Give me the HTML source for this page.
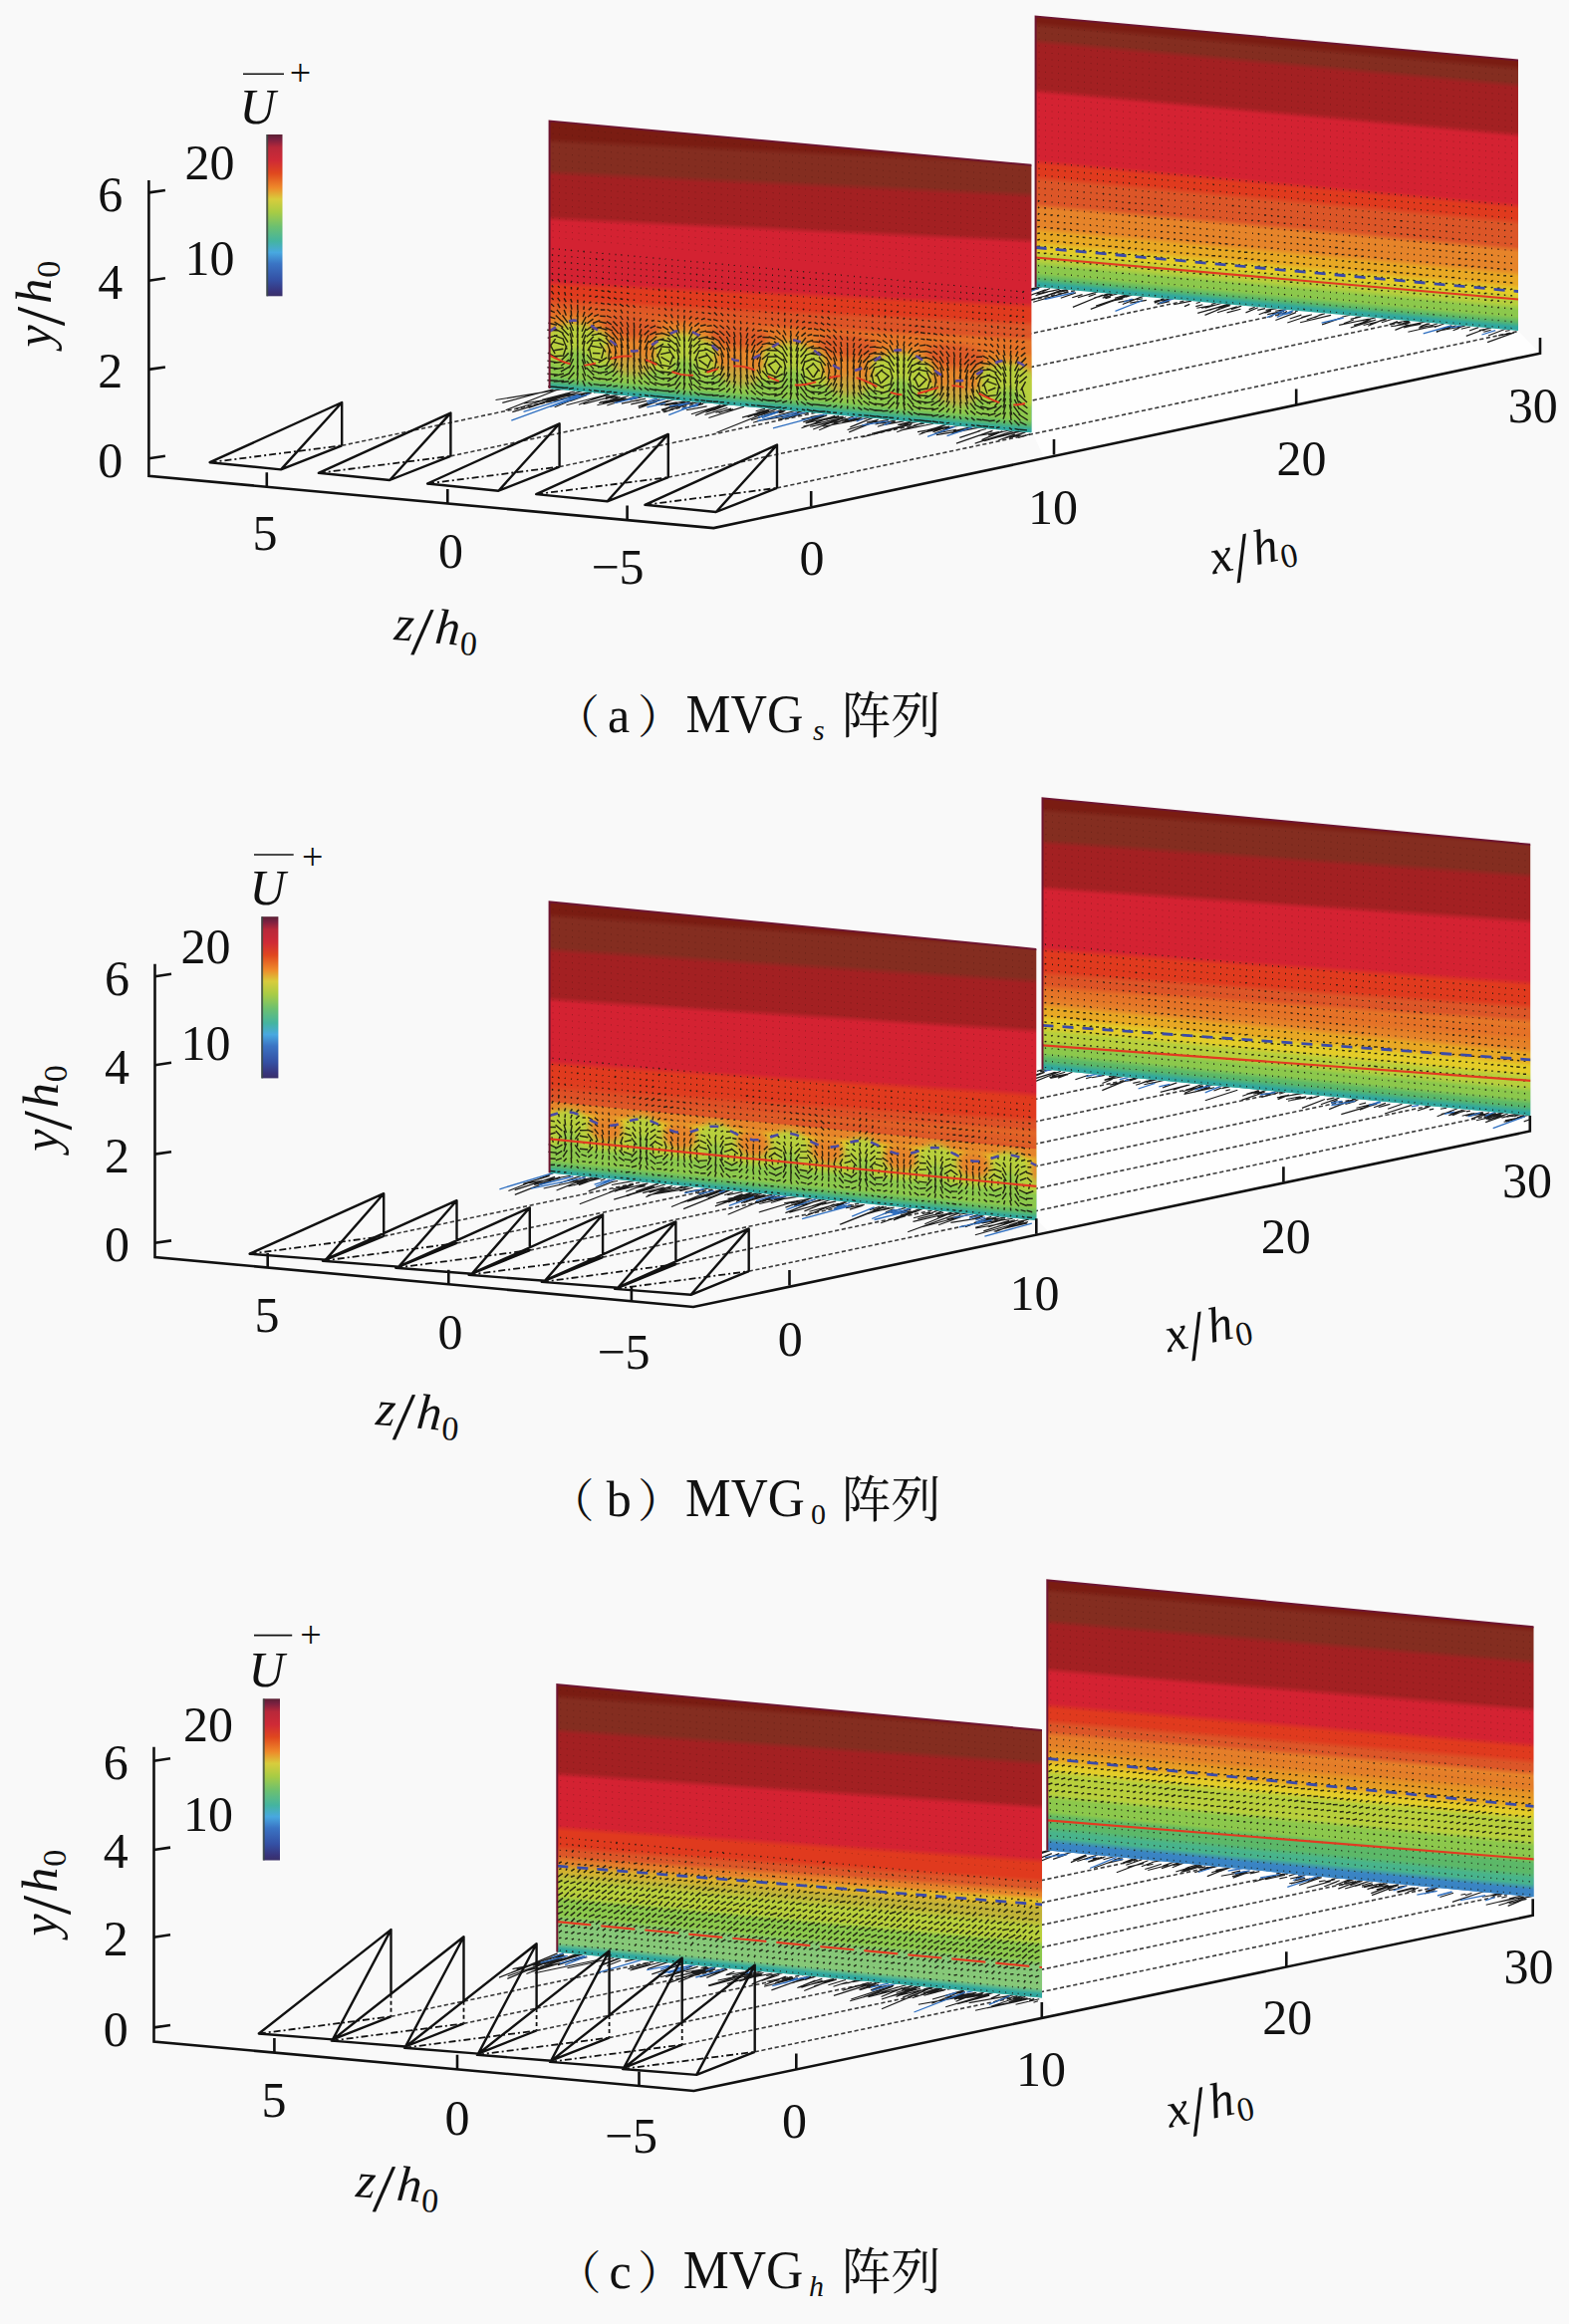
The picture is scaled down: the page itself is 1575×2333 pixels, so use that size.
<!DOCTYPE html>
<html lang="zh"><head><meta charset="utf-8"><title>MVG arrays</title>
<style>
html,body{margin:0;padding:0;background:#f9f9f9}
svg{display:block}
text{font-family:"Liberation Serif","Noto Serif CJK SC",serif;fill:#111}
.ax{stroke:#111;stroke-width:2.6;fill:none;stroke-linejoin:miter}
.mv{stroke:#111;stroke-width:2.4;fill:none;stroke-linejoin:round}
.mh{stroke:#111;stroke-width:1.8;fill:none;stroke-dasharray:4 3}
.md{stroke:#111;stroke-width:1.8;fill:none;stroke-dasharray:7 3 2 3}
.dd{stroke:#3a3a3a;stroke-width:1.6;fill:none;stroke-dasharray:4.2 2.6}
.q{stroke:#15150c;stroke-width:1.45;fill:none;opacity:.9}
.q2{stroke:#40100c;stroke-width:1.1;fill:none;opacity:.35}
.sk{stroke:#1c1c1c;stroke-width:1.15;fill:none}
.sb{stroke:#2f6fc0;stroke-width:1.3;fill:none}
</style></head><body>
<svg width="1575" height="2333" viewBox="0 0 1575 2333">
<rect width="1575" height="2333" fill="#f9f9f9"/>
<defs>
<linearGradient id="ga2" gradientUnits="userSpaceOnUse" x1="0" y1="0" x2="0" y2="271.5"><stop offset="0.000" stop-color="#7a1c12"/><stop offset="0.018" stop-color="#7a1c12"/><stop offset="0.041" stop-color="#842d20"/><stop offset="0.081" stop-color="#842d20"/><stop offset="0.103" stop-color="#a32022"/><stop offset="0.265" stop-color="#a32022"/><stop offset="0.287" stop-color="#d42232"/><stop offset="0.527" stop-color="#d42232"/><stop offset="0.549" stop-color="#e03a1e"/><stop offset="0.586" stop-color="#e03a1e"/><stop offset="0.608" stop-color="#dc5628"/><stop offset="0.689" stop-color="#dc5628"/><stop offset="0.711" stop-color="#e6842a"/><stop offset="0.777" stop-color="#e6842a"/><stop offset="0.799" stop-color="#e8a824"/><stop offset="0.829" stop-color="#e8a824"/><stop offset="0.851" stop-color="#e4cc28"/><stop offset="0.866" stop-color="#e4cc28"/><stop offset="0.888" stop-color="#b8cf3c"/><stop offset="0.902" stop-color="#b8cf3c"/><stop offset="0.924" stop-color="#8cc84c"/><stop offset="0.947" stop-color="#8cc84c"/><stop offset="0.969" stop-color="#5cb868"/><stop offset="0.965" stop-color="#5cb868"/><stop offset="0.987" stop-color="#30a8a0"/><stop offset="1.000" stop-color="#30a8a0"/></linearGradient>
<linearGradient id="ta1" gradientUnits="userSpaceOnUse" x1="0" y1="0" x2="12.2" y2="267.9"><stop offset="0.000" stop-color="#7a1c12"/><stop offset="0.063" stop-color="#7a1c12"/><stop offset="0.086" stop-color="#842d20"/><stop offset="0.182" stop-color="#842d20"/><stop offset="0.205" stop-color="#a32022"/><stop offset="0.354" stop-color="#a32022"/><stop offset="0.376" stop-color="#d42232"/><stop offset="0.596" stop-color="#d42232"/><stop offset="0.618" stop-color="#e03a1e"/><stop offset="0.663" stop-color="#e03a1e"/><stop offset="0.685" stop-color="#dc5628"/><stop offset="0.723" stop-color="#dc5628"/><stop offset="0.745" stop-color="#e6842a"/><stop offset="0.786" stop-color="#e6842a"/><stop offset="0.808" stop-color="#e4cc28"/><stop offset="0.816" stop-color="#e4cc28"/><stop offset="0.838" stop-color="#b8cf3c"/><stop offset="0.883" stop-color="#b8cf3c"/><stop offset="0.905" stop-color="#8cc84c"/><stop offset="0.950" stop-color="#8cc84c"/><stop offset="0.972" stop-color="#5cb868"/><stop offset="0.968" stop-color="#5cb868"/><stop offset="0.991" stop-color="#30a8a0"/><stop offset="1.000" stop-color="#30a8a0"/></linearGradient>
<linearGradient id="ga1" gradientUnits="userSpaceOnUse" x1="0" y1="0" x2="0" y2="268.5"><stop offset="0.626" stop-color="#e03a1e" stop-opacity="0"/><stop offset="0.745" stop-color="#e6842a" stop-opacity="1"/><stop offset="0.786" stop-color="#e6842a"/><stop offset="0.808" stop-color="#e4cc28"/><stop offset="0.816" stop-color="#e4cc28"/><stop offset="0.838" stop-color="#b8cf3c"/><stop offset="0.883" stop-color="#b8cf3c"/><stop offset="0.905" stop-color="#8cc84c"/><stop offset="0.950" stop-color="#8cc84c"/><stop offset="0.972" stop-color="#5cb868"/><stop offset="0.968" stop-color="#5cb868"/><stop offset="0.991" stop-color="#30a8a0"/><stop offset="1.000" stop-color="#30a8a0"/></linearGradient>
<linearGradient id="tb2" gradientUnits="userSpaceOnUse" x1="0" y1="0" x2="7.2" y2="271.8"><stop offset="0.000" stop-color="#7a1c12"/><stop offset="0.033" stop-color="#7a1c12"/><stop offset="0.055" stop-color="#842d20"/><stop offset="0.151" stop-color="#842d20"/><stop offset="0.173" stop-color="#a32022"/><stop offset="0.320" stop-color="#a32022"/><stop offset="0.342" stop-color="#d42232"/><stop offset="0.548" stop-color="#d42232"/><stop offset="0.570" stop-color="#e03a1e"/><stop offset="0.636" stop-color="#e03a1e"/><stop offset="0.658" stop-color="#dc5628"/><stop offset="0.688" stop-color="#dc5628"/><stop offset="0.710" stop-color="#e6842a"/><stop offset="0.754" stop-color="#e6842a"/><stop offset="0.776" stop-color="#e8a824"/><stop offset="0.798" stop-color="#e8a824"/><stop offset="0.820" stop-color="#e4cc28"/><stop offset="0.842" stop-color="#e4cc28"/><stop offset="0.864" stop-color="#b8cf3c"/><stop offset="0.893" stop-color="#b8cf3c"/><stop offset="0.915" stop-color="#8cc84c"/><stop offset="0.938" stop-color="#8cc84c"/><stop offset="0.960" stop-color="#5cb868"/><stop offset="0.967" stop-color="#5cb868"/><stop offset="0.989" stop-color="#30a8a0"/><stop offset="1.000" stop-color="#30a8a0"/></linearGradient>
<linearGradient id="gb2" gradientUnits="userSpaceOnUse" x1="0" y1="0" x2="0" y2="272"><stop offset="0.643" stop-color="#e03a1e" stop-opacity="0"/><stop offset="0.754" stop-color="#e6842a" stop-opacity="1"/><stop offset="0.776" stop-color="#e8a824"/><stop offset="0.798" stop-color="#e8a824"/><stop offset="0.820" stop-color="#e4cc28"/><stop offset="0.842" stop-color="#e4cc28"/><stop offset="0.864" stop-color="#b8cf3c"/><stop offset="0.893" stop-color="#b8cf3c"/><stop offset="0.915" stop-color="#8cc84c"/><stop offset="0.938" stop-color="#8cc84c"/><stop offset="0.960" stop-color="#5cb868"/><stop offset="0.967" stop-color="#5cb868"/><stop offset="0.989" stop-color="#30a8a0"/><stop offset="1.000" stop-color="#30a8a0"/></linearGradient>
<linearGradient id="tb1" gradientUnits="userSpaceOnUse" x1="0" y1="0" x2="8.9" y2="271.7"><stop offset="0.000" stop-color="#7a1c12"/><stop offset="0.040" stop-color="#7a1c12"/><stop offset="0.062" stop-color="#842d20"/><stop offset="0.165" stop-color="#842d20"/><stop offset="0.188" stop-color="#a32022"/><stop offset="0.349" stop-color="#a32022"/><stop offset="0.371" stop-color="#d42232"/><stop offset="0.585" stop-color="#d42232"/><stop offset="0.607" stop-color="#e03a1e"/><stop offset="0.680" stop-color="#e03a1e"/><stop offset="0.702" stop-color="#dc5628"/><stop offset="0.717" stop-color="#dc5628"/><stop offset="0.739" stop-color="#e6842a"/><stop offset="0.761" stop-color="#e6842a"/><stop offset="0.783" stop-color="#e4cc28"/><stop offset="0.790" stop-color="#e4cc28"/><stop offset="0.812" stop-color="#b8cf3c"/><stop offset="0.886" stop-color="#b8cf3c"/><stop offset="0.908" stop-color="#8cc84c"/><stop offset="0.952" stop-color="#8cc84c"/><stop offset="0.974" stop-color="#5cb868"/><stop offset="0.971" stop-color="#5cb868"/><stop offset="0.993" stop-color="#30a8a0"/><stop offset="1.000" stop-color="#30a8a0"/></linearGradient>
<linearGradient id="gb1" gradientUnits="userSpaceOnUse" x1="0" y1="0" x2="0" y2="272"><stop offset="0.625" stop-color="#e03a1e" stop-opacity="0"/><stop offset="0.735" stop-color="#dc5628" stop-opacity="1"/><stop offset="0.739" stop-color="#e6842a"/><stop offset="0.761" stop-color="#e6842a"/><stop offset="0.783" stop-color="#e4cc28"/><stop offset="0.790" stop-color="#e4cc28"/><stop offset="0.812" stop-color="#b8cf3c"/><stop offset="0.886" stop-color="#b8cf3c"/><stop offset="0.908" stop-color="#8cc84c"/><stop offset="0.952" stop-color="#8cc84c"/><stop offset="0.974" stop-color="#5cb868"/><stop offset="0.971" stop-color="#5cb868"/><stop offset="0.993" stop-color="#30a8a0"/><stop offset="1.000" stop-color="#30a8a0"/></linearGradient>
<linearGradient id="tc2" gradientUnits="userSpaceOnUse" x1="0" y1="0" x2="3.9" y2="270.9"><stop offset="0.000" stop-color="#7a1c12"/><stop offset="0.026" stop-color="#7a1c12"/><stop offset="0.048" stop-color="#842d20"/><stop offset="0.144" stop-color="#842d20"/><stop offset="0.166" stop-color="#a32022"/><stop offset="0.321" stop-color="#a32022"/><stop offset="0.343" stop-color="#d42232"/><stop offset="0.454" stop-color="#d42232"/><stop offset="0.476" stop-color="#e03a1e"/><stop offset="0.513" stop-color="#e03a1e"/><stop offset="0.535" stop-color="#dc5628"/><stop offset="0.557" stop-color="#dc5628"/><stop offset="0.579" stop-color="#e6842a"/><stop offset="0.624" stop-color="#e6842a"/><stop offset="0.646" stop-color="#e8a824"/><stop offset="0.664" stop-color="#e8a824"/><stop offset="0.686" stop-color="#e4cc28"/><stop offset="0.697" stop-color="#e4cc28"/><stop offset="0.720" stop-color="#b8cf3c"/><stop offset="0.790" stop-color="#b8cf3c"/><stop offset="0.812" stop-color="#8cc84c"/><stop offset="0.856" stop-color="#8cc84c"/><stop offset="0.878" stop-color="#5cb868"/><stop offset="0.911" stop-color="#5cb868"/><stop offset="0.934" stop-color="#48b48c"/><stop offset="0.952" stop-color="#48b48c"/><stop offset="0.974" stop-color="#3a84c4"/><stop offset="1.000" stop-color="#3a84c4"/></linearGradient>
<linearGradient id="gc2" gradientUnits="userSpaceOnUse" x1="0" y1="0" x2="0" y2="271"><stop offset="0.554" stop-color="#dc5628" stop-opacity="0"/><stop offset="0.664" stop-color="#e8a824" stop-opacity="1"/><stop offset="0.686" stop-color="#e4cc28"/><stop offset="0.697" stop-color="#e4cc28"/><stop offset="0.720" stop-color="#b8cf3c"/><stop offset="0.790" stop-color="#b8cf3c"/><stop offset="0.812" stop-color="#8cc84c"/><stop offset="0.856" stop-color="#8cc84c"/><stop offset="0.878" stop-color="#5cb868"/><stop offset="0.911" stop-color="#5cb868"/><stop offset="0.934" stop-color="#48b48c"/><stop offset="0.952" stop-color="#48b48c"/><stop offset="0.974" stop-color="#3a84c4"/><stop offset="1.000" stop-color="#3a84c4"/></linearGradient>
<linearGradient id="tc1" gradientUnits="userSpaceOnUse" x1="0" y1="0" x2="7.2" y2="268.3"><stop offset="0.000" stop-color="#7a1c12"/><stop offset="0.034" stop-color="#7a1c12"/><stop offset="0.056" stop-color="#842d20"/><stop offset="0.160" stop-color="#842d20"/><stop offset="0.182" stop-color="#a32022"/><stop offset="0.324" stop-color="#a32022"/><stop offset="0.346" stop-color="#d42232"/><stop offset="0.525" stop-color="#d42232"/><stop offset="0.547" stop-color="#e03a1e"/><stop offset="0.600" stop-color="#e03a1e"/><stop offset="0.622" stop-color="#dc5628"/><stop offset="0.637" stop-color="#dc5628"/><stop offset="0.659" stop-color="#e6842a"/><stop offset="0.667" stop-color="#e6842a"/><stop offset="0.689" stop-color="#e4cc28"/><stop offset="0.700" stop-color="#e4cc28"/><stop offset="0.723" stop-color="#b8cf3c"/><stop offset="0.786" stop-color="#b8cf3c"/><stop offset="0.808" stop-color="#8cc84c"/><stop offset="0.860" stop-color="#8cc84c"/><stop offset="0.883" stop-color="#86c878"/><stop offset="0.965" stop-color="#86c878"/><stop offset="0.987" stop-color="#30a8a0"/><stop offset="1.000" stop-color="#30a8a0"/></linearGradient>
<linearGradient id="gc1" gradientUnits="userSpaceOnUse" x1="0" y1="0" x2="0" y2="268.5"><stop offset="0.633" stop-color="#dc5628" stop-opacity="0"/><stop offset="0.737" stop-color="#b8cf3c" stop-opacity="1"/><stop offset="0.786" stop-color="#b8cf3c"/><stop offset="0.808" stop-color="#8cc84c"/><stop offset="0.860" stop-color="#8cc84c"/><stop offset="0.883" stop-color="#86c878"/><stop offset="0.965" stop-color="#86c878"/><stop offset="0.987" stop-color="#30a8a0"/><stop offset="1.000" stop-color="#30a8a0"/></linearGradient>
<filter id="bl" x="-30%" y="-30%" width="160%" height="160%"><feGaussianBlur stdDeviation="3.2"/></filter>
<filter id="bl2" x="-30%" y="-30%" width="160%" height="160%"><feGaussianBlur stdDeviation="1.6"/></filter>
<clipPath id="cpa1"><rect width="483.8" height="268.5"/></clipPath>
<clipPath id="cpb1"><rect width="488.7" height="272"/></clipPath>
<clipPath id="cpc1"><rect width="486.7" height="268.5"/></clipPath>
<linearGradient id="cb" x1="0" y1="0" x2="0" y2="1"><stop offset="0.00" stop-color="#5a2034"/><stop offset="0.03" stop-color="#7a2040"/><stop offset="0.08" stop-color="#b8283a"/><stop offset="0.16" stop-color="#cf2a36"/><stop offset="0.24" stop-color="#e0481e"/><stop offset="0.33" stop-color="#ee8a2a"/><stop offset="0.40" stop-color="#d8cc3c"/><stop offset="0.48" stop-color="#a8cc44"/><stop offset="0.57" stop-color="#6cc070"/><stop offset="0.66" stop-color="#44b4a0"/><stop offset="0.73" stop-color="#48a8e0"/><stop offset="0.80" stop-color="#3a74c4"/><stop offset="0.90" stop-color="#3450a4"/><stop offset="0.97" stop-color="#38347c"/><stop offset="1.00" stop-color="#3a3068"/></linearGradient>
</defs>
<g id="panel-a">
<polygon points="1036.4,284 1039.6,288 1524,332 1546,354.7 1048.4,459.9 1036.4,434.3" fill="#fefefe"/>
<path d="M343.2 447.3 L1079.6 291.6" class="dd"/>
<path d="M452.4 457.9 L1191.2 301.8" class="dd"/>
<path d="M561.6 468.6 L1302.8 311.9" class="dd"/>
<path d="M670.8 479.2 L1414.4 322" class="dd"/>
<path d="M780 489.9 L1524 332.6" class="dd"/>
<path d="M1046 287.7l-11 2.6M1511.8 330l-17.9 7M1173 301.9l-6.6 1.8M1116.5 294.6l-8.8 2.9M1262.8 308.8l-12.3 5.1M1043.2 289.4l-12.7 2.9M1323 317.3l-3.4 1.4M1438.9 326.3l-14.6 2.6M1449.5 325l-9.6 3.5M1306.4 316.1l-11.7 3.9M1132.9 296l-32.8 11M1231.7 305.6l-13.4 4.1M1218.3 306.7l-8.3 2.6M1358.9 321l-10.2 3.8M1415.6 323.6l-5.8 1.8M1391.7 320.8l-23.1 5.7M1071.1 290.5l-8.4 1.7M1372.6 322.2l-13.3 4.4M1220.7 303.9l-4.8 1.6M1115 298.1l-5.5 1.5M1146.9 299.7l-6 1.3M1461.7 326.7l-9.7 3.3M1281.7 309.6l-11.1 1.8M1049.6 290.8l-25.5 9.3M1174 302.8l-11.8 2.5M1235.4 305.6l-6.2 2.1M1058.6 291.6l-17.9 3.1M1207.3 305.8l-7 1.8M1368.4 317.2l-8 1.4M1072.2 291.5l-13.7 2.7M1068.5 291.5l-10.5 2.5M1470.3 326.8l-6.2 2.3M1438.5 327.5l-25.1 5.7M1470.7 327.3l-28.8 5.2M1496.7 331.3l-7.4 2M1355.1 316.3l-8 1.9M1420.4 325.3l-3.7 0.7M1476 328l-9.2 2.2M1233.6 306.5l-24.1 9.9M1515.6 331.5l-4.5 1M1042.6 288.3l-15.8 3.3M1234 304.8l-19.5 6.4M1064.7 291.6l-20.5 7.2M1457.4 326.9l-15.6 6.5M1374.1 320.4l-12.6 2.3M1453.5 328.3l-4.9 1.4M1373.3 320.3l-29.2 6.1M1131.7 295.5l-12.7 3.8M1176.5 299.8l-18.1 3.1M1227.7 307.1l-25.5 7.3M1422.3 325.8l-13.2 3.2M1381.2 321l-25.4 8M1063.6 290.4l-12.2 2.6M1213.6 307.7l-7.5 1.6M1285.7 312.7l-8.5 3.5M1517.6 334.2l-13.5 2.7M1112.1 294.8l-9.6 3.5M1520 333.9l-26.9 9.7M1195.9 302.1l-17.7 3.7M1148.8 296.9l-22 8.6M1106.9 296l-30 12.4M1402.9 322.6l-8.2 3.3M1221.7 305.8l-20.4 3.5M1487.4 331.5l-15.6 5.9M1415.7 321.5l-21 3.7M1229.5 307.1l-6.8 2.1M1275.9 312.3l-6.3 1.9M1060.5 293.9l-28.7 8.1M1070.2 291.1l-10.6 2M1336.1 316.4l-31 7.3M1133.5 296.7l-21.9 7.3M1102 292.9l-20.1 5.8M1121.4 295.3l-7.8 1.3M1125.9 298.7l-31.1 11.7M1292.1 312.6l-5.8 2.4M1443.1 324.8l-6.1 1.9M1194.2 305.4l-5.3 2.2M1412.1 325.2l-15.9 2.6M1241.8 307.7l-19.9 6.1M1072.2 292.9l-35 10.3M1259.7 308.3l-6 2.3M1235.1 305.1l-9.2 3.9M1270 309.6l-7.7 1.8M1080 293.9l-15.2 5.4M1426.3 325.4l-11.3 2.1M1168.4 300.3l-9.4 3.8M1496.9 329.3l-12.1 2.3M1168.4 299.5l-3.6 1.3M1329.9 314.8l-18.2 6.2M1464.7 329.4l-6.1 2.4M1327.6 315.2l-4.1 1.3M1433.4 324.7l-7.9 3.2M1377.4 322.1l-18.3 4.2M1422.4 325.1l-9 2.1M1150.9 301.4l-16.6 2.7M1316.9 315.8l-24.6 8.2M1375.9 320.7l-7.9 2.5M1121 295l-14.3 4.1M1138 300.5l-15.5 3.1M1366.2 318l-10.5 2.4M1234.7 306.7l-13.9 4.6M1416.6 325.9l-6.8 2.2M1287.2 314.4l-4.1 1M1204.8 303.3l-4.1 1.2M1289.1 312.1l-16.9 3.5M1052.3 292.9l-12.7 3.6M1398.7 320l-11.9 3.8M1387.7 321l-12.6 5M1226.9 304.2l-10.5 3M1136.6 296l-6.5 2.2M1100.2 295l-7.5 2.6M1245.5 310.3l-13.9 3.6M1114.7 294.3l-16.4 4.7M1414.7 322.6l-14.2 4.6M1286.8 313.3l-5.2 1.3M1054.1 289.5l-7.7 3.1M1229.6 308.5l-3.7 1.1M1413.7 325.9l-13.3 5.5M1380.7 318.9l-8 1.9M1484.2 328.6l-9.2 3.4M1435.3 324.9l-7.7 2M1495.2 328.9l-7.2 3M1164.2 301.4l-5 0.9M1290.8 310.6l-10.6 1.7M1431.2 322.8l-13.2 3.1M1391.3 319.8l-18.1 7.5M1346.9 318.9l-19.8 7M1173.5 300.3l-12.2 5M1276.2 311.2l-12.5 4.5M1428.8 323.5l-5.1 1.5M1127.4 299.9l-14.4 2.7M1445.5 326.8l-21.3 3.5M1246.2 307.1l-10.3 3.6M1315 316.2l-8.8 2.3M1301.1 313.6l-20.7 7.9M1086.5 295.6l-10.3 3.1" class="sk"/><path d="M1456.5 327l-27.8 7.8M1289.8 313.5l-6 1.9M1136.6 300l-8.5 3.1M1348.7 319l-22.1 5.2M1042.4 289.5l-31.2 12.4M1501.2 331.7l-13.7 4.3M1078.6 293.5l-30 7.2M1178.2 299.9l-14.4 4.5M1459.2 328.2l-3.4 0.6M1146.9 301.5l-27.4 10.9M1292.5 310.2l-20.9 8.5M1470 326.2l-10.6 2.4M1296.4 313.9l-7.1 1.7M1298.4 311.6l-16.6 6.8" class="sb"/>
<g transform="matrix(1 0.09083 0 1 1039.6 16.5)">
<rect width="484.4" height="271.5" fill="url(#ga2)"/>
<path d="M3 269.5h.9M9.7 270l-0.3 -0.9M16 269.5h.9M22.5 269.5h.9M29 269.5h.9M35.5 269.5h.9M42 269.5h.9M48.5 269.5h.9M55 269.5h.9M61.5 269.5h.9M68 269.5h.9M74 269.6l0.9 -0.2M81 269.5h.9M87.1 269.1l0.9 0.8M94 269.5h.9M100.2 269.2l0.6 0.5M107 269.5h.9M113.5 269.5h.9M119.6 270l0.8 -1.1M126.5 269.5h.9M133.1 269l-0.2 1.1M139.5 269.5h.9M146 269.5h.9M152.6 269.1l-0.3 0.8M158.7 269.7l0.7 -0.4M165.5 269.5h.9M172 269.5h.9M178.5 269.5h.9M185 269.5h.9M191.1 269.6l0.8 -0.2M197.7 269.8l0.7 -0.7M204.5 269.5h.9M211.2 269.1l-0.4 0.8M217.2 269.2l0.6 0.5M224 269.5h.9M230.5 269.5h.9M236.6 269.6l0.8 -0.2M243.5 269.5h.9M250 269.5h.9M256.5 269.5h.9M263 269.5h.9M268.8 269l1.4 1M276 269.5h.9M282.5 269.5h.9M289 269.5h.9M295.5 269.5h.9M301.8 269.9l0.4 -0.8M308.5 269.5h.9M315 269.5h.9M321.2 269.1l0.6 0.9M327.9 269.8l0.3 -0.6M334.4 269.1l0.3 0.8M341 269.5h.9M347.1 269.6l0.8 -0.3M354 269.5h.9M360.2 269.8l0.5 -0.5M367 269.5h.9M373.8 269.3l-0.6 0.5M379.7 269.9l0.5 -0.7M386.5 269.5h.9M393 269.5h.9M399.1 269.2l0.7 0.7M405.8 269.8l0.4 -0.7M412.7 269.1l-0.4 0.8M419 269.5h.9M425.5 269.5h.9M432 269.5h.9M438.5 269.5h.9M445 269.5h.9M451.7 269l-0.4 1M458 269.5h.9M464.5 269.5h.9M471 269.5h.9M477.2 269.8l0.5 -0.6M3 263h.9M9 263.1l0.9 -0.2M15.7 263.4l0.7 -0.7M22.5 263h.9M29 263h.9M35.2 263.6l0.6 -1.1M42 263h.9M48.1 263l0.8 -0.1M55 263h.9M61.2 262.7l0.7 0.6M67.5 263.4l1 -0.8M74.5 263h.9M81 263h.9M87.5 263h.9M94 263h.9M100.5 263h.9M106.5 263.2l1.1 -0.4M113.5 263h.9M119.5 263.4l1 -0.9M126 263.1l1 -0.1M133 263h.9M139.5 263h.9M146 263h.9M152.5 263h.9M159 263h.9M165.5 263h.9M172 263h.9M178.5 263h.9M185.2 262.6l-0.4 0.8M191.5 263h.9M198 263h.9M204.4 263.4l0.1 -0.8M211 263h.9M217.5 263h.9M224 263h.9M230.5 263h.9M237 263h.9M243.5 263h.9M250 263h.9M256.5 263h.9M263 263h.9M269 262.8l0.9 0.4M276 263h.9M282.5 263.4l0 -0.8M289 263h.9M295 263.2l0.9 -0.3M301.9 262.6l0.2 0.9M308.2 263.4l0.6 -0.8M315 263h.9M321.5 263h.9M328.3 263.1l-0.7 -0.2M334.5 263h.9M341 263h.9M347.1 262.8l0.9 0.4M354 263h.9M360.5 263h.9M367 263h.9M373.5 263h.9M379.6 263l0.7 -0.1M386.5 263h.9M393 263h.9M398.9 262.8l1.2 0.4M406 263h.9M412.5 263h.9M419 263h.9M425.5 263h.9M431.5 262.9l0.9 0.3M438.5 263h.9M444.6 263l0.7 0M451.3 262.6l0.4 0.7M458 263h.9M464.1 262.7l0.9 0.6M471 263h.9M476.9 263.1l1.2 -0.1M3.3 256.2l-0.5 0.6M9.5 256.5h.9M15.7 256.8l0.5 -0.5M22.2 256.4l0.6 0.3M29 256.5h.9M35.5 256.5h.9M42 256.5h.9M48.5 256.5h.9M54.8 256.9l0.4 -0.7M61.5 256.5h.9M68 256.5h.9M74.5 256.5h.9M81 256.5h.9M87.3 256.9l0.4 -0.8M94 256.5h.9M100.5 256.5h.9M106.4 256.3l1.3 0.4M113.1 256.8l0.8 -0.5M120 256.5h.9M126.5 256.5h.9M133 256.5h.9M139.2 256.2l0.6 0.6M146 256.5h.9M152.5 256.5h.9M158.6 256.6l0.7 -0.3M165.5 256.5h.9M172 256.5h.9M178.5 256.5h.9M185 256.5h.9M191.5 256.5h.9M198 256.5h.9M204.1 256.4l0.7 0.2M211 256.5h.9M217.5 256.5h.9M223.8 256.8l0.4 -0.7M230.5 256.5h.9M236.6 256.5l0.8 0M243.5 256.5h.9M249.8 257.1l0.3 -1.3M256.5 256.5h.9M263 256.5h.9M269.5 256.5h.9M275.4 256.8l1.2 -0.5M282.5 256.5h.9M289 256.5h.9M295.5 256.5h.9M302 256.5h.9M308.5 256.5h.9M314.7 256.8l0.6 -0.6M321 256.5l1 0M328 256.5h.9M334 256.6l0.9 -0.1M340.6 256.4l0.8 0.3M347.5 256.5h.9M354 256.5h.9M360.5 256.5h.9M367 256.5h.9M373.1 256.7l0.8 -0.3M380 256.5h.9M386.5 256.5h.9M392.4 256.2l1.1 0.6M399.5 256.5h.9M406 256.5h.9M412.5 256.5h.9M419 256.5h.9M425.5 256.5h.9M432 256.5h.9M438.2 256.3l0.6 0.5M445 256.5h.9M451.5 256.5h.9M458 256.5h.9M464.5 256.5h.9M471 256.5h.9M477.5 256.5h.9M2.5 250.2l1 -0.5M9.1 250.1l0.8 -0.2M15.4 250.3l1.2 -0.5M22.1 249.6l0.8 0.9M28.5 250.3l1 -0.5M34.8 250.1l1.5 -0.1M41.3 249.4l1.4 1.2M48.1 250l0.8 0M54.1 250.1l1.8 -0.1M60.5 250.1l2 -0.2M67.6 250l0.8 0M74.2 250.1l0.6 -0.3M80.5 249.9l1 0.2M86.6 250.3l1.7 -0.7M93.6 250.2l0.9 -0.5M100 250l0.9 0M107 250h.9M112.6 250.5l1.7 -0.9M119.5 250.1l1 -0.1M125.8 249.9l1.5 0.1M132.3 249.8l1.3 0.4M138.9 250.3l1.2 -0.5M145.3 250.4l1.4 -0.9M151.8 250l1.5 0M158.8 249.6l0.4 0.7M165.5 250h.9M171.6 250.7l0.8 -1.4M177.9 250.2l1.2 -0.4M184.5 250.1l1 -0.2M190.9 250.4l1.1 -0.7M197.5 250.3l1 -0.6M203.7 250.2l1.6 -0.3M210.4 250.2l1.3 -0.4M216.8 250.3l1.5 -0.6M223.5 250.4l1.1 -0.7M229.8 250.2l1.5 -0.3M236.7 250.5l0.5 -1M242.9 250.3l1.1 -0.5M249.4 250.1l1.1 -0.1M256.5 250h.9M262.5 250.2l1 -0.4M269 250.1l0.9 -0.2M275.3 250.1l1.3 -0.2M282.1 250.2l0.8 -0.4M288.5 249.9l0.9 0.2M295.5 250h.9M301.6 249.7l0.8 0.7M308.5 250h.9M314.6 250.1l0.8 -0.2M320.9 249.9l1.2 0.2M327.2 250.2l1.6 -0.4M334.5 250h.9M340.7 250.2l0.6 -0.5M346.7 249.8l1.7 0.3M353.5 249.9l1 0.2M360.5 250h.9M366.3 250l1.3 0.1M373.1 249.9l0.8 0.3M379.6 250.1l0.7 -0.1M386 250.3l0.9 -0.5M392.5 250.1l1.1 -0.2M399 250.2l1.1 -0.5M405.4 249.8l1.3 0.3M412 250.2l1 -0.4M418.6 249.8l0.7 0.3M425.5 250h.9M431.5 250.1l0.9 -0.2M437.9 249.7l1.2 0.5M444.4 250.3l1.2 -0.6M450.5 250.1l2.1 -0.1M457.4 249.8l1.3 0.5M463.8 250.4l1.4 -0.9M470.5 250l1.1 0M476.7 249.9l1.6 0.2M1.8 243.5l2.3 0M8.6 243.8l1.8 -0.5M15.2 243.6l1.7 -0.1M21.9 244l1.1 -0.9M28.1 243.5l1.7 0M35 243.8l1 -0.6M40.9 243.6l2.1 -0.3M47.8 243.8l1.4 -0.5M54.1 243.9l1.8 -0.8M60.7 243.5l1.5 0M67.2 243.4l1.6 0.2M73.9 243.6l1.2 -0.1M80.2 243.7l1.6 -0.4M87 243.6l1.1 -0.2M92.8 243.3l2.5 0.3M99.7 243.6l1.5 -0.2M106 243.5l1.9 -0.1M112.2 243.6l2.6 -0.2M119.1 243.7l1.8 -0.4M125.4 243.8l2.2 -0.5M132.5 243.7l1.1 -0.4M138.8 243.9l1.4 -0.8M145.1 243.7l1.8 -0.5M151.7 243.5l1.6 0M158 243.8l2 -0.7M164.3 243.6l2.5 -0.2M171 243.4l2 0.1M177.6 243.7l1.8 -0.3M184.4 243.5l1.1 -0.1M190.7 243.6l1.6 -0.3M197.3 243.6l1.4 -0.3M203.7 243.6l1.6 -0.2M210.6 243.7l0.9 -0.4M216.3 243.7l2.3 -0.3M223.2 243.5l1.7 0M229.8 243.5l1.3 0M236.4 243.7l1.1 -0.4M242.9 243.7l1.3 -0.5M249.1 243.4l1.7 0.3M255.2 243.6l2.6 -0.2M262.1 243.6l1.7 -0.1M268.9 243.6l1.2 -0.3M275.1 243.2l1.8 0.5M281.7 243.7l1.6 -0.4M287.8 243.3l2.3 0.5M294.8 243.9l1.3 -0.8M301.4 243.8l1.3 -0.6M307.9 243.5l1.2 0.1M314.1 243.6l1.9 -0.2M320.9 243.7l1.1 -0.4M327 243.7l2 -0.3M333.3 243.4l2.5 0.1M339.9 243.7l2.2 -0.5M346.5 243.8l1.9 -0.6M353.3 243.6l1.5 -0.2M360 243.5l1.1 0M366.3 243.9l1.3 -0.7M372.8 243.7l1.4 -0.4M379.2 244.1l1.6 -1.3M385.8 243.5l1.3 0.1M392 243.3l1.9 0.4M398.7 243.5l1.7 0.1M405.3 243.6l1.3 -0.3M411.3 243.9l2.5 -0.7M418 243.8l2 -0.6M424.6 243.6l1.8 -0.1M431.2 243.7l1.7 -0.3M437.6 243.9l1.8 -0.7M444.4 243.4l1.1 0.2M450.4 243.5l2.2 0.1M457 244.2l2 -1.5M463.5 243.7l2 -0.4M470.3 243.7l1.5 -0.4M476.5 244.3l1.9 -1.5M1.8 237.2l2.4 -0.4M8.2 237.2l2.6 -0.5M14.7 237.3l2.5 -0.6M21.5 237.4l2.1 -0.8M28 237.1l1.9 -0.1M34.5 237.2l2 -0.4M41.1 237.3l1.9 -0.7M47.4 237.2l2.2 -0.5M54 237.2l1.9 -0.4M60.3 237.1l2.4 -0.2M67 237.2l2 -0.5M73.4 237.1l2.2 -0.2M79.7 237.3l2.5 -0.6M86 237l2.9 0M93.2 237.3l1.7 -0.6M99 237.4l2.9 -0.9M105.9 237.1l2.2 -0.2M112.4 237.1l2.3 -0.3M119.1 237.3l1.8 -0.5M125.6 237.2l1.8 -0.3M132.1 237.2l1.8 -0.3M138.4 237.2l2.2 -0.4M144.9 237l2.1 0.1M151.8 237.2l1.4 -0.3M158 237.3l2 -0.6M164.8 237.4l1.4 -0.7M171 237l1.9 0.1M177.6 237.1l1.7 -0.2M183.7 237.1l2.5 -0.2M190.4 237l2.2 -0.1M197.2 237.1l1.5 -0.2M203.8 237.2l1.4 -0.4M210 237.6l2 -1.2M216.5 237.5l1.9 -0.9M222.8 237.4l2.4 -0.8M229.4 237.2l2.2 -0.4M235.8 237.5l2.4 -0.9M242.6 236.9l1.8 0.1M249 236.9l1.9 0.2M255.5 237.1l2 -0.2M262.1 237.1l1.8 -0.3M268.2 237.2l2.6 -0.4M274.7 237.1l2.5 -0.3M281.5 236.9l2.1 0.2M287.8 237.3l2.5 -0.5M294.2 237.2l2.6 -0.4M301.1 237.6l1.7 -1.3M307.7 236.8l1.5 0.3M313.9 237l2.3 -0.1M320.8 237.3l1.5 -0.6M327.2 237.6l1.7 -1.2M333.1 237.7l2.9 -1.3M340.1 237.4l1.8 -0.8M346.6 237.1l1.8 -0.2M353 237.2l2 -0.3M359.4 237.1l2.3 -0.2M365.6 236.9l2.7 0.2M372.3 236.8l2.3 0.3M378.8 237.4l2.4 -0.8M385.1 237.3l2.8 -0.6M391.9 237.1l2.2 -0.1M398.5 237.2l2 -0.5M405.1 237l1.8 0.1M411.2 237.3l2.6 -0.7M417.9 237.2l2.2 -0.3M424.3 237.2l2.3 -0.3M430.9 237.3l2.2 -0.5M437.5 237.1l2 -0.2M443.9 237.1l2.2 -0.1M450.2 237.4l2.6 -0.8M457.1 237.3l1.9 -0.6M463.3 237.2l2.3 -0.4M470.2 237.2l1.5 -0.5M476.6 237.1l1.9 -0.3M1.5 230.8l3 -0.6M8.7 230.9l1.6 -0.9M14.7 230.6l2.6 -0.2M21.4 230.6l2.2 -0.2M27.8 231l2.4 -0.9M33.8 230.6l3.4 -0.3M40.8 231l2.4 -0.9M47.3 230.8l2.3 -0.7M53.9 231.3l2.2 -1.6M60.4 230.8l2.2 -0.6M66.4 230.9l3.2 -0.8M72.9 230.9l3.2 -0.8M79.7 230.9l2.6 -0.8M86.1 230.8l2.9 -0.6M92.6 230.7l2.8 -0.5M99.4 231.1l2.1 -1.2M105.8 231.1l2.5 -1.3M111.9 230.7l3.1 -0.4M118.5 230.9l3 -0.7M125.3 230.4l2.4 0.2M132 230.7l2.1 -0.4M138.5 230.5l2 0.1M145.2 230.7l1.5 -0.4M151.3 230.8l2.3 -0.7M158.2 230.3l1.6 0.3M164 230.6l3.1 -0.3M170.9 230.9l2.2 -0.8M177.6 230.7l1.9 -0.3M183.6 230.8l2.7 -0.6M190.1 230.7l2.8 -0.3M196.5 230.5l3.1 0M203.7 230.7l1.6 -0.5M209.7 230.8l2.6 -0.6M216.7 230.5l1.7 -0.1M222.8 231l2.4 -0.9M229 231.1l3 -1.2M236 230.6l2 -0.3M242.6 230.5l1.8 0.1M249 230.7l1.9 -0.3M255.5 230.7l2 -0.5M261.6 230.6l2.9 -0.2M268.5 230.7l2.1 -0.3M274.9 230.6l2.1 -0.2M281.5 230.7l1.9 -0.4M288 230.8l2 -0.6M294.4 230.9l2.3 -0.9M300.8 230.9l2.4 -0.7M307.4 230.7l2.2 -0.4M313.8 230.6l2.5 -0.3M320.3 231.1l2.5 -1.3M327 230.9l2.1 -0.9M333.2 230.8l2.7 -0.6M339.6 230.7l2.9 -0.3M346.5 230.8l2 -0.7M352.6 230.8l2.7 -0.5M359.1 230.5l2.9 0.1M365.9 231l2.2 -1.1M372.3 230.9l2.4 -0.7M378.7 230.3l2.7 0.4M385.4 231.2l2.2 -1.5M391.8 230.9l2.5 -0.7M398.6 230.7l1.9 -0.4M405.1 230.7l1.9 -0.4M411.3 230.6l2.3 -0.2M418.2 230.9l1.7 -0.8M424.3 230.7l2.4 -0.4M431 231l1.9 -0.9M437.4 231l2.1 -1M443.8 230.7l2.5 -0.4M450.2 230.4l2.6 0.3M457.1 230.7l1.9 -0.5M463.2 230.9l2.7 -0.7M469.7 230.5l2.6 0M476.3 231l2.4 -1.1M1.7 224.5l2.5 -1.1M8.3 224.1l2.3 -0.2M14.9 224.5l2.2 -1.1M21.4 224.5l2.1 -1M27.6 223.9l2.7 0.3M34.2 224.1l2.6 -0.1M40.7 224.4l2.6 -0.9M47.4 223.8l2.1 0.4M53.7 224.1l2.6 -0.3M60.1 224.2l2.8 -0.3M66.8 224.1l2.4 -0.2M72.7 224.3l3.5 -0.6M79.5 224.3l2.9 -0.6M86.2 224l2.6 0.1M92.7 224.8l2.7 -1.6M99.7 224.4l1.7 -0.9M106.1 224.5l1.8 -0.9M112.3 224.3l2.4 -0.6M119.1 224.2l1.7 -0.4M125.1 224.2l2.7 -0.4M131.9 224.3l2.1 -0.7M138.5 224.1l2 -0.3M145.2 224.6l1.6 -1.1M151.3 224.2l2.4 -0.5M157.9 223.9l2.1 0.2M164.1 224l2.7 0M170.7 223.9l2.5 0.1M176.8 224.2l3.5 -0.3M183.6 224.4l2.8 -0.8M190.4 224.3l2.2 -0.6M196.9 224.1l2.2 -0.2M203 224.5l3.1 -1.1M209.6 224.1l2.9 -0.3M216.2 224.5l2.6 -1M222.8 224.2l2.5 -0.5M229.2 224.4l2.6 -0.9M235.9 223.9l2.2 0.1M242.4 224.2l2.2 -0.3M248.9 224.2l2.2 -0.4M255.1 224.1l2.7 -0.3M261.8 224l2.4 0M268.4 224.2l2.1 -0.5M275.1 224.3l1.7 -0.7M281.6 224.1l1.8 -0.2M287.8 224.3l2.4 -0.6M294.4 224.1l2.3 -0.2M300.5 224.3l3.1 -0.5M307.3 224.3l2.4 -0.6M313.7 224.3l2.5 -0.5M320.3 224.1l2.3 -0.2M326.9 224.5l2.2 -0.9M332.8 224.3l3.3 -0.7M339.6 224.2l2.8 -0.4M346.2 224.6l2.6 -1.2M352.6 224.3l2.8 -0.6M359 223.6l3.1 0.8M365.6 224.1l2.9 -0.2M372.2 224.1l2.6 -0.3M378.6 224.2l2.8 -0.5M385 224.1l3.1 -0.1M391.7 224.4l2.5 -0.7M398.5 224.2l2 -0.4M404.8 224.3l2.5 -0.6M411.4 224.3l2.1 -0.7M417.4 224.2l3.2 -0.5M424.6 224.4l1.8 -0.7M431.3 224.2l1.5 -0.4M437.8 224.5l1.5 -1.1M443.7 224.2l2.6 -0.5M450.8 224l1.5 0M457 224.8l2 -1.6M463.5 224.2l1.9 -0.3M469.5 224.2l2.9 -0.5M476.2 224l2.5 0M1.7 217.8l2.6 -0.6M8.6 217.7l1.7 -0.4M14.9 218.1l2.2 -1.1M21.3 217.4l2.5 0.2M27.8 217.8l2.5 -0.7M34.3 217.5l2.3 0M40.9 217.6l2.2 -0.2M47.1 217.4l2.7 0.1M53.7 217.6l2.7 -0.3M60.3 217.5l2.3 -0.1M66.6 217.5l2.7 -0.1M73.6 217.8l1.7 -0.5M79.9 217.8l2.2 -0.6M86.4 218.1l2.2 -1.1M93.2 218.2l1.5 -1.4M99.4 218l2.2 -1M106.2 217.9l1.6 -0.7M112.6 217.9l1.9 -0.8M119.4 217.8l1.3 -0.6M125.9 218.2l1.2 -1.4M132.1 217.6l1.8 -0.1M138.5 217.8l1.9 -0.5M144.7 217.7l2.6 -0.4M151.7 217.5l1.6 0M157.7 217.6l2.5 -0.1M164.1 217.4l2.9 0.1M170.8 217.2l2.5 0.7M177.2 217.7l2.6 -0.5M183.6 217.5l2.8 0M190.2 217.7l2.7 -0.5M196.9 217.7l2.3 -0.4M203.2 218l2.7 -0.9M209.4 217.7l3.3 -0.3M216.4 218l2.3 -1M222.9 218l2.1 -0.9M229.8 218.1l1.4 -1.2M235.8 217.7l2.5 -0.5M242.8 217.6l1.5 -0.2M249.2 217.9l1.6 -0.8M255.6 217.6l1.7 -0.2M261.9 217.5l2.2 0.1M268.7 217.1l1.7 0.8M274.8 217.9l2.3 -0.7M281.4 217.4l2.2 0.2M287.8 217.6l2.4 -0.2M294.9 217.6l1.2 -0.3M301.2 217.7l1.6 -0.4M307.5 218l2.1 -1M314 217.9l2 -0.7M320.2 217.5l2.6 -0.1M326.6 217.7l2.7 -0.4M333.4 217.5l2.3 0M339.7 217.6l2.7 -0.2M346.2 217.7l2.6 -0.4M352.4 217.6l3.1 -0.2M359.3 217.9l2.5 -0.7M365.9 217.8l2.1 -0.6M372.3 217.2l2.4 0.7M378.7 217.5l2.7 0M385.7 217.5l1.6 0M392 217.7l2 -0.3M398.1 217.3l2.8 0.3M405 217.6l2 -0.3M411.6 217.7l1.8 -0.4M418.2 218.1l1.7 -1.3M424.4 217.8l2.1 -0.7M430.9 217.5l2.3 -0.1M437.4 217.7l2.2 -0.4M444 218l2 -1.1M450.2 217.8l2.6 -0.7M456.8 217.7l2.3 -0.3M463.2 217.7l2.6 -0.4M469.6 217.7l2.7 -0.3M476.3 217.6l2.4 -0.3M1.8 211.4l2.4 -0.9M8.4 211.4l2.2 -0.7M14.8 211.3l2.4 -0.6M21.3 211.1l2.5 -0.2M27.9 211.1l2.3 -0.3M34.5 210.6l2 0.9M40.8 210.9l2.3 0.2M47.3 211.1l2.4 -0.1M53.9 210.9l2.3 0.2M60.5 210.6l2.1 0.7M67 210.8l2.1 0.3M73.8 211.2l1.4 -0.3M80.3 211l1.4 0.1M86.8 211l1.4 0M93.1 211.1l1.8 -0.1M99.8 211.5l1.4 -1.1M106.2 211.8l1.6 -1.6M112.5 211.4l2 -0.8M119.4 211.4l1.2 -0.8M125.4 211.4l2.3 -0.8M131.9 211.3l2.2 -0.5M138.5 211.1l2 -0.3M144.8 211l2.4 0M151.1 210.8l2.8 0.4M157.5 210.8l2.9 0.3M164.5 210.9l2.1 0.2M170.9 210.9l2.2 0.1M177.1 211.3l2.7 -0.6M183.7 210.6l2.7 0.8M190.1 211l2.8 -0.1M196.8 211.5l2.3 -1M203.3 211.7l2.5 -1.3M210 211.1l1.9 -0.3M216.8 211.7l1.4 -1.4M223.3 211.3l1.5 -0.7M229.8 211.1l1.3 -0.1M236 211.4l2.1 -0.9M242.7 211.2l1.5 -0.5M249.4 211l1.2 0M255.8 211.2l1.4 -0.3M261.9 210.8l2.1 0.3M268.9 211.1l1.1 -0.2M274.6 210.8l2.7 0.5M281.1 211.1l2.8 -0.2M287.8 210.8l2.3 0.4M294.4 210.9l2.2 0.3M300.7 211.7l2.7 -1.4M307.2 211.2l2.6 -0.3M313.9 211.3l2.2 -0.6M320.2 211.6l2.5 -1.2M326.8 211.3l2.5 -0.7M333.5 211.1l1.9 -0.2M339.9 211.2l2.3 -0.4M346.5 211.2l2 -0.5M352.7 210.9l2.5 0.2M359.5 211.2l2 -0.4M366.3 210.7l1.5 0.6M373 211l1.1 0.1M379.2 211l1.5 -0.1M385.6 211.2l1.7 -0.4M392 211.4l2 -0.8M398.7 211.2l1.5 -0.3M405.4 211l1.3 0.1M411.6 211.1l1.7 -0.1M417.8 211.2l2.4 -0.3M424.2 211.2l2.7 -0.4M430.9 211.5l2.1 -1.1M437.3 211.6l2.5 -1.1M444 211.4l2.1 -0.8M450.4 211.3l2.3 -0.5M457 210.9l2 0.2M463.3 211.1l2.4 -0.2M470 210.8l2 0.4M476.7 210.8l1.6 0.3M1.6 204.7l2.7 -0.4M8.8 204.5l1.3 0M15.2 204.6l1.6 -0.2M21.5 204.8l2.1 -0.6M28.2 204.7l1.7 -0.3M34.6 204.6l1.7 -0.2M41 204.6l2 -0.1M48.1 204.5l0.8 0M54.4 203.9l1.1 1.2M60.9 204.3l1.3 0.4M67.7 204l0.5 0.9M73.9 204.6l1.1 -0.1M80.4 204.6l1.2 -0.2M86.6 204.5l1.7 -0.1M93.5 204.8l1 -0.5M99.6 205l1.7 -1.1M106.5 205l1 -1.1M112.9 205l1.1 -0.9M119.5 204.4l0.9 0.2M125.4 204.8l2.1 -0.5M132.1 204.2l1.7 0.5M138.6 204.4l1.8 0.2M144.8 204.4l2.3 0.1M151.8 204.2l1.3 0.6M158.2 204.2l1.6 0.6M164.7 204.6l1.5 -0.2M170.8 204.4l2.4 0.3M177.8 204.3l1.5 0.4M184.2 205l1.6 -1M190.6 204.7l1.8 -0.5M197.1 204.6l1.8 -0.2M204 204.9l0.9 -0.7M210.7 205l0.6 -1.1M217.1 204.6l0.7 -0.1M223.4 204.7l1.3 -0.4M230.1 205l0.8 -1M236.2 204.5l1.5 0M242.7 204.2l1.5 0.5M249.1 204.5l1.8 0M255.8 204.7l1.4 -0.4M262.2 204l1.7 1M268.6 204.5l1.8 -0.1M274.9 204.7l2.2 -0.4M281.6 204.2l1.8 0.6M288.3 204.4l1.4 0.2M294.6 204.6l1.9 -0.3M300.6 204.6l2.8 -0.2M307.7 204.8l1.5 -0.5M314 204.9l2 -0.9M320.3 204.9l2.4 -0.8M327.1 204.6l1.8 -0.3M333.7 204.9l1.6 -0.9M340.4 205l1.2 -1M346.9 204.7l1.2 -0.5M354 204.5h.9M360 204.3l0.9 0.4M366.5 204.4l1 0.2M373.2 204.1l0.6 0.8M379.4 204.5l1.1 0M385.9 204.4l1.1 0.3M392.5 204.1l1.1 0.8M398.9 204.4l1.1 0.2M405.3 204.2l1.4 0.6M411.9 204.6l1.1 -0.3M418.5 204.5l1.1 0M424.2 204.8l2.5 -0.5M431.1 204.8l1.8 -0.6M437.7 204.8l1.7 -0.6M444.1 204.5l1.9 0M450.5 204.7l2.1 -0.5M457 204.3l2 0.5M463.6 204.3l1.9 0.4M470.2 204.4l1.5 0.2M476.6 204.5l1.7 0M2.2 198.8l1.6 -1.5M8.5 198.4l2.1 -0.8M14.9 198.4l2.2 -0.8M21.5 198.3l2 -0.6M28.5 198.2l1.1 -0.3M34.8 198.1l1.5 -0.1M41.3 198l1.4 0.1M48.5 198h.9M54.9 197.5l0.3 1M60.8 198l1.4 0M67.5 197.6l1.1 0.8M74 197.9l0.9 0.3M80.5 198.2l1 -0.4M86.8 198l1.4 0M93.2 198.4l1.5 -0.8M99.8 198l1.3 -0.1M106.6 197.9l0.9 0.1M113 198.4l0.9 -0.8M119.5 198.1l1 -0.1M125.5 198l1.9 -0.1M132 198.3l2 -0.6M138.7 198.1l1.6 -0.2M144.9 197.9l2.2 0.3M151.4 197.8l2.1 0.4M158.2 198l1.7 0.1M164.8 197.8l1.3 0.5M171.3 198l1.5 -0.1M178.2 198.1l0.7 -0.3M184.5 198l1 -0.1M190.8 197.9l1.3 0.2M198 198h.9M204.2 198.3l0.7 -0.7M211 198.4l0 -0.7M217.5 198h.9M223.2 198.5l1.5 -0.9M230.1 198.4l0.8 -0.7M236.3 197.6l1.3 0.8M243.1 198.1l0.9 -0.3M249.2 197.7l1.6 0.6M255.6 197.9l1.7 0.2M262.2 197.8l1.6 0.4M268.2 197.9l2.5 0.1M274.9 197.5l2.2 1M281.6 198l1.7 -0.1M288 197.9l1.9 0.1M294.8 198.1l1.4 -0.3M301.2 197.8l1.6 0.3M307.2 198.2l2.5 -0.4M315 198h.9M321.1 198.2l0.9 -0.4M327.7 198.2l0.6 -0.5M333.8 198l1.4 0M340.4 198.3l1.1 -0.6M347.5 198h.9M353.6 198.1l0.9 -0.3M360 198l0.9 0M367 198h.9M373.5 198h.9M379.3 197.9l1.3 0.1M385.7 198l1.7 0M392.1 198l1.7 0.1M398.4 198l2.2 0M404.9 198l2.2 0M411.8 198.2l1.3 -0.5M418.1 198.2l1.8 -0.3M424.7 198.5l1.6 -0.9M431 198.5l2 -0.9M437.7 198.3l1.6 -0.6M444.4 198l1.3 -0.1M450.6 198.2l1.8 -0.5M457.3 198.2l1.4 -0.4M464.1 198.2l0.9 -0.3M470.5 197.8l1 0.4M477.5 198h.9M2.5 192.1l1.1 -1.1M8.6 191.4l1.8 0.2M15.5 191.5l1.1 0.1M22.1 191.6l0.7 -0.2M28.7 191.6l0.7 -0.3M35.1 191.1l0.9 0.9M41.9 191.1l0.1 0.8M48.5 191.5h.9M55 191.5h.9M61.5 191.5h.9M68 191.5h.9M74.5 191.5h.9M80.3 191.7l1.3 -0.4M86.9 191.7l1.2 -0.4M93.5 192.2l1.1 -1.3M99.7 191.5l1.7 -0.1M106.1 192l1.7 -1M112.8 192l1.5 -1M119.2 192l1.7 -0.9M125.6 191.5l1.8 0.1M132.1 191.8l1.8 -0.6M139.1 191.3l0.9 0.5M145.2 191.2l1.6 0.7M152.5 191.5h.9M158.5 191.2l0.9 0.5M165.1 191.4l0.8 0.3M171.8 191l0.5 0.9M178.5 191.5h.9M185 191.5h.9M191.5 191.5h.9M197.6 192l0.8 -0.9M204.1 191.8l0.9 -0.5M210.5 191.7l1 -0.4M217.5 191.5h.9M223.5 191.5l1.1 0M230.1 191.7l0.9 -0.5M236.1 191.9l1.8 -0.7M243.1 191.4l0.9 0.1M249.3 191.4l1.4 0.2M255.6 191.4l1.8 0.1M262.1 191.1l1.7 0.9M269 191.6l1 -0.3M275.3 191.5l1.5 0.1M281.7 191.5l1.7 -0.1M288.2 191.7l1.5 -0.4M295 191.7l0.9 -0.3M301.3 191.5l1.4 0M308.5 191.5h.9M314.3 191.7l1.3 -0.3M321 191.7l1 -0.4M327.6 191.9l0.7 -0.7M334.5 191.5h.9M340.8 192l0.4 -1M346.9 191.6l1.2 -0.3M354 191.5h.9M359.7 191.2l1.6 0.6M366.5 191.4l1.1 0.2M373 191.3l1 0.5M379.2 191.2l1.7 0.5M385.8 191.4l1.5 0.2M392.4 191.4l1.1 0.1M398.4 191.7l2.2 -0.5M405.5 191.6l1.1 -0.1M411.2 191.5l2.5 0M418.3 191.8l1.4 -0.6M424.8 191.6l1.4 -0.2M431.4 191.8l1.2 -0.6M437.8 191.8l1.5 -0.6M444.7 191.3l0.6 0.4M450.8 191.5l1.3 -0.1M457.5 191.5l0.9 -0.1M463.8 191.6l1.3 -0.2M471 191.5h.9M477.1 191.6l0.8 -0.2M2.4 185.7l1.3 -1.4M8.7 185.3l1.7 -0.5M16 185h.9M22.5 185h.9M28.5 184.9l0.9 0.3M35.5 185h.9M41.9 184.5l0.2 0.9M48 184.9l0.9 0.1M54.6 185l0.9 -0.1M61.1 185.3l0.9 -0.5M67.4 185.1l1.2 -0.2M74 185.1l0.9 -0.1M80.4 184.8l1.3 0.4M86.7 184.9l1.6 0.1M93 184.9l2 0.3M100.1 185.5l0.9 -1M106.1 185.2l1.9 -0.4M113.1 185.1l0.8 -0.2M119.2 185.6l1.6 -1.2M125.9 185.5l1.1 -0.9M132.7 185.4l0.6 -0.7M138.8 184.8l1.4 0.4M145.3 184.9l1.5 0.2M152.5 185h.9M158.5 184.7l1 0.6M165.5 185h.9M171.8 184.6l0.5 0.8M177.9 185.3l1.1 -0.6M185 185h.9M191.5 185h.9M197.6 185l0.9 0.1M204.5 185h.9M210.4 185.2l1.2 -0.3M216.7 185.4l1.5 -0.8M223.1 185.5l1.7 -1M229.9 185.3l1.3 -0.6M236.1 185.1l1.8 -0.3M242.8 185.1l1.4 -0.2M249.1 185.1l1.7 -0.1M255.7 184.7l1.6 0.5M262.5 184.8l0.9 0.4M268.4 184.9l2.2 0.3M275.4 184.7l1.3 0.6M281.9 184.9l1.3 0.2M288.5 184.9l1.1 0.2M295.5 185h.9M302 185h.9M308.5 185h.9M315 185h.9M321.3 185.5l0.5 -0.9M328 185.4l0.1 -0.7M334.6 185.5l-0.2 -1M340.5 185.5l0.9 -1.1M346.7 185.1l1.6 -0.1M353.4 185l1.3 -0.1M360.5 185h.9M366.2 185l1.6 0M372.7 184.6l1.6 0.8M379.4 184.1l1.3 1.8M385.6 184.7l1.7 0.6M392.3 185.2l1.4 -0.3M398.7 184.4l1.6 1.1M405 184.8l1.9 0.4M412 185l1 0.1M418.1 185l1.8 0.1M424.8 185.4l1.3 -0.7M431.9 185.5l0.2 -1M438.2 185.5l0.6 -1.1M444.7 185.4l0.6 -0.9M450.8 184.6l1.5 0.8M458 185h.9M464 185.2l0.9 -0.5M471 185h.9M477 184.6l0.9 0.7M3 178.5h.9M9 178.5l1 -0.1M15.6 178.5l0.7 0M22.5 178.5h.9M29 178.5h.9M35.5 178.5h.9M41.4 178.1l1.1 0.8M48.2 178.1l0.6 0.7M54.5 178.6l1 -0.2M61 178.2l1 0.5M67.5 178.4l1.1 0.1M74 178.3l1.1 0.4M80.3 178.8l1.5 -0.7M86.8 178.5l1.5 0.1M93.1 178.7l1.9 -0.3M99.8 178.7l1.5 -0.3M106.3 178.4l1.4 0.1M113 178.7l1.1 -0.3M119.6 178.7l0.9 -0.4M125.5 178.4l2 0.2M132.7 178.3l0.6 0.5M139.2 178.4l0.7 0.3M145.5 178.4l0.9 0.2M152.5 178.5h.9M158.4 178.6l1.3 -0.1M165.5 178.5h.9M171.8 178.1l0.4 0.9M178.5 178.5h.9M184.6 178.4l0.9 0.2M191.5 178.5h.9M197.6 178.4l0.8 0.2M203.8 178.7l1.4 -0.4M210.7 179l0.7 -1M217 178.6l1 -0.2M223.5 178.6l1 -0.2M229.5 178.6l2 -0.1M236.2 178.4l1.6 0.2M242.6 178.8l1.8 -0.5M249.2 178.8l1.6 -0.6M255.9 178l1.2 1M262.7 178.2l0.5 0.5M268.9 178.4l1.2 0.2M275.6 178.4l0.9 0.2M282.5 178.5h.9M289 178.5h.9M295.1 178.9l0.8 -0.8M301.5 178.6l1 -0.2M308.5 178.5h.9M315.1 178.9l-0.2 -0.8M321 178.8l0.9 -0.6M327.6 178.8l0.7 -0.6M333.9 178.9l1.2 -0.8M340.8 179.1l0.3 -1.2M347.1 178.8l0.8 -0.6M353.6 178.7l0.7 -0.4M359.3 178.6l2.3 -0.2M366.3 178.7l1.3 -0.4M372.8 178.4l1.3 0.2M379.4 178.3l1.2 0.3M385.8 178.3l1.4 0.5M392.1 178.5l1.7 -0.1M399.2 178.4l0.7 0.3M405.5 178.5l1 0M411.7 178.4l1.5 0.1M418.6 178.7l0.8 -0.3M425.2 178.8l0.6 -0.7M431.6 178.6l0.8 -0.2M438.5 178.5h.9M445 178.5h.9M451.5 178.5h.9M458 178.5h.9M464.5 178.5h.9M470.7 178l0.6 1M477.1 178.4l0.8 0.2M3 172h.9M9 171.7l1 0.5M16 172h.9M22.5 172h.9M29 172h.9M35 171.8l0.9 0.4M41.4 172.1l1.1 -0.2M47.9 172l1.3 0.1M55 172h.9M61.5 171.6l0 0.8M67.3 171.4l1.3 1.2M73.8 171.9l1.3 0.3M80.3 172.3l1.3 -0.6M87 171.9l1 0.3M93.4 171.9l1.2 0.3M100.1 172.1l0.8 -0.3M106.4 171.8l1.2 0.4M113.1 172.5l0.7 -1M119.7 172.5l0.5 -1M126.1 171.8l0.9 0.5M133 172h.9M139.5 172h.9M146 172h.9M152.2 171.8l0.6 0.3M158.6 172.2l0.8 -0.4M165.5 172h.9M171.6 171.9l0.9 0.2M177.8 172.2l1.4 -0.4M184.5 171.9l0.9 0.1M191.5 172h.9M197.1 172.1l1.9 -0.2M203.7 171.7l1.5 0.5M210.7 172.3l0.6 -0.7M216.7 171.9l1.5 0.3M224 172h.9M230 171.6l1 0.7M236.2 171.8l1.6 0.4M243 172.2l1 -0.3M249.6 172l0.7 0.1M256.2 172.3l0.5 -0.6M262.5 171.9l1 0.3M269.5 172h.9M276 172h.9M282.5 172h.9M288.7 171.8l0.6 0.4M295.5 172h.9M301.7 172.2l0.6 -0.5M308.5 172h.9M314.7 172.5l0.7 -1M321.1 171.9l0.7 0.1M327.4 172.3l1.2 -0.6M334.1 172.4l0.8 -0.8M340.4 171.9l1.2 0.2M347.2 172.4l0.7 -0.7M353.3 171.7l1.4 0.5M360.2 172.3l0.6 -0.7M365.9 172.1l2.2 -0.3M373 171.8l1 0.3M379.4 172.2l1.3 -0.4M386 171.9l1 0.2M393 172h.9M399.4 171.6l0.2 0.8M405.6 172l0.8 0M411.9 172.3l1.3 -0.6M418.8 172.5l0.5 -1.1M425.1 172.1l0.8 -0.2M432 172h.9M438.5 172h.9M445 172h.9M451.5 172h.9M457.4 172l1.1 0.1M464.5 172h.9M470.6 171.7l0.9 0.6M477.1 171.9l0.8 0.2M3 165.5h.9M9.5 165.5h.9M15.5 165.7l1 -0.3M22.5 165.5h.9M28.5 165.7l1 -0.3M35.5 165.5h.9M41.6 165.4l0.7 0.2M48.2 165.7l0.7 -0.3M54.6 166l0.8 -0.9M61.5 165.5h.9M67.4 165.4l1.2 0.2M74.1 165.7l0.8 -0.4M80.3 165.5l1.4 0M87.5 165.5h.9M93.6 165.5l0.8 0M100.1 165.7l0.9 -0.4M107 165.5h.9M113.1 165.2l0.7 0.7M120 165.5h.9M126.5 165.5h.9M133 165.5h.9M139.1 165.1l0.7 0.8M146 165.5h.9M152 165.5l1 -0.1M159 165.1l0.1 0.9M165.1 165.5l0.8 0M171.6 165.2l0.7 0.6M178.5 165.5h.9M184.3 165.7l1.5 -0.4M191 165.6l1 -0.3M197.6 165.5l0.7 0M204.1 165.4l0.8 0.1M210.5 165.4l0.9 0.3M217.1 166l0.7 -0.9M223.4 165.4l1.3 0.2M230 165.7l1 -0.4M236.5 165.6l1 -0.3M243.5 165.5h.9M249.6 165.2l0.9 0.5M256.5 165.5h.9M263 165.5h.9M269.4 165l0.2 0.9M275.4 165.5l1.2 0.1M282.5 165.5h.9M289 165.5h.9M294.9 165.4l1.2 0.1M302 165.5h.9M308 165.4l1 0.1M314.8 165.9l0.4 -0.7M321 165.4l1.1 0.3M328 165.5h.9M334.1 165.3l0.7 0.4M340.6 165.3l0.7 0.3M347 165.6l1.1 -0.1M354 165.5h.9M360.5 165.5h.9M366.6 165.6l0.9 -0.1M373.5 165.5h.9M380 165.5h.9M386.5 165.5h.9M392.5 165.5l1.1 0M399.5 165.5h.9M405.6 165.6l0.7 -0.1M412.5 165.5h.9M419 165.5h.9M425.5 165.5h.9M432 165.5h.9M438.5 165.5h.9M444.9 165.9l0.1 -0.7M451 165.4l1 0.2M457.8 165.2l0.3 0.7M464 165.6l1 -0.2M470.3 165.5l1.4 0M477 165.4l0.9 0.3M3 159h.9M9.5 159h.9M16 159h.9M22.5 159h.9M28.5 159.1l1 -0.3M35.5 159h.9M41.6 159.2l0.7 -0.4M48 159.2l1 -0.4M54.8 159.4l0.3 -0.7M61.5 159h.9M67.6 159.3l0.7 -0.6M74.1 158.7l0.9 0.7M81 159h.9M87.5 159h.9M93.5 159.3l1 -0.7M100.5 159h.9M106.6 159.2l0.7 -0.4M113.1 159.6l0.7 -1.2M119.7 159.1l0.7 -0.3M126.5 159h.9M133 159h.9M139.5 159h.9M146 159h.9M152.5 159h.9M159 158.4l0.1 1.1M165.1 159.2l0.8 -0.5M171.7 158.8l0.7 0.3M178 159.1l1 -0.1M185 159h.9M191.5 159h.9M197.6 158.8l0.8 0.5M204.5 159h.9M211 159h.9M217.1 158.9l0.8 0.2M224 159h.9M230.5 159h.9M237 159h.9M243.5 159h.9M249.7 159.1l0.7 -0.3M256.5 159h.9M263 159h.9M269.3 158.7l0.4 0.6M276 159h.9M282.5 159h.9M288.6 158.6l0.7 0.9M295.5 159h.9M302 159h.9M308 159.2l0.9 -0.3M314.7 159.4l0.5 -0.7M321.5 159h.9M327.6 159.3l0.8 -0.6M334.5 159h.9M340.7 159.3l0.7 -0.7M347.5 159h.9M354 159h.9M360.5 159h.9M367 159h.9M373.5 159h.9M380 159h.9M386.5 159h.9M393 159h.9M399.2 158.8l0.5 0.4M406 159h.9M412.1 159l0.7 -0.1M419 159h.9M425.5 159h.9M431.5 159l1 0.1M438.2 159.3l0.5 -0.5M444.7 159.3l0.6 -0.5M451.5 159h.9M458 159h.9M464.5 159h.9M470.7 158.8l0.6 0.4M477.5 159h.9M3 152.5h.9M9.5 152.5h.9M16 152.5h.9M22 152.7l1 -0.5M29 152.5h.9M35.5 152.5h.9M42 152.5h.9M48.5 152.5h.9M55 152.5h.9M61.5 152.5h.9M67.6 152.4l0.8 0.1M74.5 152.5h.9M81 152.5h.9M87.5 152.5h.9M94 152.5h.9M99.8 152.8l1.4 -0.7M107 152.5h.9M113.5 152.5h.9M119.4 152.7l1.1 -0.3M126.5 152.5h.9M133 153l-0.1 -1M139.4 152.8l0.3 -0.7M146 152.5h.9M152.5 152.5h.9M159 152.5h.9M165.5 152.5h.9M172 152.5h.9M177.8 152.3l1.5 0.5M184.7 152.2l0.7 0.5M191.5 152.5h.9M198 152.5h.9M204 152.5l0.9 0M210.7 152.8l0.6 -0.5M217.5 152.5h.9M224 152.5h.9M230.5 152.5h.9M237 152.5h.9M243.5 152.5h.9M250 152.5h.9M256.5 152.5h.9M263.1 152.9l-0.2 -0.9M269.5 152.5h.9M276 152.5h.9M282 152.6l1.1 -0.2M289 152.5h.9M295.5 152.5h.9M302 152.5h.9M308.3 152.8l0.5 -0.7M314.7 152.8l0.5 -0.7M321 152.6l1.1 -0.2M327.7 152.7l0.5 -0.5M334.5 152.5h.9M340.3 152.8l1.3 -0.6M347.2 152.3l0.6 0.4M354 152.5h.9M360.5 152.5h.9M367 152.5h.9M373.5 152.5h.9M379.6 152.7l0.7 -0.4M386 152.5l1 0.1M393 152.5h.9M399 152.5l1 0M406 152.5h.9M412.1 152.8l0.8 -0.6M419 152.5h.9M425.2 152.8l0.7 -0.6M432 152.5h.9M438.2 152.7l0.6 -0.3M445 152.5h.9M451.5 152.5h.9M457.7 152.7l0.6 -0.5M464.5 152.5h.9M471 152.5h.9M477.5 152.5h.9M2.6 146.1l0.7 -0.3M9.5 146h.9M15.6 145.7l0.9 0.6M22 145.9l1 0.1M29 146h.9M35.5 146h.9M42 146h.9M48.5 146h.9M55 146h.9M61.5 146h.9M68 146h.9M74.5 146h.9M81 146h.9M87.5 146h.9M94 146h.9M100.5 146h.9M107 146h.9M113.1 145.9l0.8 0.1M120 146h.9M126.5 146h.9M133 146h.9M139.5 146h.9M146 146h.9M152.5 146h.9M159 146h.9M165.4 145.5l0.3 1M172 146h.9M177.9 145.7l1.1 0.6M185 146h.9M191.5 146h.9M197.9 146.4l0.3 -0.7M204.5 146h.9M211 146h.9M217.5 146h.9M223.6 146.4l0.8 -0.7M230.5 146h.9M237 146h.9M243.5 146h.9M250.2 146.5l-0.3 -1M256.1 146.1l0.9 -0.2M262.8 146.3l0.4 -0.6M269 146l1 -0.1M276 146h.9M281.9 145.9l1.1 0.1M289 146h.9M295.5 146h.9M301.7 146.1l0.7 -0.2M308.5 146h.9M315 146h.9M321.5 146h.9M328 146h.9M334 146.2l1 -0.5M341 146h.9M347 146.1l1 -0.3M354 146h.9M360.5 146h.9M366.6 145.8l0.9 0.4M373.5 146h.9M379.8 146.4l0.4 -0.8M386.5 146h.9M393.1 146.4l-0.2 -0.9M399.5 146h.9M405.6 146l0.7 0M412.5 146h.9M419 146h.9M425.1 145.9l0.8 0.1M432 146h.9M438.3 146.5l0.4 -0.9M445 146h.9M451 146.1l1 -0.2M457.6 146.3l0.8 -0.7M464.5 146h.9M471 146h.9M477.5 146h.9" class="q"/>
<path d="M3 139.5h.9M9.5 139.5h.9M16 139.5h.9M22.5 139.5h.9M29 139.5h.9M35.5 139.5h.9M42 139.5h.9M48.5 139.5h.9M55 139.5h.9M61.5 139.5h.9M68 139.5h.9M74.5 139.5h.9M81 139.5h.9M87.5 139.5h.9M94 139.5h.9M100.5 139.5h.9M107 139.5h.9M113.5 139.5h.9M120 139.5h.9M126.5 139.5h.9M133 139.5h.9M139.5 139.5h.9M146 139.5h.9M152.5 139.5h.9M159 139.5h.9M165.5 139.5h.9M172 139.5h.9M178.5 139.5h.9M185 139.5h.9M191.5 139.5h.9M198 139.5h.9M204.5 139.5h.9M211 139.5h.9M217.5 139.5h.9M224 139.5h.9M230.5 139.5h.9M237 139.5h.9M243.5 139.5h.9M250 139.5h.9M256.5 139.5h.9M263 139.5h.9M269.5 139.5h.9M276 139.5h.9M282.5 139.5h.9M289 139.5h.9M295.5 139.5h.9M302 139.5h.9M308.5 139.5h.9M315 139.5h.9M321.5 139.5h.9M328 139.5h.9M334.5 139.5h.9M341 139.5h.9M347.5 139.5h.9M354 139.5h.9M360.5 139.5h.9M367 139.5h.9M373.5 139.5h.9M380 139.5h.9M386.5 139.5h.9M393 139.5h.9M399.5 139.5h.9M406 139.5h.9M412.5 139.5h.9M419 139.5h.9M425.5 139.5h.9M432 139.5h.9M438.5 139.5h.9M445 139.5h.9M451.5 139.5h.9M458 139.5h.9M464.5 139.5h.9M471 139.5h.9M477.5 139.5h.9M3 133h.9M9.5 133h.9M16 133h.9M22.5 133h.9M29 133h.9M35.5 133h.9M42 133h.9M48.5 133h.9M55 133h.9M61.5 133h.9M68 133h.9M74.5 133h.9M81 133h.9M87.5 133h.9M94 133h.9M100.5 133h.9M107 133h.9M113.5 133h.9M120 133h.9M126.5 133h.9M133 133h.9M139.5 133h.9M146 133h.9M152.5 133h.9M159 133h.9M165.5 133h.9M172 133h.9M178.5 133h.9M185 133h.9M191.5 133h.9M198 133h.9M204.5 133h.9M211 133h.9M217.5 133h.9M224 133h.9M230.5 133h.9M237 133h.9M243.5 133h.9M250 133h.9M256.5 133h.9M263 133h.9M269.5 133h.9M276 133h.9M282.5 133h.9M289 133h.9M295.5 133h.9M302 133h.9M308.5 133h.9M315 133h.9M321.5 133h.9M328 133h.9M334.5 133h.9M341 133h.9M347.5 133h.9M354 133h.9M360.5 133h.9M367 133h.9M373.5 133h.9M380 133h.9M386.5 133h.9M393 133h.9M399.5 133h.9M406 133h.9M412.5 133h.9M419 133h.9M425.5 133h.9M432 133h.9M438.5 133h.9M445 133h.9M451.5 133h.9M458 133h.9M464.5 133h.9M471 133h.9M477.5 133h.9M3 126.5h.9M9.5 126.5h.9M16 126.5h.9M22.5 126.5h.9M29 126.5h.9M35.5 126.5h.9M42 126.5h.9M48.5 126.5h.9M55 126.5h.9M61.5 126.5h.9M68 126.5h.9M74.5 126.5h.9M81 126.5h.9M87.5 126.5h.9M94 126.5h.9M100.5 126.5h.9M107 126.5h.9M113.5 126.5h.9M120 126.5h.9M126.5 126.5h.9M133 126.5h.9M139.5 126.5h.9M146 126.5h.9M152.5 126.5h.9M159 126.5h.9M165.5 126.5h.9M172 126.5h.9M178.5 126.5h.9M185 126.5h.9M191.5 126.5h.9M198 126.5h.9M204.5 126.5h.9M211 126.5h.9M217.5 126.5h.9M224 126.5h.9M230.5 126.5h.9M237 126.5h.9M243.5 126.5h.9M250 126.5h.9M256.5 126.5h.9M263 126.5h.9M269.5 126.5h.9M276 126.5h.9M282.5 126.5h.9M289 126.5h.9M295.5 126.5h.9M302 126.5h.9M308.5 126.5h.9M315 126.5h.9M321.5 126.5h.9M328 126.5h.9M334.5 126.5h.9M341 126.5h.9M347.5 126.5h.9M354 126.5h.9M360.5 126.5h.9M367 126.5h.9M373.5 126.5h.9M380 126.5h.9M386.5 126.5h.9M393 126.5h.9M399.5 126.5h.9M406 126.5h.9M412.5 126.5h.9M419 126.5h.9M425.5 126.5h.9M432 126.5h.9M438.5 126.5h.9M445 126.5h.9M451.5 126.5h.9M458 126.5h.9M464.5 126.5h.9M471 126.5h.9M477.5 126.5h.9M3 120h.9M9.5 120h.9M16 120h.9M22.5 120h.9M29 120h.9M35.5 120h.9M42 120h.9M48.5 120h.9M55 120h.9M61.5 120h.9M68 120h.9M74.5 120h.9M81 120h.9M87.5 120h.9M94 120h.9M100.5 120h.9M107 120h.9M113.5 120h.9M120 120h.9M126.5 120h.9M133 120h.9M139.5 120h.9M146 120h.9M152.5 120h.9M159 120h.9M165.5 120h.9M172 120h.9M178.5 120h.9M185 120h.9M191.5 120h.9M198 120h.9M204.5 120h.9M211 120h.9M217.5 120h.9M224 120h.9M230.5 120h.9M237 120h.9M243.5 120h.9M250 120h.9M256.5 120h.9M263 120h.9M269.5 120h.9M276 120h.9M282.5 120h.9M289 120h.9M295.5 120h.9M302 120h.9M308.5 120h.9M315 120h.9M321.5 120h.9M328 120h.9M334.5 120h.9M341 120h.9M347.5 120h.9M354 120h.9M360.5 120h.9M367 120h.9M373.5 120h.9M380 120h.9M386.5 120h.9M393 120h.9M399.5 120h.9M406 120h.9M412.5 120h.9M419 120h.9M425.5 120h.9M432 120h.9M438.5 120h.9M445 120h.9M451.5 120h.9M458 120h.9M464.5 120h.9M471 120h.9M477.5 120h.9M3 113.5h.9M9.5 113.5h.9M16 113.5h.9M22.5 113.5h.9M29 113.5h.9M35.5 113.5h.9M42 113.5h.9M48.5 113.5h.9M55 113.5h.9M61.5 113.5h.9M68 113.5h.9M74.5 113.5h.9M81 113.5h.9M87.5 113.5h.9M94 113.5h.9M100.5 113.5h.9M107 113.5h.9M113.5 113.5h.9M120 113.5h.9M126.5 113.5h.9M133 113.5h.9M139.5 113.5h.9M146 113.5h.9M152.5 113.5h.9M159 113.5h.9M165.5 113.5h.9M172 113.5h.9M178.5 113.5h.9M185 113.5h.9M191.5 113.5h.9M198 113.5h.9M204.5 113.5h.9M211 113.5h.9M217.5 113.5h.9M224 113.5h.9M230.5 113.5h.9M237 113.5h.9M243.5 113.5h.9M250 113.5h.9M256.5 113.5h.9M263 113.5h.9M269.5 113.5h.9M276 113.5h.9M282.5 113.5h.9M289 113.5h.9M295.5 113.5h.9M302 113.5h.9M308.5 113.5h.9M315 113.5h.9M321.5 113.5h.9M328 113.5h.9M334.5 113.5h.9M341 113.5h.9M347.5 113.5h.9M354 113.5h.9M360.5 113.5h.9M367 113.5h.9M373.5 113.5h.9M380 113.5h.9M386.5 113.5h.9M393 113.5h.9M399.5 113.5h.9M406 113.5h.9M412.5 113.5h.9M419 113.5h.9M425.5 113.5h.9M432 113.5h.9M438.5 113.5h.9M445 113.5h.9M451.5 113.5h.9M458 113.5h.9M464.5 113.5h.9M471 113.5h.9M477.5 113.5h.9M3 107h.9M9.5 107h.9M16 107h.9M22.5 107h.9M29 107h.9M35.5 107h.9M42 107h.9M48.5 107h.9M55 107h.9M61.5 107h.9M68 107h.9M74.5 107h.9M81 107h.9M87.5 107h.9M94 107h.9M100.5 107h.9M107 107h.9M113.5 107h.9M120 107h.9M126.5 107h.9M133 107h.9M139.5 107h.9M146 107h.9M152.5 107h.9M159 107h.9M165.5 107h.9M172 107h.9M178.5 107h.9M185 107h.9M191.5 107h.9M198 107h.9M204.5 107h.9M211 107h.9M217.5 107h.9M224 107h.9M230.5 107h.9M237 107h.9M243.5 107h.9M250 107h.9M256.5 107h.9M263 107h.9M269.5 107h.9M276 107h.9M282.5 107h.9M289 107h.9M295.5 107h.9M302 107h.9M308.5 107h.9M315 107h.9M321.5 107h.9M328 107h.9M334.5 107h.9M341 107h.9M347.5 107h.9M354 107h.9M360.5 107h.9M367 107h.9M373.5 107h.9M380 107h.9M386.5 107h.9M393 107h.9M399.5 107h.9M406 107h.9M412.5 107h.9M419 107h.9M425.5 107h.9M432 107h.9M438.5 107h.9M445 107h.9M451.5 107h.9M458 107h.9M464.5 107h.9M471 107h.9M477.5 107h.9M3 100.5h.9M9.5 100.5h.9M16 100.5h.9M22.5 100.5h.9M29 100.5h.9M35.5 100.5h.9M42 100.5h.9M48.5 100.5h.9M55 100.5h.9M61.5 100.5h.9M68 100.5h.9M74.5 100.5h.9M81 100.5h.9M87.5 100.5h.9M94 100.5h.9M100.5 100.5h.9M107 100.5h.9M113.5 100.5h.9M120 100.5h.9M126.5 100.5h.9M133 100.5h.9M139.5 100.5h.9M146 100.5h.9M152.5 100.5h.9M159 100.5h.9M165.5 100.5h.9M172 100.5h.9M178.5 100.5h.9M185 100.5h.9M191.5 100.5h.9M198 100.5h.9M204.5 100.5h.9M211 100.5h.9M217.5 100.5h.9M224 100.5h.9M230.5 100.5h.9M237 100.5h.9M243.5 100.5h.9M250 100.5h.9M256.5 100.5h.9M263 100.5h.9M269.5 100.5h.9M276 100.5h.9M282.5 100.5h.9M289 100.5h.9M295.5 100.5h.9M302 100.5h.9M308.5 100.5h.9M315 100.5h.9M321.5 100.5h.9M328 100.5h.9M334.5 100.5h.9M341 100.5h.9M347.5 100.5h.9M354 100.5h.9M360.5 100.5h.9M367 100.5h.9M373.5 100.5h.9M380 100.5h.9M386.5 100.5h.9M393 100.5h.9M399.5 100.5h.9M406 100.5h.9M412.5 100.5h.9M419 100.5h.9M425.5 100.5h.9M432 100.5h.9M438.5 100.5h.9M445 100.5h.9M451.5 100.5h.9M458 100.5h.9M464.5 100.5h.9M471 100.5h.9M477.5 100.5h.9M3 94h.9M9.5 94h.9M16 94h.9M22.5 94h.9M29 94h.9M35.5 94h.9M42 94h.9M48.5 94h.9M55 94h.9M61.5 94h.9M68 94h.9M74.5 94h.9M81 94h.9M87.5 94h.9M94 94h.9M100.5 94h.9M107 94h.9M113.5 94h.9M120 94h.9M126.5 94h.9M133 94h.9M139.5 94h.9M146 94h.9M152.5 94h.9M159 94h.9M165.5 94h.9M172 94h.9M178.5 94h.9M185 94h.9M191.5 94h.9M198 94h.9M204.5 94h.9M211 94h.9M217.5 94h.9M224 94h.9M230.5 94h.9M237 94h.9M243.5 94h.9M250 94h.9M256.5 94h.9M263 94h.9M269.5 94h.9M276 94h.9M282.5 94h.9M289 94h.9M295.5 94h.9M302 94h.9M308.5 94h.9M315 94h.9M321.5 94h.9M328 94h.9M334.5 94h.9M341 94h.9M347.5 94h.9M354 94h.9M360.5 94h.9M367 94h.9M373.5 94h.9M380 94h.9M386.5 94h.9M393 94h.9M399.5 94h.9M406 94h.9M412.5 94h.9M419 94h.9M425.5 94h.9M432 94h.9M438.5 94h.9M445 94h.9M451.5 94h.9M458 94h.9M464.5 94h.9M471 94h.9M477.5 94h.9M3 87.5h.9M9.5 87.5h.9M16 87.5h.9M22.5 87.5h.9M29 87.5h.9M35.5 87.5h.9M42 87.5h.9M48.5 87.5h.9M55 87.5h.9M61.5 87.5h.9M68 87.5h.9M74.5 87.5h.9M81 87.5h.9M87.5 87.5h.9M94 87.5h.9M100.5 87.5h.9M107 87.5h.9M113.5 87.5h.9M120 87.5h.9M126.5 87.5h.9M133 87.5h.9M139.5 87.5h.9M146 87.5h.9M152.5 87.5h.9M159 87.5h.9M165.5 87.5h.9M172 87.5h.9M178.5 87.5h.9M185 87.5h.9M191.5 87.5h.9M198 87.5h.9M204.5 87.5h.9M211 87.5h.9M217.5 87.5h.9M224 87.5h.9M230.5 87.5h.9M237 87.5h.9M243.5 87.5h.9M250 87.5h.9M256.5 87.5h.9M263 87.5h.9M269.5 87.5h.9M276 87.5h.9M282.5 87.5h.9M289 87.5h.9M295.5 87.5h.9M302 87.5h.9M308.5 87.5h.9M315 87.5h.9M321.5 87.5h.9M328 87.5h.9M334.5 87.5h.9M341 87.5h.9M347.5 87.5h.9M354 87.5h.9M360.5 87.5h.9M367 87.5h.9M373.5 87.5h.9M380 87.5h.9M386.5 87.5h.9M393 87.5h.9M399.5 87.5h.9M406 87.5h.9M412.5 87.5h.9M419 87.5h.9M425.5 87.5h.9M432 87.5h.9M438.5 87.5h.9M445 87.5h.9M451.5 87.5h.9M458 87.5h.9M464.5 87.5h.9M471 87.5h.9M477.5 87.5h.9M3 81h.9M9.5 81h.9M16 81h.9M22.5 81h.9M29 81h.9M35.5 81h.9M42 81h.9M48.5 81h.9M55 81h.9M61.5 81h.9M68 81h.9M74.5 81h.9M81 81h.9M87.5 81h.9M94 81h.9M100.5 81h.9M107 81h.9M113.5 81h.9M120 81h.9M126.5 81h.9M133 81h.9M139.5 81h.9M146 81h.9M152.5 81h.9M159 81h.9M165.5 81h.9M172 81h.9M178.5 81h.9M185 81h.9M191.5 81h.9M198 81h.9M204.5 81h.9M211 81h.9M217.5 81h.9M224 81h.9M230.5 81h.9M237 81h.9M243.5 81h.9M250 81h.9M256.5 81h.9M263 81h.9M269.5 81h.9M276 81h.9M282.5 81h.9M289 81h.9M295.5 81h.9M302 81h.9M308.5 81h.9M315 81h.9M321.5 81h.9M328 81h.9M334.5 81h.9M341 81h.9M347.5 81h.9M354 81h.9M360.5 81h.9M367 81h.9M373.5 81h.9M380 81h.9M386.5 81h.9M393 81h.9M399.5 81h.9M406 81h.9M412.5 81h.9M419 81h.9M425.5 81h.9M432 81h.9M438.5 81h.9M445 81h.9M451.5 81h.9M458 81h.9M464.5 81h.9M471 81h.9M477.5 81h.9M3 74.5h.9M9.5 74.5h.9M16 74.5h.9M22.5 74.5h.9M29 74.5h.9M35.5 74.5h.9M42 74.5h.9M48.5 74.5h.9M55 74.5h.9M61.5 74.5h.9M68 74.5h.9M74.5 74.5h.9M81 74.5h.9M87.5 74.5h.9M94 74.5h.9M100.5 74.5h.9M107 74.5h.9M113.5 74.5h.9M120 74.5h.9M126.5 74.5h.9M133 74.5h.9M139.5 74.5h.9M146 74.5h.9M152.5 74.5h.9M159 74.5h.9M165.5 74.5h.9M172 74.5h.9M178.5 74.5h.9M185 74.5h.9M191.5 74.5h.9M198 74.5h.9M204.5 74.5h.9M211 74.5h.9M217.5 74.5h.9M224 74.5h.9M230.5 74.5h.9M237 74.5h.9M243.5 74.5h.9M250 74.5h.9M256.5 74.5h.9M263 74.5h.9M269.5 74.5h.9M276 74.5h.9M282.5 74.5h.9M289 74.5h.9M295.5 74.5h.9M302 74.5h.9M308.5 74.5h.9M315 74.5h.9M321.5 74.5h.9M328 74.5h.9M334.5 74.5h.9M341 74.5h.9M347.5 74.5h.9M354 74.5h.9M360.5 74.5h.9M367 74.5h.9M373.5 74.5h.9M380 74.5h.9M386.5 74.5h.9M393 74.5h.9M399.5 74.5h.9M406 74.5h.9M412.5 74.5h.9M419 74.5h.9M425.5 74.5h.9M432 74.5h.9M438.5 74.5h.9M445 74.5h.9M451.5 74.5h.9M458 74.5h.9M464.5 74.5h.9M471 74.5h.9M477.5 74.5h.9M3 68h.9M9.5 68h.9M16 68h.9M22.5 68h.9M29 68h.9M35.5 68h.9M42 68h.9M48.5 68h.9M55 68h.9M61.5 68h.9M68 68h.9M74.5 68h.9M81 68h.9M87.5 68h.9M94 68h.9M100.5 68h.9M107 68h.9M113.5 68h.9M120 68h.9M126.5 68h.9M133 68h.9M139.5 68h.9M146 68h.9M152.5 68h.9M159 68h.9M165.5 68h.9M172 68h.9M178.5 68h.9M185 68h.9M191.5 68h.9M198 68h.9M204.5 68h.9M211 68h.9M217.5 68h.9M224 68h.9M230.5 68h.9M237 68h.9M243.5 68h.9M250 68h.9M256.5 68h.9M263 68h.9M269.5 68h.9M276 68h.9M282.5 68h.9M289 68h.9M295.5 68h.9M302 68h.9M308.5 68h.9M315 68h.9M321.5 68h.9M328 68h.9M334.5 68h.9M341 68h.9M347.5 68h.9M354 68h.9M360.5 68h.9M367 68h.9M373.5 68h.9M380 68h.9M386.5 68h.9M393 68h.9M399.5 68h.9M406 68h.9M412.5 68h.9M419 68h.9M425.5 68h.9M432 68h.9M438.5 68h.9M445 68h.9M451.5 68h.9M458 68h.9M464.5 68h.9M471 68h.9M477.5 68h.9M3 61.5h.9M9.5 61.5h.9M16 61.5h.9M22.5 61.5h.9M29 61.5h.9M35.5 61.5h.9M42 61.5h.9M48.5 61.5h.9M55 61.5h.9M61.5 61.5h.9M68 61.5h.9M74.5 61.5h.9M81 61.5h.9M87.5 61.5h.9M94 61.5h.9M100.5 61.5h.9M107 61.5h.9M113.5 61.5h.9M120 61.5h.9M126.5 61.5h.9M133 61.5h.9M139.5 61.5h.9M146 61.5h.9M152.5 61.5h.9M159 61.5h.9M165.5 61.5h.9M172 61.5h.9M178.5 61.5h.9M185 61.5h.9M191.5 61.5h.9M198 61.5h.9M204.5 61.5h.9M211 61.5h.9M217.5 61.5h.9M224 61.5h.9M230.5 61.5h.9M237 61.5h.9M243.5 61.5h.9M250 61.5h.9M256.5 61.5h.9M263 61.5h.9M269.5 61.5h.9M276 61.5h.9M282.5 61.5h.9M289 61.5h.9M295.5 61.5h.9M302 61.5h.9M308.5 61.5h.9M315 61.5h.9M321.5 61.5h.9M328 61.5h.9M334.5 61.5h.9M341 61.5h.9M347.5 61.5h.9M354 61.5h.9M360.5 61.5h.9M367 61.5h.9M373.5 61.5h.9M380 61.5h.9M386.5 61.5h.9M393 61.5h.9M399.5 61.5h.9M406 61.5h.9M412.5 61.5h.9M419 61.5h.9M425.5 61.5h.9M432 61.5h.9M438.5 61.5h.9M445 61.5h.9M451.5 61.5h.9M458 61.5h.9M464.5 61.5h.9M471 61.5h.9M477.5 61.5h.9M3 55h.9M9.5 55h.9M16 55h.9M22.5 55h.9M29 55h.9M35.5 55h.9M42 55h.9M48.5 55h.9M55 55h.9M61.5 55h.9M68 55h.9M74.5 55h.9M81 55h.9M87.5 55h.9M94 55h.9M100.5 55h.9M107 55h.9M113.5 55h.9M120 55h.9M126.5 55h.9M133 55h.9M139.5 55h.9M146 55h.9M152.5 55h.9M159 55h.9M165.5 55h.9M172 55h.9M178.5 55h.9M185 55h.9M191.5 55h.9M198 55h.9M204.5 55h.9M211 55h.9M217.5 55h.9M224 55h.9M230.5 55h.9M237 55h.9M243.5 55h.9M250 55h.9M256.5 55h.9M263 55h.9M269.5 55h.9M276 55h.9M282.5 55h.9M289 55h.9M295.5 55h.9M302 55h.9M308.5 55h.9M315 55h.9M321.5 55h.9M328 55h.9M334.5 55h.9M341 55h.9M347.5 55h.9M354 55h.9M360.5 55h.9M367 55h.9M373.5 55h.9M380 55h.9M386.5 55h.9M393 55h.9M399.5 55h.9M406 55h.9M412.5 55h.9M419 55h.9M425.5 55h.9M432 55h.9M438.5 55h.9M445 55h.9M451.5 55h.9M458 55h.9M464.5 55h.9M471 55h.9M477.5 55h.9M3 48.5h.9M9.5 48.5h.9M16 48.5h.9M22.5 48.5h.9M29 48.5h.9M35.5 48.5h.9M42 48.5h.9M48.5 48.5h.9M55 48.5h.9M61.5 48.5h.9M68 48.5h.9M74.5 48.5h.9M81 48.5h.9M87.5 48.5h.9M94 48.5h.9M100.5 48.5h.9M107 48.5h.9M113.5 48.5h.9M120 48.5h.9M126.5 48.5h.9M133 48.5h.9M139.5 48.5h.9M146 48.5h.9M152.5 48.5h.9M159 48.5h.9M165.5 48.5h.9M172 48.5h.9M178.5 48.5h.9M185 48.5h.9M191.5 48.5h.9M198 48.5h.9M204.5 48.5h.9M211 48.5h.9M217.5 48.5h.9M224 48.5h.9M230.5 48.5h.9M237 48.5h.9M243.5 48.5h.9M250 48.5h.9M256.5 48.5h.9M263 48.5h.9M269.5 48.5h.9M276 48.5h.9M282.5 48.5h.9M289 48.5h.9M295.5 48.5h.9M302 48.5h.9M308.5 48.5h.9M315 48.5h.9M321.5 48.5h.9M328 48.5h.9M334.5 48.5h.9M341 48.5h.9M347.5 48.5h.9M354 48.5h.9M360.5 48.5h.9M367 48.5h.9M373.5 48.5h.9M380 48.5h.9M386.5 48.5h.9M393 48.5h.9M399.5 48.5h.9M406 48.5h.9M412.5 48.5h.9M419 48.5h.9M425.5 48.5h.9M432 48.5h.9M438.5 48.5h.9M445 48.5h.9M451.5 48.5h.9M458 48.5h.9M464.5 48.5h.9M471 48.5h.9M477.5 48.5h.9M3 42h.9M9.5 42h.9M16 42h.9M22.5 42h.9M29 42h.9M35.5 42h.9M42 42h.9M48.5 42h.9M55 42h.9M61.5 42h.9M68 42h.9M74.5 42h.9M81 42h.9M87.5 42h.9M94 42h.9M100.5 42h.9M107 42h.9M113.5 42h.9M120 42h.9M126.5 42h.9M133 42h.9M139.5 42h.9M146 42h.9M152.5 42h.9M159 42h.9M165.5 42h.9M172 42h.9M178.5 42h.9M185 42h.9M191.5 42h.9M198 42h.9M204.5 42h.9M211 42h.9M217.5 42h.9M224 42h.9M230.5 42h.9M237 42h.9M243.5 42h.9M250 42h.9M256.5 42h.9M263 42h.9M269.5 42h.9M276 42h.9M282.5 42h.9M289 42h.9M295.5 42h.9M302 42h.9M308.5 42h.9M315 42h.9M321.5 42h.9M328 42h.9M334.5 42h.9M341 42h.9M347.5 42h.9M354 42h.9M360.5 42h.9M367 42h.9M373.5 42h.9M380 42h.9M386.5 42h.9M393 42h.9M399.5 42h.9M406 42h.9M412.5 42h.9M419 42h.9M425.5 42h.9M432 42h.9M438.5 42h.9M445 42h.9M451.5 42h.9M458 42h.9M464.5 42h.9M471 42h.9M477.5 42h.9M3 35.5h.9M9.5 35.5h.9M16 35.5h.9M22.5 35.5h.9M29 35.5h.9M35.5 35.5h.9M42 35.5h.9M48.5 35.5h.9M55 35.5h.9M61.5 35.5h.9M68 35.5h.9M74.5 35.5h.9M81 35.5h.9M87.5 35.5h.9M94 35.5h.9M100.5 35.5h.9M107 35.5h.9M113.5 35.5h.9M120 35.5h.9M126.5 35.5h.9M133 35.5h.9M139.5 35.5h.9M146 35.5h.9M152.5 35.5h.9M159 35.5h.9M165.5 35.5h.9M172 35.5h.9M178.5 35.5h.9M185 35.5h.9M191.5 35.5h.9M198 35.5h.9M204.5 35.5h.9M211 35.5h.9M217.5 35.5h.9M224 35.5h.9M230.5 35.5h.9M237 35.5h.9M243.5 35.5h.9M250 35.5h.9M256.5 35.5h.9M263 35.5h.9M269.5 35.5h.9M276 35.5h.9M282.5 35.5h.9M289 35.5h.9M295.5 35.5h.9M302 35.5h.9M308.5 35.5h.9M315 35.5h.9M321.5 35.5h.9M328 35.5h.9M334.5 35.5h.9M341 35.5h.9M347.5 35.5h.9M354 35.5h.9M360.5 35.5h.9M367 35.5h.9M373.5 35.5h.9M380 35.5h.9M386.5 35.5h.9M393 35.5h.9M399.5 35.5h.9M406 35.5h.9M412.5 35.5h.9M419 35.5h.9M425.5 35.5h.9M432 35.5h.9M438.5 35.5h.9M445 35.5h.9M451.5 35.5h.9M458 35.5h.9M464.5 35.5h.9M471 35.5h.9M477.5 35.5h.9M3 29h.9M9.5 29h.9M16 29h.9M22.5 29h.9M29 29h.9M35.5 29h.9M42 29h.9M48.5 29h.9M55 29h.9M61.5 29h.9M68 29h.9M74.5 29h.9M81 29h.9M87.5 29h.9M94 29h.9M100.5 29h.9M107 29h.9M113.5 29h.9M120 29h.9M126.5 29h.9M133 29h.9M139.5 29h.9M146 29h.9M152.5 29h.9M159 29h.9M165.5 29h.9M172 29h.9M178.5 29h.9M185 29h.9M191.5 29h.9M198 29h.9M204.5 29h.9M211 29h.9M217.5 29h.9M224 29h.9M230.5 29h.9M237 29h.9M243.5 29h.9M250 29h.9M256.5 29h.9M263 29h.9M269.5 29h.9M276 29h.9M282.5 29h.9M289 29h.9M295.5 29h.9M302 29h.9M308.5 29h.9M315 29h.9M321.5 29h.9M328 29h.9M334.5 29h.9M341 29h.9M347.5 29h.9M354 29h.9M360.5 29h.9M367 29h.9M373.5 29h.9M380 29h.9M386.5 29h.9M393 29h.9M399.5 29h.9M406 29h.9M412.5 29h.9M419 29h.9M425.5 29h.9M432 29h.9M438.5 29h.9M445 29h.9M451.5 29h.9M458 29h.9M464.5 29h.9M471 29h.9M477.5 29h.9M3 22.5h.9M9.5 22.5h.9M16 22.5h.9M22.5 22.5h.9M29 22.5h.9M35.5 22.5h.9M42 22.5h.9M48.5 22.5h.9M55 22.5h.9M61.5 22.5h.9M68 22.5h.9M74.5 22.5h.9M81 22.5h.9M87.5 22.5h.9M94 22.5h.9M100.5 22.5h.9M107 22.5h.9M113.5 22.5h.9M120 22.5h.9M126.5 22.5h.9M133 22.5h.9M139.5 22.5h.9M146 22.5h.9M152.5 22.5h.9M159 22.5h.9M165.5 22.5h.9M172 22.5h.9M178.5 22.5h.9M185 22.5h.9M191.5 22.5h.9M198 22.5h.9M204.5 22.5h.9M211 22.5h.9M217.5 22.5h.9M224 22.5h.9M230.5 22.5h.9M237 22.5h.9M243.5 22.5h.9M250 22.5h.9M256.5 22.5h.9M263 22.5h.9M269.5 22.5h.9M276 22.5h.9M282.5 22.5h.9M289 22.5h.9M295.5 22.5h.9M302 22.5h.9M308.5 22.5h.9M315 22.5h.9M321.5 22.5h.9M328 22.5h.9M334.5 22.5h.9M341 22.5h.9M347.5 22.5h.9M354 22.5h.9M360.5 22.5h.9M367 22.5h.9M373.5 22.5h.9M380 22.5h.9M386.5 22.5h.9M393 22.5h.9M399.5 22.5h.9M406 22.5h.9M412.5 22.5h.9M419 22.5h.9M425.5 22.5h.9M432 22.5h.9M438.5 22.5h.9M445 22.5h.9M451.5 22.5h.9M458 22.5h.9M464.5 22.5h.9M471 22.5h.9M477.5 22.5h.9M3 16h.9M9.5 16h.9M16 16h.9M22.5 16h.9M29 16h.9M35.5 16h.9M42 16h.9M48.5 16h.9M55 16h.9M61.5 16h.9M68 16h.9M74.5 16h.9M81 16h.9M87.5 16h.9M94 16h.9M100.5 16h.9M107 16h.9M113.5 16h.9M120 16h.9M126.5 16h.9M133 16h.9M139.5 16h.9M146 16h.9M152.5 16h.9M159 16h.9M165.5 16h.9M172 16h.9M178.5 16h.9M185 16h.9M191.5 16h.9M198 16h.9M204.5 16h.9M211 16h.9M217.5 16h.9M224 16h.9M230.5 16h.9M237 16h.9M243.5 16h.9M250 16h.9M256.5 16h.9M263 16h.9M269.5 16h.9M276 16h.9M282.5 16h.9M289 16h.9M295.5 16h.9M302 16h.9M308.5 16h.9M315 16h.9M321.5 16h.9M328 16h.9M334.5 16h.9M341 16h.9M347.5 16h.9M354 16h.9M360.5 16h.9M367 16h.9M373.5 16h.9M380 16h.9M386.5 16h.9M393 16h.9M399.5 16h.9M406 16h.9M412.5 16h.9M419 16h.9M425.5 16h.9M432 16h.9M438.5 16h.9M445 16h.9M451.5 16h.9M458 16h.9M464.5 16h.9M471 16h.9M477.5 16h.9M3 9.5h.9M9.5 9.5h.9M16 9.5h.9M22.5 9.5h.9M29 9.5h.9M35.5 9.5h.9M42 9.5h.9M48.5 9.5h.9M55 9.5h.9M61.5 9.5h.9M68 9.5h.9M74.5 9.5h.9M81 9.5h.9M87.5 9.5h.9M94 9.5h.9M100.5 9.5h.9M107 9.5h.9M113.5 9.5h.9M120 9.5h.9M126.5 9.5h.9M133 9.5h.9M139.5 9.5h.9M146 9.5h.9M152.5 9.5h.9M159 9.5h.9M165.5 9.5h.9M172 9.5h.9M178.5 9.5h.9M185 9.5h.9M191.5 9.5h.9M198 9.5h.9M204.5 9.5h.9M211 9.5h.9M217.5 9.5h.9M224 9.5h.9M230.5 9.5h.9M237 9.5h.9M243.5 9.5h.9M250 9.5h.9M256.5 9.5h.9M263 9.5h.9M269.5 9.5h.9M276 9.5h.9M282.5 9.5h.9M289 9.5h.9M295.5 9.5h.9M302 9.5h.9M308.5 9.5h.9M315 9.5h.9M321.5 9.5h.9M328 9.5h.9M334.5 9.5h.9M341 9.5h.9M347.5 9.5h.9M354 9.5h.9M360.5 9.5h.9M367 9.5h.9M373.5 9.5h.9M380 9.5h.9M386.5 9.5h.9M393 9.5h.9M399.5 9.5h.9M406 9.5h.9M412.5 9.5h.9M419 9.5h.9M425.5 9.5h.9M432 9.5h.9M438.5 9.5h.9M445 9.5h.9M451.5 9.5h.9M458 9.5h.9M464.5 9.5h.9M471 9.5h.9M477.5 9.5h.9" class="q2"/>
<path d="M0 242 L484.4 240" stroke="#e23a20" stroke-width="2.2" fill="none"/>
<path d="M0 232 L484.4 232" stroke="#3a4aa8" stroke-width="2.8" stroke-dasharray="11 9" fill="none"/>
<path d="M0 271.5 V0 H484.4" stroke="#6e1530" stroke-width="2" fill="none"/>
</g>
<path d="M826.8 416l-15.7 6.2M996.5 432.4l-36.5 12.7M928.4 423.6l-28.2 10.2M849.3 418.8l-33.1 12.2M787.4 411.9l-4.4 0.8M838.3 417.4l-33.8 12.4M694.1 405l-7.8 1.3M677.7 400.8l-17.9 5.7M568.3 395l-50.2 15.3M892.1 421.4l-13.1 2.5M637.1 398.3l-27.8 8.7M702.5 403.3l-8.8 2.1M888.5 423.6l-5.3 1.7M806 412.5l-15.7 3.7M860.2 419.8l-47.1 8.4M954.9 429.1l-16.9 6.3M572.5 395.6l-14.7 4.1M565.9 390.4l-68.4 11.1M683 405.1l-18.4 7.2M877.5 418.9l-24.2 10M907.5 422.8l-13.5 2.3M922.1 423.1l-19.1 3.6M687.8 403.3l-19.3 6.4M788.4 412.4l-18.4 3.7M723.4 406.5l-25.4 10.6M806 412.7l-5.7 1.6M849.8 420.5l-27.6 11.2M747 408.1l-35.6 11.4M729.5 405.6l-17.1 6.2M898.5 423.2l-17.6 5.1M846.7 418.1l-17.8 3.2M671.4 402l-13.1 4.1M1027.2 432.7l-12.6 2.6M680.5 404.9l-12.9 2.1M628.9 400.2l-29.5 6.5M724.5 408l-17.3 5.3M878.4 423.2l-26.2 10.7M705.2 405.2l-7.3 1.6M848.8 420.5l-12 4.9M911 425.8l-13.8 5.4M782 412.7l-27.9 9.1M594.5 393.2l-37.8 15.6M577.2 392.7l-33 8.5M953.2 428l-32.2 5.6M837.7 418l-29 7M696.2 404l-22.3 5.1M662.4 400.8l-18.1 6.8M622.5 395.8l-14.6 2.7M611.9 395.9l-22.1 6.8M907 422.9l-19.4 3.5M914.5 423.1l-13.3 3.5M686.7 402.7l-19.4 4M915.5 425.5l-12.7 4M644.4 398.1l-39.3 6.6M1018.2 432.3l-39.5 12.8M620.2 398.1l-7.8 1.7M799.6 411.9l-43.6 12.3M865.6 419l-18.8 4.6M779.6 410.6l-15.5 6M888.5 423.6l-10 2.4M709.6 407.9l-20.5 3.9M846.7 419.3l-40.2 8.8M772.1 412.3l-15 5.1M771.7 411.8l-22.1 6.3M950.8 425.9l-17 5.4M572.4 395.3l-41.7 14.1M949.3 426.7l-20 5.5M1006.3 432.9l-20.8 8.7M803.7 416.1l-22.5 5M923.5 427.7l-8.1 1.8M959.7 431.2l-20.6 4M948.9 426.4l-17.1 5.7M984.2 432.4l-20.9 7M1025.7 437l-10.5 1.7M730.4 409.2l-22.9 7.3M880.6 422.6l-30 8.9M625.8 399.2l-23.7 4.5M693.1 402.9l-29.2 8.5M1029.5 433.9l-22.7 6.6M770.5 413.7l-51.1 20.6M1029.4 434l-16.1 5.7M628.1 399.9l-27.1 4.6M811.6 414.4l-5 0.8M584.7 392.4l-70.4 21.2M1034 435.8l-11.8 3.7M724 408.7l-15.5 5.5M734 410l-12.4 4.4M870.7 419.8l-44.3 8.5M777 409.9l-17.1 4.3M786.7 413.6l-4.6 1M842.1 417.6l-23.3 6.1M555.5 390.8l-51.2 13.6M937.1 425.3l-33.8 7M834.6 419.8l-5 1.7M826.9 417.4l-20.6 6.2M784.8 411l-11.7 4.9M618.6 397l-33.1 8.6M830.2 416.9l-21.4 7.7M768 410.4l-9.4 2.4M1002.7 433.6l-8.6 1.8M990.1 430.5l-8.5 2.2M622.5 398.3l-16.9 5.7M1025.3 432.8l-22.6 5.9M911.9 426.1l-36.9 9.1M972 430.7l-9.3 1.9M915.3 426l-50.1 13M807.2 414.8l-42.4 7.2M941.2 429.5l-18.7 6.7M804.4 413l-20.2 8.3M633.3 400.1l-25.7 4.6M857.3 417.7l-23 8.8M662.6 401.6l-6.7 1.5M952.4 428.8l-16.4 3.5M837.7 417.9l-5.3 1.7M717.4 408.7l-23.5 7M863.5 420.5l-9.1 2.5M898.9 421.9l-13.3 3.2M689.5 402.5l-5.4 0.9M766.9 412.8l-16.2 6M825.4 416.6l-11.9 1.9M853.3 421.2l-8.3 3M846.2 420.2l-31.5 8M646.1 400.5l-7.7 2.2M610.1 395.2l-29.2 11.1M970.4 431.6l-30.5 5M648.1 400.3l-24.2 4.8M873.2 419l-7.3 1.5M649.3 402.4l-16 3.5M881.8 421.2l-11.9 2.9M730.9 406.3l-15.3 6M971.6 429.2l-11.8 3.3M573.5 393.6l-36.6 13.1M963 427.3l-37.9 7.2M659.6 403.3l-18.4 6.3M736.1 410.8l-17.6 3.5M841.9 420.5l-8 2.9M800.7 416l-8.7 3.4M679.5 403.9l-16.8 2.8M995.2 433.3l-11 3.2M818.6 418.2l-14 2.7M1018.8 435.7l-16.5 6.3M604.8 397.2l-36.4 9.5M560.7 390.7l-53.1 21.1M631.1 397.5l-8.5 2.2M944.2 429.2l-5.3 1.5M1013.9 431.7l-21.8 5.3M591.6 393.9l-65.5 11.1M622.6 400l-11.2 4.3M948.1 429.7l-11.6 4M665.9 403.9l-7.5 2.9M1003.3 433.8l-20.2 3.5M975.2 428.6l-18.3 4.2M586.6 395.7l-38.7 8.3M693.4 404.6l-27.1 9.3M1023.3 432.6l-35.3 10M704.1 404.4l-8.1 3.3M616.8 397.5l-9.1 3.1M777.7 413.4l-10.7 3.7M645.2 398.5l-13 2.9M949.5 426.4l-17.9 6.9M706.1 405.5l-20 5.3M984 428.9l-28.6 5.7M588.9 396.7l-16.6 6.1M658.4 401.9l-17.8 6.2M770 411.8l-24.9 7.3M783.9 412.7l-9.9 3.3" class="sk"/><path d="M667.8 400.7l-17.6 4.3M591.7 395.4l-39.4 13M660 400l-10.9 3.1M976 428.9l-25.4 8.8M700.5 406l-5.2 2.1M800.1 414l-39.6 8.5M891.6 422.6l-26.3 4.3M701.6 404.8l-30.3 11.9M867.3 420l-7.6 3.1M580.6 396.3l-55.1 17.1M862.5 417.8l-10.8 3.3M692.2 404.5l-20.4 3.3M894.4 423.8l-7.1 2.9M640.9 399.2l-24.3 5.4M781.3 413.6l-16.3 6M808.5 413.9l-23.1 5.6M701 407.2l-16.8 3M781.6 413l-20.7 6.1M692.7 404.3l-11.8 3.1M640.4 397.4l-12.6 4.7M958.3 428.3l-27.2 10.1M667.9 404.6l-18.5 4.2M583.1 396.6l-69.8 25.6M830.3 415.3l-54.3 14.5" class="sb"/>
<g transform="matrix(1 0.09157 0 1 551.6 121.5)">
<rect width="483.8" height="268.5" fill="url(#ta1)"/>
<rect width="483.8" height="268.5" fill="url(#ga1)"/>
<g clip-path="url(#cpa1)"><g filter="url(#bl)">
<ellipse cx="82" cy="218.5" rx="27" ry="20" fill="#e6842a" opacity="0.95"/>
<ellipse cx="82" cy="198.5" rx="30" ry="12" fill="#dc5628" opacity="0.9"/>
<ellipse cx="82" cy="238.5" rx="20" ry="10" fill="#c8a840" opacity="0.8"/>
<ellipse cx="190.5" cy="218.5" rx="27" ry="20" fill="#e6842a" opacity="0.95"/>
<ellipse cx="190.5" cy="198.5" rx="30" ry="12" fill="#dc5628" opacity="0.9"/>
<ellipse cx="190.5" cy="238.5" rx="20" ry="10" fill="#c8a840" opacity="0.8"/>
<ellipse cx="299" cy="218.5" rx="27" ry="20" fill="#e6842a" opacity="0.95"/>
<ellipse cx="299" cy="198.5" rx="30" ry="12" fill="#dc5628" opacity="0.9"/>
<ellipse cx="299" cy="238.5" rx="20" ry="10" fill="#c8a840" opacity="0.8"/>
<ellipse cx="407.5" cy="218.5" rx="27" ry="20" fill="#e6842a" opacity="0.95"/>
<ellipse cx="407.5" cy="198.5" rx="30" ry="12" fill="#dc5628" opacity="0.9"/>
<ellipse cx="407.5" cy="238.5" rx="20" ry="10" fill="#c8a840" opacity="0.8"/>
<ellipse cx="516" cy="218.5" rx="27" ry="20" fill="#e6842a" opacity="0.95"/>
<ellipse cx="516" cy="198.5" rx="30" ry="12" fill="#dc5628" opacity="0.9"/>
<ellipse cx="516" cy="238.5" rx="20" ry="10" fill="#c8a840" opacity="0.8"/>
<ellipse cx="28" cy="224.5" rx="27" ry="25" fill="#b8cf3c"/>
<ellipse cx="9" cy="216.5" rx="12" ry="11" fill="#b8cf3c"/>
<ellipse cx="47" cy="216.5" rx="12" ry="11" fill="#b8cf3c"/>
<ellipse cx="28" cy="240.5" rx="15" ry="14" fill="#8cc84c"/>
<ellipse cx="28" cy="196.5" rx="20" ry="5" fill="#e6842a" opacity="0.8"/>
<ellipse cx="136.5" cy="224.5" rx="27" ry="25" fill="#b8cf3c"/>
<ellipse cx="117.5" cy="216.5" rx="12" ry="11" fill="#b8cf3c"/>
<ellipse cx="155.5" cy="216.5" rx="12" ry="11" fill="#b8cf3c"/>
<ellipse cx="136.5" cy="240.5" rx="15" ry="14" fill="#8cc84c"/>
<ellipse cx="136.5" cy="196.5" rx="20" ry="5" fill="#e6842a" opacity="0.8"/>
<ellipse cx="245" cy="224.5" rx="27" ry="25" fill="#b8cf3c"/>
<ellipse cx="226" cy="216.5" rx="12" ry="11" fill="#b8cf3c"/>
<ellipse cx="264" cy="216.5" rx="12" ry="11" fill="#b8cf3c"/>
<ellipse cx="245" cy="240.5" rx="15" ry="14" fill="#8cc84c"/>
<ellipse cx="245" cy="196.5" rx="20" ry="5" fill="#e6842a" opacity="0.8"/>
<ellipse cx="353.5" cy="224.5" rx="27" ry="25" fill="#b8cf3c"/>
<ellipse cx="334.5" cy="216.5" rx="12" ry="11" fill="#b8cf3c"/>
<ellipse cx="372.5" cy="216.5" rx="12" ry="11" fill="#b8cf3c"/>
<ellipse cx="353.5" cy="240.5" rx="15" ry="14" fill="#8cc84c"/>
<ellipse cx="353.5" cy="196.5" rx="20" ry="5" fill="#e6842a" opacity="0.8"/>
<ellipse cx="462" cy="224.5" rx="27" ry="25" fill="#b8cf3c"/>
<ellipse cx="443" cy="216.5" rx="12" ry="11" fill="#b8cf3c"/>
<ellipse cx="481" cy="216.5" rx="12" ry="11" fill="#b8cf3c"/>
<ellipse cx="462" cy="240.5" rx="15" ry="14" fill="#8cc84c"/>
<ellipse cx="462" cy="196.5" rx="20" ry="5" fill="#e6842a" opacity="0.8"/>
</g></g>
<path d="M-1.5 266.6l9.1 -0.3M4.6 266.6l9.4 -0.1M12.3 266.8l6.5 -0.7M19.5 267.2l4.9 -1.4M27.7 266.7l1.1 -0.3M35 267l-0.9 -1.1M42.2 267.1l-2.9 -1.1M49.7 266.6l-5.2 -0.2M55.5 266.4l-4.2 0.2M62.4 266.1l-5.4 0.8M67.9 266.3l-3.8 0.4M73.5 266.2l-2.4 0.6M78.6 266.5h.9M83.9 266.3l2 0.5M90 266.4l2.4 0.2M95.4 266.2l4.2 0.6M101 266.3l5.5 0.3M106.8 266.5l6.6 0M112.2 266.6l8.5 -0.2M119.7 266.4l6 0.1M127.3 267.1l3.4 -1.1M134.9 267l0.8 -1.1M142.6 266.7l-1.9 -0.3M149.9 266.6l-4.1 -0.2M156.7 266.5l-4.9 -0.1M163.5 266.5l-6.1 0M169.6 266.2l-5.5 0.6M175.3 266.2l-4.4 0.5M180.7 266.4l-2.6 0.2M186.4 266l-1.4 1M191.6 266.3l0.9 0.4M196.7 266.1l3.2 0.8M202.4 266.4l4.4 0.3M208 266.4l5.8 0.3M213.9 266.3l6.6 0.5M220.5 266.5l6.1 0.1M226.8 267.1l5.9 -1.2M234 267.1l4.2 -1.3M241.6 267.1l1.6 -1.2M249.5 267.1l-1.6 -1.2M256.6 266.8l-3.3 -0.5M264.4 267.2l-6.2 -1.4M270.9 266.8l-6.5 -0.6M276.9 266.1l-6 0.8M282.3 266.7l-4.2 -0.5M288.4 266.4l-3.8 0.2M293.8 266l-2 1M299.1 266.5h.9M304.2 266.4l2.3 0.2M309.9 266.6l3.6 -0.1M315.6 266.5l4.7 0M321 266.3l6.7 0.4M327.9 266.3l5.5 0.4M334 266.8l5.8 -0.7M340.8 266.6l4.8 -0.2M348.8 267.1l1.5 -1.2M356.5 266.4l-1.4 0.3M363.9 267.5l-3.5 -1.9M371.1 266.5l-5.4 0M378.3 266.6l-7.1 -0.3M383.8 266.6l-5.7 -0.2M390.3 266.7l-6 -0.4M396 266.7l-4.7 -0.4M401.6 266.1l-3.3 0.8M406.6 266.6l-0.8 -0.1M412 266.3l1.1 0.4M418 266.1l1.6 0.9M423.2 266.2l3.8 0.7M428.7 266.3l5.5 0.4M434.7 266.5l5.9 -0.1M441.6 266.7l4.8 -0.4M448.5 267l3.5 -1.1M456.3 266.9l0.5 -0.8M464.3 267.4l-2.9 -1.8M471.4 266.9l-4.4 -0.8M479.4 266.5l-7.8 0M-2.2 260.4l10.4 -0.5M4.1 261.1l10.4 -1.7M11.9 261.1l7.4 -1.7M19.1 262.2l5.7 -4M27.8 262.3l0.8 -4.3M35.7 262.9l-2.5 -5.5M42.7 261.7l-3.8 -2.9M50.1 260.3l-6 -0.2M56.5 259.7l-6.2 0.9M62.3 259l-5.2 2.3M68.3 259.5l-4.6 1.3M73.1 258.7l-1.5 2.9M79.2 259.2l-1.2 2M84 258.7l1.9 3M89.7 258.8l3 2.7M95.2 259l4.6 2.4M100.1 259.6l7.3 1.1M105.8 259.9l8.6 0.5M112.7 260.4l7.5 -0.4M119.6 261l6.2 -1.6M127.5 262.1l3.1 -3.7M134.5 262.4l1.6 -4.3M142.4 262.1l-1.6 -3.8M150.6 261.6l-5.3 -2.8M157.6 260.6l-6.8 -0.8M164.5 259.8l-7.9 0.8M170 259.7l-6.5 1.1M175.8 259.6l-5.4 1.2M181.1 259.2l-3.3 2.1M186.1 258.7l-0.9 2.9M192.2 259.1l-0.5 2.2M197.2 259.3l2.1 1.8M202.3 259.3l4.5 1.7M207.7 258.8l6.4 2.7M213.5 259.7l7.4 1.1M220 260.3l6.9 -0.3M226.4 261.4l6.7 -2.4M233.7 261.4l4.8 -2.3M241.9 261.5l1 -2.6M249.7 262.2l-1.9 -4.1M257.5 261.7l-5.1 -3.1M264.5 261.3l-6.5 -2.2M271.5 260.1l-7.7 0.1M277.6 260.2l-7.3 0.1M282.8 259.3l-5.2 1.9M288.5 259.1l-3.9 2.2M293.8 258.9l-2 2.6M299.3 258.6l-0.3 3.2M304.6 259.4l1.5 1.7M309.7 259.1l4 2.3M315.3 259.3l5.3 1.8M320.9 259.5l6.8 1.3M327 260.4l7.2 -0.3M333.9 260.8l6 -1.2M341.2 261.4l4.1 -2.4M348.4 261.5l2.2 -2.6M356.6 262l-1.6 -3.5M364.5 261.8l-4.8 -3.3M371.4 261.2l-6 -2.1M378.5 260.4l-7.7 -0.3M384.8 260.1l-7.5 0.2M390.6 259.1l-6.6 2.2M396.4 258.8l-5.5 2.7M401.8 259.3l-3.7 1.9M406.7 258.9l-0.9 2.6M411.7 258.8l1.5 2.8M417.3 259.3l3.1 1.9M423.3 258.9l3.6 2.6M428.8 259.9l5.2 0.6M434.3 259.9l6.9 0.6M440.9 260.8l6.2 -1.3M448.4 261.5l3.7 -2.6M456.1 261.7l1 -2.9M464.3 262l-2.7 -3.6M471.8 262.6l-5.3 -4.8M478.9 261.5l-6.8 -2.6M-2.2 254l10.5 -0.1M4.4 255.7l9.9 -3.5M11 256.4l9.2 -5M18.8 257.7l6.2 -7.7M27.8 257.8l0.7 -7.8M35.9 257.5l-2.8 -7.2M43.7 256.3l-5.9 -4.8M50.9 254.8l-7.6 -1.8M57.4 254l-8.1 -0.1M62.8 252.7l-6.2 2.4M68.7 252l-5.4 3.8M73.4 251.5l-2.2 4.9M78.6 251.6l0 4.7M84.1 251.6l1.7 4.6M89.4 252l3.6 3.8M94.8 252.3l5.4 3.1M100.2 252.2l7.1 3.4M105.5 253l9.3 1.7M111.9 254.8l9.1 -1.9M118.4 255.6l8.6 -3.4M126.4 257.6l5.3 -7.5M134.5 257.6l1.7 -7.4M143.3 257.4l-3.3 -6.9M151.4 256.4l-7 -5.1M158.4 255.1l-8.5 -2.4M164.5 253.7l-8 0.4M170.9 253l-8.3 1.9M176.2 251.9l-6.2 3.9M181.3 251.7l-3.7 4.5M186.7 251.6l-2.1 4.7M191.2 251.4l1.6 4.9M197 251.9l2.5 3.9M202.1 252l5.1 3.8M207.3 251.8l7.1 4.3M213.3 253.1l7.9 1.6M218.9 254.6l9.2 -1.4M225.6 255.6l8.3 -3.5M233.3 256.9l5.5 -6M241.5 257.8l1.8 -7.7M250 257.3l-2.6 -6.9M258.2 257l-6.5 -6.2M265.2 255.7l-7.7 -3.6M271.9 254.2l-8.5 -0.7M277.9 253l-8.1 1.7M283.7 252.1l-6.9 3.6M288.9 252l-4.7 3.9M294.1 251.6l-2.5 4.6M299.1 251.9l0 3.9M304.6 251.4l1.5 5M309.5 251.5l4.4 4.8M314.9 252l6.3 3.8M320.4 252.4l7.7 3M326.1 253.8l9.1 0.1M333 255.9l7.7 -4M340.1 257.6l6.3 -7.4M348.2 257.4l2.5 -7.1M356.7 258l-1.7 -8.3M364.9 257.1l-5.6 -6.4M372.4 255.6l-8 -3.3M379.3 254.2l-9.2 -0.7M385.7 253.3l-9.4 1.1M390.7 252.3l-6.9 3.1M396.4 251.4l-5.7 5M401.4 251.7l-2.9 4.4M407.2 251.6l-2 4.5M412.4 251.7l0.1 4.5M417.3 251.9l3 4M422.6 252.2l5 3.5M428.3 252.7l6.1 2.5M434 253.7l7.5 0.3M440.2 255.4l7.6 -2.9M447.1 256l6.3 -4.1M455.5 257.6l2.2 -7.3M463.5 258.1l-1.1 -8.5M472.8 257.6l-7.3 -7.4M480.1 256.5l-9.2 -5.1M-2.2 247.4l10.5 0.4M4.2 249l10.1 -2.8M11.3 250.6l8.7 -5.9M19.3 252.1l5.3 -9.1M27.7 252.8l1.1 -10.4M36.2 252.6l-3.5 -9.9M44.7 251.1l-7.8 -7M52.1 248.7l-9.9 -2.2M58.5 246.2l-10.1 2.7M63.7 245.1l-8 5M68.8 244.5l-5.6 6.3M73.2 244.4l-1.8 6.5M78.9 244.9l-0.6 5.4M84.2 243.9l1.4 7.4M89.3 244.1l3.8 7M94.1 244.2l6.8 6.8M99.7 244.7l8.2 5.9M105.1 246.2l10.1 2.9M111.2 248.2l10.4 -1.2M118.4 250.6l8.6 -6M126.1 252l5.9 -8.7M134.9 252.8l0.8 -10.5M143.2 252.6l-3.2 -10M151.8 251.1l-7.9 -6.9M159.3 248.9l-10.2 -2.6M165.7 247l-10.4 1.2M170.9 245.4l-8.2 4.4M176.4 244.2l-6.5 6.8M181.3 244.3l-3.7 6.6M186.8 244l-2.2 7.2M191.7 244.5l0.5 6.2M196.8 244.3l3 6.6M202.2 244.5l4.8 6.2M207.1 245.4l7.5 4.4M212.4 245.8l9.5 3.6M218.3 247.7l10.5 -0.3M225.1 249.8l9.5 -4.5M232.9 251.7l6.5 -8.3M241.7 252.8l1.5 -10.4M249.6 252.8l-1.8 -10.3M258.3 251.7l-6.6 -8.1M266.1 249.8l-9.5 -4.5M272.8 247.4l-10.5 0.4M278.5 245.6l-9.2 4.1M284.1 244.7l-7.8 5.9M288.9 244.5l-4.8 6.2M294.1 244l-2.6 7.2M299.3 244.6l-0.3 5.9M304.4 244.3l1.9 6.6M309.6 244.4l4.2 6.3M314.4 245.1l7.2 5.1M320 245.9l8.5 3.3M325.4 247.3l10.5 0.6M331.9 249.3l9.9 -3.5M339.6 251.4l7.3 -7.6M348.3 252.7l2.3 -10.2M356.6 252.8l-1.7 -10.4M365.6 251.5l-6.9 -7.9M373.2 249.8l-9.5 -4.5M379.9 247.9l-10.5 -0.6M386 246l-10 3.1M391.5 244.7l-8.5 5.8M396.3 244.5l-5.5 6.1M401.6 244.3l-3.5 6.6M407.1 244.5l-1.8 6.3M412.2 244.4l0.6 6.4M417.5 244.3l2.7 6.6M422.3 244.4l5.6 6.4M426.8 245.5l9.3 4.3M432.6 246.9l10.1 1.5M439.1 249.5l9.8 -3.8M446.5 251.3l7.5 -7.3M455.3 252.7l2.6 -10.2M464 252.7l-2.2 -10.3M472.4 251.8l-6.4 -8.3M480 250.4l-8.9 -5.5M-2.2 240.8l10.5 0.9M4.2 242.4l10.3 -2.1M11.6 244.7l8 -6.8M19.7 246.1l4.3 -9.6M27.9 246.5l0.5 -10.5M36.3 246.2l-3.6 -9.9M44.4 245.1l-7.3 -7.6M52.3 242.2l-10.3 -1.8M58.4 239.7l-10 3.2M63.6 237.8l-7.9 7M68.4 236.7l-4.9 9.3M73.4 237l-2.3 8.5M78.7 236.7l-0.2 9.2M84.2 236.9l1.4 8.9M89.7 237l3 8.5M94.7 236.9l5.7 8.8M100.4 237.3l6.8 8M105.2 239.4l9.8 3.8M111.2 241.3l10.5 0.1M118.4 244.4l8.5 -6.2M126.4 245.9l5.2 -9.1M134.8 246.5l1 -10.5M143.3 246.3l-3.5 -9.9M151.6 245l-7.4 -7.5M159.3 242.7l-10.1 -2.7M165.6 240.2l-10.3 2.2M170.9 238.1l-8.3 6.5M176 236.9l-5.8 8.7M181.2 237l-3.6 8.7M186.7 237.2l-1.9 8.1M191.8 237l0.3 8.5M197.2 236.6l2.3 9.5M201.9 236.8l5.5 9M207.3 237.5l7.2 7.7M212.7 238.6l9.1 5.3M218.3 241.2l10.5 0.3M225.1 243.5l9.5 -4.5M233.3 245.7l5.6 -8.9M241.7 246.5l1.5 -10.4M250 246.4l-2.6 -10.2M258.1 245.5l-6.2 -8.5M266.2 243.2l-9.8 -3.7M272.8 240.3l-10.3 1.9M278.4 238.6l-9 5.4M283.4 237.1l-6.4 8.3M288.4 236.9l-3.7 8.9M294.2 236.8l-2.7 9M298.8 236.9l0.6 8.9M304.5 236.8l1.8 9M310.1 236.7l3.2 9.2M314.7 237.2l6.6 8.2M320.2 238l8.2 6.5M325.4 240.6l10.4 1.5M332.1 243.3l9.7 -4.1M339.9 245.4l6.5 -8.2M348.3 246.4l2.4 -10.2M356.8 246.4l-2.1 -10.3M365 245.7l-5.7 -8.8M372.9 243.9l-9.1 -5.3M379.9 241.2l-10.5 0.2M385.6 238.7l-9.1 5.2M390.8 237.4l-7.1 7.8M396 236.6l-4.9 9.3M401.1 236.6l-2.4 9.4M406.5 236.6l-0.5 9.4M411.7 236.9l1.5 8.7M417.7 236.9l2.1 8.8M422.3 236.9l5.6 8.9M427.4 237.9l8.1 6.7M432.8 239.4l9.8 3.8M439 242.9l10 -3.2M446.9 245.3l6.8 -8M455.4 246.4l2.4 -10.2M463.4 246.5l-1.1 -10.4M471.6 246l-4.8 -9.3M479.8 244.3l-8.6 -6.1M-1.8 232.8l9.6 4.4M4.1 235.8l10.4 -1.7M12.1 238.9l7 -7.8M20.2 240l3.3 -10M28 240.2l0.4 -10.5M35.9 240.1l-2.8 -10.1M44.1 239.1l-6.6 -8.2M52.3 235.7l-10.4 -1.4M57.7 232l-8.6 6M62.2 230.4l-5 9.2M67.8 230.1l-3.6 9.9M72.9 229.8l-1.2 10.4M79.3 229.8l-1.4 10.4M84.5 229.9l0.7 10.1M89.4 230.1l3.5 9.9M95.6 230.1l3.8 9.8M101.2 230.4l5.2 9.1M105.9 231.9l8.5 6.2M111.2 234.5l10.5 1M118.7 238.4l8 -6.8M127.3 240l3.5 -9.9M135 240.2l0.6 -10.5M142.7 240.1l-2.2 -10.3M150.9 239.3l-6.1 -8.6M159.3 236.2l-10.2 -2.4M165 232.2l-8.9 5.6M170 230.8l-6.3 8.4M175 230.1l-3.8 9.8M180.2 229.8l-1.5 10.4M185.9 229.8l-0.4 10.5M191.6 229.9l0.7 10.2M197.5 229.8l1.6 10.4M203.3 229.9l2.7 10.1M208.3 230.4l5.1 9.2M213.6 231.2l7.2 7.6M218.5 233.5l10.1 2.9M225.3 237.8l8.9 -5.5M233.8 239.7l4.6 -9.4M241.9 240.2l1 -10.5M249.4 240.2l-1.5 -10.4M257.6 239.6l-5.2 -9.1M266 237.3l-9.5 -4.5M272.5 233.2l-9.8 3.7M277.5 231.1l-7.1 7.7M282.4 230.2l-4.3 9.6M288.5 230.1l-4 9.7M293.3 229.8l-1.1 10.4M298.9 229.8l0.3 10.3M304.9 229.8l1.1 10.4M310.6 229.9l2.2 10.3M315.4 230.5l5.3 9.1M321.1 230.9l6.5 8.3M325.9 232.8l9.5 4.5M332.1 237.2l9.6 -4.4M340.6 239.6l5.2 -9.1M348.7 240.2l1.5 -10.4M356.4 240.2l-1.1 -10.4M364.4 239.7l-4.5 -9.5M372.7 238l-8.6 -6M379.8 233.8l-10.2 2.4M384.7 231.3l-7.4 7.4M389.9 230.4l-5.1 9.2M395.4 230.1l-3.6 9.9M400.9 230l-2 10.1M406.4 229.8l-0.5 10.5M412.1 230l0.7 10M417.8 229.9l2.1 10.3M423.4 230l3.5 9.9M428.4 230.7l5.9 8.7M433.3 232.1l8.8 5.8M438.9 236l10.3 -2M447.4 239.4l5.8 -8.8M455.6 240.2l2 -10.3M463.4 240.2l-1.1 -10.4M471 239.9l-3.6 -9.9M479.4 238.5l-7.9 -7M0.4 224.1l5.2 9.1M4.7 229.9l9.1 -2.4M14 233.7l3.2 -10M21.4 233.9l1 -10.5M28 233.9l0.4 -10.5M34.7 233.9l-0.5 -10.5M42 233.8l-2.4 -10.2M50.9 228.5l-7.6 0.5M54.8 223.6l-2.7 10.1M60.2 223.5l-1 10.5M66.4 223.5l-0.8 10.5M72.2 223.5l0.2 10.5M78.6 223.5l0 10.5M84.4 223.5l1 10.5M91 223.5l0.4 10.5M97 223.5l1.1 10.4M102.9 223.5l1.8 10.4M108.1 223.8l3.9 9.7M112 226.6l8.7 4.2M120.9 233.6l3.5 -9.9M128.4 233.9l1.2 -10.4M135 233.9l0.7 -10.5M141.9 233.9l-0.6 -10.5M148.9 233.9l-2 -10.3M158.4 231.3l-8.4 -5.1M162.5 223.9l-4.1 9.7M167.7 223.5l-1.8 10.3M173.7 223.5l-1.3 10.4M179.6 223.5l-0.4 10.5M185.3 223.5l0.8 10.5M192 223.5l0 10.5M198.2 223.5l0.2 10.5M204.3 223.5l0.6 10.5M210.1 223.5l1.6 10.4M215.8 223.6l2.8 10.1M220.1 224.7l6.7 8.1M227.3 233.3l4.9 -9.3M235.4 233.9l1.4 -10.4M242.3 233.9l0.2 -10.5M249 233.9l-0.6 -10.5M256 233.9l-1.9 -10.3M264.5 232.9l-6.4 -8.3M270.3 224.2l-5.4 9M275.2 223.6l-2.5 10.2M280.9 223.5l-1.3 10.4M287.6 223.6l-2.2 10.3M292.8 223.5l0 10.5M299.4 223.5l-0.5 10.5M305.7 223.5l-0.6 10.5M311.6 223.5l0.2 10.5M317.7 223.5l0.6 10.5M323.3 223.6l2.1 10.3M328.4 223.9l4.3 9.6M333.2 232.4l7.4 -7.5M342.3 233.9l1.9 -10.3M349.3 233.9l0.5 -10.5M355.9 233.9l-0.3 -10.5M363 233.9l-1.7 -10.4M370.6 233.5l-4.4 -9.5M378.3 224.9l-7.2 7.7M382.5 223.7l-3 10.1M388.2 223.5l-1.8 10.3M393.8 223.5l-0.4 10.5M400.5 223.5l-1.3 10.4M406.9 223.5l-1.4 10.4M412.5 223.5l0 10.3M419.1 223.5l-0.6 10.5M424.4 223.5l1.4 10.4M430.4 223.5l1.9 10.3M435.9 223.8l3.5 9.9M440.3 230.6l7.5 -3.9M449.3 233.9l2 -10.3M456.2 233.9l0.7 -10.5M463.2 233.9l-0.6 -10.5M470 233.9l-1.5 -10.4M477.2 233.7l-3.3 -10M6 218.1l-5.9 8.7M14.5 223.4l-10.3 -1.9M17.6 227.3l-4 -9.7M22.5 227.6l-1.2 -10.4M28 227.6l0.4 -10.5M33.5 227.6l2 -10.3M38.4 227.1l4.8 -9.4M41.9 221.9l10.5 0.9M50.4 218.1l6 8.6M57.9 217.5l3.7 9.8M64.9 217.3l2.3 10.3M71.7 217.2l1.2 10.4M77.9 217.2l1.5 10.4M84.8 217.2l0.2 10.5M91.5 217.2l-0.7 10.5M98.1 217.2l-1.3 10.4M104.9 217.3l-2.3 10.2M112.3 217.6l-4.4 9.5M121.4 220.8l-10 3.1M125.6 226.8l-5.8 -8.8M130 227.5l-2.1 -10.3M135.3 227.6l0 -10.5M140.9 227.6l1.3 -10.4M145.8 227.2l4.1 -9.7M149.3 224.3l9.8 -3.8M157 218.5l7 7.8M165.4 217.4l2.9 10.1M172.2 217.2l1.8 10.3M179 217.2l0.8 10.5M185.4 217.2l0.6 10.5M191.8 217.2l0.4 10.5M198.5 217.2l-0.5 10.5M205.3 217.2l-1.3 10.4M211.9 217.2l-2 10.3M219.1 217.5l-3.9 9.8M227.9 219.5l-8.8 5.7M233.3 226.3l-7.1 -7.7M237.4 227.5l-2.6 -10.2M242.8 227.6l-0.8 -10.5M248.3 227.6l0.7 -10.5M253.4 227.4l3.1 -10M257.2 225.7l8.2 -6.6M264.1 218.5l7.1 7.8M272.1 217.5l3.7 9.8M279.2 217.2l2 10.3M286.1 217.2l0.8 10.5M292.9 217.2l-0.3 10.5M299 217.2l0.1 10.5M305.7 217.2l-0.6 10.5M312.3 217.2l-1.1 10.4M319.1 217.3l-2.1 10.3M326.2 217.5l-3.8 9.8M334.3 218.7l-7.4 7.5M341.2 225.4l-8.7 -5.9M344.7 227.4l-3 -10.1M350.1 227.6l-1.2 -10.4M355.6 227.6l0.4 -10.5M360.8 227.5l2.6 -10.2M365.2 226.5l6.5 -8.3M370.3 219.5l8.7 5.8M378.9 217.6l4.2 9.6M386.1 217.3l2.4 10.2M393.3 217.2l0.6 10.5M399.8 217.2l0.2 10.5M406 217.2l0.5 10.4M412.8 217.2l-0.7 10.5M419.4 217.2l-1.1 10.4M426 217.2l-1.8 10.3M433 217.4l-3.2 10M441 218.3l-6.6 8.2M449 223.8l-10.1 -2.9M452.5 227.2l-4.4 -9.5M457.3 227.6l-1.5 -10.4M463.1 227.6l-0.3 -10.5M468.4 227.6l1.6 -10.4M473.1 227.1l4.8 -9.3M7.9 214.2l-9.8 3.9M14.4 217.5l-10.1 -2.8M18.6 220.4l-5.9 -8.7M23.3 221.2l-2.8 -10.1M28 221.3l0.4 -10.5M32.8 221.1l3.4 -9.9M37.3 220l7 -7.8M41.9 216.9l10.4 -1.6M48.8 213.6l9.3 4.9M56.3 212.1l6.8 8M63.8 211.3l4.3 9.6M71.1 211.3l2.4 9.7M77.8 210.9l1.7 10.4M84.7 210.9l0.3 10.3M92.4 211.3l-2.3 9.7M99.5 211.3l-4.1 9.7M106.6 211.7l-5.7 8.8M114.4 213.1l-8.6 6M121.6 216.2l-10.5 -0.1M126.6 219.6l-7.8 -7M130.9 221l-3.9 -9.8M135.4 221.3l-0.2 -10.5M140.2 221.2l2.8 -10.1M144.7 220.2l6.4 -8.3M149.1 217.4l10.2 -2.6M155.7 213.9l9.6 4.3M163.3 212.2l6.9 7.9M171.1 211.2l4 9.7M178.1 211l2.5 10.2M185.2 211l1.1 10.1M191.8 210.9l0.4 10.4M199 210.9l-1.3 10.4M206.1 211.1l-3 10.1M213.6 211.6l-5.4 9M221 212.5l-7.7 7.2M228.7 215.4l-10.4 1.3M234.3 218.9l-8.9 -5.5M238.5 220.8l-4.9 -9.3M243 221.3l-1.2 -10.4M247.8 221.3l1.8 -10.3M252.3 220.6l5.4 -9M256.5 218.3l9.5 -4.4M262.6 214.4l10 3.3M270.4 212.2l6.9 7.9M277.7 211.5l5 9.3M285 211.1l2.9 10.1M292.3 211l0.9 10.2M299 210.9l0.2 10.5M306.1 211.1l-1.5 9.9M313.1 211.1l-2.9 10.1M320.1 211.3l-4.3 9.6M328 212.4l-7.4 7.5M335.6 214.4l-9.9 3.4M341.8 217.9l-9.9 -3.5M346 220.6l-5.5 -8.9M350.7 221.2l-2.4 -10.2M355.2 221.3l1.2 -10.4M359.8 220.8l4.5 -9.5M364.1 219.1l8.6 -6.1M369.5 215.4l10.4 1.3M377 212.7l8 6.8M384.7 211.5l5.2 9.1M392.2 211l2.7 10.1M399 211.3l1.7 9.6M406.2 211.2l-0.1 9.7M413.4 211.3l-1.7 9.5M420.1 211.2l-2.6 9.7M427.4 211.4l-4.7 9.4M434.9 212.2l-7 7.9M442.6 214.2l-9.8 3.9M449 217.6l-10.1 -3M453.5 220.3l-6.4 -8.3M458.2 221.1l-3.1 -10M462.8 221.3l0.1 -10.5M467.4 221l3.5 -9.9M471.7 219.8l7.5 -7.3M8.2 209.6l-10.5 0.3M14.1 211.9l-9.6 -4.3M19.3 213.5l-7.5 -7.4M23.6 214.8l-3.3 -10M27.7 215l1 -10.5M32.5 214.6l4.1 -9.7M37 213.4l7.6 -7.3M42.1 211.3l10 -3.1M48.3 208.4l10.1 2.8M55.5 206.6l8.4 6.4M62.9 206l6.1 7.6M70.7 205.8l3.2 7.9M77.7 205.6l1.7 8.4M85 205.8l-0.2 8M92.4 205.5l-2.3 8.7M99.4 205.7l-3.8 8.1M107.6 206.4l-7.7 6.9M115 208l-9.9 3.5M121.6 210.4l-10.4 -1.3M127 212.8l-8.6 -6.1M131.1 214.6l-4.3 -9.6M135.7 215l-0.9 -10.5M140.1 214.8l3.1 -10M144.2 213.6l7.3 -7.5M149.2 211.2l10.1 -2.9M155.3 209l10.4 1.6M162.6 206.6l8.3 6.4M170.2 205.8l5.8 8M177.6 205.1l3.6 9.3M184.9 205.6l1.7 8.4M192.1 205.6l-0.2 8.4M199.4 205.5l-2.1 8.7M206.5 205.6l-3.9 8.4M214 206.2l-6.2 7.2M221.9 207.5l-9.4 4.7M228.7 209.6l-10.5 0.4M234.1 212.8l-8.6 -6M238.9 214.3l-5.5 -8.9M243.2 215l-1.6 -10.4M247.5 214.9l2.5 -10.2M251.8 214l6.4 -8.4M256.5 211.9l9.6 -4.2M262.4 209.5l10.5 0.5M269.5 206.9l8.7 5.8M277.2 205.6l6 8.3M284.7 205.1l3.7 9.4M291.7 205l2.3 9.5M298.9 205.6l0.5 8.3M306.3 205.3l-1.8 8.9M313.5 205.6l-3.6 8.4M321.4 205.8l-6.8 8M328.7 207l-8.8 5.7M335.8 209.1l-10.4 1.4M341.7 211.8l-9.7 -4M346.2 214.1l-6 -8.6M350.5 214.9l-2.1 -10.3M355.1 215l1.4 -10.4M359.6 214.4l5 -9.2M363.9 212.6l8.9 -5.5M369.5 210l10.5 -0.4M376.4 207.3l9.2 5M384 206.1l6.6 7.3M391.4 205.2l4.4 9.3M399 205.8l1.8 8M406.5 205.3l-0.5 8.9M413.1 205.6l-1.1 8.3M420.7 205.4l-3.8 8.7M428.1 205.9l-5.9 7.9M435.8 207l-8.8 5.7M442.9 208.9l-10.3 1.8M448.9 211.6l-9.9 -3.5M453.8 213.7l-7 -7.8M458.4 214.7l-3.5 -9.9M462.8 215l0.2 -10.5M467.2 214.7l4 -9.7M471.8 213.5l7.5 -7.4M7.3 204l-8.5 -1.1M13.7 205.9l-8.8 -4.7M18.8 207.7l-6.3 -8.4M24 208.3l-4.2 -9.6M27.8 208.7l0.8 -10.5M32.5 208.3l4 -9.7M36.8 206.9l8 -6.7M42.1 205.1l10 -3.2M48.8 202.7l9.1 1.7M56 202l7.3 2.9M62.8 200.1l6.4 6.9M71.1 200.5l2.4 6.1M77.9 200l1.4 6.9M84.9 200.2l0 6.5M92.2 200.4l-2 6.2M99.8 201l-4.7 5M107.1 201.7l-6.5 3.7M114.1 202.7l-7.9 1.6M121 204.7l-9.1 -2.4M126.9 206.7l-8.4 -6.3M131.3 208.2l-4.5 -9.5M135.8 208.7l-1 -10.5M139.5 208.3l4.3 -9.6M144.1 207.2l7.5 -7.3M149.2 205.1l10 -3.3M155.7 202.9l9.6 1.2M162.8 201.4l8.1 4.2M170.4 200.5l5.4 6.1M177.8 200.3l3.3 6.4M185.1 199.6l1.2 7.7M192.2 200.3l-0.5 6.4M199.3 200.3l-2.1 6.3M206.3 200.3l-3.4 6.3M213.7 201.2l-5.6 4.6M221.3 202.1l-8.2 2.8M228.2 203.8l-9.5 -0.6M234.3 206.2l-8.9 -5.5M238.8 208l-5.4 -9M243.3 208.7l-1.8 -10.3M247.2 208.5l3 -10.1M251.9 207.8l6.1 -8.5M257.2 205.6l8.2 -4.3M262.6 204l9.9 -1M270 202.1l7.8 2.8M276.6 201.2l7.2 4.7M285.1 200.5l2.8 6M291.7 200.3l2.1 6.4M299 199.9l0.2 7.2M306.2 200.5l-1.5 6M313.2 200.3l-2.9 6.4M320.6 201.1l-5.3 4.7M328 201.9l-7.4 3.1M335.4 203.5l-9.6 0M341.6 205.8l-9.4 -4.6M346.8 207.4l-7.1 -7.7M350.7 208.6l-2.4 -10.2M355.4 208.7l0.9 -10.5M359.3 207.9l5.7 -8.8M364.1 206.1l8.5 -5.2M370.1 203.8l9.2 -0.7M377 202.3l7.9 2.4M384.5 200.8l5.6 5.4M391.7 200.4l3.8 6.2M399.1 200l1.6 6.9M406.3 200l-0.3 6.9M413.1 200.3l-1.1 6.5M421.2 200.7l-4.8 5.6M427.7 200.8l-5.3 5.4M435.2 201.2l-7.6 4.6M442.7 203.8l-10 -0.7M448.2 206.3l-8.5 -5.6M453.8 207.4l-7 -7.8M458.2 208.5l-3.1 -10M462.3 208.7l1.3 -10.4M466.9 208.2l4.6 -9.4M471.7 207.1l7.7 -7.2M5.8 197.9l-5.7 -1.4M12.3 199.9l-6.1 -5.4M18.3 200.8l-5.4 -7.2M23 201.4l-2.1 -8.5M27.9 202.1l0.6 -9.8M32.3 201.4l4.3 -8.3M37.7 199.8l6.2 -5.1M43.5 199l7.2 -3.5M49.7 196.7l7.5 1M57.3 195.8l4.9 2.9M63.8 195.1l4.5 4.3M71 194.9l2.7 4.6M77.7 194.8l1.7 4.9M84.7 194.4l0.4 5.6M91.9 195.1l-1.5 4.2M99.5 195.7l-4 3M106.5 195.7l-5.5 3M112.3 197.4l-4.4 -0.5M119.3 198.8l-5.8 -3.1M124.9 199.5l-4.5 -4.6M130.3 201.2l-2.6 -8M135.3 201.3l0.1 -8.1M140.1 201.1l3 -7.8M145.1 199.8l5.5 -5.2M150.9 198.3l6.6 -2.1M156.8 197.2l7.4 0.1M163.7 195.6l6.2 3.2M170.6 195.2l5 4M177.5 194.6l3.9 5.2M185 194.7l1.4 5M191.6 194.6l0.8 5.2M199.1 194.6l-1.6 5.3M206.3 195.4l-3.4 3.6M213.1 196.1l-4.3 2.3M220.6 197l-6.8 0.5M227 198.2l-7 -1.9M233.3 199.4l-7.1 -4.4M238.3 200.9l-4.4 -7.4M242.9 201.5l-1 -8.5M247.7 201.5l1.9 -8.6M252.6 200.6l4.7 -6.8M258.1 198.5l6.5 -2.7M263.8 197.2l7.6 0M270.6 195.7l6.5 2.9M277.7 195.3l5.1 3.9M284.8 194.9l3.3 4.6M292.3 194.8l0.9 4.8M298.9 195l0.3 4.5M306 194.6l-1.2 5.2M313.1 195.2l-2.9 4.1M320 195.5l-4 3.3M327.4 196.6l-6.1 1.1M333.6 197.3l-6.1 -0.2M340.3 199l-6.8 -3.5M345.1 200.7l-3.8 -7M350.3 201.2l-1.6 -8M355.5 201.4l0.5 -8.4M360.2 200.2l3.7 -6.1M364.9 198.8l6.9 -3.2M371 197.8l7.4 -1.2M378.1 196.5l5.8 1.4M385 195.6l4.6 3.2M392 194.7l3.3 5M398.2 194.7l3.4 5.1M405.7 194.8l1.1 4.9M412.8 194.6l-0.6 5.2M420.3 194.4l-2.9 5.6M426.8 195.9l-3.4 2.7M434.4 196.8l-6 0.9M440.7 198.5l-6 -2.6M447 199.4l-6.1 -4.4M452.6 200.7l-4.5 -7M457.8 201.3l-2.4 -8.2M462.4 202l1.1 -9.6M467.7 200.9l3.1 -7.4M472.5 200.6l5.9 -6.8M5.2 191.7l-4.4 -1.5M11.1 193.1l-3.7 -4.4M16.7 193.7l-2.1 -5.6M22.1 193.9l-0.5 -6M27.7 194.2l1 -6.5M33.5 193.6l1.9 -5.4M38.4 193.2l4.8 -4.5M44.7 192.1l4.7 -2.5M50.7 191.1l5.5 -0.3M57.4 190.1l4.6 1.6M64.4 189.5l3.1 2.9M71 189l2.5 3.8M78 189.1l1.2 3.5M84.8 189.5l0.3 2.9M92 189.4l-1.5 3.1M98.5 189.8l-1.9 2.3M105.2 190.3l-2.8 1.1M111.6 191.2l-3 -0.5M118.5 192.3l-4.1 -2.8M123.7 192.4l-1.9 -3M129.7 193.5l-1.4 -5.2M134.7 194l1.2 -6.3M140.3 193l2.6 -4.2M145.6 192.9l4.6 -4.1M151.5 191.8l5.5 -1.7M158 191.4l5 -1M164.7 189.6l4.2 2.7M170.9 189.4l4.3 2.9M177.9 189.1l3 3.5M184.6 189.3l2.2 3.2M192.1 189.3l-0.3 3.2M199.2 188.8l-1.8 4.1M205.5 189.5l-1.8 2.7M213.2 190.2l-4.5 1.4M219.4 191.1l-4.5 -0.3M225.6 191.6l-4.3 -1.4M231.8 192.8l-4 -3.8M237.4 193.3l-2.6 -4.8M242.7 193.7l-0.7 -5.5M247.3 193.5l2.9 -5.3M252.8 192.9l4.4 -4M259 191.8l4.6 -1.9M264.8 191l5.6 -0.3M271.4 190.2l5 1.3M278.2 189.5l4.1 2.8M284.9 188.8l3.3 4.2M291.6 189l2.5 3.8M298.7 189l0.7 3.7M306.3 188.9l-1.8 4M312.9 189.8l-2.5 2.1M319.8 190.2l-3.5 1.3M326.6 190.6l-4.7 0.7M333 191.9l-4.8 -1.9M339.4 192.4l-5.1 -3M344.6 193.2l-2.9 -4.6M350.1 193.7l-1.3 -5.7M355.3 193.2l1 -4.7M360.5 192.8l3.1 -3.8M366.4 192.6l4.1 -3.3M371.6 191.6l6.2 -1.4M378.4 190.2l5.1 1.4M385.4 190.1l3.9 1.5M391.9 189l3.5 3.8M398.4 189.3l3 3.1M405.4 189.3l1.6 3.2M413.2 189.2l-1.3 3.4M419.6 189.7l-1.5 2.4M426 190l-1.9 1.7M433.2 190.8l-3.6 0.1M439.8 191.4l-4.1 -1M446.3 191.9l-4.6 -2M451.7 193.3l-2.8 -4.8M457.2 193.6l-1.3 -5.4M462.6 193.7l0.6 -5.7M468.1 193.7l2.1 -5.6M473.2 193.1l4.5 -4.4M4.6 185.8l-3.1 -2.4M10.4 186.7l-2.2 -4.2M16.9 186.5l-2.5 -3.9M22.3 187.1l-0.9 -5M28.3 187.5l-0.2 -5.8M34.2 186.3l0.6 -3.5M39.3 186.2l2.9 -3.2M45.8 185.1l2.6 -1M51.2 184.9l4.5 -0.5M58 183.9l3.4 1.3M64.7 183.6l2.6 1.9M71.4 182.8l1.8 3.5M78.2 183.4l0.8 2.5M84.9 183.8l0.1 1.7M90.9 184l0.5 1.2M97.5 184.6h.9M104.5 184.8l-1.4 -0.5M110.9 185.4l-1.6 -1.5M117.6 185.6l-2.3 -1.9M123.6 186.4l-1.8 -3.6M129.1 186.3l-0.1 -3.4M135.1 186.3l0.4 -3.5M140.3 186.2l2.5 -3.2M146.4 185.5l3 -1.8M152.4 185.4l3.7 -1.7M158.8 184.3l3.5 0.6M164.6 184l4.4 1.2M172 183.7l2.3 1.8M178.7 183.3l1.4 2.5M185.8 182.9l-0.2 3.3M191.7 183.2l0.6 2.9M198.8 183.6l-1.1 2M205.4 183.8l-1.5 1.5M212.1 184.9l-2.5 -0.5M218.1 185l-1.7 -0.8M225 185.4l-3 -1.5M230.8 186.1l-1.9 -3M236.1 186.2l0 -3.2M242.1 186.3l0.7 -3.4M247.7 186l2.1 -2.9M253.3 186l3.5 -2.9M259.4 185l3.9 -0.9M265.4 184.1l4.5 0.9M271.3 183.6l5.1 2.1M278.5 183.3l3.4 2.7M284.8 183.1l3.4 2.9M292.1 183.7l1.4 1.8M298.9 183.1l0.5 2.9M305.7 183.6l-0.6 2M312.7 183.9l-1.9 1.5M319.3 184.5l-2.5 0.2M325.6 185l-2.6 -0.9M332.2 185.6l-3.2 -2M338.3 186.2l-2.9 -3.2M344 186.2l-1.6 -3.1M349.5 186l0.1 -2.9M355.6 186.1l0.5 -3M361 185.6l2.3 -2M367 184.9l2.8 -0.5M372.7 184.5l4.1 0.2M378.4 184.3l5.2 0.5M385.7 184l3.2 1.1M392 183.7l3.2 1.7M399.1 183.7l1.7 1.8M405.3 183.4l1.8 2.4M412.6 183.6l-0.2 2M418.8 184.6h.9M425.5 184.8l-0.7 -0.5M432.6 184.9l-2.5 -0.6M439 185.4l-2.5 -1.7M445.4 186l-2.8 -2.8M451 186.5l-1.5 -3.8M456.9 186.7l-0.7 -4.1M462.7 186.6l0.5 -4.1M467.9 186.5l2.6 -3.8M473.6 185.9l3.9 -2.6M4 179.2l-1.9 -1.9M10.5 179.9l-2.4 -3.2M16.6 180.1l-2 -3.6M22.5 180.1l-1.3 -3.6M28.3 180l-0.1 -3.4M34 179.4l1.1 -2.2M39.8 179.2l1.9 -1.8M46 178.7l2.1 -0.7M51.5 178.1l3.7 0.5M58 177.9l3.4 0.8M64.8 177.8l2.5 1M70.5 177.1l3.7 2.3M77.1 177.3l2.9 2.1M83.9 177.2l2 2.3M90.6 177.9l1.2 0.7M97.8 178l-0.7 0.5M104.3 178.4l-1.1 -0.2M110.4 179l-0.6 -1.4M117.5 179.3l-2.1 -2M122.9 179.6l-0.3 -2.7M128.6 179.2l0.8 -1.9M134.9 179.6l0.8 -2.6M140.7 179l1.8 -1.4M147.2 178.9l1.5 -1.2M152.9 178l2.6 0.6M159.1 178l2.9 0.7M165.3 176.9l2.9 2.7M171.9 177.1l2.5 2.4M178.7 177.4l1.5 1.7M184.7 177.3l2 1.9M191.8 177.8l0.5 1M198.5 177.7l-0.5 1.2M205 177.8l-0.8 0.9M211.3 179l-0.8 -1.3M217.6 179l-0.9 -1.3M224 179.5l-0.9 -2.3M230 179.2l-0.4 -1.8M236 179.9l0.3 -3.3M241.9 179.8l1 -3.1M247.7 179.8l1.9 -3M253.6 179.1l2.8 -1.6M259.8 178.7l3 -0.8M266 177.7l3.2 1.3M272.3 177.4l3.3 1.9M278.5 177.6l3.4 1.4M285.5 177.5l2 1.7M292.9 177.7l-0.2 1.2M299.1 177.6l0 1.3M305 177.3l0.8 2M312.4 178.1l-1.3 0.4M318.7 178l-1.4 0.7M325.5 179.1l-2.4 -1.7M331.7 179.2l-2.2 -1.9M338 179.2l-2.2 -1.7M344 179.6l-1.7 -2.6M349.1 179.6l0.8 -2.5M355.2 179.4l1.2 -2.3M360.8 179l2.5 -1.4M366.7 179.1l3.4 -1.7M372.4 178.1l4.6 0.4M379.5 178.3l2.9 -0.1M385.4 177.9l3.8 0.8M392.1 177.4l3.1 1.7M398.6 177.8l2.5 1M405.3 177.4l1.8 1.8M412.1 177.8l0.9 1M418.8 178.3h.9M425.8 179.1l-1.3 -1.6M432.1 179l-1.4 -1.3M438.7 179.3l-2 -2M444.9 179.7l-1.9 -2.8M450.7 180l-0.8 -3.4M457.1 179.8l-1 -2.9M462.6 179.5l0.7 -2.3M468.3 179.5l1.9 -2.4M474.2 179.3l2.6 -1.9M4.2 173.6l-2.3 -3.2M9.9 173.3l-1.2 -2.6M16.1 173.7l-1 -3.4M22.3 173.4l-0.9 -2.7M27.8 172.6l0.7 -1.2M34.2 173l0.5 -2.1M39.7 172.3l2.2 -0.7M45.6 172.7l2.9 -1.4M52 171.8l2.9 0.4M58.3 171.3l2.9 1.5M64.5 171.4l3 1.2M70.9 171.7l2.7 0.6M77.6 171.5l1.9 1M84.1 172.1l1.5 -0.2M91.2 172h.9M97.5 172h.9M103.7 172.5l0.2 -1M110.2 172.8l-0.1 -1.6M116.9 172.8l-0.9 -1.6M123.3 173.1l-1.1 -2.3M129.1 173.3l-0.3 -2.6M134.8 172.7l0.9 -1.4M141.4 172.8l0.4 -1.6M147.4 172.4l1 -0.8M153.1 171.9l2.1 0.3M159 171.4l2.9 1.1M165.7 171.3l2.3 1.5M172.9 171.2l0.5 1.6M178.6 171.4l1.6 1.3M185.1 171.1l1.3 1.8M191.6 171.4l0.7 1.2M197.8 171.7l1 0.6M204.1 172.3l0.9 -0.5M211.1 172.6l-0.3 -1.2M217.8 172.6l-1.2 -1.2M223.8 172.8l-0.5 -1.6M229.4 172.9l0.8 -1.9M235.9 173.3l0.5 -2.6M242.1 172.6l0.7 -1.3M247.7 172.8l2 -1.6M254.4 172.4l1.2 -0.7M260 171.9l2.6 0.1M266.6 171.7l2 0.6M272.8 171.2l2.2 1.5M279.1 170.9l2.2 2.3M285.9 171.8l1.3 0.4M292.7 171.3l0.3 1.4M299.5 171.3l-0.9 1.4M305.8 171.8l-0.8 0.5M312.1 172.5l-0.8 -1M318.7 172.3l-1.3 -0.6M324.7 172.7l-0.8 -1.4M330.8 172.4l-0.3 -0.8M336.6 172.8l0.7 -1.7M343.3 172.5l-0.2 -1.1M349.2 172.4l0.6 -0.9M355 172.5l1.6 -1.1M360.9 172.2l2.4 -0.5M367 172.7l2.7 -1.3M373 171.9l3.5 0.3M379.8 171.9l2.4 0.1M386.4 171.1l1.8 1.8M392.2 171.3l2.8 1.5M398.8 171.6l2.2 0.7M405.2 172.1l2 -0.2M412.3 171.7l0.5 0.5M418.9 172.5l-0.1 -1M425.5 171.7l-0.8 0.6M432.1 172.6l-1.4 -1.2M438.4 172.9l-1.3 -1.7M444.3 172.8l-0.5 -1.6M450.5 172.7l-0.4 -1.4M457.1 172.9l-1 -1.8M462.6 172.8l0.5 -1.6M468.5 173l1.4 -1.9M474.1 172.6l2.8 -1.1M3.7 166.6l-1.4 -1.8M10.1 166.5l-1.6 -1.7M16 166.6l-0.9 -1.9M22 167l-0.2 -2.6M27.8 167l0.9 -2.6M34.1 165.8l0.8 -0.3M40.2 166.6l1.2 -1.8M45.8 165.7l2.5 0M51.9 165.4l3.1 0.6M58.1 165.2l3.2 0.9M65 165.4l2 0.6M71.6 165.2l1.4 1M77.4 165.5l2.5 0.5M84.9 165.7h.9M91.2 165.7h.9M97.4 166.3l0.3 -1.2M103.9 166.5l-0.2 -1.5M110.3 166.5l-0.3 -1.5M116.9 166.8l-0.9 -2.2M122.6 166.5l0.3 -1.5M129.3 166.6l-0.6 -1.9M135.1 166.6l0.3 -1.9M141.1 166.1l1 -0.8M147.7 166l0.5 -0.6M153.4 165.3l1.6 0.8M160 164.9l1 1.6M165.7 165.1l2.2 1.3M173 164.9l0.2 1.6M178.7 165.1l1.4 1.2M184.9 165.1l1.5 1.1M191.2 165.7l1.6 0.1M197.9 166l0.8 -0.6M204.6 165.7h.9M210.9 165.7h.9M217.2 165.7h.9M223.5 166.5l-0.1 -1.5M230.3 166.6l-1 -1.7M235.8 166.4l0.5 -1.3M241.9 166.4l1 -1.4M248.3 165.8l0.8 -0.3M254.2 166l1.5 -0.7M261 165.4l0.6 0.6M267.2 165.6l0.8 0.2M273.4 164.9l1.1 1.6M279.2 165.2l2 0.9M286 165.2l1.1 1M292.5 165.3l0.6 0.9M298.7 165.5l0.9 0.4M305.4 165.7h.9M311.2 165.7l0.9 0M318.4 166.1l-0.8 -0.8M324.7 166.9l-0.7 -2.4M330.5 166.5l0.3 -1.7M336.7 166.9l0.4 -2.5M343.2 166.4l0.1 -1.4M349.4 166.6l0.2 -1.9M355.1 166.6l1.4 -1.8M361.3 165.7l1.6 0.1M367.6 165.9l1.7 -0.4M373.9 165.6l1.7 0.3M380.2 165.2l1.6 1.1M386.6 165.7l1.5 0M393.2 165.4l0.8 0.6M399.2 165.2l1.3 1M406.2 165.7h.9M412.1 165.7l0.9 0M419.3 166.2l-1 -1M425.4 166l-0.7 -0.6M431.9 165.8l-1 -0.2M438.3 166.2l-1.1 -1.1M444.6 166.8l-1.1 -2.2M450.2 167.1l0.1 -2.7M457 166.4l-0.8 -1.4M462.5 166.8l0.8 -2.1M468 166.3l2.4 -1.2M474.2 165.9l2.5 -0.3M3.6 160.2l-1.3 -1.5M10.3 160.8l-1.9 -2.9M15.6 160.9l0.1 -3M21.5 160.4l0.8 -2M27.7 159.7l1.1 -0.6M34.2 160.2l0.6 -1.5M40.2 159.3l1.2 0.2M46.3 159.2l1.7 0.5M52.5 159.7l1.8 -0.6M59.1 159.1l1.1 0.7M65.1 159.1l1.8 0.6M71.6 158.9l1.3 1M78.2 158.6l0.7 1.6M84.7 159.7l0.4 -0.6M91.2 159.4h.9M97.4 160l0.2 -1.2M103.8 159.4h.9M110.4 160.5l-0.7 -2.1M116.7 160.2l-0.7 -1.5M123.1 159.9l-0.7 -1M129.8 159.9l-1.5 -1M135.7 159.6l-0.8 -0.5M141.5 160.1l0.2 -1.3M147.2 159.6l1.5 -0.4M153.6 159l1.1 0.9M159.6 158.9l1.8 0.9M166 159.3l1.6 0.3M172.3 159l1.6 0.9M178.9 159.3l1 0.3M184.9 159.3l1.6 0.3M191.1 158.8l1.9 1.2M197.9 159.6l0.8 -0.3M204.3 159.7l0.7 -0.5M210.9 159.4h.9M217.2 160.2l0 -1.6M223.5 159.9l-0.1 -1M229.8 159.4h.9M236 160.3l0.3 -1.8M242.4 159.4h.9M248.3 159.5l0.7 -0.3M255 159.4h.9M261.3 159.4h.9M267.4 159l0.4 0.8M273.2 159l1.4 0.8M279.6 159.3l1.1 0.1M285.7 159.5l1.7 -0.3M292.8 159.4h.9M299.1 159.4h.9M304.8 159.2l1.1 0.4M311.4 159.8l0.6 -0.8M318 159.4h.9M323.8 159.5l1 -0.3M330.4 160.2l0.3 -1.6M336.7 160.4l0.5 -2M342.6 160.1l1.3 -1.3M348.7 160.1l1.6 -1.3M355.8 159.4h.9M361.5 159.6l1.3 -0.4M368.2 160l0.4 -1.2M374.5 159l0.5 0.9M380.3 159.2l1.4 0.4M386.4 159.2l1.8 0.4M393.1 159.3l1 0.1M399.8 158.9l0.1 1M406.2 159.4h.9M412.6 159.9l-0.1 -0.9M419 159.9l-0.5 -1M425.2 160.1l-0.3 -1.4M431.5 160.1l-0.3 -1.4M437.9 160.4l-0.4 -2.1M444 160.3l0.1 -1.8M449.9 159.9l0.8 -1M456.4 160.1l0.5 -1.3M461.9 159.7l2 -0.6M468.6 159.6l1.3 -0.3M474.5 159.4l2 0M3.5 153.9l-1.1 -1.6M9.8 153.8l-1 -1.5M16 153.8l-0.8 -1.4M21.9 153.1h.9M28 153.8l0.5 -1.3M34.2 153.6l0.7 -1M40.2 153.1l1.1 0.1M46.6 153.4l1 -0.6M52.6 152.8l1.7 0.7M59.4 152.7l0.7 0.9M65.6 152.7l0.8 0.8M72.3 153.1h.9M77.8 152.5l1.5 1.2M84.4 152.9l1 0.4M91.2 153.1h.9M97.5 153.1h.9M104.2 153.5l-0.7 -0.8M110.1 153.1h.9M116.4 153.6l-0.1 -1.1M122.7 153.6l0 -1.1M128.8 153.8l0.4 -1.4M135.3 153.1h.9M141.6 153.1h.9M147.9 153.1h.9M153.9 152.9l0.6 0.4M159.7 153.2l1.6 -0.2M165.8 152.7l1.9 0.9M172.4 153.1l1.4 0M179.1 152.8l0.7 0.6M185.5 152.8l0.3 0.7M191.5 153l1 0.1M198.3 153.1h.9M204.1 153.5l0.9 -0.7M211.2 153.9l-0.6 -1.7M217.4 153.4l-0.4 -0.7M223.7 153.4l-0.5 -0.6M229.8 153.1h.9M236.1 153.1h.9M241.9 153.5l1 -0.8M248.5 153.4l0.5 -0.7M254.6 153.2l0.8 -0.2M261.3 153.1h.9M267.6 153.1h.9M273.4 152.7l1 0.7M280 152.6l0.4 1M286 152.8l1 0.5M292.8 153.1h.9M298.7 152.9l0.8 0.5M305.4 153.1h.9M312.2 153.3l-1 -0.4M317.9 153.6l0.3 -1M323.9 153.3l0.8 -0.4M330.4 153.6l0.4 -1M336.8 153.8l0.2 -1.3M342.9 153.2l0.7 -0.2M349 153.4l1.1 -0.6M355.8 153.1h.9M362.1 153.1h.9M367.8 153.2l1.2 -0.3M374.7 153.1h.9M380.6 153l0.8 0.2M386.7 152.9l1.1 0.3M393.6 153.1h.9M400.2 152.7l-0.5 0.7M405.9 153.4l0.5 -0.6M412.9 153.3l-0.7 -0.3M418.8 153.1h.9M424.9 153.9l0.3 -1.6M430.9 153.9l1 -1.5M437.5 153.7l0.5 -1.2M444.3 153.8l-0.6 -1.4M450.3 153.1h.9M456.1 153.3l0.9 -0.3M461.9 153.7l2 -1.2M468.4 153.6l1.6 -1M474.6 153.4l1.8 -0.5M3.1 147.1l-0.2 -0.7M9.5 147.4l-0.3 -1.2M15.6 146.8h.9M21.9 147.3l0 -1M28 147.4l0.4 -1.2M34.3 147.3l0.3 -1M40.5 147.4l0.6 -1.3M46.8 147.1l0.6 -0.6M53.4 146.8h.9M59.3 147.1l0.8 -0.6M66 146.8h.9M72.3 146.8h.9M78.6 146.8h.9M84.9 146.8h.9M91.2 146.8h.9M97.8 147.2l-0.7 -0.9M103.8 146.8h.9M110.5 147.4l-0.8 -1.3M116.7 147.5l-0.6 -1.4M122.6 147.2l0.2 -0.7M128.9 147.4l0.1 -1.2M135.3 146.8h.9M141.6 146.8h.9M147.4 147.2l0.9 -0.7M153.5 146.5l1.4 0.6M159.5 147.2l2 -0.8M166.4 146.2l0.8 1.2M173.1 146.8h.9M178.5 146.5l1.7 0.5M185.9 146.5l-0.4 0.7M191.4 146.8l1.3 0.1M198.6 146.3l-0.6 1M204.5 147.1l0.3 -0.7M210.9 146.8h.9M217.2 146.8h.9M223.5 146.8h.9M230 147.4l-0.5 -1.3M236 147.4l0.1 -1.1M241.9 146.5l1 0.6M248.6 147.2l0.2 -0.8M255 146.8h.9M260.9 146.7l0.7 0.2M267.6 146.8h.9M273.5 146.7l0.7 0.2M279.6 146.7l1.2 0.3M286.3 147.4l0.4 -1.3M292.8 146.8h.9M299.1 146.8h.9M305.4 146.8h.9M311.2 146.5l0.9 0.7M318 146.8h.9M324.5 147.2l-0.4 -0.8M330.6 146.8h.9M336.9 146.8h.9M343.2 146.8h.9M349.4 147.4l0.3 -1.3M355.8 146.8h.9M362.1 146.8h.9M368.4 146.8h.9M374.8 146.3l-0.2 1.1M381 146.8h.9M386.8 146.8l1 -0.1M393.2 146.4l0.8 0.7M399.9 146.8h.9M406.2 146.8h.9M412.5 146.8h.9M418.8 146.8h.9M425 147.2l0.3 -0.8M431.4 147.2l-0.1 -0.8M437.7 146.8h.9M443.9 147.4l0.2 -1.2M450.3 146.8h.9M456 147l1.1 -0.5M462.9 146.8h.9M469.2 146.8h.9M475 147.5l0.9 -1.4M3.5 140.7l-1 -0.3M9.3 140.9l0 -0.9M15.8 141.3l-0.5 -1.6M22.4 140.9l-0.9 -0.8M28.2 141l0.1 -0.9M34.5 140.5h.9M40.3 140.8l0.9 -0.5M47.1 141l0 -1M53.8 140.6l-0.7 -0.3M60.1 141l-0.7 -0.9M66 140.5h.9M72.3 140.5h.9M78.6 140.5h.9M84.9 140.5h.9M91.2 140.5h.9M97.4 140.9l0.2 -0.8M104.2 140.5l-0.8 0M110.3 140.8l-0.5 -0.7M116.8 141.2l-0.7 -1.4M122.7 140.5h.9M129 140.5h.9M135.1 140.9l0.4 -0.7M141.1 140.4l1 0.1M147.3 140.8l1.1 -0.6M153.9 140.9l0.6 -0.7M160.5 140.5h.9M166.3 140.4l0.9 0.2M172.6 140.8l1 -0.6M179.4 140.5h.9M185.7 140.5h.9M191.6 140.2l0.8 0.5M198.3 140.5h.9M204.6 140.5h.9M211.2 141.2l-0.5 -1.3M217.2 141l0 -1.1M223.1 141l0.8 -0.9M229.8 140.5h.9M236.3 141.1l-0.4 -1.2M242 140.5l0.8 0.1M248.3 140.7l0.8 -0.5M254.6 140.9l0.7 -0.7M260.6 140.4l1.4 0.2M267.4 140.8l0.5 -0.7M273.9 140.5h.9M280 140l0.4 0.9M286.5 140.5h.9M292.8 140.1l0.1 0.8M299.1 140.5h.9M305.4 140.5h.9M311.7 140.5h.9M318 140.5h.9M324.5 140.8l-0.4 -0.6M330.6 140.5h.9M336.7 141l0.4 -1.1M343.2 140.5h.9M349.5 140.5h.9M355.3 140.3l1 0.5M362.3 140.9l-0.4 -0.8M368.4 140.5h.9M374.8 140.9l-0.2 -0.7M381 140.5h.9M386.9 140.2l0.9 0.6M393.6 140.1l-0.1 0.8M399.9 140.5h.9M406.1 140.8l0.3 -0.7M412 140.9l0.9 -0.8M418.8 140.5h.9M425.1 140.9l0 -0.7M431.1 141.1l0.6 -1.2M437.7 140.5h.9M443.9 141.3l0.2 -1.6M450.1 141.4l0.5 -1.8M456.6 141.1l0.1 -1.2M462.6 141.1l0.7 -1.1M469 140.9l0.3 -0.8M475.1 140.7l0.8 -0.4M3.6 134.1l-1.3 0.1M9.7 134.7l-0.8 -0.9M15.8 134.6l-0.4 -0.8M21.9 134.2h.9M28.1 134.6l0.2 -0.7M34.5 134.2h.9M40.6 134.5l0.4 -0.7M47.5 135l-0.8 -1.5M53.7 134.8l-0.7 -1.3M59.7 134.2h.9M65.7 134.7l0.7 -0.9M72 134.5l0.6 -0.6M78.6 134.2h.9M84.9 134.2h.9M91.2 134.2h.9M97 134l0.9 0.4M103.8 134.2h.9M110.6 134.5l-0.9 -0.6M116.4 134.2h.9M122.7 134.2h.9M129.4 134.4l-0.7 -0.4M135.3 134.2h.9M141.6 134.2h.9M147.9 134.2h.9M154.2 134.2h.9M160.1 134.2l0.7 -0.1M166.8 134.2h.9M173.1 134.2h.9M179.4 134.2h.9M185.4 133.8l0.6 0.7M192 134.2h.9M197.9 134.5l0.8 -0.7M204.6 134.2h.9M210.9 134.2h.9M217.2 134.2h.9M223.5 134.2h.9M229.8 134.2h.9M236.1 134.2h.9M242.4 134.2h.9M248.7 134.2h.9M254.2 134.3l1.7 -0.3M261.3 134.2h.9M267.2 134.7l0.8 -0.9M273.9 134.2h.9M280 133.8l0.3 0.9M286.5 134.2h.9M292.8 134.2h.9M299 134.8l0.2 -1.1M305.4 134.2h.9M311.7 134.2h.9M318 134.7l-0.1 -1M324.3 134.2h.9M330.9 134.5l-0.7 -0.6M337.2 134.5l-0.6 -0.5M343.6 134.5l-0.8 -0.6M349.5 134.2h.9M355.8 134.2h.9M361.8 134.5l0.6 -0.5M368.4 134.2h.9M374.3 134.5l0.7 -0.5M380.4 134.1l1.2 0.1M386.9 134.3l0.7 -0.3M393.6 134.2h.9M399.6 134.6l0.7 -0.7M406.2 134.2h.9M412.5 134.2h.9M418.3 134.4l1 -0.4M425 134.8l0.2 -1.2M431.4 134.2h.9M437.6 134.7l0.3 -1M444 134.2h.9M450.3 134.8l0.1 -1.2M456.6 134.8l0 -1.1M462.9 134.2h.9M468.7 134l1 0.5M475.5 134.2h.9M3 127.9h.9M9.3 127.9h.9M15.6 127.9h.9M22.2 128.4l-0.6 -1.1M28.2 127.9h.9M34.5 128.7l0 -1.6M40.8 127.9h.9M47.1 127.9h.9M53.5 128.4l-0.2 -0.9M59.7 127.9h.9M66 127.9h.9M72.3 128.4l0 -1.1M78.6 127.9h.9M84.9 127.9h.9M91.5 128.2l-0.6 -0.6M97.8 128.2l-0.6 -0.7M103.8 127.9h.9M110.1 127.9h.9M116.7 128.1l-0.6 -0.4M122.7 127.9h.9M129.1 128.3l-0.1 -0.8M135.3 127.9h.9M141.6 127.9h.9M147.9 127.9h.9M154.2 127.9h.9M160.5 127.9h.9M166.8 127.9h.9M173.1 127.9h.9M179.4 127.9h.9M185.5 127.5l0.3 0.8M191.7 127.7l0.6 0.4M198.3 127.9h.9M205 127.9l-0.7 0M211.4 127.9l-1 0M217.2 127.9h.9M223.5 127.9h.9M230.3 127.7l-0.9 0.3M235.8 128.1l0.5 -0.5M242.8 128.5l-0.8 -1.2M248.5 128.3l0.4 -0.8M254.7 128.4l0.6 -0.9M261.6 128l-0.7 -0.3M267.7 128.5l-0.2 -1.1M273.9 127.9h.9M280.2 127.4l0 0.9M286.5 127.9h.9M292.4 128.1l0.8 -0.5M299.1 127.9h.9M305.4 127.9h.9M311.7 127.9h.9M318 127.9h.9M323.9 127.6l0.7 0.5M330.5 128.2l0.3 -0.7M337 128.4l-0.2 -1.1M343.1 128.2l0.3 -0.7M349.7 128.2l-0.5 -0.7M356.1 128.2l-0.6 -0.6M361.5 127.9l1.2 0.1M367.9 127.8l0.9 0.2M374.6 128.2l0.2 -0.7M381 127.9h.9M387.3 127.9h.9M393.6 127.9h.9M399.9 127.9h.9M406 128.4l0.3 -1M412.5 127.9h.9M418.7 128.3l0.1 -0.7M424.9 127.6l0.3 0.6M431.4 127.9h.9M437 128l1.4 -0.2M444 127.9h.9M450.3 127.9h.9M456.6 127.9h.9M462.9 127.9h.9M469.1 128.5l0.2 -1.2M474.8 128.7l1.4 -1.5" class="q"/>
<path d="M3 116.5h.9M9.5 116.5h.9M16 116.5h.9M22.5 116.5h.9M29 116.5h.9M35.5 116.5h.9M42 116.5h.9M48.5 116.5h.9M55 116.5h.9M61.5 116.5h.9M68 116.5h.9M74.5 116.5h.9M81 116.5h.9M87.5 116.5h.9M94 116.5h.9M100.5 116.5h.9M107 116.5h.9M113.5 116.5h.9M120 116.5h.9M126.5 116.5h.9M133 116.5h.9M139.5 116.5h.9M146 116.5h.9M152.5 116.5h.9M159 116.5h.9M165.5 116.5h.9M172 116.5h.9M178.5 116.5h.9M185 116.5h.9M191.5 116.5h.9M198 116.5h.9M204.5 116.5h.9M211 116.5h.9M217.5 116.5h.9M224 116.5h.9M230.5 116.5h.9M237 116.5h.9M243.5 116.5h.9M250 116.5h.9M256.5 116.5h.9M263 116.5h.9M269.5 116.5h.9M276 116.5h.9M282.5 116.5h.9M289 116.5h.9M295.5 116.5h.9M302 116.5h.9M308.5 116.5h.9M315 116.5h.9M321.5 116.5h.9M328 116.5h.9M334.5 116.5h.9M341 116.5h.9M347.5 116.5h.9M354 116.5h.9M360.5 116.5h.9M367 116.5h.9M373.5 116.5h.9M380 116.5h.9M386.5 116.5h.9M393 116.5h.9M399.5 116.5h.9M406 116.5h.9M412.5 116.5h.9M419 116.5h.9M425.5 116.5h.9M432 116.5h.9M438.5 116.5h.9M445 116.5h.9M451.5 116.5h.9M458 116.5h.9M464.5 116.5h.9M471 116.5h.9M477.5 116.5h.9M3 110h.9M9.5 110h.9M16 110h.9M22.5 110h.9M29 110h.9M35.5 110h.9M42 110h.9M48.5 110h.9M55 110h.9M61.5 110h.9M68 110h.9M74.5 110h.9M81 110h.9M87.5 110h.9M94 110h.9M100.5 110h.9M107 110h.9M113.5 110h.9M120 110h.9M126.5 110h.9M133 110h.9M139.5 110h.9M146 110h.9M152.5 110h.9M159 110h.9M165.5 110h.9M172 110h.9M178.5 110h.9M185 110h.9M191.5 110h.9M198 110h.9M204.5 110h.9M211 110h.9M217.5 110h.9M224 110h.9M230.5 110h.9M237 110h.9M243.5 110h.9M250 110h.9M256.5 110h.9M263 110h.9M269.5 110h.9M276 110h.9M282.5 110h.9M289 110h.9M295.5 110h.9M302 110h.9M308.5 110h.9M315 110h.9M321.5 110h.9M328 110h.9M334.5 110h.9M341 110h.9M347.5 110h.9M354 110h.9M360.5 110h.9M367 110h.9M373.5 110h.9M380 110h.9M386.5 110h.9M393 110h.9M399.5 110h.9M406 110h.9M412.5 110h.9M419 110h.9M425.5 110h.9M432 110h.9M438.5 110h.9M445 110h.9M451.5 110h.9M458 110h.9M464.5 110h.9M471 110h.9M477.5 110h.9M3 103.5h.9M9.5 103.5h.9M16 103.5h.9M22.5 103.5h.9M29 103.5h.9M35.5 103.5h.9M42 103.5h.9M48.5 103.5h.9M55 103.5h.9M61.5 103.5h.9M68 103.5h.9M74.5 103.5h.9M81 103.5h.9M87.5 103.5h.9M94 103.5h.9M100.5 103.5h.9M107 103.5h.9M113.5 103.5h.9M120 103.5h.9M126.5 103.5h.9M133 103.5h.9M139.5 103.5h.9M146 103.5h.9M152.5 103.5h.9M159 103.5h.9M165.5 103.5h.9M172 103.5h.9M178.5 103.5h.9M185 103.5h.9M191.5 103.5h.9M198 103.5h.9M204.5 103.5h.9M211 103.5h.9M217.5 103.5h.9M224 103.5h.9M230.5 103.5h.9M237 103.5h.9M243.5 103.5h.9M250 103.5h.9M256.5 103.5h.9M263 103.5h.9M269.5 103.5h.9M276 103.5h.9M282.5 103.5h.9M289 103.5h.9M295.5 103.5h.9M302 103.5h.9M308.5 103.5h.9M315 103.5h.9M321.5 103.5h.9M328 103.5h.9M334.5 103.5h.9M341 103.5h.9M347.5 103.5h.9M354 103.5h.9M360.5 103.5h.9M367 103.5h.9M373.5 103.5h.9M380 103.5h.9M386.5 103.5h.9M393 103.5h.9M399.5 103.5h.9M406 103.5h.9M412.5 103.5h.9M419 103.5h.9M425.5 103.5h.9M432 103.5h.9M438.5 103.5h.9M445 103.5h.9M451.5 103.5h.9M458 103.5h.9M464.5 103.5h.9M471 103.5h.9M477.5 103.5h.9M3 97h.9M9.5 97h.9M16 97h.9M22.5 97h.9M29 97h.9M35.5 97h.9M42 97h.9M48.5 97h.9M55 97h.9M61.5 97h.9M68 97h.9M74.5 97h.9M81 97h.9M87.5 97h.9M94 97h.9M100.5 97h.9M107 97h.9M113.5 97h.9M120 97h.9M126.5 97h.9M133 97h.9M139.5 97h.9M146 97h.9M152.5 97h.9M159 97h.9M165.5 97h.9M172 97h.9M178.5 97h.9M185 97h.9M191.5 97h.9M198 97h.9M204.5 97h.9M211 97h.9M217.5 97h.9M224 97h.9M230.5 97h.9M237 97h.9M243.5 97h.9M250 97h.9M256.5 97h.9M263 97h.9M269.5 97h.9M276 97h.9M282.5 97h.9M289 97h.9M295.5 97h.9M302 97h.9M308.5 97h.9M315 97h.9M321.5 97h.9M328 97h.9M334.5 97h.9M341 97h.9M347.5 97h.9M354 97h.9M360.5 97h.9M367 97h.9M373.5 97h.9M380 97h.9M386.5 97h.9M393 97h.9M399.5 97h.9M406 97h.9M412.5 97h.9M419 97h.9M425.5 97h.9M432 97h.9M438.5 97h.9M445 97h.9M451.5 97h.9M458 97h.9M464.5 97h.9M471 97h.9M477.5 97h.9M3 90.5h.9M9.5 90.5h.9M16 90.5h.9M22.5 90.5h.9M29 90.5h.9M35.5 90.5h.9M42 90.5h.9M48.5 90.5h.9M55 90.5h.9M61.5 90.5h.9M68 90.5h.9M74.5 90.5h.9M81 90.5h.9M87.5 90.5h.9M94 90.5h.9M100.5 90.5h.9M107 90.5h.9M113.5 90.5h.9M120 90.5h.9M126.5 90.5h.9M133 90.5h.9M139.5 90.5h.9M146 90.5h.9M152.5 90.5h.9M159 90.5h.9M165.5 90.5h.9M172 90.5h.9M178.5 90.5h.9M185 90.5h.9M191.5 90.5h.9M198 90.5h.9M204.5 90.5h.9M211 90.5h.9M217.5 90.5h.9M224 90.5h.9M230.5 90.5h.9M237 90.5h.9M243.5 90.5h.9M250 90.5h.9M256.5 90.5h.9M263 90.5h.9M269.5 90.5h.9M276 90.5h.9M282.5 90.5h.9M289 90.5h.9M295.5 90.5h.9M302 90.5h.9M308.5 90.5h.9M315 90.5h.9M321.5 90.5h.9M328 90.5h.9M334.5 90.5h.9M341 90.5h.9M347.5 90.5h.9M354 90.5h.9M360.5 90.5h.9M367 90.5h.9M373.5 90.5h.9M380 90.5h.9M386.5 90.5h.9M393 90.5h.9M399.5 90.5h.9M406 90.5h.9M412.5 90.5h.9M419 90.5h.9M425.5 90.5h.9M432 90.5h.9M438.5 90.5h.9M445 90.5h.9M451.5 90.5h.9M458 90.5h.9M464.5 90.5h.9M471 90.5h.9M477.5 90.5h.9M3 84h.9M9.5 84h.9M16 84h.9M22.5 84h.9M29 84h.9M35.5 84h.9M42 84h.9M48.5 84h.9M55 84h.9M61.5 84h.9M68 84h.9M74.5 84h.9M81 84h.9M87.5 84h.9M94 84h.9M100.5 84h.9M107 84h.9M113.5 84h.9M120 84h.9M126.5 84h.9M133 84h.9M139.5 84h.9M146 84h.9M152.5 84h.9M159 84h.9M165.5 84h.9M172 84h.9M178.5 84h.9M185 84h.9M191.5 84h.9M198 84h.9M204.5 84h.9M211 84h.9M217.5 84h.9M224 84h.9M230.5 84h.9M237 84h.9M243.5 84h.9M250 84h.9M256.5 84h.9M263 84h.9M269.5 84h.9M276 84h.9M282.5 84h.9M289 84h.9M295.5 84h.9M302 84h.9M308.5 84h.9M315 84h.9M321.5 84h.9M328 84h.9M334.5 84h.9M341 84h.9M347.5 84h.9M354 84h.9M360.5 84h.9M367 84h.9M373.5 84h.9M380 84h.9M386.5 84h.9M393 84h.9M399.5 84h.9M406 84h.9M412.5 84h.9M419 84h.9M425.5 84h.9M432 84h.9M438.5 84h.9M445 84h.9M451.5 84h.9M458 84h.9M464.5 84h.9M471 84h.9M477.5 84h.9M3 77.5h.9M9.5 77.5h.9M16 77.5h.9M22.5 77.5h.9M29 77.5h.9M35.5 77.5h.9M42 77.5h.9M48.5 77.5h.9M55 77.5h.9M61.5 77.5h.9M68 77.5h.9M74.5 77.5h.9M81 77.5h.9M87.5 77.5h.9M94 77.5h.9M100.5 77.5h.9M107 77.5h.9M113.5 77.5h.9M120 77.5h.9M126.5 77.5h.9M133 77.5h.9M139.5 77.5h.9M146 77.5h.9M152.5 77.5h.9M159 77.5h.9M165.5 77.5h.9M172 77.5h.9M178.5 77.5h.9M185 77.5h.9M191.5 77.5h.9M198 77.5h.9M204.5 77.5h.9M211 77.5h.9M217.5 77.5h.9M224 77.5h.9M230.5 77.5h.9M237 77.5h.9M243.5 77.5h.9M250 77.5h.9M256.5 77.5h.9M263 77.5h.9M269.5 77.5h.9M276 77.5h.9M282.5 77.5h.9M289 77.5h.9M295.5 77.5h.9M302 77.5h.9M308.5 77.5h.9M315 77.5h.9M321.5 77.5h.9M328 77.5h.9M334.5 77.5h.9M341 77.5h.9M347.5 77.5h.9M354 77.5h.9M360.5 77.5h.9M367 77.5h.9M373.5 77.5h.9M380 77.5h.9M386.5 77.5h.9M393 77.5h.9M399.5 77.5h.9M406 77.5h.9M412.5 77.5h.9M419 77.5h.9M425.5 77.5h.9M432 77.5h.9M438.5 77.5h.9M445 77.5h.9M451.5 77.5h.9M458 77.5h.9M464.5 77.5h.9M471 77.5h.9M477.5 77.5h.9M3 71h.9M9.5 71h.9M16 71h.9M22.5 71h.9M29 71h.9M35.5 71h.9M42 71h.9M48.5 71h.9M55 71h.9M61.5 71h.9M68 71h.9M74.5 71h.9M81 71h.9M87.5 71h.9M94 71h.9M100.5 71h.9M107 71h.9M113.5 71h.9M120 71h.9M126.5 71h.9M133 71h.9M139.5 71h.9M146 71h.9M152.5 71h.9M159 71h.9M165.5 71h.9M172 71h.9M178.5 71h.9M185 71h.9M191.5 71h.9M198 71h.9M204.5 71h.9M211 71h.9M217.5 71h.9M224 71h.9M230.5 71h.9M237 71h.9M243.5 71h.9M250 71h.9M256.5 71h.9M263 71h.9M269.5 71h.9M276 71h.9M282.5 71h.9M289 71h.9M295.5 71h.9M302 71h.9M308.5 71h.9M315 71h.9M321.5 71h.9M328 71h.9M334.5 71h.9M341 71h.9M347.5 71h.9M354 71h.9M360.5 71h.9M367 71h.9M373.5 71h.9M380 71h.9M386.5 71h.9M393 71h.9M399.5 71h.9M406 71h.9M412.5 71h.9M419 71h.9M425.5 71h.9M432 71h.9M438.5 71h.9M445 71h.9M451.5 71h.9M458 71h.9M464.5 71h.9M471 71h.9M477.5 71h.9M3 64.5h.9M9.5 64.5h.9M16 64.5h.9M22.5 64.5h.9M29 64.5h.9M35.5 64.5h.9M42 64.5h.9M48.5 64.5h.9M55 64.5h.9M61.5 64.5h.9M68 64.5h.9M74.5 64.5h.9M81 64.5h.9M87.5 64.5h.9M94 64.5h.9M100.5 64.5h.9M107 64.5h.9M113.5 64.5h.9M120 64.5h.9M126.5 64.5h.9M133 64.5h.9M139.5 64.5h.9M146 64.5h.9M152.5 64.5h.9M159 64.5h.9M165.5 64.5h.9M172 64.5h.9M178.5 64.5h.9M185 64.5h.9M191.5 64.5h.9M198 64.5h.9M204.5 64.5h.9M211 64.5h.9M217.5 64.5h.9M224 64.5h.9M230.5 64.5h.9M237 64.5h.9M243.5 64.5h.9M250 64.5h.9M256.5 64.5h.9M263 64.5h.9M269.5 64.5h.9M276 64.5h.9M282.5 64.5h.9M289 64.5h.9M295.5 64.5h.9M302 64.5h.9M308.5 64.5h.9M315 64.5h.9M321.5 64.5h.9M328 64.5h.9M334.5 64.5h.9M341 64.5h.9M347.5 64.5h.9M354 64.5h.9M360.5 64.5h.9M367 64.5h.9M373.5 64.5h.9M380 64.5h.9M386.5 64.5h.9M393 64.5h.9M399.5 64.5h.9M406 64.5h.9M412.5 64.5h.9M419 64.5h.9M425.5 64.5h.9M432 64.5h.9M438.5 64.5h.9M445 64.5h.9M451.5 64.5h.9M458 64.5h.9M464.5 64.5h.9M471 64.5h.9M477.5 64.5h.9M3 58h.9M9.5 58h.9M16 58h.9M22.5 58h.9M29 58h.9M35.5 58h.9M42 58h.9M48.5 58h.9M55 58h.9M61.5 58h.9M68 58h.9M74.5 58h.9M81 58h.9M87.5 58h.9M94 58h.9M100.5 58h.9M107 58h.9M113.5 58h.9M120 58h.9M126.5 58h.9M133 58h.9M139.5 58h.9M146 58h.9M152.5 58h.9M159 58h.9M165.5 58h.9M172 58h.9M178.5 58h.9M185 58h.9M191.5 58h.9M198 58h.9M204.5 58h.9M211 58h.9M217.5 58h.9M224 58h.9M230.5 58h.9M237 58h.9M243.5 58h.9M250 58h.9M256.5 58h.9M263 58h.9M269.5 58h.9M276 58h.9M282.5 58h.9M289 58h.9M295.5 58h.9M302 58h.9M308.5 58h.9M315 58h.9M321.5 58h.9M328 58h.9M334.5 58h.9M341 58h.9M347.5 58h.9M354 58h.9M360.5 58h.9M367 58h.9M373.5 58h.9M380 58h.9M386.5 58h.9M393 58h.9M399.5 58h.9M406 58h.9M412.5 58h.9M419 58h.9M425.5 58h.9M432 58h.9M438.5 58h.9M445 58h.9M451.5 58h.9M458 58h.9M464.5 58h.9M471 58h.9M477.5 58h.9M3 51.5h.9M9.5 51.5h.9M16 51.5h.9M22.5 51.5h.9M29 51.5h.9M35.5 51.5h.9M42 51.5h.9M48.5 51.5h.9M55 51.5h.9M61.5 51.5h.9M68 51.5h.9M74.5 51.5h.9M81 51.5h.9M87.5 51.5h.9M94 51.5h.9M100.5 51.5h.9M107 51.5h.9M113.5 51.5h.9M120 51.5h.9M126.5 51.5h.9M133 51.5h.9M139.5 51.5h.9M146 51.5h.9M152.5 51.5h.9M159 51.5h.9M165.5 51.5h.9M172 51.5h.9M178.5 51.5h.9M185 51.5h.9M191.5 51.5h.9M198 51.5h.9M204.5 51.5h.9M211 51.5h.9M217.5 51.5h.9M224 51.5h.9M230.5 51.5h.9M237 51.5h.9M243.5 51.5h.9M250 51.5h.9M256.5 51.5h.9M263 51.5h.9M269.5 51.5h.9M276 51.5h.9M282.5 51.5h.9M289 51.5h.9M295.5 51.5h.9M302 51.5h.9M308.5 51.5h.9M315 51.5h.9M321.5 51.5h.9M328 51.5h.9M334.5 51.5h.9M341 51.5h.9M347.5 51.5h.9M354 51.5h.9M360.5 51.5h.9M367 51.5h.9M373.5 51.5h.9M380 51.5h.9M386.5 51.5h.9M393 51.5h.9M399.5 51.5h.9M406 51.5h.9M412.5 51.5h.9M419 51.5h.9M425.5 51.5h.9M432 51.5h.9M438.5 51.5h.9M445 51.5h.9M451.5 51.5h.9M458 51.5h.9M464.5 51.5h.9M471 51.5h.9M477.5 51.5h.9M3 45h.9M9.5 45h.9M16 45h.9M22.5 45h.9M29 45h.9M35.5 45h.9M42 45h.9M48.5 45h.9M55 45h.9M61.5 45h.9M68 45h.9M74.5 45h.9M81 45h.9M87.5 45h.9M94 45h.9M100.5 45h.9M107 45h.9M113.5 45h.9M120 45h.9M126.5 45h.9M133 45h.9M139.5 45h.9M146 45h.9M152.5 45h.9M159 45h.9M165.5 45h.9M172 45h.9M178.5 45h.9M185 45h.9M191.5 45h.9M198 45h.9M204.5 45h.9M211 45h.9M217.5 45h.9M224 45h.9M230.5 45h.9M237 45h.9M243.5 45h.9M250 45h.9M256.5 45h.9M263 45h.9M269.5 45h.9M276 45h.9M282.5 45h.9M289 45h.9M295.5 45h.9M302 45h.9M308.5 45h.9M315 45h.9M321.5 45h.9M328 45h.9M334.5 45h.9M341 45h.9M347.5 45h.9M354 45h.9M360.5 45h.9M367 45h.9M373.5 45h.9M380 45h.9M386.5 45h.9M393 45h.9M399.5 45h.9M406 45h.9M412.5 45h.9M419 45h.9M425.5 45h.9M432 45h.9M438.5 45h.9M445 45h.9M451.5 45h.9M458 45h.9M464.5 45h.9M471 45h.9M477.5 45h.9M3 38.5h.9M9.5 38.5h.9M16 38.5h.9M22.5 38.5h.9M29 38.5h.9M35.5 38.5h.9M42 38.5h.9M48.5 38.5h.9M55 38.5h.9M61.5 38.5h.9M68 38.5h.9M74.5 38.5h.9M81 38.5h.9M87.5 38.5h.9M94 38.5h.9M100.5 38.5h.9M107 38.5h.9M113.5 38.5h.9M120 38.5h.9M126.5 38.5h.9M133 38.5h.9M139.5 38.5h.9M146 38.5h.9M152.5 38.5h.9M159 38.5h.9M165.5 38.5h.9M172 38.5h.9M178.5 38.5h.9M185 38.5h.9M191.5 38.5h.9M198 38.5h.9M204.5 38.5h.9M211 38.5h.9M217.5 38.5h.9M224 38.5h.9M230.5 38.5h.9M237 38.5h.9M243.5 38.5h.9M250 38.5h.9M256.5 38.5h.9M263 38.5h.9M269.5 38.5h.9M276 38.5h.9M282.5 38.5h.9M289 38.5h.9M295.5 38.5h.9M302 38.5h.9M308.5 38.5h.9M315 38.5h.9M321.5 38.5h.9M328 38.5h.9M334.5 38.5h.9M341 38.5h.9M347.5 38.5h.9M354 38.5h.9M360.5 38.5h.9M367 38.5h.9M373.5 38.5h.9M380 38.5h.9M386.5 38.5h.9M393 38.5h.9M399.5 38.5h.9M406 38.5h.9M412.5 38.5h.9M419 38.5h.9M425.5 38.5h.9M432 38.5h.9M438.5 38.5h.9M445 38.5h.9M451.5 38.5h.9M458 38.5h.9M464.5 38.5h.9M471 38.5h.9M477.5 38.5h.9M3 32h.9M9.5 32h.9M16 32h.9M22.5 32h.9M29 32h.9M35.5 32h.9M42 32h.9M48.5 32h.9M55 32h.9M61.5 32h.9M68 32h.9M74.5 32h.9M81 32h.9M87.5 32h.9M94 32h.9M100.5 32h.9M107 32h.9M113.5 32h.9M120 32h.9M126.5 32h.9M133 32h.9M139.5 32h.9M146 32h.9M152.5 32h.9M159 32h.9M165.5 32h.9M172 32h.9M178.5 32h.9M185 32h.9M191.5 32h.9M198 32h.9M204.5 32h.9M211 32h.9M217.5 32h.9M224 32h.9M230.5 32h.9M237 32h.9M243.5 32h.9M250 32h.9M256.5 32h.9M263 32h.9M269.5 32h.9M276 32h.9M282.5 32h.9M289 32h.9M295.5 32h.9M302 32h.9M308.5 32h.9M315 32h.9M321.5 32h.9M328 32h.9M334.5 32h.9M341 32h.9M347.5 32h.9M354 32h.9M360.5 32h.9M367 32h.9M373.5 32h.9M380 32h.9M386.5 32h.9M393 32h.9M399.5 32h.9M406 32h.9M412.5 32h.9M419 32h.9M425.5 32h.9M432 32h.9M438.5 32h.9M445 32h.9M451.5 32h.9M458 32h.9M464.5 32h.9M471 32h.9M477.5 32h.9M3 25.5h.9M9.5 25.5h.9M16 25.5h.9M22.5 25.5h.9M29 25.5h.9M35.5 25.5h.9M42 25.5h.9M48.5 25.5h.9M55 25.5h.9M61.5 25.5h.9M68 25.5h.9M74.5 25.5h.9M81 25.5h.9M87.5 25.5h.9M94 25.5h.9M100.5 25.5h.9M107 25.5h.9M113.5 25.5h.9M120 25.5h.9M126.5 25.5h.9M133 25.5h.9M139.5 25.5h.9M146 25.5h.9M152.5 25.5h.9M159 25.5h.9M165.5 25.5h.9M172 25.5h.9M178.5 25.5h.9M185 25.5h.9M191.5 25.5h.9M198 25.5h.9M204.5 25.5h.9M211 25.5h.9M217.5 25.5h.9M224 25.5h.9M230.5 25.5h.9M237 25.5h.9M243.5 25.5h.9M250 25.5h.9M256.5 25.5h.9M263 25.5h.9M269.5 25.5h.9M276 25.5h.9M282.5 25.5h.9M289 25.5h.9M295.5 25.5h.9M302 25.5h.9M308.5 25.5h.9M315 25.5h.9M321.5 25.5h.9M328 25.5h.9M334.5 25.5h.9M341 25.5h.9M347.5 25.5h.9M354 25.5h.9M360.5 25.5h.9M367 25.5h.9M373.5 25.5h.9M380 25.5h.9M386.5 25.5h.9M393 25.5h.9M399.5 25.5h.9M406 25.5h.9M412.5 25.5h.9M419 25.5h.9M425.5 25.5h.9M432 25.5h.9M438.5 25.5h.9M445 25.5h.9M451.5 25.5h.9M458 25.5h.9M464.5 25.5h.9M471 25.5h.9M477.5 25.5h.9M3 19h.9M9.5 19h.9M16 19h.9M22.5 19h.9M29 19h.9M35.5 19h.9M42 19h.9M48.5 19h.9M55 19h.9M61.5 19h.9M68 19h.9M74.5 19h.9M81 19h.9M87.5 19h.9M94 19h.9M100.5 19h.9M107 19h.9M113.5 19h.9M120 19h.9M126.5 19h.9M133 19h.9M139.5 19h.9M146 19h.9M152.5 19h.9M159 19h.9M165.5 19h.9M172 19h.9M178.5 19h.9M185 19h.9M191.5 19h.9M198 19h.9M204.5 19h.9M211 19h.9M217.5 19h.9M224 19h.9M230.5 19h.9M237 19h.9M243.5 19h.9M250 19h.9M256.5 19h.9M263 19h.9M269.5 19h.9M276 19h.9M282.5 19h.9M289 19h.9M295.5 19h.9M302 19h.9M308.5 19h.9M315 19h.9M321.5 19h.9M328 19h.9M334.5 19h.9M341 19h.9M347.5 19h.9M354 19h.9M360.5 19h.9M367 19h.9M373.5 19h.9M380 19h.9M386.5 19h.9M393 19h.9M399.5 19h.9M406 19h.9M412.5 19h.9M419 19h.9M425.5 19h.9M432 19h.9M438.5 19h.9M445 19h.9M451.5 19h.9M458 19h.9M464.5 19h.9M471 19h.9M477.5 19h.9M3 12.5h.9M9.5 12.5h.9M16 12.5h.9M22.5 12.5h.9M29 12.5h.9M35.5 12.5h.9M42 12.5h.9M48.5 12.5h.9M55 12.5h.9M61.5 12.5h.9M68 12.5h.9M74.5 12.5h.9M81 12.5h.9M87.5 12.5h.9M94 12.5h.9M100.5 12.5h.9M107 12.5h.9M113.5 12.5h.9M120 12.5h.9M126.5 12.5h.9M133 12.5h.9M139.5 12.5h.9M146 12.5h.9M152.5 12.5h.9M159 12.5h.9M165.5 12.5h.9M172 12.5h.9M178.5 12.5h.9M185 12.5h.9M191.5 12.5h.9M198 12.5h.9M204.5 12.5h.9M211 12.5h.9M217.5 12.5h.9M224 12.5h.9M230.5 12.5h.9M237 12.5h.9M243.5 12.5h.9M250 12.5h.9M256.5 12.5h.9M263 12.5h.9M269.5 12.5h.9M276 12.5h.9M282.5 12.5h.9M289 12.5h.9M295.5 12.5h.9M302 12.5h.9M308.5 12.5h.9M315 12.5h.9M321.5 12.5h.9M328 12.5h.9M334.5 12.5h.9M341 12.5h.9M347.5 12.5h.9M354 12.5h.9M360.5 12.5h.9M367 12.5h.9M373.5 12.5h.9M380 12.5h.9M386.5 12.5h.9M393 12.5h.9M399.5 12.5h.9M406 12.5h.9M412.5 12.5h.9M419 12.5h.9M425.5 12.5h.9M432 12.5h.9M438.5 12.5h.9M445 12.5h.9M451.5 12.5h.9M458 12.5h.9M464.5 12.5h.9M471 12.5h.9M477.5 12.5h.9M3 6h.9M9.5 6h.9M16 6h.9M22.5 6h.9M29 6h.9M35.5 6h.9M42 6h.9M48.5 6h.9M55 6h.9M61.5 6h.9M68 6h.9M74.5 6h.9M81 6h.9M87.5 6h.9M94 6h.9M100.5 6h.9M107 6h.9M113.5 6h.9M120 6h.9M126.5 6h.9M133 6h.9M139.5 6h.9M146 6h.9M152.5 6h.9M159 6h.9M165.5 6h.9M172 6h.9M178.5 6h.9M185 6h.9M191.5 6h.9M198 6h.9M204.5 6h.9M211 6h.9M217.5 6h.9M224 6h.9M230.5 6h.9M237 6h.9M243.5 6h.9M250 6h.9M256.5 6h.9M263 6h.9M269.5 6h.9M276 6h.9M282.5 6h.9M289 6h.9M295.5 6h.9M302 6h.9M308.5 6h.9M315 6h.9M321.5 6h.9M328 6h.9M334.5 6h.9M341 6h.9M347.5 6h.9M354 6h.9M360.5 6h.9M367 6h.9M373.5 6h.9M380 6h.9M386.5 6h.9M393 6h.9M399.5 6h.9M406 6h.9M412.5 6h.9M419 6h.9M425.5 6h.9M432 6h.9M438.5 6h.9M445 6h.9M451.5 6h.9M458 6h.9M464.5 6h.9M471 6h.9M477.5 6h.9" class="q2"/>
<path d="M0 235.1 L6 237.5 L12 239.7 L18 241.4 L24 242.3 L30 242.5 L36 241.8 L42 240.3 L48 238.3 L54 236 L60 233.5 L66 231.4 L72 229.7 L78 228.7 L84 228.5 L90 229.2 L96 230.6 L102 232.6 L108 234.9 L114 237.4 L120 239.5 L126 241.2 L132 242.3 L138 242.5 L144 241.9 L150 240.5 L156 238.5 L162 236.2 L168 233.7 L174 231.5 L180 229.8 L186 228.8 L192 228.5 L198 229.1 L204 230.5 L210 232.4 L216 234.7 L222 237.2 L228 239.4 L234 241.1 L240 242.2 L246 242.5 L252 241.9 L258 240.6 L264 238.7 L270 236.4 L276 233.9 L282 231.7 L288 229.9 L294 228.8 L300 228.5 L306 229 L312 230.3 L318 232.2 L324 234.5 L330 237 L336 239.2 L342 241 L348 242.1 L354 242.5 L360 242 L366 240.7 L372 238.9 L378 236.6 L384 234.1 L390 231.9 L396 230.1 L402 228.9 L408 228.5 L414 229 L420 230.2 L426 232.1 L432 234.3 L438 236.8 L444 239 L450 240.9 L456 242.1 L462 242.5 L468 242.1 L474 240.9 L480 239 L483.8 237.6" stroke="#e23a20" stroke-width="1.9" fill="none" stroke-dasharray="22 14 12 16"/>
<path d="M0 211.2 L6 206.7 L12 202.7 L18 199.6 L24 197.8 L30 197.6 L36 198.9 L42 201.5 L48 205.3 L54 209.7 L60 214.1 L66 218.2 L72 221.3 L78 223.1 L84 223.4 L90 222.2 L96 219.6 L102 215.9 L108 211.5 L114 207.1 L120 203 L126 199.8 L132 197.9 L138 197.5 L144 198.7 L150 201.3 L156 204.9 L162 209.3 L168 213.8 L174 217.8 L180 221.1 L186 223 L192 223.5 L198 222.4 L204 219.9 L210 216.2 L216 211.9 L222 207.4 L228 203.3 L234 200 L240 198 L246 197.5 L252 198.6 L258 201 L264 204.6 L270 208.9 L276 213.4 L282 217.5 L288 220.8 L294 222.9 L300 223.5 L306 222.5 L312 220.1 L318 216.6 L324 212.3 L330 207.8 L336 203.6 L342 200.3 L348 198.2 L354 197.5 L360 198.4 L366 200.8 L372 204.3 L378 208.5 L384 213 L390 217.2 L396 220.6 L402 222.8 L408 223.5 L414 222.7 L420 220.4 L426 216.9 L432 212.7 L438 208.2 L444 203.9 L450 200.5 L456 198.3 L462 197.5 L468 198.3 L474 200.5 L480 203.9 L483.8 206.6" stroke="#5a4a9c" stroke-width="2.6" stroke-dasharray="8 15" fill="none"/>
<path d="M0 268.5 V0 H483.8" stroke="#6e1530" stroke-width="2" fill="none"/>
</g>
<path d="M149.4 181 V477.8 L716.3 530.1 L1546 354.7 V339" class="ax"/>
<path d="M149.4 193.4 l16.5 -2.4M149.4 281.7 l16.5 -2.4M149.4 370.9 l16.5 -2.4M149.4 460.2 l16.5 -2.4M267.8 488.7 v-14.5M449.3 505.5 v-14.5M629.6 522.1 v-14.5M814.2 508.5 v-15.5M1058 456.5 v-15.5M1301.2 406 v-15.5" class="ax"/>
<path d="M343.2 447.3 L282 471.4 L210.6 464.2 L343.2 404 L282 471.4 L282 471.4M343.2 404 L343.2 447.3M452.4 457.9 L391.2 482 L319.8 474.8 L452.4 414.6 L391.2 482 L391.2 482M452.4 414.6 L452.4 457.9M561.6 468.6 L500.4 492.7 L429 485.5 L561.6 425.3 L500.4 492.7 L500.4 492.7M561.6 425.3 L561.6 468.6M670.8 479.2 L609.6 503.3 L538.2 496.1 L670.8 435.9 L609.6 503.3 L609.6 503.3M670.8 435.9 L670.8 479.2M780 489.9 L718.8 514 L647.4 506.8 L780 446.6 L718.8 514 L718.8 514M780 446.6 L780 489.9" class="mv"/>
<path d="M210.6 464.2 L343.2 447.3M319.8 474.8 L452.4 457.9M429 485.5 L561.6 468.6M538.2 496.1 L670.8 479.2M647.4 506.8 L780 489.9" class="md"/>
<text x="110.7" y="211.7" font-size="50" text-anchor="middle">6</text>
<text x="110.7" y="300" font-size="50" text-anchor="middle">4</text>
<text x="110.7" y="389.2" font-size="50" text-anchor="middle">2</text>
<text x="110.7" y="478.5" font-size="50" text-anchor="middle">0</text>
<text x="266" y="552" font-size="50" text-anchor="middle">5</text>
<text x="452.5" y="570" font-size="50" text-anchor="middle">0</text>
<text x="620" y="585.6" font-size="50" text-anchor="middle">−5</text>
<text x="815" y="576.5" font-size="50" text-anchor="middle">0</text>
<text x="1057" y="525.5" font-size="50" text-anchor="middle">10</text>
<text x="1306.4" y="477" font-size="50" text-anchor="middle">20</text>
<text x="1538.7" y="424" font-size="50" text-anchor="middle">30</text>
<text x="1218" y="576.5" font-size="50" font-style="italic" transform="rotate(-12 1218 576.5)">x<tspan font-size="70" font-style="normal" dy="13" dx="-1">/</tspan><tspan dy="-13" dx="3">h</tspan><tspan font-size="34" font-style="normal" dy="9" dx="1">0</tspan></text>
<text x="395" y="642" font-size="50" font-style="italic" transform="rotate(5 395 642)">z<tspan font-size="70" font-style="normal" dy="13" dx="-1">/</tspan><tspan dy="-13" dx="3">h</tspan><tspan font-size="34" font-style="normal" dy="9" dx="1">0</tspan></text>
<text x="50.7" y="348.5" font-size="50" font-style="italic" transform="rotate(-90 50.7 348.5)">y<tspan font-size="70" font-style="normal" dy="13" dx="-1">/</tspan><tspan dy="-13" dx="3">h</tspan><tspan font-size="34" font-style="normal" dy="9" dx="1">0</tspan></text>
<rect x="267.7" y="135" width="15.8" height="162.3" fill="url(#cb)"/>
<path d="M268.2 135 V297.3" stroke="#3c4a44" stroke-width="2" opacity=".8"/>
<text x="210.6" y="180.2" font-size="50" text-anchor="middle">20</text>
<text x="210.6" y="275.5" font-size="50" text-anchor="middle">10</text>
<text x="240.5" y="124" font-size="50" text-anchor="start" font-style="italic">U</text>
<path d="M244 74.2 H285" stroke="#111" stroke-width="1.6"/>
<text x="301.5" y="86.2" font-size="38" text-anchor="middle">+</text>
<text y="734.5" font-size="50"><tspan x="556" font-family='"Noto Serif CJK SC","Liberation Serif",serif' font-size="46">（</tspan><tspan x="610">a</tspan><tspan x="640" font-family='"Noto Serif CJK SC","Liberation Serif",serif' font-size="46">）</tspan><tspan x="688.6" textLength="117.8" lengthAdjust="spacingAndGlyphs" font-size="54">MVG</tspan><tspan x="816" dy="8" font-size="30" font-style="italic">s</tspan><tspan x="844.5" dy="-7" font-family='"Noto Serif CJK SC","Liberation Serif",serif' font-size="50">阵列</tspan></text>
</g>
<g id="panel-b">
<polygon points="1041.3,1069.3 1046.5,1073.3 1536.2,1119.8 1535.8,1135.5 1053.3,1236.9 1041.3,1224.9" fill="#fefefe"/>
<path d="M385.2 1241 L1140.6 1082.2" class="dd"/>
<path d="M458.5 1248 L1214.2 1089.2" class="dd"/>
<path d="M531.8 1255.1 L1287.7 1096.2" class="dd"/>
<path d="M605.1 1262.1 L1361.3 1103.2" class="dd"/>
<path d="M678.4 1269.2 L1434.9 1110.2" class="dd"/>
<path d="M751.7 1276.2 L1508.4 1117.2" class="dd"/>
<path d="M1131 1085l-16.7 4.1M1434.3 1111.1l-11.4 3.9M1380.6 1108.1l-15.7 6.2M1157.5 1086.8l-9.1 2M1344.4 1102.1l-18.5 6.7M1272.8 1097.7l-7 1.1M1501.7 1117.6l-15.1 2.6M1508.2 1120.8l-17 5.8M1310.2 1101.9l-13.9 2.5M1342.6 1104.4l-6.7 2.7M1191.7 1089.2l-14 5M1529.5 1121.1l-18.6 3.6M1293.7 1099.4l-9.1 1.6M1509.4 1117l-17.6 6.5M1116.9 1083.3l-10.4 4.2M1535.9 1119.1l-13 2.6M1489 1117.6l-14.5 2.8M1526.4 1118.7l-13.7 2.5M1192.3 1089.2l-27.5 7.2M1361.5 1105.3l-11 3.2M1169.1 1084.2l-13.1 3.2M1489.6 1118l-12.8 5.3M1357.9 1104.9l-10.7 2.9M1059.3 1076.4l-33.6 10.5M1072.1 1078.7l-17.8 3.7M1339.4 1101.9l-7.6 2M1225.9 1092.1l-7.4 2.9M1108.8 1079.4l-12.8 2.4M1510.6 1119.6l-11.7 2.8M1056.9 1073.4l-12.7 2.2M1234.4 1090.6l-7 1.4M1535.9 1123.7l-6.2 2.2M1488.7 1116.5l-10.1 1.7M1095.8 1081l-5.7 1.7M1234.5 1091l-8.2 1.8M1461.1 1116.6l-4.9 1.9M1524.6 1119l-6.9 1.7M1261.2 1095.7l-3.6 1.3M1361.9 1102.5l-27.8 11.1M1513.5 1120.4l-6 1.8M1267.2 1096.1l-7.5 1.3M1207.1 1088.2l-19.7 7.5M1468.5 1114.3l-12.8 4.1M1064.8 1075.2l-32.6 13.2M1161.2 1083.3l-6.4 1.2M1218 1088.7l-8.6 2.6M1048.7 1076.5l-8.5 3.1M1194.4 1089l-12.7 3.4M1271.5 1094.3l-9.4 3.3M1181.3 1086.9l-14.4 5.1M1048.3 1076.1l-22.1 7.7M1305.8 1100.8l-14.8 2.7M1482.4 1117.8l-11 2.4M1290.1 1096.2l-5.8 2.1M1382.3 1108.1l-36 10.5M1069.2 1076.3l-13.2 3.7M1311.1 1101.3l-18.1 4M1531 1120.6l-19.3 5.5M1092.6 1079.3l-13.2 4.4M1530.1 1119.6l-4.5 0.9M1076.4 1076.3l-11.4 4.7M1395.4 1108.4l-10.2 2.9M1142.4 1082.2l-8.3 2.7M1329.9 1103.5l-22.9 8.9M1392.6 1109l-8.9 2.5M1306.3 1101.6l-5.8 1.4M1178 1088.3l-9 2.5M1513.8 1118l-20.2 6.1M1317.2 1101.1l-6.3 2.1M1161 1083.8l-10.1 2.6M1219 1091.8l-30.5 6.6M1122.4 1079.6l-13.6 4.5M1470 1114.8l-11.8 4.9M1142.3 1081.4l-13.4 3.9M1128.9 1080.2l-20.3 4.2M1324.3 1100.1l-10.1 3.1M1439.2 1113.1l-4.4 1M1495.2 1116.8l-15.1 5.4M1264.2 1095.4l-9.8 2.5M1524.4 1122.4l-14.8 3.8M1257.8 1096.2l-6.4 2M1242.3 1094.3l-32.5 10.5M1070.9 1078.2l-17.5 3.2M1407.5 1108.2l-14.4 5M1263.5 1094.5l-16.2 5.7M1269.6 1096.2l-23.1 8.2M1283.4 1096.6l-4.6 1.5M1140.2 1083.3l-8.9 1.9M1207.6 1091.2l-14.9 2.7M1475.9 1115.1l-3.9 0.8M1207.4 1089.9l-18.3 7.4M1310 1097.3l-28.1 4.6M1262.8 1097l-4.4 1.3M1380 1107.7l-18.5 4.6M1371.1 1107.1l-6.8 1.7M1293.7 1099.1l-11 4.5M1526.5 1118.5l-6.2 2.1M1452.2 1112.2l-6.2 1.1M1276.7 1098.6l-10.4 2.8M1282.9 1094.8l-11.3 4.2M1118.5 1079.7l-5.5 1M1478 1117.7l-10.3 2.5M1471.6 1115l-17.4 4.6M1212 1091.5l-12.5 4.6M1136.2 1083.7l-15.2 3.8M1417.1 1109.4l-27.1 8.6M1494.4 1119.8l-4.9 1.7M1214.7 1091.4l-6.7 1.9M1363.5 1103.7l-9.2 3.8M1506.9 1119.2l-24.9 5.5M1151.4 1085.1l-7.8 3.2M1504.3 1118l-14.8 4.8M1480.1 1117.6l-6.6 1.5M1356.6 1104.3l-17.8 7.3M1144.8 1085.7l-7.5 1.7M1506 1117.8l-15.3 3M1304.1 1097.9l-7.4 1.4M1463.1 1112.7l-20.5 8.1M1131.7 1084.1l-25.4 10.5M1062.7 1076.3l-7.4 1.3M1050 1072.7l-9.1 2.7M1381 1108l-11.6 2.5M1311.2 1100.9l-11.1 2.3M1391 1107.4l-12 4.3M1524.2 1117.8l-11 2.2M1457.1 1115.9l-10.5 2.7M1234.9 1093.8l-4.5 1.1M1155.6 1084.1l-15.4 5.1M1436.2 1110.3l-7.5 2.9M1071.2 1078.6l-9.1 3.6" class="sk"/><path d="M1460 1116.1l-10 2.3M1174.3 1088.3l-10.9 2.5M1159.5 1087.4l-16.9 5.6M1224.8 1090.8l-3.3 1.2M1226.5 1089.8l-16.8 7M1424.2 1109.5l-7.3 1.3M1133.8 1083.8l-4.8 0.8M1280.2 1096.5l-15.4 2.7M1347.1 1105.3l-11 1.9M1385.9 1106.7l-11.7 2.8M1501.4 1116l-10.5 4.4M1360.4 1105.4l-24 4.1M1215.2 1089.7l-15.9 4.5M1385.5 1105.7l-5.5 1.8M1056.2 1073.4l-7.9 2M1132.4 1081.7l-8.7 2M1101.1 1078l-10.8 2.7M1485.8 1117.1l-12.3 3.8M1531.1 1120.6l-32.4 12.1M1106.1 1078.8l-5.5 1.6" class="sb"/>
<g transform="matrix(1 0.09496 0 1 1046.5 801.3)">
<rect width="489.7" height="272" fill="url(#tb2)"/>
<rect width="489.7" height="272" fill="url(#gb2)"/>
<path d="M2.9 269.6l0.3 0.8M9.4 270.4l0.2 -0.8M16 270h.9M22.5 270h.9M28.5 270.2l1 -0.5M35.5 270h.9M42 270h.9M48.4 269.6l0.2 0.9M55 270h.9M61.5 270h.9M68 270h.9M74.5 270h.9M81 270h.9M87.5 270h.9M93.6 270.1l0.7 -0.3M100.5 270h.9M107 270h.9M113.5 270h.9M119.6 269.9l0.8 0.2M126.5 270h.9M133 270h.9M139.5 270h.9M146 270h.9M152.5 270h.9M159 270h.9M165.5 270h.9M172 270h.9M178.6 269.6l-0.3 0.8M184.5 270.1l1.1 -0.2M191.5 270h.9M198 270h.9M204.5 270h.9M211 270h.9M217.5 270h.9M224 270h.9M230.5 270h.9M237 270h.9M243.8 270.4l-0.7 -0.8M250 270h.9M256.2 270.1l0.7 -0.2M262.8 270.3l0.4 -0.7M269.5 270h.9M276 270h.9M282.5 270h.9M289 270h.9M295.5 270h.9M301.9 269.6l0.3 0.7M308.5 270h.9M315 270h.9M321.5 270h.9M328 270h.9M334.4 270.5l0.3 -1M341 270h.9M347.5 270h.9M354.1 270.4l-0.2 -0.8M360.5 270h.9M367 270h.9M373.1 269.7l0.8 0.7M380 270h.9M386.5 270h.9M393 270h.9M399.5 270h.9M405.5 270.4l1 -0.7M412.6 270.5l-0.2 -0.9M418.6 270l0.9 0M425.5 270h.9M432 270h.9M438.5 270h.9M445.1 270.4l-0.1 -0.9M451.5 270h.9M458 270h.9M464.1 270.1l0.8 -0.3M471 270h.9M477.5 270h.9M483.9 270.5l0.1 -0.9M3 263.5h.9M9.5 263.5h.9M15.9 263.2l0.2 0.7M22 263.6l1 -0.2M29 263.5h.9M35.2 263.2l0.6 0.6M42 263.5h.9M48.5 263.5h.9M55 263.5h.9M61.5 263.5h.9M68 263.5h.9M74.5 263.5h.9M81 263.5h.9M87.4 263.9l0.3 -0.7M93.9 263.1l0.3 0.7M100.5 263.5h.9M106.7 263.7l0.6 -0.5M113.5 263.5h.9M120.2 263.9l-0.4 -0.7M126.5 263.5h.9M133 263.5h.9M139.5 263.5h.9M146.2 263.8l-0.4 -0.7M152.5 263.5h.9M159 263.5h.9M165.5 263.5h.9M172 263.5h.9M178.5 263.5h.9M185 263.5h.9M191.5 263.5h.9M198 263.5h.9M204.3 263.8l0.5 -0.5M211 263.5h.9M217.5 263.5h.9M224 263.5h.9M230.3 263.2l0.5 0.6M237 263.5h.9M243.5 263.5h.9M250 263.5h.9M256.5 263.5h.9M263 263.5h.9M269.5 263.5h.9M276 263.5h.9M282.5 263.5h.9M289 263.5h.9M295.5 263.5h.9M302 263.5h.9M308.2 263.8l0.7 -0.6M315 263.5h.9M321.5 263.5h.9M328 263.5h.9M334.5 263.5h.9M341 263.5h.9M347.5 263.5h.9M354 263.9l-0.1 -0.9M360.2 263.2l0.6 0.7M367 263.5h.9M373.1 264l0.7 -0.9M380 263.5h.9M386.5 263.5h.9M393 263.5h.9M399.5 263.5h.9M406 263.5h.9M412.5 263.5h.9M419 263.5h.9M425.2 263.9l0.6 -0.7M432 263.5h.9M438.5 263.5h.9M445 263.5h.9M451.5 263.5h.9M457.8 263.1l0.5 0.8M464.5 263.5h.9M470.4 263.6l1.2 -0.2M477.5 263.5h.9M483.4 263.3l1.2 0.4M2.9 257.4l0.2 -0.7M9.5 257h.9M15.6 257.2l0.9 -0.5M22.5 257h.9M29 257h.9M35.1 257.3l0.7 -0.6M42 257h.9M48.5 257h.9M55 257h.9M61.5 257h.9M68 257h.9M74.5 257h.9M80.7 256.8l0.6 0.5M87.5 257h.9M93.6 256.8l0.7 0.3M100.3 257.3l0.5 -0.6M106.6 257.3l0.9 -0.7M113.5 257h.9M119.8 256.6l0.5 0.8M126.5 257h.9M133 257h.9M139.5 257h.9M145.5 256.9l1.1 0.2M152 256.8l1 0.3M158.6 257.5l0.7 -0.9M165.5 257h.9M172 257h.9M178.5 257h.9M185.1 257.3l-0.3 -0.7M191.5 257h.9M198 257h.9M204.5 257h.9M211.2 257.4l-0.4 -0.8M217.5 257h.9M223.4 257l1.3 0.1M230.5 257h.9M236.9 257.6l0.2 -1.2M243.5 257h.9M249.7 256.6l0.6 0.8M256.5 257h.9M263 257h.9M269.5 257h.9M276 257h.9M282.5 257h.9M289 257h.9M295.5 257h.9M302 257h.9M308.2 257.4l0.6 -0.9M314.6 257.1l0.9 -0.1M321.3 257.4l0.4 -0.8M328 257h.9M334.5 257h.9M340.6 256.9l0.7 0.2M347.5 257h.9M354 257h.9M360.2 256.8l0.7 0.4M366.5 257.1l1.1 -0.1M373.5 257h.9M380 257h.9M386.5 257h.9M393 257h.9M399.3 256.7l0.4 0.6M406 257h.9M412.5 257h.9M419 257h.9M425.5 257h.9M432 257h.9M438.5 257h.9M444.8 257.4l0.3 -0.8M451.5 257h.9M458 257h.9M464.1 257.2l0.7 -0.4M471 257h.9M477 256.9l1 0.2M484 257h.9M2.6 250.9l0.8 -0.8M9.2 250.4l0.7 0.3M15.2 250.4l1.6 0.3M22 250.6l1 -0.3M29 250.5h.9M34.9 250.7l1.2 -0.4M41.3 250.3l1.3 0.5M48.5 250.5h.9M54.6 250.8l0.9 -0.6M60.7 250.9l1.6 -0.8M68 250.5h.9M74 250.9l1 -0.8M79.9 250.6l2.2 -0.1M87.1 250.4l0.8 0.2M93.3 250.5l1.3 -0.1M99.9 250.8l1.1 -0.5M106.5 250.6l1 -0.2M113.5 250.5h.9M119.3 250.6l1.3 -0.2M125.8 250.7l1.3 -0.4M132.4 250.7l1.1 -0.5M138.8 250.6l1.3 -0.2M145.4 250.8l1.2 -0.6M152 250.3l0.9 0.4M158.6 250.5l0.8 -0.1M165.3 250.8l0.5 -0.6M171.5 250.5l1.1 0M178.5 250.5h.9M184.4 250.5l1.2 0M190.6 250.5l1.8 0.1M197.5 250.3l1.1 0.4M203.9 250.5l1.2 -0.1M210.6 250.8l0.8 -0.6M217.1 250.7l0.8 -0.4M223.8 250.9l0.5 -0.8M229.7 250.6l1.6 -0.1M236.6 250.6l0.7 -0.3M243 250.5l1 0M249.1 250.6l1.7 -0.2M255.8 250.5l1.4 0M262.4 250.6l1.3 -0.2M269.1 250.8l0.8 -0.7M276 250.5h.9M282 250.9l1.1 -0.8M289 250.5h.9M294.8 250.6l1.4 -0.2M302 250.5h.9M307.9 250.5l1.2 0.1M314.5 250.7l0.9 -0.3M321.5 250.5h.9M327.4 250.3l1.3 0.4M334.1 250.2l0.7 0.5M340.6 250.4l0.8 0.3M347 250.6l0.9 -0.3M353.2 250.7l1.5 -0.3M360 250.5l1.1 0M367 250.5h.9M372.8 250.4l1.5 0.2M379.4 250.7l1.2 -0.5M386 250.2l1 0.5M392.5 250.9l1 -0.8M398.9 250.3l1.1 0.5M405.4 250.7l1.1 -0.5M412 250.4l1 0.1M418.3 250.3l1.4 0.4M425.1 250.4l0.7 0.2M431.5 251l1 -1M438 250.5l0.9 -0.1M444.2 250.3l1.5 0.4M451 250.6l0.9 -0.3M457.5 250.6l0.9 -0.1M464.1 250.4l0.9 0.1M470.4 250.6l1.2 -0.2M477.1 250.5l0.7 0M483.4 250.5l1.2 -0.1M2.2 244.3l1.7 -0.6M8.5 243.9l1.9 0.1M15 244l2.1 -0.1M21.8 244.2l1.4 -0.4M28.6 244.2l0.9 -0.4M34.8 244.2l1.5 -0.3M40.9 244.3l2.1 -0.5M47.7 244.2l1.6 -0.4M54.2 244.2l1.7 -0.4M60.8 244.3l1.4 -0.5M67.1 244.1l1.8 -0.3M73.6 243.9l1.8 0.1M80.2 244.3l1.6 -0.5M86.6 244.2l1.7 -0.3M92.9 244.2l2.1 -0.5M99.9 244.1l1.3 -0.1M106.1 244.3l1.8 -0.7M113.1 244.2l0.9 -0.4M119 244.3l2 -0.7M125.6 243.9l1.9 0.3M132.2 244.3l1.7 -0.5M139.1 244l0.9 0.1M145.3 244.3l1.4 -0.6M151.3 244l2.3 0M158.5 244l1 0M164.7 243.9l1.5 0.1M170.8 244.1l2.3 -0.2M177.8 244.2l1.4 -0.4M184.2 243.9l1.7 0.1M190.5 244.4l1.9 -0.7M197.3 244.1l1.3 -0.3M203.8 244.6l1.3 -1.1M210 244.4l1.9 -0.8M216.7 244.1l1.7 -0.2M223.4 244l1.3 -0.1M229.8 244.4l1.3 -0.8M236.3 244.2l1.4 -0.5M242.9 244.2l1.3 -0.4M249.5 244.3l1 -0.6M255.6 244.6l1.9 -1.3M262.1 243.7l1.7 0.5M268.4 244.6l2.2 -1.2M275.3 244.3l1.4 -0.6M281.8 244.6l1.3 -1.1M288.2 244.3l1.6 -0.6M294.8 243.9l1.3 0.2M301 244l2 -0.1M308.2 244.2l0.7 -0.3M314.1 244l1.8 0M320.9 244.4l1.2 -0.8M327.6 243.9l0.7 0.2M333.9 244.2l1.2 -0.3M340.1 244.5l1.8 -0.9M347 243.9l1.1 0.3M353.1 243.9l1.8 0.2M359.7 243.9l1.6 0.2M366 244.6l2 -1.3M372.7 243.5l1.6 1M379.1 244l1.9 0M385.9 243.8l1.2 0.4M392 243.9l1.9 0.2M399.1 244.3l0.8 -0.6M405.4 244.1l1.2 -0.2M411.8 244.2l1.5 -0.4M418.4 244l1.1 0.1M424.8 244.3l1.4 -0.5M431.5 244.2l1.1 -0.4M437.7 244.3l1.6 -0.6M444.3 244.3l1.4 -0.5M450.8 244.2l1.4 -0.4M457.5 244l0.9 0M463.8 243.8l1.4 0.3M470.4 244.2l1.3 -0.5M476.6 244.5l1.8 -0.9M483.3 244.2l1.5 -0.5M1.9 237.6l2.1 -0.3M8.6 238l1.7 -0.9M15.1 237.7l1.8 -0.3M21.2 237.5l2.6 -0.1M27.7 237.5l2.6 0M34.6 237.6l1.8 -0.2M41.1 237.7l1.7 -0.4M47.3 238l2.4 -0.9M54 237.4l2 0.2M60.6 237.8l1.9 -0.7M67.3 237.6l1.4 -0.2M73.4 237.8l2.2 -0.6M79.8 237.7l2.3 -0.4M86.5 237.7l2.1 -0.4M93 237.5l2.1 -0.1M99.5 237.9l2 -0.8M105.7 237.8l2.6 -0.6M111.9 237.2l3.2 0.6M118.8 237.5l2.5 -0.1M125.4 237.9l2.2 -0.7M131.8 237.7l2.3 -0.3M138.6 237.5l1.8 -0.1M145 237.9l2.1 -0.7M151.3 237.5l2.4 0.1M157.9 237.7l2.2 -0.4M164.3 237.6l2.3 -0.1M171.2 237.7l1.5 -0.3M177.6 237.8l1.8 -0.7M184 237.2l2.1 0.6M190.4 237.5l2.3 0.1M196.8 237.7l2.4 -0.3M203.7 237.5l1.6 -0.1M209.8 237.9l2.4 -0.8M216.4 237.8l2.2 -0.7M223 237.8l1.9 -0.5M229.2 237.9l2.6 -0.8M236.2 237.6l1.7 -0.3M242.1 237.9l2.8 -0.8M248.9 237.8l2.2 -0.6M255.3 237.7l2.3 -0.4M262 237.7l2 -0.5M268.3 237.8l2.5 -0.7M275 237.6l2.1 -0.1M281.3 237.7l2.4 -0.4M287.8 237.3l2.4 0.5M294.9 237.6l1.2 -0.3M301 237.7l2.1 -0.4M307.8 237.8l1.4 -0.6M314.3 237.9l1.3 -0.8M320.7 238.1l1.7 -1.1M326.7 238l2.6 -1M332.8 237.4l3.4 0.2M339.9 237.8l2.1 -0.6M346.7 237.6l1.6 -0.3M352.7 237.7l2.6 -0.3M359.5 237.8l1.9 -0.6M365.8 238.1l2.3 -1.1M372.5 237.7l2.1 -0.3M378.6 237.4l2.8 0.2M385.3 237.8l2.3 -0.7M391.9 237.5l2.2 0M398.5 237.7l2 -0.3M405 237.7l2 -0.4M411.2 237.8l2.6 -0.6M417.9 237.6l2.2 -0.3M424.4 237.8l2.2 -0.6M431 237.7l2 -0.5M437.5 237.8l2.1 -0.6M444 237.6l2 -0.2M450.3 237.5l2.4 0.1M457 237.7l2 -0.4M463.5 238.1l2 -1.2M470.1 237.5l1.7 -0.1M476.7 238l1.6 -1M482.8 238.2l2.4 -1.4M2 231.4l2 -0.9M8.4 231.4l2.3 -0.7M14.8 231l2.4 0M21.5 230.9l2 0.1M27.9 231l2.2 0M33.9 231.2l3.2 -0.4M40.7 231.4l2.6 -0.8M47.3 231.3l2.3 -0.6M53.3 231l3.4 0.1M60.2 231.2l2.6 -0.3M66.8 231.3l2.5 -0.5M73 231.3l2.9 -0.6M79.9 231.4l2.2 -0.9M86.1 231.3l2.9 -0.6M93.1 231.4l1.9 -0.8M99.3 231.3l2.3 -0.6M105.8 231.6l2.4 -1.1M112.3 231.4l2.4 -0.9M119.1 231l1.8 0M125.4 231l2.1 0.1M131.7 230.8l2.6 0.4M138.2 231.3l2.5 -0.6M144.9 231.3l2.2 -0.7M151.4 231.1l2.3 -0.3M158.3 231.6l1.4 -1.3M164.2 230.9l2.6 0.1M170.8 231.2l2.3 -0.3M177.3 231.2l2.4 -0.4M184.1 231.2l1.9 -0.5M190 231.5l2.9 -0.9M196.6 231.1l2.9 -0.2M203.2 231.2l2.6 -0.3M209.7 231.4l2.5 -0.8M216.1 231l2.8 0M222.7 231.2l2.6 -0.5M229.2 231.3l2.6 -0.6M235.9 230.9l2.2 0.3M242.2 231.4l2.6 -0.7M248.8 230.9l2.5 0.3M255.1 231l2.8 0.1M261.6 231.2l2.9 -0.3M268.3 230.8l2.4 0.3M274.7 230.9l2.6 0.1M281.1 231.2l2.8 -0.5M288.1 231.3l1.7 -0.6M294.4 231.6l2.2 -1.2M300.9 231.4l2.3 -0.9M307.2 231.1l2.5 -0.2M314 231.5l2 -0.9M320.3 231.2l2.4 -0.3M326.8 231.3l2.5 -0.6M333.3 231.2l2.3 -0.4M339.8 231.2l2.4 -0.4M346.1 231.1l2.8 -0.3M352.6 230.9l2.8 0.3M359.3 231.3l2.5 -0.6M365.6 231.3l2.8 -0.5M372.4 231.4l2.2 -0.8M378.9 231.3l2.1 -0.6M385.5 231l2 0.1M391.7 231.2l2.6 -0.4M398.2 231.5l2.6 -0.9M404.7 231.6l2.6 -1.2M411.3 231.5l2.3 -0.9M418.2 231.3l1.6 -0.6M424.5 231.3l2 -0.5M430.9 231.7l2.2 -1.5M437.5 231l2 0M443.8 231.4l2.3 -0.8M450.7 231.3l1.5 -0.7M456.7 231.2l2.5 -0.4M463.4 231.2l2.3 -0.5M469.9 231l2.3 0.1M476.1 231.2l2.8 -0.4M482.4 231.1l3.1 -0.2M1.9 224.6l2.2 -0.1M8.4 224.7l2.3 -0.4M14.4 224.7l3.2 -0.3M21.5 224.6l2.1 -0.2M27.7 224.6l2.6 -0.3M34.1 224.5l2.8 0.1M40.8 224.9l2.4 -0.8M47.2 225l2.6 -1M53.5 224.7l3 -0.3M60.2 225l2.7 -0.9M66.6 224.5l2.8 -0.1M73.1 224.9l2.8 -0.8M79.7 224.7l2.5 -0.4M86.4 224.7l2.2 -0.3M92.9 224.9l2.3 -0.7M99.8 224.9l1.4 -0.7M105.4 224.8l3.2 -0.6M112.5 224.9l1.9 -0.7M118.6 224.5l2.8 0M125.5 224.6l2 -0.2M131.8 224.8l2.4 -0.6M138.7 224.9l1.6 -0.8M144.6 224.7l2.8 -0.4M151.4 224.3l2.3 0.3M157.7 224.4l2.6 0.1M164.3 224.6l2.5 -0.1M171 224.3l2 0.5M177.2 224.7l2.7 -0.3M183.7 224.5l2.5 0.1M190.2 224.5l2.6 0.1M196.9 224.8l2.3 -0.7M203.1 224.7l2.9 -0.4M210 224.5l2 0M216.4 224.4l2.2 0.2M222.7 224.7l2.6 -0.5M229.1 224.7l2.7 -0.3M235.6 224.6l2.8 -0.2M242.2 224.6l2.5 -0.2M248.8 224.7l2.4 -0.5M255.3 224.5l2.5 0M262 224.6l2.1 -0.3M268.1 224.5l2.7 0M274.9 224.3l2.3 0.4M281.6 224.3l1.7 0.3M287.9 224.9l2.2 -0.9M294.5 224.7l2 -0.4M300.7 224.6l2.7 -0.1M307.1 225l2.8 -1M313.9 224.7l2.2 -0.5M320 224.7l3.1 -0.3M326.5 224.8l2.9 -0.6M333.1 224.7l2.7 -0.3M339.9 225.2l2.3 -1.3M345.9 224.7l3.3 -0.5M352.7 224.9l2.7 -0.7M359 224.5l3.1 -0.1M365.8 224.6l2.5 -0.1M372.1 224.4l2.9 0.1M378.7 224.9l2.5 -0.8M385.4 224.8l2.3 -0.5M392.3 224.9l1.5 -0.7M398.4 224.9l2.2 -0.7M404.9 224.6l2.3 -0.3M411.4 224.9l2.1 -0.8M417.7 224.9l2.5 -0.8M424.5 224.5l2.1 -0.1M431 224.8l1.9 -0.6M437.8 224.2l1.4 0.5M443.6 224.9l2.9 -0.7M450.2 224.9l2.6 -0.7M456.7 224.8l2.5 -0.7M463.1 224.5l2.9 0M469.6 224.5l2.8 0.1M475.8 224.5l3.4 0M482.7 224.8l2.6 -0.6M2 218.3l2.1 -0.7M8.4 218.1l2.2 -0.3M14.6 218.3l2.8 -0.7M21.4 218.2l2.3 -0.5M27.7 218.3l2.6 -0.7M33.8 217.8l3.3 0.4M40.5 218.4l3 -0.8M47.2 217.8l2.6 0.3M53.6 217.9l2.8 0.1M60.4 218.1l2.2 -0.1M66.9 218.2l2.1 -0.5M73.4 218.3l2.2 -0.6M80.1 217.8l1.8 0.4M86.4 218.1l2.2 -0.3M92.8 218.5l2.4 -1M99.5 218.1l2 -0.2M106.3 218.3l1.3 -0.6M112.4 218.7l2.2 -1.4M119.1 218.3l1.8 -0.7M125.8 218.1l1.4 -0.3M131.9 218.1l2.3 -0.1M138.8 218.2l1.5 -0.3M144.6 218.3l2.7 -0.6M151.2 217.8l2.6 0.3M157.5 217.7l3.1 0.6M163.9 218.2l3.1 -0.3M170.8 218.5l2.5 -0.9M177.4 218.2l2.2 -0.4M183.3 218.3l3.3 -0.6M190.2 218l2.6 -0.1M196.9 218.6l2.2 -1.2M202.9 218.5l3.2 -1M210.4 218l1.3 0M216.1 218.4l2.8 -0.8M222.9 218.2l2.3 -0.5M229.5 218.4l2 -0.8M236 218.5l2 -1M242.4 218.2l2.2 -0.4M249.3 218.1l1.5 -0.2M255.6 218.4l1.7 -0.7M262.3 217.9l1.5 0.2M268.4 217.8l2.2 0.4M275.2 217.7l1.6 0.6M281.5 217.9l2 0.3M288 218.2l2.1 -0.4M294.2 218.4l2.5 -0.8M300.6 218.2l2.7 -0.4M307.5 218.4l2 -0.8M313.9 219.1l2.2 -2.2M320.3 218.4l2.4 -0.8M326.8 218.4l2.4 -0.9M332.7 218.2l3.6 -0.5M339.5 218.4l3 -0.7M346.1 218.3l2.7 -0.5M353 218.4l2.1 -0.8M359.4 218.1l2.1 -0.3M366.1 218.3l1.8 -0.6M372.4 218l2.1 0.1M379.2 218.1l1.7 -0.2M385.7 218l1.5 0.1M391.8 218.1l2.5 -0.2M398.5 218.4l1.9 -0.8M404.9 218.3l2.2 -0.5M411.5 218.5l2 -1M417.9 218.3l2.2 -0.7M424.4 218.5l2.1 -0.9M430.5 218.1l3.1 -0.2M437.2 218.4l2.6 -0.8M444.1 218.3l1.7 -0.7M450.4 218.4l2.1 -0.7M456.4 217.9l3.2 0.1M462.7 218.2l3.6 -0.4M469.4 218.1l3.2 -0.3M476.4 218l2.3 0M483.1 218.2l1.8 -0.4M2 211.6l2 -0.3M8.3 211.8l2.3 -0.6M15 211.6l1.9 -0.3M21 211.8l3.1 -0.7M27.9 211.7l2.2 -0.3M34.1 211.7l2.8 -0.5M40.8 211.6l2.4 -0.2M47.3 211.2l2.5 0.6M53.8 211.4l2.3 0.3M60.5 211.5l2 0M67.1 211.6l1.8 -0.3M73.7 211.6l1.5 -0.3M80.4 211.5l1.3 -0.1M86.5 211.4l2.1 0.1M93.2 212l1.6 -1M99.7 211.7l1.6 -0.3M106.1 211.9l1.9 -0.8M113 212.2l0.9 -1.4M119.6 212.2l0.8 -1.4M125.6 211.8l1.9 -0.6M132 212.1l2.1 -1.2M138.1 211.2l2.7 0.5M144.6 211.4l2.7 0.3M151.3 211.6l2.3 -0.2M158.2 211.3l1.6 0.3M164.4 211.3l2.3 0.3M170.8 211.5l2.5 0M177.3 212.1l2.4 -1.2M184.1 211.8l1.9 -0.5M190.8 211.3l1.5 0.4M197.2 211.8l1.6 -0.6M203.6 211.8l1.8 -0.6M210.2 211.8l1.7 -0.6M216.9 211.7l1.3 -0.4M223 211.9l2 -0.7M229.7 211.9l1.5 -0.9M236.3 211.6l1.5 -0.2M242.3 211.9l2.3 -0.8M249.2 211.5l1.5 -0.1M255.8 211.3l1.4 0.3M262.2 211.7l1.5 -0.3M268.6 211.5l1.8 -0.1M274.8 211.3l2.3 0.3M281.8 211.9l1.3 -0.9M288.1 211.6l1.8 -0.2M294.5 211.5l2 0M301.1 211.9l1.8 -0.9M307.1 211.8l2.8 -0.6M313.8 211.7l2.4 -0.5M320.7 211.8l1.6 -0.5M326.3 212.1l3.4 -1.2M333.4 211.8l2.1 -0.7M339.6 211.7l2.8 -0.5M346.6 211.6l1.8 -0.1M353.2 211.7l1.6 -0.3M359.5 211.2l2.1 0.6M366.2 211.2l1.6 0.7M372.7 211.4l1.7 0.2M379 211.2l2 0.7M386.4 211.9l0.2 -0.8M392.1 211.9l1.7 -0.7M399 211.8l1 -0.6M404.9 212l2.2 -1.1M411.6 211.6l1.7 -0.2M418.3 212.3l1.5 -1.6M424.4 211.9l2.2 -0.7M430.8 211.5l2.4 -0.1M437.2 211.6l2.6 -0.3M444.1 211.9l1.7 -0.7M450.6 211.1l1.9 0.7M456.6 211.8l2.9 -0.6M463.4 211.5l2.2 0M470.2 211.7l1.6 -0.5M476.1 211.3l2.9 0.4M482.8 211.8l2.4 -0.7M2.1 205.2l1.7 -0.4M8.2 205.5l2.6 -1.1M14.9 205.3l2.2 -0.6M21.9 205.1l1.2 -0.2M28.2 205.2l1.7 -0.4M35 204.9l1.1 0.1M41.3 204.6l1.4 0.7M47.6 204.5l1.8 1M54.7 204.8l0.6 0.3M61.5 205h.9M67.2 205l1.6 0.1M73.5 204.9l2 0.3M80.6 205.4l0.7 -0.8M87 205.2l1 -0.3M93.4 205.2l1.3 -0.3M100.1 205.4l0.8 -0.9M106.6 205.6l0.9 -1.1M112.5 205.6l2 -1.1M119 205.6l2.1 -1.2M125.4 205l2.2 -0.1M132 205l2.1 0.1M138.3 205.2l2.5 -0.4M144.8 205.2l2.5 -0.3M151.2 204.9l2.5 0.1M157.8 204.8l2.4 0.4M164.6 204.8l1.7 0.4M171.2 204.9l1.5 0.2M177.2 204.9l2.6 0.2M184.3 205.1l1.4 -0.3M190.5 205.3l1.9 -0.5M197.4 205.2l1.1 -0.3M204.3 205.5l0.4 -1.1M210.3 205.4l1.4 -0.8M217.5 205h.9M223.4 205.3l1.2 -0.6M229.9 205.1l1.2 -0.3M236.5 205.3l1.1 -0.5M242.9 205.5l1.2 -0.9M249.2 205l1.6 0M255.7 204.5l1.7 0.9M262.2 204.6l1.6 0.8M269 204.7l1.1 0.5M274.8 204.9l2.4 0.2M281.8 204.9l1.4 0.1M288.2 204.8l1.6 0.4M294.5 205.3l2 -0.6M301 205.2l2 -0.4M307.4 205.6l2.2 -1.1M314.1 205.5l1.8 -0.9M320.3 205.5l2.3 -0.9M327.3 205.3l1.3 -0.6M333.5 205.3l2 -0.6M340.6 205.1l0.8 -0.1M346.7 204.9l1.7 0.3M354 205h.9M360.1 204.9l0.8 0.2M366.5 205.2l1 -0.4M373.5 205h.9M379.9 204.6l0.2 0.8M386.1 205l0.7 0M392.3 204.9l1.4 0.1M399.1 204.7l0.8 0.6M405.5 205.2l1 -0.5M411.6 205.2l1.8 -0.4M418.4 205l1.2 0M424.7 205.1l1.6 -0.2M430.8 205.4l2.3 -0.8M437.3 205.5l2.5 -1M443.8 205.2l2.4 -0.4M450.5 205.2l2.1 -0.5M456.7 205.3l2.6 -0.7M463.7 204.8l1.6 0.5M470.1 204.9l1.7 0.2M476.6 204.8l1.7 0.3M483.3 204.8l1.5 0.4M2.3 198.4l1.5 0.1M8.6 198.6l1.7 -0.2M15.6 198.6l0.7 -0.2M21.8 198.5l1.4 0.1M28.6 198.8l0.9 -0.6M35.1 198.9l0.8 -0.8M41.4 198.5l1.1 0M48.5 198.5h.9M54.6 198.1l0.8 0.9M61.1 198.5l0.8 0.1M68 198.5h.9M74.5 198.5h.9M81 198.5h.9M86.9 198.4l1.1 0.2M93.5 198.5l1 -0.1M99.8 198.8l1.4 -0.5M106.4 199l1.2 -1.1M112.6 198.6l1.8 -0.3M119.6 198.5l0.8 0.1M125.4 198.6l2.2 -0.1M132.3 198.6l1.3 -0.1M138.8 198.5l1.4 -0.1M145.2 198.3l1.7 0.4M151.8 198.4l1.5 0.3M158.1 198.4l1.9 0.2M164.6 198.2l1.7 0.7M171.1 198.1l1.8 0.8M177.5 198.4l2 0.2M185 198.5h.9M191 198.6l1 -0.3M198 198.5h.9M204.1 198.8l0.9 -0.6M210.5 199.2l1.1 -1.4M217.1 198.8l0.7 -0.5M223.7 198.8l0.6 -0.7M230 198.4l0.9 0.1M236.5 198.6l1.1 -0.1M243.1 198.6l0.8 -0.3M249.2 198.4l1.6 0.2M255.7 198.5l1.6 0M262.2 198.5l1.6 0.1M268.7 198.4l1.6 0.3M274.8 198.4l2.3 0.1M281.8 198.4l1.4 0.2M288.2 198.5l1.7 -0.1M294.5 198.4l2 0.1M300.8 198.6l2.4 -0.2M308 198.6l1.1 -0.2M314.1 198.9l1.7 -0.8M321.5 198.5h.9M327.1 198.9l1.8 -0.8M334 198.3l1 0.4M341 198.5h.9M347 198.4l1 0.1M354 198.5h.9M360 198.1l1 0.8M366.6 198.2l0.7 0.5M372.9 198.5l1.2 -0.1M379.6 198.2l0.7 0.6M385.9 198.3l1.2 0.5M392.3 198.2l1.5 0.5M399 198.7l1.1 -0.5M405.2 198.4l1.7 0.2M411.5 198.9l2.1 -0.8M418.1 198.8l1.8 -0.7M424.6 198.9l1.7 -0.8M430.7 199.2l2.6 -1.4M437.5 198.2l2 0.5M444.4 198.6l1.2 -0.3M450.7 198.7l1.5 -0.4M457.3 198.2l1.3 0.7M463.8 198.5l1.4 0M471 198.5h.9M477.5 198.5h.9M483.5 198.4l0.9 0.2M2.3 191.9l1.3 0.2M8.6 192l1.8 0M15.3 192.2l1.4 -0.4M22.5 192h.9M28.5 192.1l1 -0.2M34.8 192l1.3 -0.1M42 192h.9M48.6 191.6l-0.3 0.7M54.3 191.7l1.3 0.6M61.1 191.6l0.8 0.9M68 192h.9M74 192l1 -0.1M80.6 192l0.9 0.1M87 192.1l1 -0.2M93.3 192.2l1.4 -0.4M99.9 192.3l1.2 -0.6M106 192.5l2.1 -1M112.5 191.9l2 0.1M119.4 192.1l1.2 -0.1M125.4 192.1l2.1 -0.1M132.3 192l1.3 0.1M138.7 191.7l1.7 0.6M145.1 191.7l1.7 0.6M152.1 192l0.9 0.1M158.3 191.6l1.4 0.8M164.9 191.3l1.3 1.3M171.8 191.7l0.4 0.6M178.2 192.4l0.6 -0.8M185 192h.9M191.3 191.4l0.5 1.1M197.9 192.6l0.2 -1.1M204 192.6l1.1 -1.2M210.4 191.9l1.2 0.3M217 192.5l0.9 -1M223.2 192.3l1.6 -0.5M230.2 192.5l0.6 -0.9M236.3 192.1l1.4 -0.2M242.9 191.9l1.2 0.1M249 191.6l2.1 0.7M255.6 191.8l1.8 0.4M262.3 191.8l1.4 0.4M268.5 191.6l2 0.8M275.1 192.2l1.7 -0.4M281.6 191.8l1.8 0.5M288 192.1l2 -0.1M295.1 191.9l0.8 0.2M301.3 192.1l1.3 -0.3M308.5 192h.9M314.3 192.3l1.4 -0.6M321.1 192.2l0.9 -0.5M328 192h.9M334.5 192h.9M340.8 192.3l0.3 -0.6M347.5 192h.9M354 192h.9M360 191.9l0.9 0.1M366.5 191.6l1 0.9M372.9 191.9l1.3 0.2M379.5 191.9l0.9 0.3M385.6 191.5l1.8 1.1M392 192l2 0M399 192.1l1 -0.3M405.2 192.2l1.7 -0.4M411.6 192.3l1.8 -0.5M417.9 192.3l2.1 -0.7M424.6 192.3l1.7 -0.7M431.4 192.3l1.3 -0.7M437.7 192l1.7 -0.1M444.2 192.1l1.5 -0.2M451.5 191.6l0.1 0.7M457.6 192l0.8 0.1M464 192.1l1.1 -0.2M470.4 191.7l1.3 0.6M477 192.1l1 -0.3M483.6 191.7l0.8 0.5M2.7 186.1l0.6 -1.1M9.5 185.5h.9M16 185.5h.9M22.5 185.5h.9M29 185.5h.9M35.5 185.5h.9M42 185.5h.9M48.5 185.5h.9M54.6 185.4l0.8 0.2M61.5 185.5h.9M67.6 185.5l0.8 0M74.1 185.5l0.8 -0.1M80.3 185.6l1.5 -0.2M86.8 185.7l1.4 -0.4M93.4 185.7l1.3 -0.4M99.6 185.4l1.8 0.2M106.1 185.9l1.8 -0.7M112.7 185.7l1.6 -0.4M119.6 185.6l0.8 -0.2M125.5 185.9l2.1 -0.7M132.5 185.7l1.1 -0.4M138.8 185.7l1.4 -0.5M145.4 185.1l1.2 0.8M152.5 185.5h.9M159 185.5h.9M165.2 185.2l0.6 0.6M172.2 185.2l-0.5 0.6M178.2 185.2l0.6 0.6M185.2 185.9l-0.5 -0.7M191.1 185.9l0.7 -0.7M197.5 185.5l1 0M204.1 185.7l0.7 -0.4M210.4 185.6l1.3 -0.2M216.8 185.7l1.4 -0.5M223.4 185.8l1.2 -0.6M230.5 185.5h.9M236.2 185.7l1.7 -0.3M242.7 185.6l1.6 -0.1M249.3 185.3l1.5 0.4M255.7 185l1.7 1M262.2 185.3l1.7 0.4M268.6 185.4l1.8 0.2M275.4 185.4l1.3 0.2M282 185.3l1 0.4M288.6 185.5l0.8 -0.1M294.9 185.4l1.2 0.2M301.6 185.9l0.9 -0.8M308.2 185.2l0.6 0.6M314.8 186.1l0.4 -1.2M321.5 185.5h.9M328 185.5h.9M334.3 185.8l0.4 -0.6M340.6 185.9l0.9 -0.8M347.5 185.5h.9M353.3 185.5l1.5 0.1M359.7 185.5l1.5 -0.1M366.4 185.2l1.2 0.7M372.6 185.5l1.7 -0.1M379.3 185.1l1.5 0.7M385.5 185.5l1.9 0M392.2 185.3l1.5 0.4M398.9 185.5l1.2 -0.1M405.2 185.6l1.7 -0.3M411.7 185.4l1.6 0.2M418.4 186l1.2 -0.9M425.2 185.8l0.5 -0.6M431.2 185.6l1.6 -0.3M437.9 185l1.2 0.9M444.6 185.7l0.7 -0.4M450.8 185l1.4 0.9M458 185.5h.9M464.5 185.5h.9M471 185.5h.9M477.5 185.5h.9M483.7 185.1l0.6 0.7M2.6 179.6l0.9 -1.2M9.1 179l0.7 -0.1M16 179h.9M22.5 179h.9M29 179h.9M35.3 178.5l0.5 0.9M42 179h.9M47.9 178.9l1.2 0.2M54.4 179l1.2 -0.1M61 178.3l1.1 1.4M67.4 178.5l1.1 1M73.9 179.1l1.2 -0.3M80.2 179.2l1.7 -0.4M86.8 178.8l1.3 0.4M93.1 179.1l1.7 -0.2M99.7 179.2l1.6 -0.5M106.4 179.5l1.2 -1M112.9 179.2l1.1 -0.4M120 179h.9M126 179.4l1.1 -0.8M133 179h.9M139.5 179h.9M145.9 178.6l0.2 0.8M152.1 178.9l0.7 0.2M158.6 179.1l0.7 -0.2M165.1 179l0.7 0M172 179h.9M178.5 179h.9M185 179h.9M191.1 178.9l0.8 0.2M197.5 179l1 -0.1M204.5 179h.9M210.4 179l1.2 -0.1M216.8 179.2l1.4 -0.3M223.4 179.2l1.2 -0.4M229.6 179.1l1.8 -0.2M236.4 178.8l1.2 0.5M242.8 179l1.4 0.1M249.2 178.9l1.7 0.2M255.8 178.7l1.4 0.5M262.3 179.1l1.5 -0.1M269.2 178.9l0.7 0.3M275.5 178.7l0.9 0.6M282.1 178.9l0.8 0.1M288.3 178.8l1.4 0.3M295.5 179h.9M302 179h.9M308 179.1l1.1 -0.3M315 179h.9M321.2 178.7l0.6 0.5M327.3 178.9l1.4 0.2M334.2 179.4l0.6 -0.8M340.3 179l1.4 0.1M347.1 179.1l0.9 -0.1M353.3 179l1.5 0M359.7 178.8l1.6 0.4M366.2 178.8l1.6 0.3M372.6 178.8l1.8 0.4M378.8 178.6l2.3 0.9M386.1 178.9l0.8 0.1M392.5 179l1 0M398.8 179.1l1.4 -0.2M406 179h.9M412.1 178.5l0.8 0.9M418.9 179.4l0.1 -0.8M425.5 179h.9M431.9 179.4l0.1 -0.7M438.2 179.6l0.6 -1.3M445 179h.9M451.5 179h.9M457.6 179l0.8 -0.1M464.5 179h.9M470.9 178.5l0.1 1M477.5 179h.9M483.6 178.9l0.7 0.2M3 172.5h.9M9.5 172.9l0 -0.8M16 172.5h.9M22.5 172.5h.9M28.6 172.5l0.7 0M35.1 172.6l0.8 -0.2M41.5 172.6l0.9 -0.2M48 172.6l1 -0.3M54.3 172.5l1.5 -0.1M61.1 172.3l0.9 0.4M67.5 172.3l1.1 0.4M73.8 172.6l1.5 -0.3M80.2 172.8l1.5 -0.6M86.9 172.7l1.2 -0.5M94 172.5h.9M100.1 172.9l0.8 -0.8M106.5 172.7l1 -0.3M113.5 172.5h.9M119.6 173.3l0.7 -1.7M125.9 172.4l1.2 0.2M132.8 172.1l0.3 0.7M139.1 172.2l0.8 0.5M146 172.5h.9M152.5 172.5h.9M159 172.5h.9M165.1 172.7l0.8 -0.4M171.6 172.1l0.9 0.8M178.2 172.1l0.7 0.8M184.7 172.3l0.7 0.3M191.5 172.5h.9M197.6 172.7l0.8 -0.4M204.1 172.5l0.7 0.1M210.5 173l0.9 -0.9M216.7 172.5l1.6 0M223.1 172.7l1.7 -0.3M229.8 172.5l1.3 0M236.3 172.6l1.4 -0.1M243.1 172.5l0.8 0M250 172.5h.9M256.5 172.5h.9M263 172.5h.9M268.9 172.3l1.2 0.5M276 172.5h.9M282.5 172.5h.9M288.7 172.4l0.7 0.3M295.5 172.5h.9M302 172.5h.9M308.5 172.5h.9M315 172.5h.9M321.5 173.1l0 -1.1M327.5 172.8l0.9 -0.6M334.5 172.5h.9M340.3 172.3l1.4 0.3M346.8 172.5l1.4 0.1M353.4 172.7l1.3 -0.4M359.8 172.2l1.3 0.5M366.5 172.5l0.9 0.1M373.5 172.5h.9M379.6 172.8l0.8 -0.5M386.5 172.5h.9M392.3 172.7l1.5 -0.3M399.5 172.5h.9M405.6 172.6l0.8 -0.2M412.5 172.5h.9M419 172.5h.9M424.9 172.6l1.1 -0.2M432 172.5h.9M438.1 172.7l0.8 -0.4M444.8 172.1l0.5 0.8M451 172.5l1 0M458 172.5h.9M464.5 172.5h.9M471 172.5h.9M477.2 172.3l0.7 0.4M483.4 172.3l1.3 0.3M2.2 166.2l1.6 -0.3M9.5 166h.9M15.4 165.9l1.2 0.2M22.5 166h.9M28.2 166.3l1.7 -0.6M35.1 165.6l0.8 0.8M41.6 165.8l0.8 0.4M48.1 165.9l0.7 0.2M54.8 165.7l0.5 0.7M61.5 166h.9M67.5 166.2l0.9 -0.3M74.1 166l0.7 -0.1M81 166h.9M87.1 166l0.8 0M93.2 166.6l1.5 -1.1M100.1 166.2l0.9 -0.5M106.4 166.3l1.2 -0.6M113.5 166h.9M120 166h.9M126.5 166h.9M132.5 165.8l1.1 0.4M139.5 166h.9M145.7 166.2l0.7 -0.5M152.2 165.9l0.7 0.3M158.8 166.4l0.4 -0.8M165.5 166h.9M171.8 165.7l0.4 0.6M177.9 165.7l1.1 0.6M184.7 166.2l0.6 -0.4M191.5 166h.9M198 166h.9M203.7 166.3l1.5 -0.7M211 166h.9M216.9 166.2l1.2 -0.4M223.5 166l1 0M230.1 166.2l0.7 -0.4M236.4 166.1l1.2 -0.3M243.4 166.6l0.3 -1.1M250 166h.9M256.5 166h.9M263 166h.9M269.5 166h.9M276 166h.9M282.5 166h.9M289 166h.9M295.5 166h.9M302 166h.9M308.5 166h.9M315 166h.9M321 166l0.9 0M328 166h.9M334.5 166h.9M341 166h.9M347.5 166h.9M353.7 166.3l0.6 -0.6M360.5 166h.9M367 166h.9M373.5 166h.9M379.4 165.7l1.1 0.6M386.5 166h.9M393 166h.9M399 165.8l1 0.4M406 166h.9M412 165.9l0.9 0.1M419 166h.9M425.5 166h.9M431.6 166.3l0.9 -0.6M438.5 166h.9M444.5 166.3l1 -0.6M451 165.9l0.9 0.3M457.5 165.9l1 0.2M464.5 166h.9M470.5 166l1 0M477.5 166h.9M484 166h.9M2.9 159.9l0.2 -0.7M9.1 159.8l0.8 -0.7M15.4 159.9l1.2 -0.8M22 159.6l1 -0.1M29 159.5h.9M35 159.3l1 0.3M42 159.5h.9M47.8 159.3l1.3 0.4M55 159.5h.9M61.5 159.5h.9M68 159.5h.9M74.5 159.5h.9M81 159.5h.9M87.5 159.5h.9M94 159.5h.9M100.5 159.5h.9M107 159.5h.9M113.1 159.8l0.8 -0.5M120 159.5h.9M126.5 159.5h.9M133 159.5h.9M139.5 159.5h.9M145.6 159.3l0.8 0.4M151.9 159.5l1.2 0M159 159.5h.9M165.1 159.7l0.8 -0.4M172 159.5h.9M178.5 159.5h.9M184.7 159.7l0.6 -0.5M191.5 159.5h.9M198 159.5h.9M204 160l1.1 -1M210.6 159.8l0.9 -0.6M217.5 159.5h.9M223.8 160l0.4 -1M230.5 159.5h.9M237 159.5h.9M243.5 159.5h.9M250 159.5h.9M256.5 159.5h.9M263 159.5h.9M269.1 159.2l0.7 0.5M276 159.5h.9M282.4 159.1l0.2 0.8M288.7 159.4l0.7 0.3M294.7 159.5l1.6 -0.1M301.6 159.7l0.9 -0.4M308.5 159.5h.9M314.2 159.9l1.7 -0.8M321.1 159.8l0.7 -0.6M328 159.5h.9M334.1 159.6l0.8 -0.2M341 159.5h.9M347.5 159.5h.9M353.4 159.3l1.1 0.4M360.5 159.5h.9M367 159.5h.9M373.5 159.5h.9M380 159.5h.9M386.5 159.5h.9M393 159.5h.9M399.5 159.5h.9M406 159.5h.9M412.6 160.1l-0.2 -1.3M419 159.5h.9M425.5 159.5h.9M431.7 159.6l0.6 -0.3M438.5 159.5h.9M444.9 159.9l0.2 -0.9M451 159.3l1.1 0.4M458 159.5h.9M464.5 159.5h.9M471 159.5h.9M477.2 159.7l0.6 -0.4M484 159.5h.9M3 153h.9M9.4 153.4l0.3 -0.9M15.8 153.4l0.4 -0.9M22.2 153.2l0.5 -0.5M29 153h.9M35.5 153h.9M41.3 153.2l1.4 -0.4M48.5 153h.9M55 153h.9M61.5 153h.9M68 153h.9M74.1 153.2l0.9 -0.4M80.4 153l1.3 -0.1M87.5 153h.9M94 153h.9M100.1 153l0.9 0M107 153h.9M113.1 153.2l0.8 -0.4M120 153h.9M126.4 153.4l0.2 -0.7M133 153h.9M139 152.8l1 0.5M146 153h.9M152 152.7l1 0.5M159 153h.9M165.5 153h.9M172 153h.9M178.5 153h.9M185 153h.9M191.5 153h.9M198 153h.9M204.5 153h.9M210.6 153l0.8 0M217.5 153h.9M224 153h.9M230.5 153h.9M237 153h.9M243.5 153h.9M249.6 152.9l0.8 0.1M255.7 152.9l1.5 0.3M263 153h.9M269.2 153.4l0.6 -0.7M276 153h.9M282.1 152.8l0.7 0.4M289 153h.9M295.3 153.3l0.4 -0.6M301.5 153.1l1 -0.3M308.5 153h.9M314.5 152.9l1 0.2M321.5 153h.9M327.4 153.1l1.1 -0.1M334.1 153.2l0.8 -0.4M340.4 153l1.1 -0.1M347.5 153h.9M354 153h.9M360.5 153h.9M366.6 153.3l0.8 -0.5M373.5 153h.9M379.4 153.1l1.2 -0.2M386.5 153h.9M393 153h.9M399.5 153h.9M406 153h.9M412.5 153h.9M418.4 153.3l1.2 -0.7M425.5 153h.9M432 153h.9M438.5 153h.9M444.7 153.2l0.6 -0.4M451.5 153h.9M458 153h.9M464.1 152.7l0.7 0.5M471 153h.9M477.5 153h.9M484.2 152.6l-0.5 0.7M2.5 146.7l1 -0.5M9.5 146.5h.9M16 146.5h.9M22.5 146.5h.9M29 146.5h.9M35.1 146.5l0.8 -0.1M41.9 146.8l0.2 -0.7M48.5 146.5h.9M55 146.5h.9M61.5 146.5h.9M68 146.5h.9M74.5 146.5h.9M81 146.5h.9M87.5 146.5h.9M93.6 146.3l0.7 0.5M100.5 146.5h.9M107 146.5h.9M113.3 146.9l0.5 -0.8M120 146.5h.9M126.6 146.9l-0.3 -0.9M133 146.5h.9M139.5 146.5h.9M146 146.5h.9M151.9 146.9l1.3 -0.8M159 146.5h.9M165.5 146.5h.9M172 146.5h.9M178.5 146.5h.9M185 146.5h.9M191.5 146.5h.9M198 146.5h.9M204.1 146.1l0.8 0.8M210.6 146.9l0.7 -0.8M217.5 146.5h.9M224 146.5h.9M230.5 146.5h.9M236.4 146.6l1.2 -0.2M243.5 146.5h.9M249.9 146.8l0.2 -0.7M256.5 146.5h.9M263 146.5h.9M269.5 146.5h.9M276 146.5h.9M282.2 146l0.6 1M289 146.5h.9M295.2 147l0.6 -0.9M302 146.5h.9M308 146.4l1 0.2M314.7 146l0.6 1M321.5 146.5h.9M328 146.5h.9M334.1 147.1l0.9 -1.1M341 146.5h.9M347.5 146.5h.9M353.5 146.6l0.9 -0.3M360.5 146.5h.9M367 146.5h.9M373 146.5l1 0M380 146.5h.9M386 146.3l1 0.4M393 146.5h.9M399.5 146.5h.9M406 146.5h.9M412 146.5l1.1 0M419 146.5h.9M425.5 146.5h.9M431.5 146.7l0.9 -0.3M438.1 146.7l0.9 -0.4M444.5 146.4l1 0.2M451.5 146.5h.9M458 146.5h.9M464.5 146.5h.9M470.8 146.2l0.4 0.6M477.5 146.5h.9M483.4 146.8l1.2 -0.5" class="q"/>
<path d="M3 140h.9M9.5 140h.9M16 140h.9M22.5 140h.9M29 140h.9M35.5 140h.9M42 140h.9M48.5 140h.9M55 140h.9M61.5 140h.9M68 140h.9M74.5 140h.9M81 140h.9M87.5 140h.9M94 140h.9M100.5 140h.9M107 140h.9M113.5 140h.9M120 140h.9M126.5 140h.9M133 140h.9M139.5 140h.9M146 140h.9M152.5 140h.9M159 140h.9M165.5 140h.9M172 140h.9M178.5 140h.9M185 140h.9M191.5 140h.9M198 140h.9M204.5 140h.9M211 140h.9M217.5 140h.9M224 140h.9M230.5 140h.9M237 140h.9M243.5 140h.9M250 140h.9M256.5 140h.9M263 140h.9M269.5 140h.9M276 140h.9M282.5 140h.9M289 140h.9M295.5 140h.9M302 140h.9M308.5 140h.9M315 140h.9M321.5 140h.9M328 140h.9M334.5 140h.9M341 140h.9M347.5 140h.9M354 140h.9M360.5 140h.9M367 140h.9M373.5 140h.9M380 140h.9M386.5 140h.9M393 140h.9M399.5 140h.9M406 140h.9M412.5 140h.9M419 140h.9M425.5 140h.9M432 140h.9M438.5 140h.9M445 140h.9M451.5 140h.9M458 140h.9M464.5 140h.9M471 140h.9M477.5 140h.9M484 140h.9M3 133.5h.9M9.5 133.5h.9M16 133.5h.9M22.5 133.5h.9M29 133.5h.9M35.5 133.5h.9M42 133.5h.9M48.5 133.5h.9M55 133.5h.9M61.5 133.5h.9M68 133.5h.9M74.5 133.5h.9M81 133.5h.9M87.5 133.5h.9M94 133.5h.9M100.5 133.5h.9M107 133.5h.9M113.5 133.5h.9M120 133.5h.9M126.5 133.5h.9M133 133.5h.9M139.5 133.5h.9M146 133.5h.9M152.5 133.5h.9M159 133.5h.9M165.5 133.5h.9M172 133.5h.9M178.5 133.5h.9M185 133.5h.9M191.5 133.5h.9M198 133.5h.9M204.5 133.5h.9M211 133.5h.9M217.5 133.5h.9M224 133.5h.9M230.5 133.5h.9M237 133.5h.9M243.5 133.5h.9M250 133.5h.9M256.5 133.5h.9M263 133.5h.9M269.5 133.5h.9M276 133.5h.9M282.5 133.5h.9M289 133.5h.9M295.5 133.5h.9M302 133.5h.9M308.5 133.5h.9M315 133.5h.9M321.5 133.5h.9M328 133.5h.9M334.5 133.5h.9M341 133.5h.9M347.5 133.5h.9M354 133.5h.9M360.5 133.5h.9M367 133.5h.9M373.5 133.5h.9M380 133.5h.9M386.5 133.5h.9M393 133.5h.9M399.5 133.5h.9M406 133.5h.9M412.5 133.5h.9M419 133.5h.9M425.5 133.5h.9M432 133.5h.9M438.5 133.5h.9M445 133.5h.9M451.5 133.5h.9M458 133.5h.9M464.5 133.5h.9M471 133.5h.9M477.5 133.5h.9M484 133.5h.9M3 127h.9M9.5 127h.9M16 127h.9M22.5 127h.9M29 127h.9M35.5 127h.9M42 127h.9M48.5 127h.9M55 127h.9M61.5 127h.9M68 127h.9M74.5 127h.9M81 127h.9M87.5 127h.9M94 127h.9M100.5 127h.9M107 127h.9M113.5 127h.9M120 127h.9M126.5 127h.9M133 127h.9M139.5 127h.9M146 127h.9M152.5 127h.9M159 127h.9M165.5 127h.9M172 127h.9M178.5 127h.9M185 127h.9M191.5 127h.9M198 127h.9M204.5 127h.9M211 127h.9M217.5 127h.9M224 127h.9M230.5 127h.9M237 127h.9M243.5 127h.9M250 127h.9M256.5 127h.9M263 127h.9M269.5 127h.9M276 127h.9M282.5 127h.9M289 127h.9M295.5 127h.9M302 127h.9M308.5 127h.9M315 127h.9M321.5 127h.9M328 127h.9M334.5 127h.9M341 127h.9M347.5 127h.9M354 127h.9M360.5 127h.9M367 127h.9M373.5 127h.9M380 127h.9M386.5 127h.9M393 127h.9M399.5 127h.9M406 127h.9M412.5 127h.9M419 127h.9M425.5 127h.9M432 127h.9M438.5 127h.9M445 127h.9M451.5 127h.9M458 127h.9M464.5 127h.9M471 127h.9M477.5 127h.9M484 127h.9M3 120.5h.9M9.5 120.5h.9M16 120.5h.9M22.5 120.5h.9M29 120.5h.9M35.5 120.5h.9M42 120.5h.9M48.5 120.5h.9M55 120.5h.9M61.5 120.5h.9M68 120.5h.9M74.5 120.5h.9M81 120.5h.9M87.5 120.5h.9M94 120.5h.9M100.5 120.5h.9M107 120.5h.9M113.5 120.5h.9M120 120.5h.9M126.5 120.5h.9M133 120.5h.9M139.5 120.5h.9M146 120.5h.9M152.5 120.5h.9M159 120.5h.9M165.5 120.5h.9M172 120.5h.9M178.5 120.5h.9M185 120.5h.9M191.5 120.5h.9M198 120.5h.9M204.5 120.5h.9M211 120.5h.9M217.5 120.5h.9M224 120.5h.9M230.5 120.5h.9M237 120.5h.9M243.5 120.5h.9M250 120.5h.9M256.5 120.5h.9M263 120.5h.9M269.5 120.5h.9M276 120.5h.9M282.5 120.5h.9M289 120.5h.9M295.5 120.5h.9M302 120.5h.9M308.5 120.5h.9M315 120.5h.9M321.5 120.5h.9M328 120.5h.9M334.5 120.5h.9M341 120.5h.9M347.5 120.5h.9M354 120.5h.9M360.5 120.5h.9M367 120.5h.9M373.5 120.5h.9M380 120.5h.9M386.5 120.5h.9M393 120.5h.9M399.5 120.5h.9M406 120.5h.9M412.5 120.5h.9M419 120.5h.9M425.5 120.5h.9M432 120.5h.9M438.5 120.5h.9M445 120.5h.9M451.5 120.5h.9M458 120.5h.9M464.5 120.5h.9M471 120.5h.9M477.5 120.5h.9M484 120.5h.9M3 114h.9M9.5 114h.9M16 114h.9M22.5 114h.9M29 114h.9M35.5 114h.9M42 114h.9M48.5 114h.9M55 114h.9M61.5 114h.9M68 114h.9M74.5 114h.9M81 114h.9M87.5 114h.9M94 114h.9M100.5 114h.9M107 114h.9M113.5 114h.9M120 114h.9M126.5 114h.9M133 114h.9M139.5 114h.9M146 114h.9M152.5 114h.9M159 114h.9M165.5 114h.9M172 114h.9M178.5 114h.9M185 114h.9M191.5 114h.9M198 114h.9M204.5 114h.9M211 114h.9M217.5 114h.9M224 114h.9M230.5 114h.9M237 114h.9M243.5 114h.9M250 114h.9M256.5 114h.9M263 114h.9M269.5 114h.9M276 114h.9M282.5 114h.9M289 114h.9M295.5 114h.9M302 114h.9M308.5 114h.9M315 114h.9M321.5 114h.9M328 114h.9M334.5 114h.9M341 114h.9M347.5 114h.9M354 114h.9M360.5 114h.9M367 114h.9M373.5 114h.9M380 114h.9M386.5 114h.9M393 114h.9M399.5 114h.9M406 114h.9M412.5 114h.9M419 114h.9M425.5 114h.9M432 114h.9M438.5 114h.9M445 114h.9M451.5 114h.9M458 114h.9M464.5 114h.9M471 114h.9M477.5 114h.9M484 114h.9M3 107.5h.9M9.5 107.5h.9M16 107.5h.9M22.5 107.5h.9M29 107.5h.9M35.5 107.5h.9M42 107.5h.9M48.5 107.5h.9M55 107.5h.9M61.5 107.5h.9M68 107.5h.9M74.5 107.5h.9M81 107.5h.9M87.5 107.5h.9M94 107.5h.9M100.5 107.5h.9M107 107.5h.9M113.5 107.5h.9M120 107.5h.9M126.5 107.5h.9M133 107.5h.9M139.5 107.5h.9M146 107.5h.9M152.5 107.5h.9M159 107.5h.9M165.5 107.5h.9M172 107.5h.9M178.5 107.5h.9M185 107.5h.9M191.5 107.5h.9M198 107.5h.9M204.5 107.5h.9M211 107.5h.9M217.5 107.5h.9M224 107.5h.9M230.5 107.5h.9M237 107.5h.9M243.5 107.5h.9M250 107.5h.9M256.5 107.5h.9M263 107.5h.9M269.5 107.5h.9M276 107.5h.9M282.5 107.5h.9M289 107.5h.9M295.5 107.5h.9M302 107.5h.9M308.5 107.5h.9M315 107.5h.9M321.5 107.5h.9M328 107.5h.9M334.5 107.5h.9M341 107.5h.9M347.5 107.5h.9M354 107.5h.9M360.5 107.5h.9M367 107.5h.9M373.5 107.5h.9M380 107.5h.9M386.5 107.5h.9M393 107.5h.9M399.5 107.5h.9M406 107.5h.9M412.5 107.5h.9M419 107.5h.9M425.5 107.5h.9M432 107.5h.9M438.5 107.5h.9M445 107.5h.9M451.5 107.5h.9M458 107.5h.9M464.5 107.5h.9M471 107.5h.9M477.5 107.5h.9M484 107.5h.9M3 101h.9M9.5 101h.9M16 101h.9M22.5 101h.9M29 101h.9M35.5 101h.9M42 101h.9M48.5 101h.9M55 101h.9M61.5 101h.9M68 101h.9M74.5 101h.9M81 101h.9M87.5 101h.9M94 101h.9M100.5 101h.9M107 101h.9M113.5 101h.9M120 101h.9M126.5 101h.9M133 101h.9M139.5 101h.9M146 101h.9M152.5 101h.9M159 101h.9M165.5 101h.9M172 101h.9M178.5 101h.9M185 101h.9M191.5 101h.9M198 101h.9M204.5 101h.9M211 101h.9M217.5 101h.9M224 101h.9M230.5 101h.9M237 101h.9M243.5 101h.9M250 101h.9M256.5 101h.9M263 101h.9M269.5 101h.9M276 101h.9M282.5 101h.9M289 101h.9M295.5 101h.9M302 101h.9M308.5 101h.9M315 101h.9M321.5 101h.9M328 101h.9M334.5 101h.9M341 101h.9M347.5 101h.9M354 101h.9M360.5 101h.9M367 101h.9M373.5 101h.9M380 101h.9M386.5 101h.9M393 101h.9M399.5 101h.9M406 101h.9M412.5 101h.9M419 101h.9M425.5 101h.9M432 101h.9M438.5 101h.9M445 101h.9M451.5 101h.9M458 101h.9M464.5 101h.9M471 101h.9M477.5 101h.9M484 101h.9M3 94.5h.9M9.5 94.5h.9M16 94.5h.9M22.5 94.5h.9M29 94.5h.9M35.5 94.5h.9M42 94.5h.9M48.5 94.5h.9M55 94.5h.9M61.5 94.5h.9M68 94.5h.9M74.5 94.5h.9M81 94.5h.9M87.5 94.5h.9M94 94.5h.9M100.5 94.5h.9M107 94.5h.9M113.5 94.5h.9M120 94.5h.9M126.5 94.5h.9M133 94.5h.9M139.5 94.5h.9M146 94.5h.9M152.5 94.5h.9M159 94.5h.9M165.5 94.5h.9M172 94.5h.9M178.5 94.5h.9M185 94.5h.9M191.5 94.5h.9M198 94.5h.9M204.5 94.5h.9M211 94.5h.9M217.5 94.5h.9M224 94.5h.9M230.5 94.5h.9M237 94.5h.9M243.5 94.5h.9M250 94.5h.9M256.5 94.5h.9M263 94.5h.9M269.5 94.5h.9M276 94.5h.9M282.5 94.5h.9M289 94.5h.9M295.5 94.5h.9M302 94.5h.9M308.5 94.5h.9M315 94.5h.9M321.5 94.5h.9M328 94.5h.9M334.5 94.5h.9M341 94.5h.9M347.5 94.5h.9M354 94.5h.9M360.5 94.5h.9M367 94.5h.9M373.5 94.5h.9M380 94.5h.9M386.5 94.5h.9M393 94.5h.9M399.5 94.5h.9M406 94.5h.9M412.5 94.5h.9M419 94.5h.9M425.5 94.5h.9M432 94.5h.9M438.5 94.5h.9M445 94.5h.9M451.5 94.5h.9M458 94.5h.9M464.5 94.5h.9M471 94.5h.9M477.5 94.5h.9M484 94.5h.9M3 88h.9M9.5 88h.9M16 88h.9M22.5 88h.9M29 88h.9M35.5 88h.9M42 88h.9M48.5 88h.9M55 88h.9M61.5 88h.9M68 88h.9M74.5 88h.9M81 88h.9M87.5 88h.9M94 88h.9M100.5 88h.9M107 88h.9M113.5 88h.9M120 88h.9M126.5 88h.9M133 88h.9M139.5 88h.9M146 88h.9M152.5 88h.9M159 88h.9M165.5 88h.9M172 88h.9M178.5 88h.9M185 88h.9M191.5 88h.9M198 88h.9M204.5 88h.9M211 88h.9M217.5 88h.9M224 88h.9M230.5 88h.9M237 88h.9M243.5 88h.9M250 88h.9M256.5 88h.9M263 88h.9M269.5 88h.9M276 88h.9M282.5 88h.9M289 88h.9M295.5 88h.9M302 88h.9M308.5 88h.9M315 88h.9M321.5 88h.9M328 88h.9M334.5 88h.9M341 88h.9M347.5 88h.9M354 88h.9M360.5 88h.9M367 88h.9M373.5 88h.9M380 88h.9M386.5 88h.9M393 88h.9M399.5 88h.9M406 88h.9M412.5 88h.9M419 88h.9M425.5 88h.9M432 88h.9M438.5 88h.9M445 88h.9M451.5 88h.9M458 88h.9M464.5 88h.9M471 88h.9M477.5 88h.9M484 88h.9M3 81.5h.9M9.5 81.5h.9M16 81.5h.9M22.5 81.5h.9M29 81.5h.9M35.5 81.5h.9M42 81.5h.9M48.5 81.5h.9M55 81.5h.9M61.5 81.5h.9M68 81.5h.9M74.5 81.5h.9M81 81.5h.9M87.5 81.5h.9M94 81.5h.9M100.5 81.5h.9M107 81.5h.9M113.5 81.5h.9M120 81.5h.9M126.5 81.5h.9M133 81.5h.9M139.5 81.5h.9M146 81.5h.9M152.5 81.5h.9M159 81.5h.9M165.5 81.5h.9M172 81.5h.9M178.5 81.5h.9M185 81.5h.9M191.5 81.5h.9M198 81.5h.9M204.5 81.5h.9M211 81.5h.9M217.5 81.5h.9M224 81.5h.9M230.5 81.5h.9M237 81.5h.9M243.5 81.5h.9M250 81.5h.9M256.5 81.5h.9M263 81.5h.9M269.5 81.5h.9M276 81.5h.9M282.5 81.5h.9M289 81.5h.9M295.5 81.5h.9M302 81.5h.9M308.5 81.5h.9M315 81.5h.9M321.5 81.5h.9M328 81.5h.9M334.5 81.5h.9M341 81.5h.9M347.5 81.5h.9M354 81.5h.9M360.5 81.5h.9M367 81.5h.9M373.5 81.5h.9M380 81.5h.9M386.5 81.5h.9M393 81.5h.9M399.5 81.5h.9M406 81.5h.9M412.5 81.5h.9M419 81.5h.9M425.5 81.5h.9M432 81.5h.9M438.5 81.5h.9M445 81.5h.9M451.5 81.5h.9M458 81.5h.9M464.5 81.5h.9M471 81.5h.9M477.5 81.5h.9M484 81.5h.9M3 75h.9M9.5 75h.9M16 75h.9M22.5 75h.9M29 75h.9M35.5 75h.9M42 75h.9M48.5 75h.9M55 75h.9M61.5 75h.9M68 75h.9M74.5 75h.9M81 75h.9M87.5 75h.9M94 75h.9M100.5 75h.9M107 75h.9M113.5 75h.9M120 75h.9M126.5 75h.9M133 75h.9M139.5 75h.9M146 75h.9M152.5 75h.9M159 75h.9M165.5 75h.9M172 75h.9M178.5 75h.9M185 75h.9M191.5 75h.9M198 75h.9M204.5 75h.9M211 75h.9M217.5 75h.9M224 75h.9M230.5 75h.9M237 75h.9M243.5 75h.9M250 75h.9M256.5 75h.9M263 75h.9M269.5 75h.9M276 75h.9M282.5 75h.9M289 75h.9M295.5 75h.9M302 75h.9M308.5 75h.9M315 75h.9M321.5 75h.9M328 75h.9M334.5 75h.9M341 75h.9M347.5 75h.9M354 75h.9M360.5 75h.9M367 75h.9M373.5 75h.9M380 75h.9M386.5 75h.9M393 75h.9M399.5 75h.9M406 75h.9M412.5 75h.9M419 75h.9M425.5 75h.9M432 75h.9M438.5 75h.9M445 75h.9M451.5 75h.9M458 75h.9M464.5 75h.9M471 75h.9M477.5 75h.9M484 75h.9M3 68.5h.9M9.5 68.5h.9M16 68.5h.9M22.5 68.5h.9M29 68.5h.9M35.5 68.5h.9M42 68.5h.9M48.5 68.5h.9M55 68.5h.9M61.5 68.5h.9M68 68.5h.9M74.5 68.5h.9M81 68.5h.9M87.5 68.5h.9M94 68.5h.9M100.5 68.5h.9M107 68.5h.9M113.5 68.5h.9M120 68.5h.9M126.5 68.5h.9M133 68.5h.9M139.5 68.5h.9M146 68.5h.9M152.5 68.5h.9M159 68.5h.9M165.5 68.5h.9M172 68.5h.9M178.5 68.5h.9M185 68.5h.9M191.5 68.5h.9M198 68.5h.9M204.5 68.5h.9M211 68.5h.9M217.5 68.5h.9M224 68.5h.9M230.5 68.5h.9M237 68.5h.9M243.5 68.5h.9M250 68.5h.9M256.5 68.5h.9M263 68.5h.9M269.5 68.5h.9M276 68.5h.9M282.5 68.5h.9M289 68.5h.9M295.5 68.5h.9M302 68.5h.9M308.5 68.5h.9M315 68.5h.9M321.5 68.5h.9M328 68.5h.9M334.5 68.5h.9M341 68.5h.9M347.5 68.5h.9M354 68.5h.9M360.5 68.5h.9M367 68.5h.9M373.5 68.5h.9M380 68.5h.9M386.5 68.5h.9M393 68.5h.9M399.5 68.5h.9M406 68.5h.9M412.5 68.5h.9M419 68.5h.9M425.5 68.5h.9M432 68.5h.9M438.5 68.5h.9M445 68.5h.9M451.5 68.5h.9M458 68.5h.9M464.5 68.5h.9M471 68.5h.9M477.5 68.5h.9M484 68.5h.9M3 62h.9M9.5 62h.9M16 62h.9M22.5 62h.9M29 62h.9M35.5 62h.9M42 62h.9M48.5 62h.9M55 62h.9M61.5 62h.9M68 62h.9M74.5 62h.9M81 62h.9M87.5 62h.9M94 62h.9M100.5 62h.9M107 62h.9M113.5 62h.9M120 62h.9M126.5 62h.9M133 62h.9M139.5 62h.9M146 62h.9M152.5 62h.9M159 62h.9M165.5 62h.9M172 62h.9M178.5 62h.9M185 62h.9M191.5 62h.9M198 62h.9M204.5 62h.9M211 62h.9M217.5 62h.9M224 62h.9M230.5 62h.9M237 62h.9M243.5 62h.9M250 62h.9M256.5 62h.9M263 62h.9M269.5 62h.9M276 62h.9M282.5 62h.9M289 62h.9M295.5 62h.9M302 62h.9M308.5 62h.9M315 62h.9M321.5 62h.9M328 62h.9M334.5 62h.9M341 62h.9M347.5 62h.9M354 62h.9M360.5 62h.9M367 62h.9M373.5 62h.9M380 62h.9M386.5 62h.9M393 62h.9M399.5 62h.9M406 62h.9M412.5 62h.9M419 62h.9M425.5 62h.9M432 62h.9M438.5 62h.9M445 62h.9M451.5 62h.9M458 62h.9M464.5 62h.9M471 62h.9M477.5 62h.9M484 62h.9M3 55.5h.9M9.5 55.5h.9M16 55.5h.9M22.5 55.5h.9M29 55.5h.9M35.5 55.5h.9M42 55.5h.9M48.5 55.5h.9M55 55.5h.9M61.5 55.5h.9M68 55.5h.9M74.5 55.5h.9M81 55.5h.9M87.5 55.5h.9M94 55.5h.9M100.5 55.5h.9M107 55.5h.9M113.5 55.5h.9M120 55.5h.9M126.5 55.5h.9M133 55.5h.9M139.5 55.5h.9M146 55.5h.9M152.5 55.5h.9M159 55.5h.9M165.5 55.5h.9M172 55.5h.9M178.5 55.5h.9M185 55.5h.9M191.5 55.5h.9M198 55.5h.9M204.5 55.5h.9M211 55.5h.9M217.5 55.5h.9M224 55.5h.9M230.5 55.5h.9M237 55.5h.9M243.5 55.5h.9M250 55.5h.9M256.5 55.5h.9M263 55.5h.9M269.5 55.5h.9M276 55.5h.9M282.5 55.5h.9M289 55.5h.9M295.5 55.5h.9M302 55.5h.9M308.5 55.5h.9M315 55.5h.9M321.5 55.5h.9M328 55.5h.9M334.5 55.5h.9M341 55.5h.9M347.5 55.5h.9M354 55.5h.9M360.5 55.5h.9M367 55.5h.9M373.5 55.5h.9M380 55.5h.9M386.5 55.5h.9M393 55.5h.9M399.5 55.5h.9M406 55.5h.9M412.5 55.5h.9M419 55.5h.9M425.5 55.5h.9M432 55.5h.9M438.5 55.5h.9M445 55.5h.9M451.5 55.5h.9M458 55.5h.9M464.5 55.5h.9M471 55.5h.9M477.5 55.5h.9M484 55.5h.9M3 49h.9M9.5 49h.9M16 49h.9M22.5 49h.9M29 49h.9M35.5 49h.9M42 49h.9M48.5 49h.9M55 49h.9M61.5 49h.9M68 49h.9M74.5 49h.9M81 49h.9M87.5 49h.9M94 49h.9M100.5 49h.9M107 49h.9M113.5 49h.9M120 49h.9M126.5 49h.9M133 49h.9M139.5 49h.9M146 49h.9M152.5 49h.9M159 49h.9M165.5 49h.9M172 49h.9M178.5 49h.9M185 49h.9M191.5 49h.9M198 49h.9M204.5 49h.9M211 49h.9M217.5 49h.9M224 49h.9M230.5 49h.9M237 49h.9M243.5 49h.9M250 49h.9M256.5 49h.9M263 49h.9M269.5 49h.9M276 49h.9M282.5 49h.9M289 49h.9M295.5 49h.9M302 49h.9M308.5 49h.9M315 49h.9M321.5 49h.9M328 49h.9M334.5 49h.9M341 49h.9M347.5 49h.9M354 49h.9M360.5 49h.9M367 49h.9M373.5 49h.9M380 49h.9M386.5 49h.9M393 49h.9M399.5 49h.9M406 49h.9M412.5 49h.9M419 49h.9M425.5 49h.9M432 49h.9M438.5 49h.9M445 49h.9M451.5 49h.9M458 49h.9M464.5 49h.9M471 49h.9M477.5 49h.9M484 49h.9M3 42.5h.9M9.5 42.5h.9M16 42.5h.9M22.5 42.5h.9M29 42.5h.9M35.5 42.5h.9M42 42.5h.9M48.5 42.5h.9M55 42.5h.9M61.5 42.5h.9M68 42.5h.9M74.5 42.5h.9M81 42.5h.9M87.5 42.5h.9M94 42.5h.9M100.5 42.5h.9M107 42.5h.9M113.5 42.5h.9M120 42.5h.9M126.5 42.5h.9M133 42.5h.9M139.5 42.5h.9M146 42.5h.9M152.5 42.5h.9M159 42.5h.9M165.5 42.5h.9M172 42.5h.9M178.5 42.5h.9M185 42.5h.9M191.5 42.5h.9M198 42.5h.9M204.5 42.5h.9M211 42.5h.9M217.5 42.5h.9M224 42.5h.9M230.5 42.5h.9M237 42.5h.9M243.5 42.5h.9M250 42.5h.9M256.5 42.5h.9M263 42.5h.9M269.5 42.5h.9M276 42.5h.9M282.5 42.5h.9M289 42.5h.9M295.5 42.5h.9M302 42.5h.9M308.5 42.5h.9M315 42.5h.9M321.5 42.5h.9M328 42.5h.9M334.5 42.5h.9M341 42.5h.9M347.5 42.5h.9M354 42.5h.9M360.5 42.5h.9M367 42.5h.9M373.5 42.5h.9M380 42.5h.9M386.5 42.5h.9M393 42.5h.9M399.5 42.5h.9M406 42.5h.9M412.5 42.5h.9M419 42.5h.9M425.5 42.5h.9M432 42.5h.9M438.5 42.5h.9M445 42.5h.9M451.5 42.5h.9M458 42.5h.9M464.5 42.5h.9M471 42.5h.9M477.5 42.5h.9M484 42.5h.9M3 36h.9M9.5 36h.9M16 36h.9M22.5 36h.9M29 36h.9M35.5 36h.9M42 36h.9M48.5 36h.9M55 36h.9M61.5 36h.9M68 36h.9M74.5 36h.9M81 36h.9M87.5 36h.9M94 36h.9M100.5 36h.9M107 36h.9M113.5 36h.9M120 36h.9M126.5 36h.9M133 36h.9M139.5 36h.9M146 36h.9M152.5 36h.9M159 36h.9M165.5 36h.9M172 36h.9M178.5 36h.9M185 36h.9M191.5 36h.9M198 36h.9M204.5 36h.9M211 36h.9M217.5 36h.9M224 36h.9M230.5 36h.9M237 36h.9M243.5 36h.9M250 36h.9M256.5 36h.9M263 36h.9M269.5 36h.9M276 36h.9M282.5 36h.9M289 36h.9M295.5 36h.9M302 36h.9M308.5 36h.9M315 36h.9M321.5 36h.9M328 36h.9M334.5 36h.9M341 36h.9M347.5 36h.9M354 36h.9M360.5 36h.9M367 36h.9M373.5 36h.9M380 36h.9M386.5 36h.9M393 36h.9M399.5 36h.9M406 36h.9M412.5 36h.9M419 36h.9M425.5 36h.9M432 36h.9M438.5 36h.9M445 36h.9M451.5 36h.9M458 36h.9M464.5 36h.9M471 36h.9M477.5 36h.9M484 36h.9M3 29.5h.9M9.5 29.5h.9M16 29.5h.9M22.5 29.5h.9M29 29.5h.9M35.5 29.5h.9M42 29.5h.9M48.5 29.5h.9M55 29.5h.9M61.5 29.5h.9M68 29.5h.9M74.5 29.5h.9M81 29.5h.9M87.5 29.5h.9M94 29.5h.9M100.5 29.5h.9M107 29.5h.9M113.5 29.5h.9M120 29.5h.9M126.5 29.5h.9M133 29.5h.9M139.5 29.5h.9M146 29.5h.9M152.5 29.5h.9M159 29.5h.9M165.5 29.5h.9M172 29.5h.9M178.5 29.5h.9M185 29.5h.9M191.5 29.5h.9M198 29.5h.9M204.5 29.5h.9M211 29.5h.9M217.5 29.5h.9M224 29.5h.9M230.5 29.5h.9M237 29.5h.9M243.5 29.5h.9M250 29.5h.9M256.5 29.5h.9M263 29.5h.9M269.5 29.5h.9M276 29.5h.9M282.5 29.5h.9M289 29.5h.9M295.5 29.5h.9M302 29.5h.9M308.5 29.5h.9M315 29.5h.9M321.5 29.5h.9M328 29.5h.9M334.5 29.5h.9M341 29.5h.9M347.5 29.5h.9M354 29.5h.9M360.5 29.5h.9M367 29.5h.9M373.5 29.5h.9M380 29.5h.9M386.5 29.5h.9M393 29.5h.9M399.5 29.5h.9M406 29.5h.9M412.5 29.5h.9M419 29.5h.9M425.5 29.5h.9M432 29.5h.9M438.5 29.5h.9M445 29.5h.9M451.5 29.5h.9M458 29.5h.9M464.5 29.5h.9M471 29.5h.9M477.5 29.5h.9M484 29.5h.9M3 23h.9M9.5 23h.9M16 23h.9M22.5 23h.9M29 23h.9M35.5 23h.9M42 23h.9M48.5 23h.9M55 23h.9M61.5 23h.9M68 23h.9M74.5 23h.9M81 23h.9M87.5 23h.9M94 23h.9M100.5 23h.9M107 23h.9M113.5 23h.9M120 23h.9M126.5 23h.9M133 23h.9M139.5 23h.9M146 23h.9M152.5 23h.9M159 23h.9M165.5 23h.9M172 23h.9M178.5 23h.9M185 23h.9M191.5 23h.9M198 23h.9M204.5 23h.9M211 23h.9M217.5 23h.9M224 23h.9M230.5 23h.9M237 23h.9M243.5 23h.9M250 23h.9M256.5 23h.9M263 23h.9M269.5 23h.9M276 23h.9M282.5 23h.9M289 23h.9M295.5 23h.9M302 23h.9M308.5 23h.9M315 23h.9M321.5 23h.9M328 23h.9M334.5 23h.9M341 23h.9M347.5 23h.9M354 23h.9M360.5 23h.9M367 23h.9M373.5 23h.9M380 23h.9M386.5 23h.9M393 23h.9M399.5 23h.9M406 23h.9M412.5 23h.9M419 23h.9M425.5 23h.9M432 23h.9M438.5 23h.9M445 23h.9M451.5 23h.9M458 23h.9M464.5 23h.9M471 23h.9M477.5 23h.9M484 23h.9M3 16.5h.9M9.5 16.5h.9M16 16.5h.9M22.5 16.5h.9M29 16.5h.9M35.5 16.5h.9M42 16.5h.9M48.5 16.5h.9M55 16.5h.9M61.5 16.5h.9M68 16.5h.9M74.5 16.5h.9M81 16.5h.9M87.5 16.5h.9M94 16.5h.9M100.5 16.5h.9M107 16.5h.9M113.5 16.5h.9M120 16.5h.9M126.5 16.5h.9M133 16.5h.9M139.5 16.5h.9M146 16.5h.9M152.5 16.5h.9M159 16.5h.9M165.5 16.5h.9M172 16.5h.9M178.5 16.5h.9M185 16.5h.9M191.5 16.5h.9M198 16.5h.9M204.5 16.5h.9M211 16.5h.9M217.5 16.5h.9M224 16.5h.9M230.5 16.5h.9M237 16.5h.9M243.5 16.5h.9M250 16.5h.9M256.5 16.5h.9M263 16.5h.9M269.5 16.5h.9M276 16.5h.9M282.5 16.5h.9M289 16.5h.9M295.5 16.5h.9M302 16.5h.9M308.5 16.5h.9M315 16.5h.9M321.5 16.5h.9M328 16.5h.9M334.5 16.5h.9M341 16.5h.9M347.5 16.5h.9M354 16.5h.9M360.5 16.5h.9M367 16.5h.9M373.5 16.5h.9M380 16.5h.9M386.5 16.5h.9M393 16.5h.9M399.5 16.5h.9M406 16.5h.9M412.5 16.5h.9M419 16.5h.9M425.5 16.5h.9M432 16.5h.9M438.5 16.5h.9M445 16.5h.9M451.5 16.5h.9M458 16.5h.9M464.5 16.5h.9M471 16.5h.9M477.5 16.5h.9M484 16.5h.9M3 10h.9M9.5 10h.9M16 10h.9M22.5 10h.9M29 10h.9M35.5 10h.9M42 10h.9M48.5 10h.9M55 10h.9M61.5 10h.9M68 10h.9M74.5 10h.9M81 10h.9M87.5 10h.9M94 10h.9M100.5 10h.9M107 10h.9M113.5 10h.9M120 10h.9M126.5 10h.9M133 10h.9M139.5 10h.9M146 10h.9M152.5 10h.9M159 10h.9M165.5 10h.9M172 10h.9M178.5 10h.9M185 10h.9M191.5 10h.9M198 10h.9M204.5 10h.9M211 10h.9M217.5 10h.9M224 10h.9M230.5 10h.9M237 10h.9M243.5 10h.9M250 10h.9M256.5 10h.9M263 10h.9M269.5 10h.9M276 10h.9M282.5 10h.9M289 10h.9M295.5 10h.9M302 10h.9M308.5 10h.9M315 10h.9M321.5 10h.9M328 10h.9M334.5 10h.9M341 10h.9M347.5 10h.9M354 10h.9M360.5 10h.9M367 10h.9M373.5 10h.9M380 10h.9M386.5 10h.9M393 10h.9M399.5 10h.9M406 10h.9M412.5 10h.9M419 10h.9M425.5 10h.9M432 10h.9M438.5 10h.9M445 10h.9M451.5 10h.9M458 10h.9M464.5 10h.9M471 10h.9M477.5 10h.9M484 10h.9" class="q2"/>
<path d="M0 248 L489.7 237" stroke="#e23a20" stroke-width="2.2" fill="none"/>
<path d="M0 228 L489.7 216" stroke="#3a4aa8" stroke-width="2.8" stroke-dasharray="11 9" fill="none"/>
<path d="M0 272 V0 H489.7" stroke="#6e1530" stroke-width="2" fill="none"/>
</g>
<path d="M800.9 1205.3l-39.1 11.7M760.5 1200.4l-13.6 4.6M887.3 1211.9l-43.1 17.1M963.3 1216.6l-11.1 2.9M922.5 1213.7l-22.9 9.5M572.8 1180.2l-41.9 7.4M971.6 1219.5l-45.5 12M886.8 1211.1l-8.5 3.4M815.8 1206.9l-27.4 10.7M782.7 1200.3l-20.8 6.6M587.8 1183.1l-29.2 11.9M1032 1226.5l-34.3 9.8M1031.2 1227.9l-30.2 7.1M957.4 1216.1l-16.4 5.9M914.3 1214.3l-17 4.5M635.9 1188.8l-21.1 5.2M995.2 1221.2l-17.2 6.3M883.4 1212.8l-9.7 3.9M556.4 1177.3l-46 18.2M666.7 1191.7l-21.5 5.9M659.5 1188.6l-21.2 7.5M551.7 1180.4l-26.5 8M562.7 1182.4l-26.5 7M1016.4 1226.5l-37.1 6.5M814.5 1202.7l-13.1 5.4M746.4 1199.4l-19.4 7.7M693.4 1190.4l-43.2 9.6M1028 1226.2l-5.8 1.9M952.6 1218l-36.1 8.4M817.6 1202.3l-11 2.2M866.3 1210.2l-13.3 3.9M894.6 1212.5l-15.8 3.8M955.4 1217.5l-27.1 11.3M599.1 1181.8l-22.7 7.9M847.1 1208.7l-7 2.5M635.4 1189.4l-18.6 6.8M897.7 1212l-11.3 2.6M782.9 1202.3l-25 4.5M775.4 1199.1l-25.6 6.8M588.3 1180.7l-17.5 6.8M657 1191.3l-28.4 8.8M988.8 1223.5l-19.7 8.3M595.2 1181.6l-16.4 6.4M690.7 1190.9l-4.4 1.8M965.1 1221.5l-23.1 8.2M1025.7 1226.5l-26.3 9.9M745.6 1196.4l-15.3 3.3M824 1204.1l-18.1 5.9M778 1199.6l-47.3 19.7M925.7 1213.8l-7.7 3.2M964.2 1220.3l-13.8 3.7M777.9 1200.3l-17.7 6.4M673.6 1192l-22 4.8M942.9 1214.6l-8.3 3.1M735.9 1196.8l-8.7 3M982.2 1219.4l-9.1 2.6M896.6 1213.9l-7.7 3.1M1013 1225.2l-20.7 6.4M747.9 1200.1l-30 10.8M728.1 1194.7l-38.1 11.5M947.2 1217.4l-25.9 6.2M649.4 1188.4l-21.2 7.8M962.1 1221.1l-6.1 1.8M834.7 1204l-19.9 6.7M728.2 1193.7l-14.5 5M1032.4 1224.2l-10.4 2.2M620.1 1185.5l-6.5 1.2M807.1 1205.5l-18.7 6.6M745.3 1199.7l-5.2 1.4M636.7 1185.4l-22.8 4.1M766.7 1201.5l-5.7 1.2M857 1209.7l-20.2 3.6M777 1200.8l-16.6 6.7M607.6 1183.3l-4.8 1.9M733.8 1194.4l-47.7 19.2M756.8 1199l-26.2 4.4M883.2 1211.2l-10.3 3.4M724.1 1194l-31.8 10.9M751.2 1200.7l-16.7 5.1M923.4 1213.5l-39.2 14.3M1022.2 1224.8l-34.9 11.1M801.6 1201.1l-17.1 2.8M826.3 1207.7l-34 9.4M678.5 1191.8l-21.4 6.1M731.9 1194.6l-21.3 8.5M561.9 1181.6l-45.1 17.8M756.5 1199.5l-17.6 7M883.5 1212.9l-40.6 16.4M963.5 1217.6l-52.3 19.2M1000.1 1222.1l-16.2 4.6M914.6 1215.9l-10.6 2.3M650.5 1187.9l-32.9 7.6M947.8 1214.9l-8.8 3.7M818.4 1204.1l-21.3 6M849.9 1206.8l-20.9 7.2M670.6 1192.3l-22.2 9.3M656.1 1190.3l-26.6 10.3M936.9 1217.6l-19.9 5.2M767.1 1199.5l-27.8 5.5M765 1197.7l-18.4 6.7M722.6 1195.3l-39.4 12.3M745.4 1198.5l-8.7 3.2M867.7 1209.4l-18.7 3.2M761 1197.3l-41.8 10.6M764.1 1200.5l-20.1 7.1M829.4 1203.8l-30.9 7.2M917.7 1216.3l-13.6 3.8M1003 1221.2l-14.2 3.2M984 1222.6l-29.6 4.8M1016.6 1223.3l-21.8 3.5M986.7 1221.1l-10.8 2.6M715.3 1194.5l-41.3 17M600.8 1182.4l-20 7.4M850.9 1205.5l-9.1 3.2M920.1 1215.8l-23.2 9.1M675 1190.5l-23.3 6.7M803.1 1205.7l-8.9 2.4M1009.3 1221.9l-10.3 2.2M691.4 1193.1l-36 5.9M557.1 1181.4l-40.4 13.2M829.4 1207l-22 8.9M889.7 1211.6l-13.2 3.2M768.5 1199.6l-21.8 7.9M754.8 1197.1l-23.6 9.9M811.4 1203.9l-24.3 3.9M839.2 1205.9l-14.2 3.2M762.5 1197.2l-21.8 7.6M909.2 1212.4l-22.7 6.3M636.1 1189.2l-24.6 7.7M661.2 1188.4l-13.4 4.1M1009 1223.9l-23.4 4.1M1018.8 1224.7l-12 3.3M583.2 1180.4l-22.1 7.6M720.3 1197.2l-11.8 4.2M695.6 1192.3l-13.2 3.3M1024.5 1226.9l-45.6 12.8M674 1191l-10.3 3.2M1032.9 1223.9l-19.8 5.9M726.5 1197.7l-15.7 4.8M1000 1223.1l-17.9 5M701.5 1194.2l-13.9 2.5M707.3 1196.2l-7.2 2.1M785 1203.1l-22.8 5.4M1008 1224.2l-28.9 8M837.5 1208.9l-28.9 11.9M788.5 1201.4l-11.3 3.2M633.3 1189l-51.5 19.8M685.6 1190.7l-7.9 3.2M754.1 1197l-28.8 9.8M789.6 1202.8l-15.7 4.7M667.9 1189l-51.7 15.1M603.7 1182.7l-33.2 8.3M615.2 1186.2l-24.5 9.7M713.8 1192.2l-15.9 4.2M647.7 1190.6l-9.9 1.9M592 1182.7l-46.3 10.3M988.1 1219.6l-9.1 1.6M934 1217.1l-8.1 1.4M892.6 1212.3l-24.1 6.9M914.9 1212.1l-13.4 5.6M973.1 1217.5l-10.3 1.7M841.9 1208.4l-29.4 7.8" class="sk"/><path d="M977.1 1218.9l-19.7 3.5M910.6 1216.2l-33 8.3M988.9 1221.8l-9.5 3M792.5 1200l-19 3.5M850.2 1210.3l-13.3 3.4M575.4 1181l-34.4 8.5M877.6 1211.9l-22.4 9.3M989.6 1223.8l-10.1 3.6M904.7 1213.7l-8.5 2M757.2 1201.3l-25.4 9.1M555.5 1177.3l-54.1 16.5M985.8 1218.8l-12.8 4.7M619.1 1183.1l-21.1 8M587.5 1181.9l-54.4 11.2M716.7 1195.4l-15.3 3.2M613.8 1184.7l-11.1 4.3M995.8 1224.6l-32.9 7.3M854.3 1210.4l-49.2 13.2M612 1184.3l-15.4 4.9M906 1215.3l-12.5 2M1035.8 1228.1l-47.4 13.1M706.9 1193.3l-19.8 4.5M916.6 1212.2l-21.1 6.8M898.2 1214.2l-23 9.3M853 1207.5l-13.5 4.3M780.6 1199.1l-21.7 6.5M727.7 1195.5l-5.9 1.6M821.4 1202.7l-32 11.7" class="sb"/>
<g transform="matrix(1 0.09720 0 1 551.6 905.4)">
<rect width="488.7" height="272" fill="url(#tb1)"/>
<rect width="488.7" height="272" fill="url(#gb1)"/>
<g clip-path="url(#cpb1)"><g filter="url(#bl)">
<ellipse cx="57" cy="222" rx="17" ry="14" fill="#e6842a"/>
<ellipse cx="130.8" cy="222" rx="17" ry="14" fill="#e6842a"/>
<ellipse cx="204.6" cy="222" rx="17" ry="14" fill="#e6842a"/>
<ellipse cx="278.4" cy="222" rx="17" ry="14" fill="#e6842a"/>
<ellipse cx="352.2" cy="222" rx="17" ry="14" fill="#e6842a"/>
<ellipse cx="426" cy="222" rx="17" ry="14" fill="#e6842a"/>
<ellipse cx="499.8" cy="222" rx="17" ry="14" fill="#e6842a"/>
<ellipse cx="20" cy="222" rx="19" ry="16" fill="#b8cf3c"/>
<ellipse cx="20" cy="238" rx="10" ry="12" fill="#8cc84c" opacity="0.8"/>
<ellipse cx="93.8" cy="222" rx="19" ry="16" fill="#b8cf3c"/>
<ellipse cx="93.8" cy="238" rx="10" ry="12" fill="#8cc84c" opacity="0.8"/>
<ellipse cx="167.6" cy="222" rx="19" ry="16" fill="#b8cf3c"/>
<ellipse cx="167.6" cy="238" rx="10" ry="12" fill="#8cc84c" opacity="0.8"/>
<ellipse cx="241.4" cy="222" rx="19" ry="16" fill="#b8cf3c"/>
<ellipse cx="241.4" cy="238" rx="10" ry="12" fill="#8cc84c" opacity="0.8"/>
<ellipse cx="315.2" cy="222" rx="19" ry="16" fill="#b8cf3c"/>
<ellipse cx="315.2" cy="238" rx="10" ry="12" fill="#8cc84c" opacity="0.8"/>
<ellipse cx="389" cy="222" rx="19" ry="16" fill="#b8cf3c"/>
<ellipse cx="389" cy="238" rx="10" ry="12" fill="#8cc84c" opacity="0.8"/>
<ellipse cx="462.8" cy="222" rx="19" ry="16" fill="#b8cf3c"/>
<ellipse cx="462.8" cy="238" rx="10" ry="12" fill="#8cc84c" opacity="0.8"/>
</g></g>
<path d="M0.2 270.1l5.7 -0.1M7.8 270.3l3 -0.6M14.4 270.2l2.5 -0.4M21.5 270.4l0.9 -0.7M28.6 270l-0.8 0M35.1 270l-1.2 0M41.7 270.7l-1.7 -1.5M47.8 269.9l-1.5 0.1M53.7 269.6l-0.5 0.9M59.3 269.7l0.8 0.7M65.2 269.9l1.6 0.2M70.9 270.1l2.9 -0.2M77.1 269.8l3 0.3M83.6 270.3l2.6 -0.6M91.1 270.5l0.1 -1M97.9 269.8l-0.8 0.3M105.1 270.1l-2.6 -0.1M111.5 270.1l-2.7 -0.2M117.2 270l-1.6 0.1M123.4 269.8l-1.4 0.5M129.6 270.6l-1.2 -1.2M135.3 270h.9M140.7 269.8l1.8 0.3M146.4 270.3l2.9 -0.5M153.1 269.8l2.1 0.3M159.8 270.3l1.3 -0.6M166.4 270.4l0.8 -0.8M173.7 270l-1.2 0M180.6 269.5l-2.3 0.9M186.8 269.9l-2.1 0.2M192.9 269.9l-1.8 0.2M199.3 269.7l-2 0.5M204.6 270h.9M210.4 269.7l1 0.5M215.9 270.4l2.5 -0.8M222.4 270.3l2.1 -0.5M228.5 269.8l2.6 0.4M236.1 270h.9M242.9 270.2l-0.9 -0.3M249.8 270.4l-2.2 -0.7M255.5 270.8l-1.1 -1.6M262.4 270l-2.1 -0.1M268.3 269.5l-1.3 1M273.9 270h.9M279.9 269.6l0.6 0.9M285.7 269.5l1.5 1M291.4 269.9l2.7 0.1M298.5 270.2l1.3 -0.5M303.6 269.7l3.6 0.7M311.7 270h.9M318 270h.9M325 270.3l-1.4 -0.6M332.1 269.9l-3 0.2M337.9 270.2l-1.9 -0.4M344.7 269.7l-2.9 0.5M349.1 269.6l0.8 0.9M355.4 269.9l0.8 0.3M361.4 269.9l1.4 0.2M367.6 270.1l1.7 -0.1M373 269.7l3.5 0.6M380 270.1l2 -0.1M387.1 270.6l0.4 -1.1M394.3 270.2l-1.4 -0.3M400.9 270.2l-2 -0.4M407.8 270.2l-3.2 -0.3M414.1 269.6l-3.1 0.9M419.6 270l-1.7 0M425.8 269.7l-1.4 0.6M431.1 269.6l0.6 0.8M437.2 270.3l1 -0.6M442.9 270.1l2.2 -0.2M449.9 269.9l0.9 0.3M456.2 270l0.7 0.1M463.6 270.4l-1.4 -0.7M470.1 269.8l-1.8 0.4M476.8 270.4l-2.5 -0.8M484.4 269.9l-5.1 0.1M0.7 264.1l4.7 -0.7M7.5 264.3l3.5 -1.2M14.4 264.5l2.4 -1.7M21.2 265.1l1.4 -2.8M29.2 264.6l-2.1 -1.7M35.6 263.7l-2.1 0M41.4 263.3l-1.2 0.9M47.6 262.8l-1 1.7M53.6 263.1l-0.5 1.2M58.9 262.4l1.5 2.6M65.4 262.8l1.3 1.9M71.5 263.5l1.5 0.5M76.3 264.2l4.5 -1.1M83.6 264.3l2.6 -1.1M90.8 264.3l0.9 -1.2M97.9 264.5l-0.7 -1.7M104.8 264.6l-1.9 -1.7M111.8 263.6l-3.4 0.2M117.3 263.2l-1.9 1M123.6 263.2l-1.9 1M129.4 263.4l-0.8 0.6M134.7 262.8l1.1 1.7M140.3 263.3l2.6 0.7M146.6 263.6l2.7 0.3M153 264l2.4 -0.6M159.3 264.2l2.4 -1.1M166.6 264.8l0.5 -2.2M173.4 264.1l-0.7 -0.7M181 263.8l-3.2 -0.1M187.3 264l-3.1 -0.6M192.5 263.3l-1 0.8M199.5 262.5l-2.3 2.4M205 262.2l-0.7 3M210 262.8l1.8 1.9M215.8 263.6l2.9 0.1M221.9 263.7l3.2 -0.1M229 264.1l1.6 -0.8M235.2 264.1l1.7 -0.7M242 264.4l0.8 -1.4M249.5 264.7l-1.6 -2M256.6 264.4l-3.2 -1.3M263 263.6l-3.4 0.2M268.7 263.1l-2.2 1.3M274.9 262.8l-2 1.7M279.9 263l0.6 1.4M285.8 262.6l1.3 2.2M292.1 263.6l1.5 0.2M297.6 263.6l3.1 0.2M304.4 264.1l2 -0.7M311.3 264.5l0.8 -1.7M319 264.3l-2 -1.1M325.5 264.2l-2.4 -1.1M332.2 263.9l-3.2 -0.5M338.5 262.8l-3.2 1.8M344.2 263l-2.1 1.4M349.5 263.3l0 0.7M355.8 262.8l0.1 1.8M361.1 263.3l2.1 0.7M367.7 263l1.4 1.5M373.4 264l2.7 -0.6M380 264.3l1.9 -1.3M387.3 265.5l-0.1 -3.5M394.3 264.6l-1.4 -1.8M401.6 264l-3.3 -0.7M408.3 263.9l-4.3 -0.4M413.8 263.5l-2.6 0.4M419.3 263.2l-1 1.1M425.4 263l-0.7 1.3M430.7 263l1.5 1.3M437.2 263.4l1 0.5M443 263.7l2.1 0.1M449.6 264.1l1.4 -0.7M456.2 264.9l0.7 -2.4M463.1 265.2l-0.3 -3M470.7 264.4l-3 -1.4M478 264.3l-5 -1.1M484.6 264.2l-5.5 -0.9M-0.1 257.6l6.2 -0.4M6.3 258.8l5.9 -2.8M14.1 259.3l3 -3.7M22 260.3l-0.3 -5.9M29.1 258.9l-1.7 -3M36.3 257.2l-3.5 0.3M42.3 256.7l-3 1.4M47.9 256.2l-1.6 2.3M53.5 256.1l-0.3 2.7M59.4 255.9l0.5 3M64.5 256.2l2.9 2.3M70.3 257.5l3.9 -0.2M76.6 257.3l4 0.2M82.3 258.4l5.2 -2M90.4 260.2l1.6 -5.6M98.6 259.2l-2.2 -3.6M105.4 259l-3.3 -3.2M112.5 257.1l-4.9 0.6M118 256.6l-3.2 1.6M124.3 256.2l-3.2 2.4M129.5 256.7l-0.9 1.5M134.6 256.3l1.4 2.2M140.3 256l2.6 2.8M145.8 257.1l4.2 0.5M151.5 257.8l5.4 -0.7M158.7 259.6l3.5 -4.5M166.1 259.9l1.3 -5.1M174.3 259.2l-2.4 -3.6M181.7 259.2l-4.5 -3.6M187.6 257l-3.8 0.7M193.5 256l-3 2.7M199.6 256l-2.7 2.8M204.5 256.1l0.3 2.6M209.9 255.9l2 3M215.8 256.8l2.7 1.1M221 256.7l5 1.3M227.6 258.3l4.4 -1.8M234.7 259l2.7 -3.2M243 259.7l-1.1 -4.6M250 259l-2.7 -3.1M257.8 257.7l-5.6 -0.7M263.6 256.1l-4.7 2.6M268.8 256.3l-2.4 2.1M274.2 255.9l-0.7 3M280.2 255.8l0 3.2M285.1 256l2.7 2.9M290.7 256.2l4.2 2.4M296.9 257.8l4.5 -0.9M303 258.6l4.8 -2.3M311.3 260.2l0.8 -5.7M318.2 259.3l-0.4 -3.8M326.4 258.9l-4.2 -2.9M332.6 257.3l-4.1 0.2M338.8 256.6l-3.8 1.6M344.3 256.2l-2.1 2.4M349.9 255.7l-0.9 3.5M355.5 256l0.7 2.8M361.4 255.6l1.4 3.6M366.1 256.2l4.6 2.5M372.5 257.6l4.4 -0.5M379.5 259.2l3 -3.5M386.8 259.6l1 -4.4M395.1 259.3l-2.9 -3.8M401.8 258.1l-3.9 -1.4M408.2 257.2l-4 0.3M414.6 255.9l-4.2 3M419.4 256.1l-1.2 2.7M425.7 256.1l-1.2 2.5M431.1 256.3l0.6 2.2M436.1 256.3l3.1 2.2M442 257.1l4 0.5M448.8 258.1l3.1 -1.4M456 259.4l1.1 -4M463.6 259.8l-1.4 -4.9M471.4 259.9l-4.4 -5.1M479 258.5l-7 -2.1M484.6 257.3l-5.7 0.2M-1.2 251.1l8.3 0.1M6.1 253.5l6.4 -4.8M13.5 254.8l4.3 -7.3M22.1 255.3l-0.3 -8.4M30.4 253.7l-4.4 -5.1M37.1 251.8l-5.2 -1.4M42.8 249.6l-4.1 3M48.1 248.9l-2 4.4M54 248.6l-1.3 5M59.6 249l0.2 4.3M64.2 248.6l3.6 4.9M69.6 249.4l5.5 3.4M75.1 250.9l6.9 0.5M81.6 253.8l6.6 -5.3M89.9 255.1l2.7 -8M98.5 255.2l-2 -8.2M106.5 253l-5.5 -3.7M113.1 250.5l-5.9 1.3M118.6 249.2l-4.5 3.9M123.5 249.1l-1.6 3.9M129.1 249.3l-0.2 3.7M134.5 249l1.7 4.2M140.2 248.8l2.8 4.6M144.8 250.1l6.3 2M151 252.5l6.4 -2.8M158 254l5.1 -5.8M166.3 255.3l1 -8.3M175.1 254.8l-4.1 -7.5M182.9 252.1l-6.9 -2.1M189.2 250.3l-7 1.5M193.7 249l-3.5 4.1M199.4 248.9l-2.2 4.4M204.1 248.2l0.9 5.8M210.3 248.7l1.2 4.8M215.7 248.9l3 4.4M220.2 250.1l6.5 2M226.5 253.2l6.6 -4.2M234.4 254.3l3.3 -6.4M242.3 255.2l0.1 -8.3M251.1 254.1l-4.7 -6M258.9 252l-7.7 -1.9M263.5 249.4l-4.4 3.5M269.4 248.7l-3.6 4.8M274.6 248.9l-1.4 4.4M280.3 248.7l-0.1 4.9M285.9 249.1l1.2 4M290.5 248.4l4.6 5.3M295.7 250.5l6.8 1.2M301.9 252.6l6.9 -3M310.5 255.1l2.4 -8M319.4 255.1l-2.7 -8.1M327.4 253l-6.3 -3.8M334.1 251l-6.9 0.2M339.4 249.7l-4.9 2.9M344.1 249.3l-1.8 3.6M349.8 249.2l-0.7 3.8M355.1 248.7l1.3 4.7M360.5 248.6l3.3 5M366 250l4.7 2.3M371.6 251.7l6.2 -1.2M377.9 253.9l6.1 -5.7M386.5 255l1.6 -7.8M394.9 254.6l-2.5 -6.9M403.3 253.1l-6.8 -3.9M409.5 250.9l-6.5 0.5M414.7 248.8l-4.4 4.6M419.6 249.2l-1.7 3.7M425.2 248.8l-0.3 4.6M430.6 249.1l1.5 3.9M436.2 249.6l3 3M441.1 250.7l5.8 0.7M447.3 252.4l6 -2.7M454.5 254.6l4.1 -7M463.8 255.1l-1.7 -8M471.4 254.6l-4.3 -7M479.5 252.6l-7.9 -3M485.1 250.8l-6.6 0.6M-0.9 243.2l7.9 3.1M5.8 247.2l7.1 -4.7M14.4 248.9l2.3 -8.2M22.2 249l-0.6 -8.5M30.7 248.2l-5.1 -6.8M38.6 244.8l-8.2 0.1M43.4 241.4l-5.2 6.8M47.8 241.9l-1.5 5.8M53.7 242.3l-0.6 5M59.1 242.1l1.1 5.5M65 241.9l2 5.7M70 242.3l4.7 5M74.5 243.6l8.2 2.3M82.2 248.1l5.5 -6.5M90.6 249l1.2 -8.4M98.4 249l-1.7 -8.3M107.1 247.5l-6.6 -5.4M113.7 243.7l-7.1 2.2M119.1 241.5l-5.4 6.6M123.7 241.8l-2 6M129.2 241.6l-0.3 6.3M134.9 241.5l0.8 6.6M140.5 241.1l2.3 7.3M145.5 242.4l4.9 4.8M150 245.4l8.4 -1.3M158.7 248.7l3.5 -7.7M166.5 249l0.5 -8.5M175.1 248.6l-4 -7.5M183.3 246.6l-7.7 -3.5M188.9 242.6l-6.4 4.4M193.7 241.7l-3.3 6.1M199 241.5l-1.4 6.6M204.6 241.3l0.1 6.9M209.9 241.4l2.1 6.7M215.7 241.7l3 6.2M220 242.4l7 4.8M226 246.6l7.7 -3.6M234.6 248.8l3.1 -7.9M242.7 249l-0.7 -8.5M251 248.4l-4.5 -7.2M258.9 245.2l-7.9 -0.8M264.1 241.8l-5.5 5.9M268.6 241.4l-2.1 6.8M273.9 241.3l0 7M279.9 241.5l0.5 6.7M285.3 241.7l2.5 6.1M290.5 241.6l4.6 6.5M295.6 243.5l7.1 2.7M302.3 247.7l6.2 -5.8M310.9 249l1.6 -8.3M318.8 249l-1.7 -8.3M327.4 247.7l-6.2 -5.8M334.7 244.1l-8.2 1.3M338.8 241.6l-3.9 6.3M344 241.1l-1.6 7.4M349.7 241.5l-0.5 6.7M355.1 242.1l1.4 5.4M361.2 241.9l1.9 5.8M365.8 242.7l5.1 4.2M370.5 244.7l8.5 0.2M378.4 248.1l5.2 -6.7M387 249l0.6 -8.5M395.1 248.8l-3 -7.9M403.6 247l-7.3 -4.3M409.9 243l-7.4 3.6M414.6 241.5l-4.3 6.6M420.3 241.8l-2.9 6M425.3 241.8l-0.4 6M430.6 241.6l1.6 6.5M436.1 242l3.2 5.6M441.8 242.4l4.4 4.9M446.5 246.7l7.6 -3.8M455 248.7l3.1 -7.9M463.2 249l-0.7 -8.5M471.2 248.5l-4.1 -7.5M479.5 246.3l-8 -3M485.7 243.1l-7.7 3.5M2.3 235.8l1.4 5.4M8.3 242.6l2 -8.3M15.2 242.7l0.9 -8.5M21.9 242.7l0 -8.5M27.9 242.7l0.5 -8.5M35 237.6l-0.9 1.8M41 234.4l-0.5 8.3M46.7 235l0.7 7M53.1 235.2l0.5 6.5M59 234.9l1.4 7.3M65.5 235.2l1 6.6M72.2 234.3l0.2 8.5M78.5 236.3l0.2 4.4M84.3 242.7l1.1 -8.4M91.1 242.7l0.1 -8.5M97.5 242.7l0 -8.5M104.3 242.7l-0.9 -8.5M110.5 235.6l-0.9 5.9M117.1 234.6l-1.5 7.9M122.7 234.7l0.1 7.5M129.1 235l-0.2 7M134.7 235.5l1.1 6M141.3 234.5l0.5 8.1M147.9 234.3l0.1 8.5M153.2 238.4l2 0.1M160.3 242.7l0.4 -8.5M166.9 242.7l-0.1 -8.5M173.4 242.7l-0.6 -8.5M179.4 241l0 -5M186.2 234.5l-0.9 8M192.2 234.5l-0.4 8M198.4 234.6l-0.2 7.8M204.4 234.9l0.5 7.2M211.1 234.9l-0.4 7.2M216.8 234.6l0.9 7.9M222.8 234.6l1.3 7.7M229.1 240.8l1.4 -4.7M236.1 242.7l0 -8.5M242.4 242.7l0 -8.5M249 242.7l-0.7 -8.5M255.5 237.6l-0.9 1.8M261.2 234.6l0.1 7.8M267.8 234.7l-0.4 7.6M273.7 235.3l0.4 6.5M279.9 235.1l0.5 6.8M285.5 234.9l2 7.1M292.7 234.7l0.1 7.7M298.8 236l0.5 4.9M304.6 242.7l1.5 -8.4M311.6 242.7l0.2 -8.5M318.1 242.7l-0.3 -8.5M324.9 242.7l-1.2 -8.4M331.1 236.4l-0.9 4.1M337.1 234.4l-0.5 8.2M343.3 235l-0.2 7M349.4 234.7l0.2 7.6M355.7 235.2l0.1 6.6M361.6 235l0.9 7.1M368.7 234.3l-0.6 8.5M374.3 237l0.7 2.9M380.8 242.7l0.3 -8.5M387.1 242.7l0.4 -8.5M393.9 242.7l-0.6 -8.5M400.6 242.2l-1.5 -7.4M406.8 235.2l-1.2 6.5M413.1 234.3l-1.2 8.4M418.7 234.8l0.2 7.4M425.6 235.3l-0.9 6.4M432.2 235.1l-1.6 6.8M437.8 234.4l-0.3 8.1M444.2 234.9l-0.3 7.1M450.4 240.5l-0.1 -4.1M456.8 242.7l-0.4 -8.5M463.1 242.7l-0.4 -8.5M469.5 242.7l-0.6 -8.5M476.6 239.8l-2.2 -2.5M482.6 235.6l-1.6 5.9M6 231l-6 2.3M12.4 235.1l-6.2 -5.9M16.6 236.3l-2 -8.2M21.2 236.4l1.4 -8.4M25.8 235.7l4.8 -7M30.3 231.9l8.5 0.7M38.3 229l5 6.5M46 228.9l2.3 6.6M52.5 228.5l1.7 7.5M59.8 229.1l-0.1 6.1M66.5 229.2l-1.1 6M73.6 228.6l-2.5 7.1M82.2 231.1l-7.1 2.3M87.6 235.5l-5.3 -6.6M91.5 236.4l-0.6 -8.5M97 236.4l1 -8.4M100.8 235.2l6 -6M106.5 230.6l7.1 3.2M115.3 229.1l2.1 6.2M121.4 228.6l2.6 7.1M128.7 229.2l0.7 5.9M135.7 229l-0.7 6.4M142.5 229.4l-1.8 5.6M150.7 229.1l-5.6 6.1M158.1 233l-7.7 -1.6M162.3 236l-3.7 -7.7M167.2 236.4l-0.7 -8.5M171.6 236.2l2.9 -8M175.5 233.9l7.8 -3.4M182.2 229.8l7 4.8M190.5 229l3 6.4M197.5 229.3l1.6 5.9M204.4 229.8l0.4 4.8M211.2 229.4l-0.5 5.7M218.2 229.3l-2 5.7M226.8 229.5l-6.6 5.4M233.5 234l-7.4 -3.6M237.3 236.3l-2.4 -8.1M242 236.4l0.7 -8.5M246.5 235.8l4.5 -7.2M250.8 232.6l8.5 -0.8M258.9 228.7l4.8 7M265.9 228.6l3.5 7.2M273.2 228.7l1.4 6.9M280.3 229.1l-0.3 6.2M287.5 228.7l-2.1 6.9M294.2 229.4l-2.9 5.7M302.3 230.9l-6.3 2.6M308.3 235.3l-5.8 -6.2M312.2 236.4l-0.9 -8.5M317.4 236.4l1.1 -8.4M321.5 235.4l5.6 -6.4M326.6 231.2l8 1.9M334.8 229.1l4.2 6.2M342 229l2.4 6.3M349 229.3l1.1 5.9M356 228.9l-0.3 6.7M362.9 228.6l-1.5 7.1M370.8 229.3l-4.7 5.9M378.3 231.7l-7.3 1.1M383.4 235.7l-4.7 -7.1M387.9 236.4l-1.2 -8.4M392.3 236.2l2.6 -8.1M396.5 234.8l6.8 -5.1M402.7 229.8l7.1 4.7M411.3 229.2l2.4 6M418.4 229l0.7 6.4M424.7 229.2l0.8 6M431.6 229.2l-0.3 6.1M439.4 229.8l-3.4 4.8M447 229.4l-5.9 5.6M454.3 233.7l-8 -3M458.6 235.9l-4.1 -7.4M463 236.4l-0.2 -8.5M467.8 236.2l2.7 -8M472.4 233.7l6.3 -3M479.3 230l4.9 4.4M6.3 225.5l-6.5 0.7M12.7 228.5l-6.7 -5.2M16.8 230l-2.4 -8.2M21.1 230.1l1.6 -8.3M25.4 229.1l5.6 -6.4M30.4 226.4l8.2 -1M37.8 224.9l6 2M45.2 223.5l3.7 4.8M52.7 223.4l1.4 5M59.7 223.7l0 4.4M66.3 224l-0.7 3.9M74 224.2l-3.4 3.4M82.2 226.6l-7.3 -1.5M86.8 228.7l-3.7 -5.6M91.8 230.1l-1.1 -8.4M96.1 229.9l2.9 -8M100.7 228.8l6.2 -5.8M107.1 225.5l5.9 0.9M114.8 224.3l3.2 3.2M121.7 223.6l2.1 4.5M129.1 223.4l-0.2 4.9M135.8 223.7l-1 4.4M142.6 223.2l-2 5.4M150.5 224.5l-5.2 2.7M157.4 227.1l-6.3 -2.4M163 229.2l-5 -6.7M167 230.1l-0.4 -8.5M171.2 229.5l3.7 -7.2M175.8 227l7.2 -2.2M182.7 224.7l5.9 2.5M189.5 224l5 3.8M197.2 223.4l2.2 5.1M204.7 223l-0.2 5.8M211 223.6l-0.3 4.5M219 223.9l-3.7 4M226.9 224.8l-6.9 2.3M233.7 227.6l-7.8 -3.4M237.6 229.9l-2.9 -8M241.7 230.1l1.4 -8.4M245.9 229.1l5.7 -6.3M251.5 226.3l7 -0.8M258.5 224.3l5.6 3.2M266.1 223.4l3 5.1M273.7 223.2l0.5 5.4M280.2 223.6l0.1 4.6M287.7 224l-2.3 3.9M294.8 224.3l-4.1 3.3M301.9 225.2l-5.7 1.4M308.4 228.8l-6.1 -5.8M312.5 230.1l-1.6 -8.3M316.9 230l2.1 -8.2M321.5 228.7l5.5 -5.7M327.4 226l6.4 -0.2M334 224.2l5.8 3.5M342.1 223.3l2.3 5.2M348.9 223.1l1.1 5.5M356 223.4l-0.5 4.9M362.9 223.6l-1.6 4.7M370.7 224.2l-4.6 3.4M378.1 225.7l-6.7 0.3M383.5 229.1l-5 -6.5M387.3 230.1l0 -8.5M392.4 230l2.5 -8.1M396.3 227.7l7.2 -3.6M403.6 225.2l5.2 1.4M411.1 224.6l2.9 2.6M418.3 223.5l1 4.8M425.3 223.4l-0.4 4.9M432 223.6l-1.2 4.5M439.4 223.8l-3.3 4.3M447.6 225l-7.1 1.9M453.9 227l-7.3 -2.2M458.6 229.7l-4 -7.5M462.8 230.1l0.1 -8.5M467.1 229.6l4.2 -7.4M471.9 228.1l7.2 -4.5M478.6 225.1l6.3 1.5M5.2 219.8l-4.4 -0.3M11 221.3l-3.4 -3.3M16 222.7l-0.7 -6.3M21.4 222.7l0.9 -6.3M26.2 221.5l4.1 -3.7M32.5 220.5l4 -1.8M38.6 218.3l4.4 2.6M45.5 218.4l3.2 2.4M53.2 218l0.4 3.2M59.8 217.8l-0.2 3.5M66.5 217.9l-1 3.4M73.6 218.9l-2.6 1.5M80.7 220.2l-4.1 -1.1M86.5 221.9l-3.2 -4.6M91.6 222.2l-0.9 -5.2M96.2 221.7l2.7 -4.3M101.2 221.5l5.2 -3.7M108.1 219.8l4 -0.4M114 218.3l4.8 2.6M121.2 218.5l3 2.2M128.4 217.9l1.3 3.4M135.6 217.9l-0.6 3.3M142.8 218l-2.4 3.2M149.4 219.1l-3 1.1M156.6 220.3l-4.7 -1.4M161.3 221.6l-1.7 -3.9M166.3 221.7l1 -4.1M171.8 221.7l2.7 -4.1M176.5 220.3l5.8 -1.4M183.6 219.3l4.2 0.6M189.9 218.9l4.1 1.5M197.2 218l2.2 3.3M204 218l1.2 3.2M211.6 218.6l-1.3 2M218.1 219l-1.9 1.2M225.3 219.2l-3.5 0.8M231.8 220.7l-4 -2.2M236.9 221.4l-1.6 -3.6M242.1 222.1l0.7 -5M247 221.1l3.3 -2.9M252.3 219.8l5.4 -0.5M259.3 218.7l4.1 1.8M266.5 218.2l2.3 2.9M273.6 217.6l0.6 3.9M280.3 218l-0.1 3.1M287 217.7l-1 3.8M294.1 218.4l-2.6 2.5M300.8 220l-3.3 -0.7M307.3 220.7l-3.7 -2.2M312.6 222.5l-1.7 -5.7M316.9 222.2l2.2 -5.3M322.1 221.6l4.5 -4M328.6 220l3.9 -0.8M334.7 218.6l4.3 1.9M342 218.3l2.4 2.6M349.4 217.4l0.2 4.3M355.6 218l0.3 3.2M363 217.8l-1.9 3.6M370.4 218.2l-4 2.8M376.4 220.1l-3.4 -1.1M382.1 221.5l-2.3 -3.9M387.6 222.3l-0.7 -5.5M392.5 222l2.3 -4.8M397.5 220.6l4.7 -2M403.8 219.7l4.8 -0.3M411.1 218.9l2.8 1.4M418.2 218l1.2 3.2M425.7 218.1l-1.1 2.9M431.8 218l-0.8 3.1M438.9 218.4l-2.5 2.4M445.5 219.2l-3 0.9M452.9 221.1l-5.2 -3M457.9 221.9l-2.5 -4.7M462.7 222.5l0.5 -5.8M467.5 221.6l3.5 -3.9M473.2 220.5l4.7 -1.8M479.9 219.8l3.8 -0.4M3.9 213.8l-1.8 -1.1M9.6 214.9l-0.5 -3.2M15.4 215.2l0.5 -3.8M21.2 215.3l1.4 -4M26.4 215.2l3.5 -3.8M32.9 213.5l3.3 -0.4M38.6 212.4l4.4 1.9M45.3 212l3.6 2.7M52.8 212.5l1.3 1.6M59.5 211.5l0.3 3.6M66.3 212.1l-0.7 2.3M72.7 213l-0.8 0.6M79.2 213.9l-1.2 -1.2M85.6 214.6l-1.5 -2.6M91.3 215l-0.1 -3.5M96.9 215.4l1.3 -4.2M102.5 214.5l2.5 -2.4M108.5 214l3.3 -1.4M115.7 212.7l1.4 1.1M121.8 212.6l1.9 1.5M128.2 212.5l1.5 1.5M135 212.2l0.5 2.1M142.2 212.5l-1.1 1.6M148.3 212.6l-0.9 1.4M154.9 213.2l-1.4 0.2M160.2 214.1l0.7 -1.6M165.9 214.5l1.9 -2.5M171.9 214l2.5 -1.3M177.4 213.7l3.9 -0.8M183.6 212.9l4.2 0.8M190.2 212.6l3.7 1.3M197.2 212.9l2.2 0.9M204 212.3l1.2 1.9M211.5 212.6l-1.3 1.5M217.7 212.8l-1 1M224.8 213.9l-2.5 -1.2M230.8 214.3l-2 -2M236.4 214.9l-0.6 -3.2M241.9 214.3l1 -1.9M247.8 214.4l1.8 -2.2M253.6 213.4l2.9 -0.1M259.4 212.6l3.8 1.3M266.5 212.3l2.2 2.1M272.9 212.3l2 2M280.1 212.3l0.1 2.1M286.8 212l-0.5 2.7M293.6 213l-1.6 0.7M300.4 213.8l-2.7 -1M305.7 214.9l-0.5 -3.3M311.4 215.4l0.6 -4.2M317.2 215.3l1.7 -4.1M322.5 215.1l3.6 -3.6M328.6 213.8l4.1 -1M335.1 213.4l3.5 -0.2M341.6 212.7l3.1 1.2M348.9 212l1.3 2.5M356.3 212.4l-1 1.7M362.7 212.2l-1.2 2.1M369.7 212.8l-2.7 0.9M375.9 213l-2.4 0.6M381.5 214.3l-0.9 -1.9M387.7 214.4l-0.9 -2.2M393.1 214.7l1 -2.7M398.8 214.2l2.2 -1.9M404.5 213.2l3.5 0.3M411.4 213.5l2.3 -0.3M418.2 213.1l1.2 0.4M425.1 213.3h.9M431.7 212.6l-0.6 1.5M438 212.9l-0.6 0.8M444.5 213.6l-1 -0.5M450.6 214.4l-0.7 -2.2M456.3 215.2l0.6 -3.9M462.3 215.3l1.1 -4.1M467.7 215l3.1 -3.5M473.5 214.1l4.1 -1.6M479.6 213.7l4.3 -0.9M3.2 207.9l-0.4 -1.7M9.5 208.3l-0.4 -2.5M15 208.7l1.1 -3.3M21 208.3l1.8 -2.6M26.9 208.5l2.6 -2.9M33.6 207.2l1.7 -0.3M39.4 207l2.8 -0.1M45.8 205.8l2.6 2.4M53 205.9l0.8 2.1M59.2 205.6l0.9 2.8M66.1 206.5l-0.1 1M73.1 206.6l-1.5 0.8M79.4 207.7l-1.6 -1.5M85.3 207.8l-0.9 -1.6M90.7 208.6l1 -3.1M96.3 208.3l2.3 -2.7M103.4 208.9l0.8 -3.8M108.8 208.3l2.6 -2.5M115 207.3l2.7 -0.7M121.4 206.6l2.7 0.8M128.2 206.7l1.7 0.7M134.7 206l1.2 1.9M141.2 206.6l0.8 0.8M148.1 206.2l-0.4 1.7M154 206.6l0.3 0.9M159.8 207.5l1.4 -0.9M166.4 207.5l0.9 -1.1M171.7 207.9l2.9 -1.8M178.4 207.5l1.9 -1M184.5 207.5l2.3 -1.1M190.1 206.6l3.7 0.8M198 206.6l0.6 0.8M203.8 206.9l1.7 0.2M210.9 207h.9M218 207.4l-1.5 -0.7M223.5 207h.9M230.1 207.5l-0.6 -1M236.5 208l-0.8 -2M242.2 207.6l0.5 -1.2M247.9 207.3l1.5 -0.7M253.7 207.1l2.6 -0.3M260.3 206.1l2.1 1.9M266.4 205.9l2.4 2.2M272.9 205.7l1.9 2.5M279.9 206.1l0.7 1.9M286.4 206.4l0.2 1.2M292.5 206.3l0.5 1.4M299.1 207.6l0 -1.1M305 207.8l0.8 -1.5M310.9 208.6l1.6 -3.2M316.6 208.6l2.9 -3.2M323.2 208.3l2.2 -2.6M329.4 207.4l2.4 -0.8M335.5 207.1l2.7 -0.3M341.7 206l2.9 2.1M349.1 206.4l0.8 1.3M356 206.1l-0.4 1.8M363 206l-1.8 2M368.9 206.3l-1 1.4M375.2 206.7l-1 0.7M381.3 207.2l-0.6 -0.4M387.7 208l-0.8 -2.1M393.3 207.4l0.6 -0.8M399 207l1.8 0.1M405.4 207.8l1.6 -1.6M411.4 206.9l2.3 0.2M417.6 206.8l2.3 0.4M424.7 207.2l0.9 -0.4M431.4 207h.9M437.1 206.9l1.2 0.2M444 207h.9M450.3 207.4l0 -0.8M456.2 208.3l0.8 -2.6M462.8 208.1l0.2 -2.2M468 207.9l2.4 -1.7M473.5 206.6l4 0.8M480.6 206.4l2.5 1.1M2.2 202.1l1.5 -2.8M8.3 202.2l2 -2.9M14.7 201.6l1.8 -1.8M21 201.4l1.7 -1.4M27.1 201.6l2.3 -1.7M33.2 200.2l2.5 0.9M39.7 200.5l2.1 0.4M46.2 200.2l1.8 1M52.8 199.7l1.1 1.9M59.9 200.1l-0.4 1.2M67.1 200.5l-2.1 0.4M72.3 200.7h.9M78.1 200.7l1.1 -0.1M84.6 201.5l0.5 -1.6M91.2 201.5l0.1 -1.5M97.3 201.6l0.5 -1.7M102.7 201.4l2.2 -1.5M109 201.6l2.3 -1.9M115.5 200.8l1.9 -0.3M121.4 201l2.6 -0.5M127.8 200.4l2.4 0.6M134.1 200l2.3 1.4M140.7 200.4l1.8 0.6M146.8 199.8l2.2 1.7M153.4 200l1.6 1.5M159.8 200.6l1.4 0.1M165.9 200.9l1.7 -0.5M171.8 201.3l2.5 -1.2M178.1 201.2l2.6 -1M184.8 200.8l1.8 -0.3M191.3 200.6l1.4 0.3M197.3 200.6l2 0.1M204.2 200.4l0.8 0.6M210.9 200.7h.9M217.2 201.5l0 -1.7M223.9 201.6l-0.7 -1.8M229.8 200.7h.9M236.1 200.7h.9M242.4 201.2l0.1 -1M247.5 200.6l2.3 0.3M253.8 200.2l2.4 1M260.3 199.9l2.1 1.6M266.8 200.3l1.7 0.7M272.2 199.1l3.4 3.2M279.1 200l2.2 1.4M285.5 200.3l2 0.7M292.7 200l0.2 1.4M298.9 201.3l0.4 -1.1M304.8 201.3l1.2 -1.3M310.9 202.3l1.6 -3.2M316.8 202.3l2.3 -3.2M323.2 201.8l2.1 -2.3M329.3 201.4l2.6 -1.4M336.1 200.5l1.6 0.4M342.6 199.9l1.2 1.7M348.9 200.1l1.3 1.1M355 200.4l1.5 0.6M362.7 199.3l-1.2 2.8M368.7 199.5l-0.6 2.3M374.7 200.7h.9M381 201.3l0 -1.1M386.8 200.6l0.9 0.1M392.4 201.2l2.4 -1.1M398 201.3l3.8 -1.3M404.5 201.3l3.3 -1.2M410.8 200.9l3.3 -0.5M417.1 200.9l3.4 -0.4M423.5 201.6l3.1 -1.8M430.6 200.8l1.7 -0.1M437 201.2l1.4 -1M443.2 201.5l1.6 -1.6M449.6 202l1.5 -2.5M455.5 200.9l2.1 -0.4M462 201.4l1.9 -1.4M467.7 201l3 -0.6M473.7 200.3l3.7 0.9M481.2 200.5l1.2 0.3M2.4 195.5l1.2 -2.2M9 196.2l0.5 -3.5M15.4 195.4l0.4 -2M21.3 194.9l1.2 -1.1M27.3 195l1.7 -1.3M34.5 194.4h.9M40.5 193.8l0.6 1.2M46.5 193.7l1.2 1.4M53.1 193.9l0.7 1M59.3 193.6l0.7 1.5M66.1 193.8l-0.1 1.2M72.7 193.9l-0.8 1.1M78.6 194.4h.9M84.5 195.1l0.8 -1.4M90.6 195.2l1.2 -1.6M96.5 195.4l2 -2M102.4 195l2.8 -1.3M108.8 194.9l2.7 -1M114.5 195l3.9 -1.2M121.1 194.9l3.2 -1.1M127.8 194.5l2.4 -0.1M134.4 193.6l1.8 1.5M140.6 194.1l2 0.6M147.4 194l1 0.9M154.1 193.8l0.3 1.2M159.8 194l1.4 0.9M165.8 193.2l1.9 2.3M172.7 194.5l0.9 -0.2M178.6 194l1.6 0.8M185.1 194.8l1.1 -0.7M191.2 194.8l1.6 -0.8M197.5 194.4l1.6 0M203.9 194.9l1.3 -0.9M210.7 195.1l0.4 -1.5M217.2 195.1l0 -1.3M223.5 194.9l0 -1M230.1 194.7l-0.6 -0.7M235.3 195l1.7 -1.2M241.4 194.9l2 -1M247.3 194.1l2.8 0.5M253.8 193.6l2.5 1.5M260 194.1l2.7 0.6M266.5 193l2.2 2.7M272 192.8l3.8 3.2M279 194.2l2.5 0.5M285.6 194.1l1.7 0.7M291.7 194.5l2.1 -0.2M298.4 195.3l1.3 -1.7M304.9 195.3l1.1 -1.9M310.9 195.9l1.6 -2.9M317.7 195.2l0.5 -1.7M323.9 195.9l0.8 -3M330.6 195.2l0 -1.5M336.9 194.4h.9M343.2 194.4h.9M349 194.2l1 0.4M355.3 193.4l1 2M361.9 193.4l0.4 1.9M368.4 193.4l0 2M374.4 194l0.7 0.9M380.4 194.2l1.2 0.4M386.8 194.3l1.1 0.2M392.8 194.6l1.6 -0.4M398.9 194.7l2 -0.6M404.8 194.5l2.9 -0.3M410.9 194.7l3.3 -0.7M417.2 194.9l3.2 -1M423.7 195.1l2.9 -1.5M430.7 195.1l1.3 -1.4M437 195.8l1.4 -2.8M443.7 194.8l0.5 -0.8M449.9 194.6l0.7 -0.5M456.6 194.4h.9M461.8 195l2.2 -1.1M468.3 193.8l1.8 1.1M474.6 194.3l1.9 0.3M480.6 193.9l2.5 1.1M3 189.1l0 -1.9M8.8 189l1.1 -1.9M15.3 188.5l0.6 -0.9M21.9 188.5l0 -0.9M28.2 188.1h.9M33.8 188.1l1.4 0.1M39.9 187.6l1.8 1.1M46.3 188l1.6 0.2M52.9 187.4l1 1.3M59.5 187.1l0.3 2M66 187.3l-0.1 1.6M71.9 188l0.8 0.2M77.8 188.5l1.6 -0.8M83.9 188.7l2.1 -1.3M90.1 189.2l2.2 -2.1M95.8 188.9l3.4 -1.6M102.1 189.5l3.3 -2.8M108.3 188.6l3.6 -0.9M115.4 188.8l2 -1.4M121.6 188.2l2.1 -0.1M127.9 188.1l2.3 0M133.9 187.8l2.8 0.7M141 187.3l1.3 1.5M147 187.4l1.7 1.4M154.1 187.5l0.1 1.3M160.6 187.1l-0.3 2M166.3 187.6l1 1M173.1 188.1h.9M178.6 187.9l1.6 0.5M185.1 188.8l1.1 -1.5M191.5 188.3l1 -0.4M198.3 188.1h.9M204.2 188.6l0.8 -1.1M210.4 188.5l0.9 -0.8M216.9 188.9l0.6 -1.7M222.8 188.8l1.3 -1.5M229.2 188.5l1.3 -0.9M235.2 188.5l1.8 -0.8M241.2 187.4l2.4 1.3M247.1 187.8l3.2 0.6M253.8 187.5l2.4 1.2M260 187.5l2.6 1.2M266.1 187.2l2.9 1.8M273 187.6l1.8 1M279.4 187.2l1.6 1.7M285.9 187.7l1.2 0.9M292.4 188.6l0.9 -1M298.7 188.8l0.9 -1.3M305.3 188.8l0.2 -1.5M310.9 189.5l1.7 -2.8M317.9 189.5l0.3 -2.9M324.5 188.9l-0.4 -1.5M329.8 188.6l1.5 -1M336.3 188.7l1.2 -1.2M343.2 188.1h.9M348.7 187.5l1.6 1.2M356 187.3l-0.5 1.5M361.7 187.4l0.8 1.5M367.8 187.3l1.3 1.6M373.8 187.2l1.8 1.8M380.3 188.1l1.4 0M386.2 187.5l2.2 1.2M392.3 188.7l2.7 -1.3M399 188.6l1.9 -1M404.2 188.3l4 -0.5M411 188.6l3 -1M417.6 188.5l2.4 -0.7M424.2 188.4l1.8 -0.7M430.8 189.2l1.2 -2.1M437.3 188.7l0.8 -1.2M443.5 188.7l0.9 -1.2M450.2 188.8l0.3 -1.5M456.6 188.1h.9M462.3 188l1.3 0.2M468.7 188.3l0.9 -0.3M474.7 188.4l1.5 -0.6M481 187.8l1.6 0.6M3.1 182.7l-0.2 -1.9M9.3 182.9l0 -2.2M16.1 182.7l-0.9 -1.9M21.9 182.4l0.1 -1.2M28.3 182.2l-0.1 -0.8M34.5 181.8h.9M40.7 181.3l0.2 1M46.7 181.2l0.9 1.3M53 181.2l0.8 1.2M58.9 181.3l1.6 0.9M65.4 181.3l1.3 1.1M72.3 181.8h.9M77.9 182l1.5 -0.3M84.1 181.6l1.5 0.5M90.4 182.3l1.6 -1M96.7 181.8l1.6 -0.1M103 182.3l1.5 -0.9M108.7 182.2l2.9 -0.8M115.8 182.7l1.2 -1.7M122.1 181.7l1.2 0.3M128.3 182.2l1.5 -0.8M135.3 181.8h.9M141.6 181.3l0.1 1.1M147.5 181.6l0.8 0.5M154 181.2l0.5 1.3M160 181.6l1.1 0.4M166.3 181.6l1 0.4M172.8 181.4l0.6 0.7M179.1 181.5l0.5 0.6M185.2 182.3l0.9 -1.1M192 181.8h.9M197.7 182.3l1.3 -1M203.8 182.8l1.6 -1.9M210 182.7l1.9 -1.7M216.5 182.2l1.3 -0.9M222.1 182.1l2.7 -0.7M228.6 182.2l2.4 -0.7M234.9 182.2l2.3 -0.8M241.6 182.2l1.6 -0.9M248.2 181.3l1 0.9M254.3 181.1l1.4 1.3M260.5 181.3l1.7 1M266.8 181.7l1.7 0.3M273.1 181.3l1.7 1M279.2 181.6l2 0.3M285.7 181.3l1.6 0.9M292.8 181.2l0.1 1.2M298.7 182l0.7 -0.4M305.3 182.3l0.2 -1.1M311.2 182.7l1 -1.7M317.4 182.6l1.1 -1.6M324.1 182.2l0.4 -0.9M330.2 182.2l0.8 -0.7M336.3 182.4l1.2 -1.1M342.7 182.4l0.9 -1.2M349 182.1l1 -0.6M355 181.6l1.6 0.4M361.4 181.9l1.4 -0.2M367.7 181.4l1.4 0.8M373.5 181.5l2.3 0.6M379.9 181.8l2.3 0M386.2 181.8l2.2 0.1M392.5 181.4l2.2 0.9M398.6 182.1l2.7 -0.5M405.2 181.8l2 -0.1M411.9 182.1l1.2 -0.6M418.5 182.4l0.5 -1.2M424.5 182.6l1.2 -1.7M430.9 182.2l1.1 -0.8M437.5 182.7l0.4 -1.7M443.7 182.1l0.7 -0.6M449.5 182.3l1.6 -1.1M456.6 181.8h.9M463.5 181.5l-1.3 0.6M468.6 181.8l1.2 -0.1M474.9 180.9l1.2 1.8M481.1 181.2l1.4 1.2M3 176.1l0.1 -1.3M9.9 176.2l-1.2 -1.4M16 175.7l-0.8 -0.4M22.3 175.7l-0.7 -0.3M28 175.1l0.4 0.8M34.5 175.5h.9M40.8 175.5h.9M46.5 175.7l1.1 -0.5M52.9 175.1l0.9 0.9M59.9 175.2l-0.3 0.7M66 175.5h.9M72.3 175.5h.9M78.2 175.4l0.9 0.1M84.5 175.5l0.9 0.1M90.4 175.8l1.6 -0.6M97 176.3l0.9 -1.5M102.9 176.2l1.9 -1.3M109.6 175.9l1 -0.8M115.5 175.8l1.7 -0.7M122.3 175.8l0.7 -0.6M128.7 176l0.7 -1.1M135.3 175.5h.9M141.3 174.8l0.6 1.5M147.9 174.7l0 1.6M153.8 174.9l0.8 1.2M160.5 175l0.1 1M166.8 175.5h.9M172.7 175.1l0.7 0.8M178.9 175.7l0.9 -0.5M185.3 175.6l0.7 -0.2M192 175.5h.9M197.2 176l2.3 -1M203.8 175.7l1.7 -0.4M210.2 176l1.3 -0.9M216.8 175.9l0.9 -0.8M222.7 176.1l1.5 -1.2M229.8 175.5h.9M235.5 175.4l1.3 0.3M241.7 175.9l1.4 -0.8M247.9 175.2l1.6 0.7M255 175.5h.9M260.8 175.1l0.9 0.9M267.7 175l-0.2 1.1M273.2 175.7l1.4 -0.5M280.2 175.5h.9M286.5 175.5h.9M292.8 175.5h.9M299.7 175.4l-1.1 0.2M305.4 175.5h.9M311.7 175.5h.9M318.1 175.9l-0.1 -0.7M323.8 175.9l1.1 -0.8M329.7 175.5l1.9 0M336.3 175.3l1.2 0.3M342.7 175.5l0.9 0M348.7 175.4l1.5 0.2M355.7 175.1l0.1 0.8M361 174.9l2.2 1.2M367.9 175.1l1.1 0.8M374.7 175.5h.9M380.4 175.5l1.1 0M387.3 175.5h.9M392.4 176l2.4 -1.1M399.9 175.5h.9M406.2 175.5h.9M412.4 175.9l0.2 -0.8M418.4 175.7l0.7 -0.3M424.7 175.8l0.8 -0.7M431.4 175.5h.9M437.7 175.5h.9M444.1 175.9l-0.3 -0.7M450 175.7l0.7 -0.4M455.9 175.5l1.5 0M462.4 175.9l1.1 -0.8M468.6 175.4l1.3 0.2M474.9 175.1l1.2 0.8M480.7 175.4l2.2 0.3M2.8 169.5l0.4 -0.6M9.3 169.2h.9M15.6 169.2h.9M21.9 169.2h.9M27.6 169.8l1.3 -1.2M34.5 169.2h.9M40.2 169.2l1.2 0M46.7 168.7l0.8 1M53.1 168.8l0.6 0.7M59.5 168.8l0.4 0.8M65.2 169.9l1.6 -1.4M72.7 169.3l-0.8 -0.1M77.8 168.9l1.7 0.6M84.5 169.5l0.8 -0.6M90.8 168.7l0.9 1M96.7 169.8l1.6 -1.2M103.6 169.9l0.4 -1.4M109.7 169.2l0.7 0.1M116.4 169.2h.9M122.7 169.2h.9M129 169.2h.9M135.3 169.2h.9M141.6 169.2h.9M147.4 169.2l1.1 -0.1M153.8 168.9l0.8 0.5M160.5 169.2h.9M166.6 168.8l0.3 0.8M172.8 169.8l0.6 -1.2M179.1 169.5l0.6 -0.6M185.3 169.4l0.9 -0.4M191.4 169.6l1.3 -0.7M197.9 169.3l0.8 -0.2M204.1 169l1 0.4M209.9 169.2l1.9 0M216.8 169.6l0.7 -0.8M223.5 169.7l-0.1 -0.9M229 169.2l1.5 0.1M236.1 169.2h.9M241.8 169.6l1.3 -0.8M248.7 169.2h.9M254.6 169l0.9 0.4M260.9 169l0.7 0.4M267.2 169.2l0.8 -0.1M273.9 169.2h.9M280.3 169.6l-0.2 -0.7M286.5 169.2h.9M292.8 169.2h.9M298.8 169.6l0.6 -0.9M305.5 169.6l-0.2 -0.9M312.2 169.5l-1 -0.6M317.5 169.3l1 -0.1M323.8 169.6l1.1 -0.7M330.1 169.5l1 -0.6M336.4 168.9l1 0.6M343.1 169.7l0.2 -1.1M349.5 169.2h.9M355.3 168.7l0.9 0.9M361.6 168.9l1.1 0.5M367.5 169.2l1.7 0M374.7 169.2h.9M380.7 168.4l0.6 1.7M387.3 169.2h.9M393.6 169.2h.9M399.5 168.8l0.8 0.9M406.6 169.4l-0.8 -0.4M412.9 169.7l-0.7 -1.1M418.8 170.4l0 -2.3M424.7 169.4l0.8 -0.4M431.4 169.2h.9M437.1 169.3l1.2 -0.2M444 169.2h.9M450.4 170.2l-0.1 -1.9M456.2 169.9l0.8 -1.3M462.9 169.2h.9M469.2 169.2h.9M475.5 169.2h.9M480.7 169l2.2 0.4M3.2 163.4l-0.4 -1M9.3 162.9h.9M16 163.1l-0.8 -0.4M21.7 163.2l0.4 -0.7M28.4 163.4l-0.4 -1.1M34 163.4l1 -1M40.5 162.6l0.6 0.5M47.1 162.9h.9M53.4 162.9h.9M59.3 162.5l0.9 0.8M65.7 162.4l0.5 1M72.3 162.9h.9M78.2 163.3l0.8 -0.9M84.9 162.9h.9M91.6 162.9l-0.7 0M96.9 163.1l1.2 -0.4M103.8 162.9h.9M109.2 163.6l1.8 -1.4M116.6 162.4l-0.4 1M122.1 162.8l1.3 0.2M128.7 163.2l0.7 -0.6M134.8 162.6l0.9 0.5M141.6 162.9h.9M147.4 163l1.1 -0.2M153.7 162.9l1 0M160.5 162.9h.9M167.1 162.4l-0.6 1.1M173.6 162.8l-1 0.1M179.2 162.5l0.4 0.8M185.7 162.9h.9M192 162.9h.9M197.5 163.1l1.5 -0.3M204.2 163.1l0.7 -0.5M210.4 162.6l0.9 0.5M217.4 163.2l-0.5 -0.7M224 163l-1 -0.3M229.8 162.9h.9M236.1 162.9h.9M242.1 163.2l0.5 -0.5M248.7 162.9h.9M255 162.9h.9M261.4 162.3l-0.2 1.1M267.6 162.9h.9M273.9 162.9h.9M279.7 162.2l1.1 1.4M286.8 162.6l-0.6 0.6M292.6 162.5l0.3 0.8M299.1 162.9h.9M305.1 163.2l0.7 -0.7M311.7 162.9h.9M318 162.9h.9M324.5 163.3l-0.5 -0.8M331.1 162.9l-1 0.1M336.9 162.9h.9M342.5 162.9l1.5 0M349 162.8l0.9 0.2M355.6 162.6l0.4 0.7M361.8 163.1l0.7 -0.3M368 163.1l0.8 -0.4M374.4 162.5l0.7 0.7M381 162.9h.9M387.3 162.9h.9M393.6 162.9h.9M399.9 163.3l-0.1 -0.9M405.8 162.9l0.8 -0.1M412.9 163l-0.8 -0.2M418.7 163.4l0.3 -1M425.1 162.9h.9M431.4 162.9h.9M437.9 163.2l-0.3 -0.6M444 162.9h.9M450.3 162.9h.9M456.6 162.9h.9M463.3 163.2l-0.7 -0.6M468.3 162.8l1.8 0.2M475.5 162.9h.9M481.6 162.4l0.4 1.1M3 156.6h.9M9.3 156.6h.9M16 156.5l-0.8 0.3M22.2 156.5l-0.7 0.2M28.2 156.6h.9M34.5 156.6h.9M40.5 157.1l0.6 -1.1M47.1 156.6h.9M53.8 157.2l-0.7 -1.2M59.6 156.2l0.1 0.8M66 156.6h.9M72.2 157.1l0.1 -0.9M78.6 156.6h.9M85.3 156.6l-0.8 -0.1M91.2 156.6h.9M98 156.9l-1.1 -0.5M103.8 156.6h.9M110.6 157.2l-1 -1.3M117.1 156.5l-1.3 0.2M123.1 156.4l-0.7 0.4M128.6 156.9l0.7 -0.7M134.8 156.5l1 0.3M141.3 156.9l0.6 -0.6M147.9 156.6h.9M154.2 156.2l0 0.8M160.9 156.8l-0.8 -0.5M166.8 156.6h.9M173 156.2l0.2 0.8M179 156.6l0.8 -0.1M185.8 156l-0.1 1.1M192.1 156.1l-0.2 1M198.3 156.6h.9M204.1 156.3l1.1 0.5M211.2 156.7l-0.7 -0.2M217.2 156.6h.9M223.5 156.2l0.1 0.8M230.1 157.3l-0.6 -1.5M236.1 156.6h.9M242.7 156.2l-0.6 0.9M248.9 157.2l-0.4 -1.2M255 156.6h.9M261.3 156.6h.9M267.6 156.6h.9M273.9 156.6h.9M280.2 156.6h.9M287 156.8l-1 -0.4M292.5 156.4l0.6 0.4M299.1 156.6h.9M306 156.7l-1.3 -0.1M311.6 156.9l0.3 -0.7M317.8 157.2l0.4 -1.2M324.3 156.6h.9M330.2 156.4l0.9 0.4M336.9 156.6h.9M342.3 156.8l1.7 -0.5M349.5 156.6h.9M355.8 156.6h.9M362.1 156.6h.9M368.4 156.6h.9M374.7 156.6h.9M381 156.6h.9M387.3 156.6h.9M393.6 156.6h.9M399.9 156.6h.9M406.2 156.6h.9M412.7 156.9l-0.5 -0.6M418.7 157.1l0.2 -1.1M425 157.5l0.1 -1.8M431.5 157.3l-0.2 -1.3M437.3 156.8l0.9 -0.5M443.4 156.9l1.2 -0.6M450.2 156.2l0.2 0.8M456.6 156.6h.9M463.3 156.5l-0.7 0.2M468.6 156.6l1.3 0.1M475.5 156.6h.9M481.8 156.6h.9" class="q"/>
<path d="M3 150h.9M9.5 150h.9M16 150h.9M22.5 150h.9M29 150h.9M35.5 150h.9M42 150h.9M48.5 150h.9M55 150h.9M61.5 150h.9M68 150h.9M74.5 150h.9M81 150h.9M87.5 150h.9M94 150h.9M100.5 150h.9M107 150h.9M113.5 150h.9M120 150h.9M126.5 150h.9M133 150h.9M139.5 150h.9M146 150h.9M152.5 150h.9M159 150h.9M165.5 150h.9M172 150h.9M178.5 150h.9M185 150h.9M191.5 150h.9M198 150h.9M204.5 150h.9M211 150h.9M217.5 150h.9M224 150h.9M230.5 150h.9M237 150h.9M243.5 150h.9M250 150h.9M256.5 150h.9M263 150h.9M269.5 150h.9M276 150h.9M282.5 150h.9M289 150h.9M295.5 150h.9M302 150h.9M308.5 150h.9M315 150h.9M321.5 150h.9M328 150h.9M334.5 150h.9M341 150h.9M347.5 150h.9M354 150h.9M360.5 150h.9M367 150h.9M373.5 150h.9M380 150h.9M386.5 150h.9M393 150h.9M399.5 150h.9M406 150h.9M412.5 150h.9M419 150h.9M425.5 150h.9M432 150h.9M438.5 150h.9M445 150h.9M451.5 150h.9M458 150h.9M464.5 150h.9M471 150h.9M477.5 150h.9M484 150h.9M3 143.5h.9M9.5 143.5h.9M16 143.5h.9M22.5 143.5h.9M29 143.5h.9M35.5 143.5h.9M42 143.5h.9M48.5 143.5h.9M55 143.5h.9M61.5 143.5h.9M68 143.5h.9M74.5 143.5h.9M81 143.5h.9M87.5 143.5h.9M94 143.5h.9M100.5 143.5h.9M107 143.5h.9M113.5 143.5h.9M120 143.5h.9M126.5 143.5h.9M133 143.5h.9M139.5 143.5h.9M146 143.5h.9M152.5 143.5h.9M159 143.5h.9M165.5 143.5h.9M172 143.5h.9M178.5 143.5h.9M185 143.5h.9M191.5 143.5h.9M198 143.5h.9M204.5 143.5h.9M211 143.5h.9M217.5 143.5h.9M224 143.5h.9M230.5 143.5h.9M237 143.5h.9M243.5 143.5h.9M250 143.5h.9M256.5 143.5h.9M263 143.5h.9M269.5 143.5h.9M276 143.5h.9M282.5 143.5h.9M289 143.5h.9M295.5 143.5h.9M302 143.5h.9M308.5 143.5h.9M315 143.5h.9M321.5 143.5h.9M328 143.5h.9M334.5 143.5h.9M341 143.5h.9M347.5 143.5h.9M354 143.5h.9M360.5 143.5h.9M367 143.5h.9M373.5 143.5h.9M380 143.5h.9M386.5 143.5h.9M393 143.5h.9M399.5 143.5h.9M406 143.5h.9M412.5 143.5h.9M419 143.5h.9M425.5 143.5h.9M432 143.5h.9M438.5 143.5h.9M445 143.5h.9M451.5 143.5h.9M458 143.5h.9M464.5 143.5h.9M471 143.5h.9M477.5 143.5h.9M484 143.5h.9M3 137h.9M9.5 137h.9M16 137h.9M22.5 137h.9M29 137h.9M35.5 137h.9M42 137h.9M48.5 137h.9M55 137h.9M61.5 137h.9M68 137h.9M74.5 137h.9M81 137h.9M87.5 137h.9M94 137h.9M100.5 137h.9M107 137h.9M113.5 137h.9M120 137h.9M126.5 137h.9M133 137h.9M139.5 137h.9M146 137h.9M152.5 137h.9M159 137h.9M165.5 137h.9M172 137h.9M178.5 137h.9M185 137h.9M191.5 137h.9M198 137h.9M204.5 137h.9M211 137h.9M217.5 137h.9M224 137h.9M230.5 137h.9M237 137h.9M243.5 137h.9M250 137h.9M256.5 137h.9M263 137h.9M269.5 137h.9M276 137h.9M282.5 137h.9M289 137h.9M295.5 137h.9M302 137h.9M308.5 137h.9M315 137h.9M321.5 137h.9M328 137h.9M334.5 137h.9M341 137h.9M347.5 137h.9M354 137h.9M360.5 137h.9M367 137h.9M373.5 137h.9M380 137h.9M386.5 137h.9M393 137h.9M399.5 137h.9M406 137h.9M412.5 137h.9M419 137h.9M425.5 137h.9M432 137h.9M438.5 137h.9M445 137h.9M451.5 137h.9M458 137h.9M464.5 137h.9M471 137h.9M477.5 137h.9M484 137h.9M3 130.5h.9M9.5 130.5h.9M16 130.5h.9M22.5 130.5h.9M29 130.5h.9M35.5 130.5h.9M42 130.5h.9M48.5 130.5h.9M55 130.5h.9M61.5 130.5h.9M68 130.5h.9M74.5 130.5h.9M81 130.5h.9M87.5 130.5h.9M94 130.5h.9M100.5 130.5h.9M107 130.5h.9M113.5 130.5h.9M120 130.5h.9M126.5 130.5h.9M133 130.5h.9M139.5 130.5h.9M146 130.5h.9M152.5 130.5h.9M159 130.5h.9M165.5 130.5h.9M172 130.5h.9M178.5 130.5h.9M185 130.5h.9M191.5 130.5h.9M198 130.5h.9M204.5 130.5h.9M211 130.5h.9M217.5 130.5h.9M224 130.5h.9M230.5 130.5h.9M237 130.5h.9M243.5 130.5h.9M250 130.5h.9M256.5 130.5h.9M263 130.5h.9M269.5 130.5h.9M276 130.5h.9M282.5 130.5h.9M289 130.5h.9M295.5 130.5h.9M302 130.5h.9M308.5 130.5h.9M315 130.5h.9M321.5 130.5h.9M328 130.5h.9M334.5 130.5h.9M341 130.5h.9M347.5 130.5h.9M354 130.5h.9M360.5 130.5h.9M367 130.5h.9M373.5 130.5h.9M380 130.5h.9M386.5 130.5h.9M393 130.5h.9M399.5 130.5h.9M406 130.5h.9M412.5 130.5h.9M419 130.5h.9M425.5 130.5h.9M432 130.5h.9M438.5 130.5h.9M445 130.5h.9M451.5 130.5h.9M458 130.5h.9M464.5 130.5h.9M471 130.5h.9M477.5 130.5h.9M484 130.5h.9M3 124h.9M9.5 124h.9M16 124h.9M22.5 124h.9M29 124h.9M35.5 124h.9M42 124h.9M48.5 124h.9M55 124h.9M61.5 124h.9M68 124h.9M74.5 124h.9M81 124h.9M87.5 124h.9M94 124h.9M100.5 124h.9M107 124h.9M113.5 124h.9M120 124h.9M126.5 124h.9M133 124h.9M139.5 124h.9M146 124h.9M152.5 124h.9M159 124h.9M165.5 124h.9M172 124h.9M178.5 124h.9M185 124h.9M191.5 124h.9M198 124h.9M204.5 124h.9M211 124h.9M217.5 124h.9M224 124h.9M230.5 124h.9M237 124h.9M243.5 124h.9M250 124h.9M256.5 124h.9M263 124h.9M269.5 124h.9M276 124h.9M282.5 124h.9M289 124h.9M295.5 124h.9M302 124h.9M308.5 124h.9M315 124h.9M321.5 124h.9M328 124h.9M334.5 124h.9M341 124h.9M347.5 124h.9M354 124h.9M360.5 124h.9M367 124h.9M373.5 124h.9M380 124h.9M386.5 124h.9M393 124h.9M399.5 124h.9M406 124h.9M412.5 124h.9M419 124h.9M425.5 124h.9M432 124h.9M438.5 124h.9M445 124h.9M451.5 124h.9M458 124h.9M464.5 124h.9M471 124h.9M477.5 124h.9M484 124h.9M3 117.5h.9M9.5 117.5h.9M16 117.5h.9M22.5 117.5h.9M29 117.5h.9M35.5 117.5h.9M42 117.5h.9M48.5 117.5h.9M55 117.5h.9M61.5 117.5h.9M68 117.5h.9M74.5 117.5h.9M81 117.5h.9M87.5 117.5h.9M94 117.5h.9M100.5 117.5h.9M107 117.5h.9M113.5 117.5h.9M120 117.5h.9M126.5 117.5h.9M133 117.5h.9M139.5 117.5h.9M146 117.5h.9M152.5 117.5h.9M159 117.5h.9M165.5 117.5h.9M172 117.5h.9M178.5 117.5h.9M185 117.5h.9M191.5 117.5h.9M198 117.5h.9M204.5 117.5h.9M211 117.5h.9M217.5 117.5h.9M224 117.5h.9M230.5 117.5h.9M237 117.5h.9M243.5 117.5h.9M250 117.5h.9M256.5 117.5h.9M263 117.5h.9M269.5 117.5h.9M276 117.5h.9M282.5 117.5h.9M289 117.5h.9M295.5 117.5h.9M302 117.5h.9M308.5 117.5h.9M315 117.5h.9M321.5 117.5h.9M328 117.5h.9M334.5 117.5h.9M341 117.5h.9M347.5 117.5h.9M354 117.5h.9M360.5 117.5h.9M367 117.5h.9M373.5 117.5h.9M380 117.5h.9M386.5 117.5h.9M393 117.5h.9M399.5 117.5h.9M406 117.5h.9M412.5 117.5h.9M419 117.5h.9M425.5 117.5h.9M432 117.5h.9M438.5 117.5h.9M445 117.5h.9M451.5 117.5h.9M458 117.5h.9M464.5 117.5h.9M471 117.5h.9M477.5 117.5h.9M484 117.5h.9M3 111h.9M9.5 111h.9M16 111h.9M22.5 111h.9M29 111h.9M35.5 111h.9M42 111h.9M48.5 111h.9M55 111h.9M61.5 111h.9M68 111h.9M74.5 111h.9M81 111h.9M87.5 111h.9M94 111h.9M100.5 111h.9M107 111h.9M113.5 111h.9M120 111h.9M126.5 111h.9M133 111h.9M139.5 111h.9M146 111h.9M152.5 111h.9M159 111h.9M165.5 111h.9M172 111h.9M178.5 111h.9M185 111h.9M191.5 111h.9M198 111h.9M204.5 111h.9M211 111h.9M217.5 111h.9M224 111h.9M230.5 111h.9M237 111h.9M243.5 111h.9M250 111h.9M256.5 111h.9M263 111h.9M269.5 111h.9M276 111h.9M282.5 111h.9M289 111h.9M295.5 111h.9M302 111h.9M308.5 111h.9M315 111h.9M321.5 111h.9M328 111h.9M334.5 111h.9M341 111h.9M347.5 111h.9M354 111h.9M360.5 111h.9M367 111h.9M373.5 111h.9M380 111h.9M386.5 111h.9M393 111h.9M399.5 111h.9M406 111h.9M412.5 111h.9M419 111h.9M425.5 111h.9M432 111h.9M438.5 111h.9M445 111h.9M451.5 111h.9M458 111h.9M464.5 111h.9M471 111h.9M477.5 111h.9M484 111h.9M3 104.5h.9M9.5 104.5h.9M16 104.5h.9M22.5 104.5h.9M29 104.5h.9M35.5 104.5h.9M42 104.5h.9M48.5 104.5h.9M55 104.5h.9M61.5 104.5h.9M68 104.5h.9M74.5 104.5h.9M81 104.5h.9M87.5 104.5h.9M94 104.5h.9M100.5 104.5h.9M107 104.5h.9M113.5 104.5h.9M120 104.5h.9M126.5 104.5h.9M133 104.5h.9M139.5 104.5h.9M146 104.5h.9M152.5 104.5h.9M159 104.5h.9M165.5 104.5h.9M172 104.5h.9M178.5 104.5h.9M185 104.5h.9M191.5 104.5h.9M198 104.5h.9M204.5 104.5h.9M211 104.5h.9M217.5 104.5h.9M224 104.5h.9M230.5 104.5h.9M237 104.5h.9M243.5 104.5h.9M250 104.5h.9M256.5 104.5h.9M263 104.5h.9M269.5 104.5h.9M276 104.5h.9M282.5 104.5h.9M289 104.5h.9M295.5 104.5h.9M302 104.5h.9M308.5 104.5h.9M315 104.5h.9M321.5 104.5h.9M328 104.5h.9M334.5 104.5h.9M341 104.5h.9M347.5 104.5h.9M354 104.5h.9M360.5 104.5h.9M367 104.5h.9M373.5 104.5h.9M380 104.5h.9M386.5 104.5h.9M393 104.5h.9M399.5 104.5h.9M406 104.5h.9M412.5 104.5h.9M419 104.5h.9M425.5 104.5h.9M432 104.5h.9M438.5 104.5h.9M445 104.5h.9M451.5 104.5h.9M458 104.5h.9M464.5 104.5h.9M471 104.5h.9M477.5 104.5h.9M484 104.5h.9M3 98h.9M9.5 98h.9M16 98h.9M22.5 98h.9M29 98h.9M35.5 98h.9M42 98h.9M48.5 98h.9M55 98h.9M61.5 98h.9M68 98h.9M74.5 98h.9M81 98h.9M87.5 98h.9M94 98h.9M100.5 98h.9M107 98h.9M113.5 98h.9M120 98h.9M126.5 98h.9M133 98h.9M139.5 98h.9M146 98h.9M152.5 98h.9M159 98h.9M165.5 98h.9M172 98h.9M178.5 98h.9M185 98h.9M191.5 98h.9M198 98h.9M204.5 98h.9M211 98h.9M217.5 98h.9M224 98h.9M230.5 98h.9M237 98h.9M243.5 98h.9M250 98h.9M256.5 98h.9M263 98h.9M269.5 98h.9M276 98h.9M282.5 98h.9M289 98h.9M295.5 98h.9M302 98h.9M308.5 98h.9M315 98h.9M321.5 98h.9M328 98h.9M334.5 98h.9M341 98h.9M347.5 98h.9M354 98h.9M360.5 98h.9M367 98h.9M373.5 98h.9M380 98h.9M386.5 98h.9M393 98h.9M399.5 98h.9M406 98h.9M412.5 98h.9M419 98h.9M425.5 98h.9M432 98h.9M438.5 98h.9M445 98h.9M451.5 98h.9M458 98h.9M464.5 98h.9M471 98h.9M477.5 98h.9M484 98h.9M3 91.5h.9M9.5 91.5h.9M16 91.5h.9M22.5 91.5h.9M29 91.5h.9M35.5 91.5h.9M42 91.5h.9M48.5 91.5h.9M55 91.5h.9M61.5 91.5h.9M68 91.5h.9M74.5 91.5h.9M81 91.5h.9M87.5 91.5h.9M94 91.5h.9M100.5 91.5h.9M107 91.5h.9M113.5 91.5h.9M120 91.5h.9M126.5 91.5h.9M133 91.5h.9M139.5 91.5h.9M146 91.5h.9M152.5 91.5h.9M159 91.5h.9M165.5 91.5h.9M172 91.5h.9M178.5 91.5h.9M185 91.5h.9M191.5 91.5h.9M198 91.5h.9M204.5 91.5h.9M211 91.5h.9M217.5 91.5h.9M224 91.5h.9M230.5 91.5h.9M237 91.5h.9M243.5 91.5h.9M250 91.5h.9M256.5 91.5h.9M263 91.5h.9M269.5 91.5h.9M276 91.5h.9M282.5 91.5h.9M289 91.5h.9M295.5 91.5h.9M302 91.5h.9M308.5 91.5h.9M315 91.5h.9M321.5 91.5h.9M328 91.5h.9M334.5 91.5h.9M341 91.5h.9M347.5 91.5h.9M354 91.5h.9M360.5 91.5h.9M367 91.5h.9M373.5 91.5h.9M380 91.5h.9M386.5 91.5h.9M393 91.5h.9M399.5 91.5h.9M406 91.5h.9M412.5 91.5h.9M419 91.5h.9M425.5 91.5h.9M432 91.5h.9M438.5 91.5h.9M445 91.5h.9M451.5 91.5h.9M458 91.5h.9M464.5 91.5h.9M471 91.5h.9M477.5 91.5h.9M484 91.5h.9M3 85h.9M9.5 85h.9M16 85h.9M22.5 85h.9M29 85h.9M35.5 85h.9M42 85h.9M48.5 85h.9M55 85h.9M61.5 85h.9M68 85h.9M74.5 85h.9M81 85h.9M87.5 85h.9M94 85h.9M100.5 85h.9M107 85h.9M113.5 85h.9M120 85h.9M126.5 85h.9M133 85h.9M139.5 85h.9M146 85h.9M152.5 85h.9M159 85h.9M165.5 85h.9M172 85h.9M178.5 85h.9M185 85h.9M191.5 85h.9M198 85h.9M204.5 85h.9M211 85h.9M217.5 85h.9M224 85h.9M230.5 85h.9M237 85h.9M243.5 85h.9M250 85h.9M256.5 85h.9M263 85h.9M269.5 85h.9M276 85h.9M282.5 85h.9M289 85h.9M295.5 85h.9M302 85h.9M308.5 85h.9M315 85h.9M321.5 85h.9M328 85h.9M334.5 85h.9M341 85h.9M347.5 85h.9M354 85h.9M360.5 85h.9M367 85h.9M373.5 85h.9M380 85h.9M386.5 85h.9M393 85h.9M399.5 85h.9M406 85h.9M412.5 85h.9M419 85h.9M425.5 85h.9M432 85h.9M438.5 85h.9M445 85h.9M451.5 85h.9M458 85h.9M464.5 85h.9M471 85h.9M477.5 85h.9M484 85h.9M3 78.5h.9M9.5 78.5h.9M16 78.5h.9M22.5 78.5h.9M29 78.5h.9M35.5 78.5h.9M42 78.5h.9M48.5 78.5h.9M55 78.5h.9M61.5 78.5h.9M68 78.5h.9M74.5 78.5h.9M81 78.5h.9M87.5 78.5h.9M94 78.5h.9M100.5 78.5h.9M107 78.5h.9M113.5 78.5h.9M120 78.5h.9M126.5 78.5h.9M133 78.5h.9M139.5 78.5h.9M146 78.5h.9M152.5 78.5h.9M159 78.5h.9M165.5 78.5h.9M172 78.5h.9M178.5 78.5h.9M185 78.5h.9M191.5 78.5h.9M198 78.5h.9M204.5 78.5h.9M211 78.5h.9M217.5 78.5h.9M224 78.5h.9M230.5 78.5h.9M237 78.5h.9M243.5 78.5h.9M250 78.5h.9M256.5 78.5h.9M263 78.5h.9M269.5 78.5h.9M276 78.5h.9M282.5 78.5h.9M289 78.5h.9M295.5 78.5h.9M302 78.5h.9M308.5 78.5h.9M315 78.5h.9M321.5 78.5h.9M328 78.5h.9M334.5 78.5h.9M341 78.5h.9M347.5 78.5h.9M354 78.5h.9M360.5 78.5h.9M367 78.5h.9M373.5 78.5h.9M380 78.5h.9M386.5 78.5h.9M393 78.5h.9M399.5 78.5h.9M406 78.5h.9M412.5 78.5h.9M419 78.5h.9M425.5 78.5h.9M432 78.5h.9M438.5 78.5h.9M445 78.5h.9M451.5 78.5h.9M458 78.5h.9M464.5 78.5h.9M471 78.5h.9M477.5 78.5h.9M484 78.5h.9M3 72h.9M9.5 72h.9M16 72h.9M22.5 72h.9M29 72h.9M35.5 72h.9M42 72h.9M48.5 72h.9M55 72h.9M61.5 72h.9M68 72h.9M74.5 72h.9M81 72h.9M87.5 72h.9M94 72h.9M100.5 72h.9M107 72h.9M113.5 72h.9M120 72h.9M126.5 72h.9M133 72h.9M139.5 72h.9M146 72h.9M152.5 72h.9M159 72h.9M165.5 72h.9M172 72h.9M178.5 72h.9M185 72h.9M191.5 72h.9M198 72h.9M204.5 72h.9M211 72h.9M217.5 72h.9M224 72h.9M230.5 72h.9M237 72h.9M243.5 72h.9M250 72h.9M256.5 72h.9M263 72h.9M269.5 72h.9M276 72h.9M282.5 72h.9M289 72h.9M295.5 72h.9M302 72h.9M308.5 72h.9M315 72h.9M321.5 72h.9M328 72h.9M334.5 72h.9M341 72h.9M347.5 72h.9M354 72h.9M360.5 72h.9M367 72h.9M373.5 72h.9M380 72h.9M386.5 72h.9M393 72h.9M399.5 72h.9M406 72h.9M412.5 72h.9M419 72h.9M425.5 72h.9M432 72h.9M438.5 72h.9M445 72h.9M451.5 72h.9M458 72h.9M464.5 72h.9M471 72h.9M477.5 72h.9M484 72h.9M3 65.5h.9M9.5 65.5h.9M16 65.5h.9M22.5 65.5h.9M29 65.5h.9M35.5 65.5h.9M42 65.5h.9M48.5 65.5h.9M55 65.5h.9M61.5 65.5h.9M68 65.5h.9M74.5 65.5h.9M81 65.5h.9M87.5 65.5h.9M94 65.5h.9M100.5 65.5h.9M107 65.5h.9M113.5 65.5h.9M120 65.5h.9M126.5 65.5h.9M133 65.5h.9M139.5 65.5h.9M146 65.5h.9M152.5 65.5h.9M159 65.5h.9M165.5 65.5h.9M172 65.5h.9M178.5 65.5h.9M185 65.5h.9M191.5 65.5h.9M198 65.5h.9M204.5 65.5h.9M211 65.5h.9M217.5 65.5h.9M224 65.5h.9M230.5 65.5h.9M237 65.5h.9M243.5 65.5h.9M250 65.5h.9M256.5 65.5h.9M263 65.5h.9M269.5 65.5h.9M276 65.5h.9M282.5 65.5h.9M289 65.5h.9M295.5 65.5h.9M302 65.5h.9M308.5 65.5h.9M315 65.5h.9M321.5 65.5h.9M328 65.5h.9M334.5 65.5h.9M341 65.5h.9M347.5 65.5h.9M354 65.5h.9M360.5 65.5h.9M367 65.5h.9M373.5 65.5h.9M380 65.5h.9M386.5 65.5h.9M393 65.5h.9M399.5 65.5h.9M406 65.5h.9M412.5 65.5h.9M419 65.5h.9M425.5 65.5h.9M432 65.5h.9M438.5 65.5h.9M445 65.5h.9M451.5 65.5h.9M458 65.5h.9M464.5 65.5h.9M471 65.5h.9M477.5 65.5h.9M484 65.5h.9M3 59h.9M9.5 59h.9M16 59h.9M22.5 59h.9M29 59h.9M35.5 59h.9M42 59h.9M48.5 59h.9M55 59h.9M61.5 59h.9M68 59h.9M74.5 59h.9M81 59h.9M87.5 59h.9M94 59h.9M100.5 59h.9M107 59h.9M113.5 59h.9M120 59h.9M126.5 59h.9M133 59h.9M139.5 59h.9M146 59h.9M152.5 59h.9M159 59h.9M165.5 59h.9M172 59h.9M178.5 59h.9M185 59h.9M191.5 59h.9M198 59h.9M204.5 59h.9M211 59h.9M217.5 59h.9M224 59h.9M230.5 59h.9M237 59h.9M243.5 59h.9M250 59h.9M256.5 59h.9M263 59h.9M269.5 59h.9M276 59h.9M282.5 59h.9M289 59h.9M295.5 59h.9M302 59h.9M308.5 59h.9M315 59h.9M321.5 59h.9M328 59h.9M334.5 59h.9M341 59h.9M347.5 59h.9M354 59h.9M360.5 59h.9M367 59h.9M373.5 59h.9M380 59h.9M386.5 59h.9M393 59h.9M399.5 59h.9M406 59h.9M412.5 59h.9M419 59h.9M425.5 59h.9M432 59h.9M438.5 59h.9M445 59h.9M451.5 59h.9M458 59h.9M464.5 59h.9M471 59h.9M477.5 59h.9M484 59h.9M3 52.5h.9M9.5 52.5h.9M16 52.5h.9M22.5 52.5h.9M29 52.5h.9M35.5 52.5h.9M42 52.5h.9M48.5 52.5h.9M55 52.5h.9M61.5 52.5h.9M68 52.5h.9M74.5 52.5h.9M81 52.5h.9M87.5 52.5h.9M94 52.5h.9M100.5 52.5h.9M107 52.5h.9M113.5 52.5h.9M120 52.5h.9M126.5 52.5h.9M133 52.5h.9M139.5 52.5h.9M146 52.5h.9M152.5 52.5h.9M159 52.5h.9M165.5 52.5h.9M172 52.5h.9M178.5 52.5h.9M185 52.5h.9M191.5 52.5h.9M198 52.5h.9M204.5 52.5h.9M211 52.5h.9M217.5 52.5h.9M224 52.5h.9M230.5 52.5h.9M237 52.5h.9M243.5 52.5h.9M250 52.5h.9M256.5 52.5h.9M263 52.5h.9M269.5 52.5h.9M276 52.5h.9M282.5 52.5h.9M289 52.5h.9M295.5 52.5h.9M302 52.5h.9M308.5 52.5h.9M315 52.5h.9M321.5 52.5h.9M328 52.5h.9M334.5 52.5h.9M341 52.5h.9M347.5 52.5h.9M354 52.5h.9M360.5 52.5h.9M367 52.5h.9M373.5 52.5h.9M380 52.5h.9M386.5 52.5h.9M393 52.5h.9M399.5 52.5h.9M406 52.5h.9M412.5 52.5h.9M419 52.5h.9M425.5 52.5h.9M432 52.5h.9M438.5 52.5h.9M445 52.5h.9M451.5 52.5h.9M458 52.5h.9M464.5 52.5h.9M471 52.5h.9M477.5 52.5h.9M484 52.5h.9M3 46h.9M9.5 46h.9M16 46h.9M22.5 46h.9M29 46h.9M35.5 46h.9M42 46h.9M48.5 46h.9M55 46h.9M61.5 46h.9M68 46h.9M74.5 46h.9M81 46h.9M87.5 46h.9M94 46h.9M100.5 46h.9M107 46h.9M113.5 46h.9M120 46h.9M126.5 46h.9M133 46h.9M139.5 46h.9M146 46h.9M152.5 46h.9M159 46h.9M165.5 46h.9M172 46h.9M178.5 46h.9M185 46h.9M191.5 46h.9M198 46h.9M204.5 46h.9M211 46h.9M217.5 46h.9M224 46h.9M230.5 46h.9M237 46h.9M243.5 46h.9M250 46h.9M256.5 46h.9M263 46h.9M269.5 46h.9M276 46h.9M282.5 46h.9M289 46h.9M295.5 46h.9M302 46h.9M308.5 46h.9M315 46h.9M321.5 46h.9M328 46h.9M334.5 46h.9M341 46h.9M347.5 46h.9M354 46h.9M360.5 46h.9M367 46h.9M373.5 46h.9M380 46h.9M386.5 46h.9M393 46h.9M399.5 46h.9M406 46h.9M412.5 46h.9M419 46h.9M425.5 46h.9M432 46h.9M438.5 46h.9M445 46h.9M451.5 46h.9M458 46h.9M464.5 46h.9M471 46h.9M477.5 46h.9M484 46h.9M3 39.5h.9M9.5 39.5h.9M16 39.5h.9M22.5 39.5h.9M29 39.5h.9M35.5 39.5h.9M42 39.5h.9M48.5 39.5h.9M55 39.5h.9M61.5 39.5h.9M68 39.5h.9M74.5 39.5h.9M81 39.5h.9M87.5 39.5h.9M94 39.5h.9M100.5 39.5h.9M107 39.5h.9M113.5 39.5h.9M120 39.5h.9M126.5 39.5h.9M133 39.5h.9M139.5 39.5h.9M146 39.5h.9M152.5 39.5h.9M159 39.5h.9M165.5 39.5h.9M172 39.5h.9M178.5 39.5h.9M185 39.5h.9M191.5 39.5h.9M198 39.5h.9M204.5 39.5h.9M211 39.5h.9M217.5 39.5h.9M224 39.5h.9M230.5 39.5h.9M237 39.5h.9M243.5 39.5h.9M250 39.5h.9M256.5 39.5h.9M263 39.5h.9M269.5 39.5h.9M276 39.5h.9M282.5 39.5h.9M289 39.5h.9M295.5 39.5h.9M302 39.5h.9M308.5 39.5h.9M315 39.5h.9M321.5 39.5h.9M328 39.5h.9M334.5 39.5h.9M341 39.5h.9M347.5 39.5h.9M354 39.5h.9M360.5 39.5h.9M367 39.5h.9M373.5 39.5h.9M380 39.5h.9M386.5 39.5h.9M393 39.5h.9M399.5 39.5h.9M406 39.5h.9M412.5 39.5h.9M419 39.5h.9M425.5 39.5h.9M432 39.5h.9M438.5 39.5h.9M445 39.5h.9M451.5 39.5h.9M458 39.5h.9M464.5 39.5h.9M471 39.5h.9M477.5 39.5h.9M484 39.5h.9M3 33h.9M9.5 33h.9M16 33h.9M22.5 33h.9M29 33h.9M35.5 33h.9M42 33h.9M48.5 33h.9M55 33h.9M61.5 33h.9M68 33h.9M74.5 33h.9M81 33h.9M87.5 33h.9M94 33h.9M100.5 33h.9M107 33h.9M113.5 33h.9M120 33h.9M126.5 33h.9M133 33h.9M139.5 33h.9M146 33h.9M152.5 33h.9M159 33h.9M165.5 33h.9M172 33h.9M178.5 33h.9M185 33h.9M191.5 33h.9M198 33h.9M204.5 33h.9M211 33h.9M217.5 33h.9M224 33h.9M230.5 33h.9M237 33h.9M243.5 33h.9M250 33h.9M256.5 33h.9M263 33h.9M269.5 33h.9M276 33h.9M282.5 33h.9M289 33h.9M295.5 33h.9M302 33h.9M308.5 33h.9M315 33h.9M321.5 33h.9M328 33h.9M334.5 33h.9M341 33h.9M347.5 33h.9M354 33h.9M360.5 33h.9M367 33h.9M373.5 33h.9M380 33h.9M386.5 33h.9M393 33h.9M399.5 33h.9M406 33h.9M412.5 33h.9M419 33h.9M425.5 33h.9M432 33h.9M438.5 33h.9M445 33h.9M451.5 33h.9M458 33h.9M464.5 33h.9M471 33h.9M477.5 33h.9M484 33h.9M3 26.5h.9M9.5 26.5h.9M16 26.5h.9M22.5 26.5h.9M29 26.5h.9M35.5 26.5h.9M42 26.5h.9M48.5 26.5h.9M55 26.5h.9M61.5 26.5h.9M68 26.5h.9M74.5 26.5h.9M81 26.5h.9M87.5 26.5h.9M94 26.5h.9M100.5 26.5h.9M107 26.5h.9M113.5 26.5h.9M120 26.5h.9M126.5 26.5h.9M133 26.5h.9M139.5 26.5h.9M146 26.5h.9M152.5 26.5h.9M159 26.5h.9M165.5 26.5h.9M172 26.5h.9M178.5 26.5h.9M185 26.5h.9M191.5 26.5h.9M198 26.5h.9M204.5 26.5h.9M211 26.5h.9M217.5 26.5h.9M224 26.5h.9M230.5 26.5h.9M237 26.5h.9M243.5 26.5h.9M250 26.5h.9M256.5 26.5h.9M263 26.5h.9M269.5 26.5h.9M276 26.5h.9M282.5 26.5h.9M289 26.5h.9M295.5 26.5h.9M302 26.5h.9M308.5 26.5h.9M315 26.5h.9M321.5 26.5h.9M328 26.5h.9M334.5 26.5h.9M341 26.5h.9M347.5 26.5h.9M354 26.5h.9M360.5 26.5h.9M367 26.5h.9M373.5 26.5h.9M380 26.5h.9M386.5 26.5h.9M393 26.5h.9M399.5 26.5h.9M406 26.5h.9M412.5 26.5h.9M419 26.5h.9M425.5 26.5h.9M432 26.5h.9M438.5 26.5h.9M445 26.5h.9M451.5 26.5h.9M458 26.5h.9M464.5 26.5h.9M471 26.5h.9M477.5 26.5h.9M484 26.5h.9M3 20h.9M9.5 20h.9M16 20h.9M22.5 20h.9M29 20h.9M35.5 20h.9M42 20h.9M48.5 20h.9M55 20h.9M61.5 20h.9M68 20h.9M74.5 20h.9M81 20h.9M87.5 20h.9M94 20h.9M100.5 20h.9M107 20h.9M113.5 20h.9M120 20h.9M126.5 20h.9M133 20h.9M139.5 20h.9M146 20h.9M152.5 20h.9M159 20h.9M165.5 20h.9M172 20h.9M178.5 20h.9M185 20h.9M191.5 20h.9M198 20h.9M204.5 20h.9M211 20h.9M217.5 20h.9M224 20h.9M230.5 20h.9M237 20h.9M243.5 20h.9M250 20h.9M256.5 20h.9M263 20h.9M269.5 20h.9M276 20h.9M282.5 20h.9M289 20h.9M295.5 20h.9M302 20h.9M308.5 20h.9M315 20h.9M321.5 20h.9M328 20h.9M334.5 20h.9M341 20h.9M347.5 20h.9M354 20h.9M360.5 20h.9M367 20h.9M373.5 20h.9M380 20h.9M386.5 20h.9M393 20h.9M399.5 20h.9M406 20h.9M412.5 20h.9M419 20h.9M425.5 20h.9M432 20h.9M438.5 20h.9M445 20h.9M451.5 20h.9M458 20h.9M464.5 20h.9M471 20h.9M477.5 20h.9M484 20h.9M3 13.5h.9M9.5 13.5h.9M16 13.5h.9M22.5 13.5h.9M29 13.5h.9M35.5 13.5h.9M42 13.5h.9M48.5 13.5h.9M55 13.5h.9M61.5 13.5h.9M68 13.5h.9M74.5 13.5h.9M81 13.5h.9M87.5 13.5h.9M94 13.5h.9M100.5 13.5h.9M107 13.5h.9M113.5 13.5h.9M120 13.5h.9M126.5 13.5h.9M133 13.5h.9M139.5 13.5h.9M146 13.5h.9M152.5 13.5h.9M159 13.5h.9M165.5 13.5h.9M172 13.5h.9M178.5 13.5h.9M185 13.5h.9M191.5 13.5h.9M198 13.5h.9M204.5 13.5h.9M211 13.5h.9M217.5 13.5h.9M224 13.5h.9M230.5 13.5h.9M237 13.5h.9M243.5 13.5h.9M250 13.5h.9M256.5 13.5h.9M263 13.5h.9M269.5 13.5h.9M276 13.5h.9M282.5 13.5h.9M289 13.5h.9M295.5 13.5h.9M302 13.5h.9M308.5 13.5h.9M315 13.5h.9M321.5 13.5h.9M328 13.5h.9M334.5 13.5h.9M341 13.5h.9M347.5 13.5h.9M354 13.5h.9M360.5 13.5h.9M367 13.5h.9M373.5 13.5h.9M380 13.5h.9M386.5 13.5h.9M393 13.5h.9M399.5 13.5h.9M406 13.5h.9M412.5 13.5h.9M419 13.5h.9M425.5 13.5h.9M432 13.5h.9M438.5 13.5h.9M445 13.5h.9M451.5 13.5h.9M458 13.5h.9M464.5 13.5h.9M471 13.5h.9M477.5 13.5h.9M484 13.5h.9M3 7h.9M9.5 7h.9M16 7h.9M22.5 7h.9M29 7h.9M35.5 7h.9M42 7h.9M48.5 7h.9M55 7h.9M61.5 7h.9M68 7h.9M74.5 7h.9M81 7h.9M87.5 7h.9M94 7h.9M100.5 7h.9M107 7h.9M113.5 7h.9M120 7h.9M126.5 7h.9M133 7h.9M139.5 7h.9M146 7h.9M152.5 7h.9M159 7h.9M165.5 7h.9M172 7h.9M178.5 7h.9M185 7h.9M191.5 7h.9M198 7h.9M204.5 7h.9M211 7h.9M217.5 7h.9M224 7h.9M230.5 7h.9M237 7h.9M243.5 7h.9M250 7h.9M256.5 7h.9M263 7h.9M269.5 7h.9M276 7h.9M282.5 7h.9M289 7h.9M295.5 7h.9M302 7h.9M308.5 7h.9M315 7h.9M321.5 7h.9M328 7h.9M334.5 7h.9M341 7h.9M347.5 7h.9M354 7h.9M360.5 7h.9M367 7h.9M373.5 7h.9M380 7h.9M386.5 7h.9M393 7h.9M399.5 7h.9M406 7h.9M412.5 7h.9M419 7h.9M425.5 7h.9M432 7h.9M438.5 7h.9M445 7h.9M451.5 7h.9M458 7h.9M464.5 7h.9M471 7h.9M477.5 7h.9M484 7h.9" class="q2"/>
<path d="M0 238 L488.7 238" stroke="#e23a20" stroke-width="2.2" fill="none"/>
<path d="M0 214.7 L6 212.2 L12 210.1 L18 209.1 L24 209.3 L30 210.7 L36 213 L42 215.5 L48 217.6 L54 218.8 L60 218.8 L66 217.6 L72 215.4 L78 212.9 L84 210.6 L90 209.3 L96 209.1 L102 210.2 L108 212.2 L114 214.7 L120 217.1 L126 218.6 L132 219 L138 218.1 L144 216.1 L150 213.6 L156 211.2 L162 209.6 L168 209 L174 209.7 L180 211.5 L186 214 L192 216.4 L198 218.3 L204 219 L210 218.5 L216 216.8 L222 214.4 L228 211.9 L234 210 L240 209 L246 209.4 L252 210.9 L258 213.2 L264 215.7 L270 217.8 L276 218.9 L282 218.8 L288 217.4 L294 215.2 L300 212.6 L306 210.5 L312 209.2 L318 209.1 L324 210.3 L330 212.5 L336 215 L342 217.3 L348 218.7 L354 218.9 L360 217.9 L366 215.9 L372 213.4 L378 211 L384 209.4 L390 209 L396 209.9 L402 211.8 L408 214.2 L414 216.6 L420 218.4 L426 219 L432 218.3 L438 216.6 L444 214.1 L450 211.7 L456 209.8 L462 209 L468 209.5 L474 211.1 L480 213.5 L486 216 L488.7 217" stroke="#4a4aa4" stroke-width="2.6" stroke-dasharray="9 12" fill="none"/>
<path d="M0 272 V0 H488.7" stroke="#6e1530" stroke-width="2" fill="none"/>
</g>
<path d="M155.5 967.7 V1262 L696 1312 L1535.8 1135.5 V1120" class="ax"/>
<path d="M155.5 980.2 l16.5 -2.4M155.5 1069.2 l16.5 -2.4M155.5 1158.6 l16.5 -2.4M155.5 1247.8 l16.5 -2.4M268.7 1272.5 v-14.5M450.3 1289.3 v-14.5M633.9 1306.3 v-14.5M792.5 1290.6 v-15.5M1040.3 1238.8 v-15.5M1288.4 1186.8 v-15.5" class="ax"/>
<path d="M385.2 1241 L327 1264.6 L250.6 1258.7 L385.2 1198.2 L327 1264.6 L327 1264.6M385.2 1198.2 L385.2 1241M458.5 1248 L400.3 1271.6 L323.9 1265.7 L458.5 1205.2 L400.3 1271.6 L400.3 1271.6M458.5 1205.2 L458.5 1248M531.8 1255.1 L473.6 1278.7 L397.2 1272.8 L531.8 1212.3 L473.6 1278.7 L473.6 1278.7M531.8 1212.3 L531.8 1255.1M605.1 1262.1 L546.9 1285.7 L470.5 1279.8 L605.1 1219.3 L546.9 1285.7 L546.9 1285.7M605.1 1219.3 L605.1 1262.1M678.4 1269.2 L620.2 1292.8 L543.8 1286.9 L678.4 1226.4 L620.2 1292.8 L620.2 1292.8M678.4 1226.4 L678.4 1269.2M751.7 1276.2 L693.5 1299.8 L617.1 1293.9 L751.7 1233.4 L693.5 1299.8 L693.5 1299.8M751.7 1233.4 L751.7 1276.2" class="mv"/>
<path d="M250.6 1258.7 L385.2 1241M323.9 1265.7 L458.5 1248M397.2 1272.8 L531.8 1255.1M470.5 1279.8 L605.1 1262.1M543.8 1286.9 L678.4 1269.2M617.1 1293.9 L751.7 1276.2" class="md"/>
<text x="117.6" y="998.5" font-size="50" text-anchor="middle">6</text>
<text x="117.6" y="1087.5" font-size="50" text-anchor="middle">4</text>
<text x="117.6" y="1176.9" font-size="50" text-anchor="middle">2</text>
<text x="117.6" y="1266.1" font-size="50" text-anchor="middle">0</text>
<text x="268" y="1336.5" font-size="50" text-anchor="middle">5</text>
<text x="452" y="1354.4" font-size="50" text-anchor="middle">0</text>
<text x="626" y="1373.5" font-size="50" text-anchor="middle">−5</text>
<text x="793.2" y="1361" font-size="50" text-anchor="middle">0</text>
<text x="1038.4" y="1315" font-size="50" text-anchor="middle">10</text>
<text x="1290.7" y="1258" font-size="50" text-anchor="middle">20</text>
<text x="1533" y="1202" font-size="50" text-anchor="middle">30</text>
<text x="1172.7" y="1357.4" font-size="50" font-style="italic" transform="rotate(-12 1172.7 1357.4)">x<tspan font-size="70" font-style="normal" dy="13" dx="-1">/</tspan><tspan dy="-13" dx="3">h</tspan><tspan font-size="34" font-style="normal" dy="9" dx="1">0</tspan></text>
<text x="376.5" y="1430" font-size="50" font-style="italic" transform="rotate(5 376.5 1430)">z<tspan font-size="70" font-style="normal" dy="13" dx="-1">/</tspan><tspan dy="-13" dx="3">h</tspan><tspan font-size="34" font-style="normal" dy="9" dx="1">0</tspan></text>
<text x="58.3" y="1155.8" font-size="50" font-style="italic" transform="rotate(-90 58.3 1155.8)">y<tspan font-size="70" font-style="normal" dy="13" dx="-1">/</tspan><tspan dy="-13" dx="3">h</tspan><tspan font-size="34" font-style="normal" dy="9" dx="1">0</tspan></text>
<rect x="262.6" y="920.2" width="16.8" height="162.2" fill="url(#cb)"/>
<path d="M263.1 920.2 V1082.4" stroke="#3c4a44" stroke-width="2" opacity=".8"/>
<text x="206.5" y="966.8" font-size="50" text-anchor="middle">20</text>
<text x="206.5" y="1063.7" font-size="50" text-anchor="middle">10</text>
<text x="250.5" y="907.5" font-size="50" text-anchor="start" font-style="italic">U</text>
<path d="M255 858 H294.7" stroke="#111" stroke-width="1.6"/>
<text x="313.6" y="872.5" font-size="38" text-anchor="middle">+</text>
<text y="1522.3" font-size="50"><tspan x="550.5" font-family='"Noto Serif CJK SC","Liberation Serif",serif' font-size="46">（</tspan><tspan x="608.7">b</tspan><tspan x="640" font-family='"Noto Serif CJK SC","Liberation Serif",serif' font-size="46">）</tspan><tspan x="688" textLength="119.8" lengthAdjust="spacingAndGlyphs" font-size="54">MVG</tspan><tspan x="814" dy="8" font-size="30">0</tspan><tspan x="844.5" dy="-7" font-family='"Noto Serif CJK SC","Liberation Serif",serif' font-size="50">阵列</tspan></text>
</g>
<g id="panel-c">
<polygon points="1047,1853.4 1051.3,1857.4 1539.5,1904.3 1538.7,1922.8 1059,2023.2 1047,2005.5" fill="#fefefe"/>
<path d="M392.5 2024.3 L1146.5 1866.5" class="dd"/>
<path d="M465.5 2031.4 L1219.8 1873.6" class="dd"/>
<path d="M538.6 2038.5 L1293.1 1880.6" class="dd"/>
<path d="M611.6 2045.6 L1366.5 1887.7" class="dd"/>
<path d="M684.7 2052.7 L1439.8 1894.7" class="dd"/>
<path d="M757.7 2059.8 L1513.1 1901.8" class="dd"/>
<path d="M1506 1900.8l-7.4 3M1392.7 1890.4l-15.9 5.4M1230.1 1876.5l-9.6 2.5M1310.2 1885.4l-10.9 2.5M1188.4 1870.3l-10.8 2.2M1108.1 1864.6l-14.7 4.4M1315.3 1885.7l-7.6 2.6M1251.8 1879.2l-8.2 2M1127.1 1865.8l-13.9 4.2M1233.6 1875.2l-8.5 3.3M1344.7 1887.8l-9.2 3.5M1285.9 1879.8l-4.8 1.3M1157.6 1871.2l-6.3 1.4M1396.5 1893.1l-20.2 7.5M1247.2 1879.9l-7.1 1.5M1188.1 1870.3l-11.4 4.5M1420.2 1895.1l-17.6 4.9M1184.1 1869.6l-18.1 6M1235.7 1874.7l-15.3 2.7M1055.8 1860.6l-10.6 4.3M1313 1886.4l-17.1 4.6M1253.6 1878.2l-27.8 5.1M1403.8 1891.5l-21.4 5.5M1529.6 1904.1l-24.6 5.2M1389.6 1890.5l-5.9 2.1M1310.9 1881.8l-9.8 3.7M1109.6 1863.7l-13.5 4.8M1366.3 1891.6l-6.2 1.9M1217.7 1873.6l-18.5 6.2M1355.6 1886.4l-14.8 5.8M1090.9 1863l-16 6.6M1251 1880.5l-14.1 3.1M1206.3 1872l-20.9 7.4M1319.1 1886.5l-24.9 4.3M1212.7 1874.4l-4.8 1.9M1375.4 1888.1l-11.5 3.7M1102.7 1864.8l-10.5 4.3M1412.5 1892.9l-9.5 1.7M1145.6 1867l-15.3 5.3M1137.2 1866l-9.9 4M1292.2 1880.6l-10.4 2M1342.2 1889l-12.9 4.8M1382.5 1892.9l-10 3.7M1531.7 1905.9l-18 7.5M1201.2 1873.8l-4.7 1.6M1508.3 1901.3l-5 1M1504.5 1900.5l-8.1 2.2M1226.2 1876.5l-10 3.2M1326.2 1883.3l-13.6 4.8M1407.2 1895.2l-13.3 2.4M1139.8 1866.1l-7.4 2.9M1340.1 1886.6l-9.8 2.5M1307.1 1884.2l-4.2 1.6M1369 1890.4l-18.9 5.6M1358.5 1888.9l-14.3 3.9M1252.6 1879.7l-14.9 5.4M1178.9 1869l-11.5 4.1M1395.3 1893.4l-13.7 3.3M1199.4 1872.7l-9.2 2.8M1165.9 1871.3l-16.6 5.2M1537.8 1903.6l-13.8 2.8M1367.6 1888.3l-12.2 4.3M1090.1 1862.1l-12.9 5.2M1148.2 1870.6l-16.5 3.6M1359.1 1886.4l-9.9 3.8M1471.3 1901.2l-4.9 1.1M1290 1882.2l-19.9 4.5M1120.6 1867l-22.7 8.2M1054.2 1857.7l-16.1 5.3M1525.4 1906.5l-12.6 3.3M1326.7 1884.6l-22.6 7.9M1528.5 1902.6l-13.6 3.4M1403.9 1892.4l-26.9 10.2M1306 1883.6l-10.9 2.4M1441.2 1896l-9.9 3.4M1159 1868.8l-13.2 5M1222.1 1873.5l-15.1 3.6M1529 1906.5l-9.7 3.2M1301.8 1880.7l-8 2.4M1444.3 1894.7l-13.2 3.9M1125.8 1864.8l-7.6 2.2M1399.1 1893.5l-6.4 2.4M1292.2 1884.2l-7.8 1.7M1194 1874.7l-13.7 4.3M1366.9 1887l-23.6 9.1M1423.9 1895l-6 2.1M1532.5 1906.5l-17.8 4.2M1118.7 1863.5l-11.2 3.2M1220.3 1873.6l-9.5 1.6M1152.5 1867.7l-31.7 12M1418.2 1895l-15.8 4.1M1063.3 1860.6l-27.8 11.4M1330.5 1887.8l-6.5 1.1M1264.3 1878.6l-9.5 2.4M1101.7 1862l-20.4 6.5M1245.1 1878.1l-8.7 1.9M1210.2 1873.9l-7.4 1.3M1141.5 1865.8l-5.1 1.8M1206.7 1873.2l-18.7 5.8M1070.6 1861.7l-13.5 4.7M1440.6 1897.9l-10.4 3.1M1106.1 1864.3l-4.1 1.5M1477.5 1900.5l-6.7 2.3M1378 1891.5l-11 2.7M1512.8 1903.7l-5.4 1.4M1393.1 1892.5l-17.3 2.9M1259.4 1878.8l-13.7 2.9M1202.4 1871.8l-10.3 3.1M1393.9 1892.8l-6.6 2.6M1139.8 1867l-12.8 3.8M1054.5 1857l-16 4.1M1127.1 1866.8l-14 3.1M1459 1900.3l-13.6 4.2M1279.1 1883.1l-21 6.2M1377.7 1889.7l-10.5 3M1345.8 1884.7l-9.5 1.8M1524.9 1906.5l-20.5 6.2M1386.5 1890.8l-17.5 3.8M1172.7 1872.3l-20.5 5.2M1095.8 1863.7l-7.3 3M1076.2 1859.2l-13.3 3.8M1166.2 1867.4l-10.2 2.1M1231.9 1875.5l-20.1 8.1M1420.9 1896.6l-8.3 2.9M1100.8 1865l-4 0.8M1205.2 1872.1l-18.6 6.3M1121.6 1867.7l-10.6 2.8M1502.1 1902l-14.3 2.3M1335.8 1888.6l-24.1 6.6M1520.1 1905.5l-28.4 6.7M1489.7 1898.8l-31.8 10.6" class="sk"/><path d="M1442.7 1898.3l-20.3 3.9M1500.8 1904.5l-9.7 3.3M1491.1 1902.7l-25.1 4.9M1284.5 1881.7l-19.3 3.3M1100 1863.7l-10.4 3.3M1247.7 1875.5l-15 2.7M1309.7 1883.8l-11.9 3.7M1308.4 1881.7l-5.4 0.9M1127.4 1866.3l-11.1 1.8M1457.6 1899l-14.7 4M1254.7 1877.8l-15.2 2.9M1317.3 1885.8l-25 8.6M1071.7 1861.3l-10.4 2.6M1411.6 1893.4l-13 4.6M1324.3 1883l-10.4 3.6M1120.7 1864.4l-26.6 11.1M1441.9 1894l-9.1 2.6M1067.8 1861.4l-18.8 3.3M1215.3 1875.5l-12.4 4" class="sb"/>
<g transform="matrix(1 0.09607 0 1 1051.3 1586.4)">
<rect width="488.2" height="271" fill="url(#tc2)"/>
<rect width="488.2" height="271" fill="url(#gc2)"/>
<path d="M3 269h.9M9.5 269h.9M16 269h.9M22.5 269h.9M29 269h.9M35.5 269h.9M42.1 268.4l-0.3 1.2M48.5 269h.9M54.6 269l0.9 -0.1M61.5 269h.9M68 269h.9M74 269.1l1 -0.3M81 269h.9M87.5 269h.9M94 269h.9M100.5 269h.9M106.8 269.5l0.4 -1.1M113.5 269h.9M120 269h.9M126.5 269h.9M133 269h.9M139.2 269.2l0.7 -0.5M146 269h.9M152.5 269h.9M159 269h.9M165.5 269h.9M172 269h.9M178.5 269h.9M185 269h.9M191.5 269h.9M198 269h.9M204.5 269h.9M210.9 268.6l0.2 0.8M217.5 269h.9M224 269h.9M230.5 269h.9M237 269h.9M243 269.4l1 -0.8M250 269h.9M256.5 269h.9M263 269h.9M269.5 269h.9M276 269h.9M282.5 269h.9M289 269h.9M295.5 269h.9M302 269h.9M308.5 269h.9M315 269h.9M321.5 269h.9M327.9 269.4l0.2 -0.8M334.5 269h.9M341 269h.9M347.5 269h.9M353.6 269.2l0.8 -0.5M360.5 269h.9M367 269h.9M373.4 269.4l0.1 -0.7M379.7 268.8l0.5 0.5M386.1 268.5l0.7 1M393 269h.9M399.5 269h.9M406 269h.9M412.5 268.6l0.1 0.7M418.6 269l0.8 0M425.1 269.2l0.7 -0.3M432 269h.9M438.5 269h.9M445 269h.9M451.5 269h.9M458.3 268.7l-0.5 0.6M464.1 268.8l0.9 0.3M471 269h.9M477.5 268.5l0.1 1M484 269h.9M3 262.5h.9M9.1 262.7l0.8 -0.5M15.9 262.8l0.2 -0.7M22.5 262.5h.9M29 262.5h.9M35.9 262.6l-0.8 -0.3M42 262.5h.9M48.5 262.5h.9M55 262.5h.9M61.4 263.1l0.1 -1.2M68 262.5h.9M74.2 262.7l0.6 -0.4M80.8 262.2l0.3 0.7M86.8 262.7l1.3 -0.3M94 262.5h.9M100.1 262.6l0.8 -0.2M107 262.5h.9M113.5 262.5h.9M119.9 262.2l0.2 0.7M126.5 262.5h.9M133 262.5h.9M138.9 262.7l1.1 -0.5M146 262.5h.9M152.5 262.5h.9M159 262.5h.9M165.5 262.5h.9M172 262.5h.9M178.5 262.5h.9M184.6 262.1l0.8 0.7M191.5 262.5h.9M198 262.5h.9M204.5 262.5h.9M211 262.5h.9M216.9 262.4l1.1 0.2M224 262.5h.9M230.4 262.2l0.3 0.7M237 262.5h.9M243.5 262.5h.9M250 262.5h.9M256.1 262.1l0.8 0.8M262.7 263l0.7 -1M269.5 262.5h.9M276 262.5h.9M282 262.7l0.9 -0.4M289 262.5h.9M295.5 262.5h.9M302 262.5h.9M308.4 262.9l0.3 -0.8M315 262.5h.9M321.5 262.5h.9M328 262.5h.9M334.2 262.7l0.7 -0.5M341 262.5h.9M347.5 262.5h.9M354 262.5h.9M360.5 262.5h.9M366.6 263.1l0.7 -1.2M373.5 262.5h.9M379.6 262.3l0.7 0.4M386.5 262.5h.9M393 262.5h.9M399.5 262.5h.9M406 262.5h.9M412.5 262.5h.9M419 262.5h.9M425.5 262.5h.9M432 262.5h.9M438.5 262.5h.9M444.6 262.3l0.8 0.4M451.5 262.5h.9M457.5 262.7l0.9 -0.4M464.5 262.5h.9M470.7 261.9l0.6 1.2M477.5 262.5h.9M484 262.5h.9M3 256h.9M9.5 256h.9M16 256h.9M22.5 256h.9M29 256h.9M35.5 256h.9M41.4 256.3l1.2 -0.6M48.9 256.1l-0.8 -0.3M54.7 255.7l0.5 0.6M61.5 256h.9M68 256h.9M74.1 255.7l0.8 0.6M81.2 256.5l-0.3 -1.1M87.5 256h.9M94 256h.9M100.5 256h.9M107 256h.9M113 256.2l0.9 -0.4M120 256h.9M126.2 256.4l0.6 -0.8M133 256h.9M139.5 256h.9M146 256h.9M152.5 256h.9M159 256h.9M165.5 256.4l0 -0.9M172 256h.9M178.5 256h.9M185 256h.9M191.3 256.3l0.3 -0.7M197.6 256.2l0.8 -0.3M204.1 255.8l0.8 0.3M211 256h.9M217.5 256.4l-0.1 -0.8M223.4 256.1l1.2 -0.2M230.5 256h.9M236.6 256.4l0.7 -0.7M243.5 256h.9M250 256h.9M256.5 256h.9M263 256h.9M269.5 256h.9M276 256h.9M282.5 256h.9M289 256h.9M295.5 256h.9M302.1 256.4l-0.2 -0.9M308.5 256h.9M315 256h.9M321.1 255.8l0.8 0.3M328 256h.9M334.5 256h.9M341.4 255.9l-0.9 0.1M347.5 256h.9M354 256h.9M360.5 256h.9M367 256h.9M373.5 256h.9M380 256h.9M386.5 256h.9M393 256h.9M399.3 256.6l0.4 -1.1M405.6 255.9l0.8 0.2M412.2 256.5l0.7 -0.9M419 256h.9M425.5 256h.9M432 256h.9M438.1 256.1l0.8 -0.3M445 256h.9M451.1 256l0.7 0M457.4 255.8l1.2 0.3M464.5 256h.9M471 256h.9M477.1 256.2l0.8 -0.3M483.4 256l1.2 -0.1M3 249.5h.9M9.5 249.5h.9M16 249.5h.9M22.1 249.1l0.8 0.8M28.6 249.7l0.9 -0.4M35.5 249.5h.9M42 249.5h.9M48.5 249.5h.9M54.7 249.2l0.5 0.5M61.5 249.5h.9M68 249.5h.9M74.5 249.5h.9M81 249.5h.9M87.5 249.5h.9M94 249.5h.9M100.8 249.8l-0.5 -0.7M106.6 249.6l0.9 -0.1M113.5 249.5h.9M120 249.5h.9M126.5 249.5h.9M133 249.5h.9M139.3 249.8l0.4 -0.6M146 249.5h.9M152.5 249.5h.9M158.6 249.6l0.7 -0.1M165.5 249.5h.9M172 249.5h.9M178.5 249.5h.9M185 249.5h.9M191 249.3l1 0.3M198 249.5h.9M204.5 249.5h.9M211 249.5h.9M217.5 249.5h.9M223.7 249.6l0.7 -0.2M230.5 249.5h.9M237 249.5h.9M243.5 249.5h.9M250 249.5h.9M256.1 249.7l0.8 -0.4M263 249.5h.9M269.1 249.5l0.8 -0.1M276 249.5h.9M282.2 249.2l0.6 0.5M288.4 249.3l1.2 0.3M295.5 249.5h.9M301.4 249.5l1.3 0M308.5 249.5h.9M315 249.5h.9M321.1 249.5l0.7 0.1M327.9 249.1l0.1 0.8M334.2 249.7l0.7 -0.5M341 249.5h.9M347.5 249.5h.9M354 249.5h.9M360.5 249.5h.9M367 249.5h.9M373.1 249.3l0.8 0.4M380 249.5h.9M386.5 249.5h.9M393 249.5h.9M399.5 249.5h.9M405.6 249.5l0.8 0.1M412.2 249.6l0.7 -0.3M419 249.5h.9M425.5 249.5h.9M432 249.5h.9M438.5 249.5h.9M445 249.5h.9M450.8 249.3l1.5 0.3M458 249.5h.9M464.5 249.5h.9M471 249.5h.9M477.5 249.5h.9M484 249.5h.9M3 243h.9M9.5 243h.9M16 243h.9M22.5 243h.9M28.8 243.3l0.5 -0.6M35.5 243h.9M42 243h.9M48.5 243h.9M55 243h.9M61.5 243h.9M67.5 242.7l1 0.6M74.5 243h.9M81 243h.9M87.2 242.6l0.6 0.8M94 243h.9M100.5 243h.9M106.5 242.6l0.9 0.8M113 242.7l1 0.6M120 243h.9M126 243.2l1 -0.4M132.4 243.1l1.2 -0.2M139.5 243h.9M146 243h.9M152.1 243.4l0.8 -0.8M159 243h.9M165.5 243h.9M172 243h.9M178.5 243h.9M185 243h.9M191 243l1 0.1M197.6 243.3l0.8 -0.5M204.5 243h.9M210.6 243.4l0.8 -0.7M217.5 243h.9M224 243h.9M230.5 243h.9M236.9 242.6l0.3 0.8M243.6 242.6l-0.3 0.7M250 243h.9M256.5 243h.9M263 243h.9M269 243.3l0.9 -0.7M275.6 242.8l0.7 0.4M282 242.8l0.9 0.3M289 243h.9M295 243.1l1 -0.2M302 243h.9M308.5 243h.9M315 243h.9M321.5 243h.9M328 243h.9M334.5 243h.9M341 243h.9M347.5 243h.9M354 243h.9M360.5 243h.9M366.4 242.7l1.2 0.6M373.5 243h.9M379.4 242.9l1.2 0.3M386.5 243h.9M393 243h.9M399.5 243h.9M406 243h.9M412.5 243h.9M418.6 243l0.9 0.1M425.5 243h.9M432 243h.9M438.5 243h.9M445 243h.9M451.5 243h.9M458 243h.9M464.5 243h.9M471 243h.9M477.5 243h.9M484 243h.9M3 236.5h.9M9.5 236.5h.9M15.9 236.9l0.2 -0.8M21.9 236.4l1.2 0.2M29 236.5h.9M35.3 236.2l0.4 0.6M42 236.5h.9M48 236.7l0.9 -0.5M55 236.5h.9M61.5 236.5h.9M68 236.5h.9M74.2 236.2l0.6 0.6M81 236.5h.9M87.5 236.5h.9M93.7 236.8l0.6 -0.5M100 236.8l1 -0.6M107 236.5h.9M113.5 236.5h.9M120 236.5h.9M126.5 236.5h.9M133 236.5h.9M139.5 236.5h.9M146 236.5h.9M152.4 236.8l0.3 -0.7M158.6 236.4l0.7 0.2M165.5 236.5h.9M172 236.5h.9M178.3 236.9l0.4 -0.7M185 236.5h.9M191.5 236.5h.9M198 236.5h.9M204.5 236.5h.9M210.9 236.9l0.2 -0.9M217.5 236.5h.9M223.9 236.9l0.3 -0.7M230.1 236.5l0.8 0M237 236.5h.9M243.1 236.6l0.7 -0.2M249.2 236.4l1.6 0.2M256.5 236.5h.9M262.6 236.6l0.9 -0.1M268.9 236.5l1.1 0M275.6 236.6l0.8 -0.1M282.5 236.5h.9M288.1 236.6l1.7 -0.3M295.5 236.5h.9M302 236.5h.9M308.5 236.5h.9M315 236.5h.9M321.5 236.5h.9M328.2 237l-0.5 -0.9M334.1 236.5l0.8 0M341 236.5h.9M347.1 236.6l0.8 -0.2M353.5 236.9l0.9 -0.8M360.2 236.8l0.6 -0.5M367 236.5h.9M373.5 236.5h.9M380 236.5h.9M386.5 236.5h.9M393 236.5h.9M399.1 236.8l0.8 -0.6M406 236.5h.9M412 236.4l1 0.2M419 236.5h.9M425.5 236.5h.9M431.6 236.7l0.7 -0.3M438.5 236.5h.9M445 236.5h.9M451.5 236.5h.9M458 236.5h.9M464.5 236.5h.9M470.6 236.3l0.7 0.3M477.5 236.5h.9M484 236.5h.9M2.7 230.3l0.6 -0.6M9 230.5l1 -1.1M15.5 230.2l1 -0.5M22.1 230.3l0.8 -0.6M28.4 230.1l1.2 -0.2M35.2 229.9l0.7 0.2M42 230h.9M48.5 230h.9M54.7 229.6l0.6 0.9M60.9 229.9l1.2 0.3M67.4 230.3l1.2 -0.6M73.7 229.9l1.6 0.2M80.6 230.3l0.8 -0.5M87.2 230.4l0.5 -0.8M94 230h.9M99.9 230.3l1.2 -0.6M107 230h.9M113.5 230h.9M120 230h.9M126.5 230h.9M132.5 230.2l1 -0.4M139.5 230h.9M146 230h.9M152.2 229.8l0.6 0.5M158.6 229.8l0.7 0.4M165.5 230h.9M171.7 230.3l0.7 -0.7M178.1 230.2l0.9 -0.4M184.6 229.9l0.7 0.1M191 230.1l0.9 -0.3M198 230h.9M204.3 229.7l0.4 0.7M210.4 229.9l1.2 0.2M216.9 230.6l1.2 -1.1M223.6 230.1l0.7 -0.1M230.5 230h.9M236.4 230.2l1.1 -0.4M243.1 230.2l0.9 -0.4M249.4 230.1l1.2 -0.2M255.8 230l1.4 -0.1M262.7 230.2l0.6 -0.4M269.1 230.3l0.8 -0.6M276 230h.9M282.5 230h.9M288.4 230.1l1.2 -0.3M295.4 230.5l0.1 -0.9M301.7 229.9l0.7 0.1M308 229.9l0.9 0.1M314.7 230.4l0.5 -0.7M321.5 230h.9M328 230h.9M334.5 230h.9M340.6 229.9l0.7 0.1M347.5 230h.9M353.2 230.3l1.6 -0.6M360.5 230h.9M367 230h.9M372.6 229.7l1.7 0.7M380 230h.9M385.8 229.9l1.4 0.1M392.5 229.7l0.9 0.7M399.1 230.3l0.7 -0.5M405.5 230.2l0.9 -0.5M411.8 229.9l1.4 0.2M419 230h.9M425.5 230h.9M432 230h.9M438.5 230h.9M445 230h.9M451.5 230h.9M458 230h.9M463.9 230l1.3 0.1M471 230h.9M477.5 230h.9M483.4 229.9l1.3 0.3M2.3 223.7l1.4 -0.3M8.7 223.5l1.5 0M15.7 224.2l0.6 -1.3M21.5 223.8l1.9 -0.6M28.5 223.7l1 -0.4M34.8 223.3l1.4 0.4M41.3 223.8l1.5 -0.6M47.8 224l1.3 -1M54.6 223.8l0.9 -0.5M60.7 223.7l1.7 -0.4M67.1 223.9l1.8 -0.8M74 223.4l1 0.1M80.2 223.8l1.5 -0.6M86.7 224.1l1.5 -1.1M93.2 223.8l1.6 -0.6M99.6 224.2l1.8 -1.4M106.8 224.2l0.4 -1.5M112.8 223.8l1.3 -0.6M119.3 224l1.4 -1M125.9 223.8l1.1 -0.7M132.6 223.6l0.7 -0.2M139.2 223.8l0.7 -0.6M145.3 223.9l1.5 -0.9M152 224l1 -1M158.4 223.7l1.2 -0.3M164.7 223.5l1.7 0M171.2 223.8l1.7 -0.6M177.7 223.8l1.5 -0.6M184.1 223.8l1.7 -0.7M190.3 223.6l2.3 -0.2M196.9 223.7l2.1 -0.4M203.7 224.2l1.6 -1.4M210.3 224.3l1.5 -1.5M216.7 223.9l1.6 -0.7M223 223.9l2 -0.7M229.6 223.6l1.8 -0.2M236 224l2.1 -0.9M242.7 223.8l1.6 -0.5M249.5 223.9l1.1 -0.8M256.1 223.7l0.8 -0.5M262.4 223.4l1.1 0.2M268.8 223.5l1.3 0M275.5 223.8l1 -0.5M281.8 223.7l1.4 -0.5M288.2 223.5l1.5 -0.1M294.8 224.1l1.4 -1.3M301.1 224.1l1.9 -1.2M307.7 223.6l1.5 -0.1M314.3 223.8l1.4 -0.7M320.8 223.7l1.4 -0.3M327.1 223.7l1.8 -0.4M333.6 223.7l1.9 -0.3M340.1 223.7l1.8 -0.4M346.7 223.7l1.5 -0.3M352.9 223.5l2.1 -0.1M360 223.5l1 0.1M366.5 223.8l1.1 -0.6M372.6 223.6l1.8 -0.3M378.9 223.8l2.3 -0.6M385.9 223.7l1.1 -0.4M392.4 223.9l1.3 -0.9M398.9 223.5l1.1 -0.1M405.1 224.1l1.7 -1.2M411.7 223.8l1.7 -0.7M418.3 223.8l1.5 -0.5M424.9 223.7l1.2 -0.4M431 223.6l2 -0.2M437.6 223.6l1.9 -0.2M444 223.7l2 -0.5M451.2 224l0.5 -0.9M457.2 224l1.5 -1M463.9 223.7l1.2 -0.4M470.2 223.9l1.6 -0.9M476.6 223.7l1.9 -0.5M483.1 223.9l1.9 -0.8M1.6 217.6l2.8 -1.1M8 217.3l3 -0.6M15 217.6l2 -1.2M21.4 217.4l2.3 -0.7M27.6 217.7l2.7 -1.4M34.1 217l2.9 0M40.6 217.3l2.8 -0.5M47.2 217.2l2.6 -0.4M53.4 217.7l3.1 -1.3M60.2 217.6l2.5 -1.1M66.9 217.3l2.3 -0.5M73.4 217.7l2.1 -1.3M80.3 217.5l1.4 -0.9M86.6 217.5l1.8 -1M93 217.4l2.1 -0.9M99.7 217.2l1.7 -0.3M106.3 217.7l1.5 -1.4M112.2 217.9l2.5 -1.9M119.3 217.6l1.5 -1.1M125.5 217.6l2.1 -1.2M132.1 217.5l1.8 -1.1M138.2 217.3l2.6 -0.6M144.9 217.2l2.1 -0.4M151.5 216.9l2 0.2M157.6 217l2.8 -0.1M164.5 217.1l2.1 -0.3M170.6 217.4l2.8 -0.7M177 217.4l3 -0.9M183.5 217.5l2.9 -1M190.2 217.6l2.6 -1.3M196.5 217.4l2.9 -0.8M203.1 217.9l2.8 -1.8M209.7 217.5l2.5 -0.9M216.3 218.1l2.4 -2.2M223 217.7l2.1 -1.3M229.2 217.6l2.6 -1.2M236 217.5l2 -0.9M242.3 217.5l2.4 -1M249.1 217.5l1.9 -1.1M255.7 217.7l1.6 -1.4M261.7 217.3l2.5 -0.6M268.6 216.9l1.8 0.2M274.8 216.9l2.3 0.2M281.4 217.1l2.1 -0.2M288.1 217.4l1.9 -0.8M294.4 217.8l2.2 -1.6M300.9 217.9l2.2 -1.7M307.1 217.5l2.8 -0.9M313.5 217.9l3 -1.8M320.3 217.5l2.4 -1M326.5 217.6l3 -1.2M333.5 217.3l2 -0.7M339.8 217.4l2.3 -0.8M346.3 217.2l2.3 -0.4M352.6 217.7l2.7 -1.4M359.2 217.3l2.5 -0.6M365.8 217.4l2.3 -0.9M371.8 216.7l3.3 0.6M379.2 217.4l1.6 -0.8M385.5 217.1l1.9 -0.2M391.6 217.2l2.8 -0.4M398.5 217.3l2.1 -0.6M405.1 217.6l1.7 -1.2M411.7 217.6l1.6 -1.3M418 217.2l2 -0.4M424.8 218l1.3 -2.1M430.9 217.5l2.1 -1M437.4 217.3l2.2 -0.5M444 217.3l2 -0.6M449.7 217.5l3.5 -0.9M457 217.5l2.1 -1.1M463 217.1l2.9 -0.1M469.5 217.3l2.9 -0.5M476.1 217.5l2.7 -1M482.8 217.1l2.5 -0.3M1.5 211.5l2.9 -1.9M7.8 211.3l3.4 -1.6M14.2 211.2l3.6 -1.5M20.9 211.1l3.3 -1.3M27.2 210.8l3.7 -0.7M34.2 211.4l2.7 -1.8M40.1 210.8l3.8 -0.6M47.2 210.6l2.6 -0.3M53.5 210.9l2.9 -0.8M59.7 211l3.6 -1M66.7 210.9l2.5 -0.8M73.4 210.8l2.2 -0.7M79.5 210.6l3.1 -0.2M86.1 211l2.8 -1M92.4 211.1l3.2 -1.2M99 211.3l3 -1.7M105.8 211.1l2.5 -1.1M112.1 210.9l2.7 -0.8M118.5 211l3.1 -1.1M125.3 211.1l2.3 -1.2M131.5 211.1l3.1 -1.3M138.2 210.7l2.6 -0.3M144.3 210.8l3.3 -0.6M151.2 211l2.6 -0.9M157.2 211.3l3.7 -1.6M163.8 210.8l3.4 -0.5M169.8 210.9l4.3 -0.9M176.9 211.1l3.2 -1.3M183 211.3l4 -1.6M190 211.3l3 -1.6M196.3 211.3l3.4 -1.7M202.9 211.3l3.3 -1.5M209.2 211.4l3.6 -1.9M216.2 211.3l2.7 -1.6M223.1 211.2l1.9 -1.4M229.4 211.1l2.3 -1.2M235.7 210.9l2.5 -0.9M242.3 211l2.4 -1M248.9 210.8l2.2 -0.7M255.3 210.9l2.3 -0.8M261.6 210.7l2.7 -0.5M267.9 211l3.3 -1M275 210.8l2 -0.7M281.2 211l2.7 -1M288 211l1.9 -1M293.6 211.1l3.7 -1.1M300.1 210.8l3.7 -0.7M306.2 211.3l4.6 -1.5M313.2 211.1l3.6 -1.3M319.8 211.3l3.4 -1.5M326.3 211.1l3.4 -1.3M332.5 211.2l4 -1.3M339.4 211l3.3 -1M345.8 210.7l3.3 -0.4M352.2 210.9l3.7 -0.8M359.3 211.2l2.4 -1.4M365.8 210.8l2.5 -0.7M372.2 210.7l2.5 -0.5M378.3 210.8l3.5 -0.7M385.5 211.1l2 -1.2M391.3 210.9l3.3 -0.8M397.9 211.1l3.2 -1.1M404.6 210.9l2.8 -0.9M410.9 211.3l3.3 -1.6M417.4 211.5l3.3 -2M423.9 210.9l3.3 -0.8M430.4 211.1l3.3 -1.3M436.7 211.4l3.7 -1.7M443.6 211.5l2.7 -1.9M449.7 211.3l3.7 -1.5M456.1 211.1l3.9 -1.3M462.8 211.1l3.4 -1.1M469.3 210.7l3.4 -0.4M475.5 211l4.1 -1M482.7 210.5l2.5 -0.1M0.9 204.8l4.2 -1.7M7.5 204.7l4.1 -1.3M14 205.2l4 -2.4M20.4 204.7l4.1 -1.5M27 204.4l3.9 -0.7M33.4 204.9l4.2 -1.8M40.2 204.6l3.6 -1.1M46.9 204.7l3.3 -1.4M53.3 204.5l3.4 -1M60.2 204.4l2.6 -0.8M66.6 204.3l2.8 -0.7M73.1 204.7l2.8 -1.5M79.6 204.4l2.9 -0.8M86 204.8l2.9 -1.5M92.5 204.8l3.1 -1.7M99.2 205.1l2.6 -2.2M105.4 204.9l3.2 -1.7M111.2 205l4.6 -2M118 204.8l4 -1.7M124.6 205.1l3.9 -2.1M131.2 204.5l3.6 -1.1M137.4 204.7l4.3 -1.4M144.2 204.4l3.7 -0.8M150.8 204.3l3.4 -0.6M157.1 204.6l3.8 -1.1M163.6 204.9l3.7 -1.9M170.4 204.2l3.3 -0.4M176.8 204.6l3.3 -1.2M183 204.7l3.9 -1.4M189.5 204.7l4 -1.4M196.3 204.9l3.5 -1.8M202.9 204.6l3.3 -1.2M209.4 204.8l3.3 -1.5M216.1 204.9l2.8 -1.9M222.7 204.9l2.6 -1.8M228.8 204.7l3.5 -1.4M235.6 204.8l2.8 -1.5M242.3 204.9l2.4 -1.7M248.1 204.7l3.9 -1.3M254.9 204.3l3.2 -0.6M261 204.5l4 -0.9M267.5 204.5l4.1 -0.9M274.3 204.6l3.4 -1.1M280.4 204.5l4.1 -1.1M287.3 204.5l3.4 -0.9M293.5 204.5l4 -0.9M299.8 204.9l4.4 -1.7M306.4 204.8l4.2 -1.7M312.8 205.1l4.4 -2.1M319.8 205l3.5 -2M326.4 205.2l3.2 -2.3M332.9 204.8l3.2 -1.5M339.3 204.7l3.5 -1.3M345.7 204.8l3.6 -1.6M352.6 204.7l2.7 -1.3M359 204.8l3 -1.5M365.4 204.4l3.2 -0.8M371.9 204.9l3.1 -1.8M378.4 204.7l3.3 -1.4M385 204.6l3 -1.2M391.9 204.4l2.1 -0.7M398 204.7l3 -1.5M404.2 204.8l3.5 -1.7M410.7 205.1l3.7 -2.2M417.2 204.9l3.6 -1.7M423.5 204.8l4.1 -1.5M429.6 205l4.8 -2M436.7 204.5l3.6 -0.9M443.1 204.5l3.9 -1M449.7 204.6l3.6 -1.1M455.7 204.8l4.6 -1.7M462.8 204.7l3.5 -1.5M469.3 204.5l3.5 -1M476 204.3l3 -0.5M481.9 204.4l4.1 -0.9M0.7 198.4l4.6 -1.8M7.3 198.5l4.4 -1.9M14 198.4l4 -1.8M20.6 198.5l3.8 -2M27 198l4 -0.9M34 198.2l3 -1.4M40.5 197.9l2.9 -0.8M46.7 197.7l3.5 -0.5M53.6 198.1l2.8 -1.1M59.8 197.7l3.4 -0.4M66.3 198.3l3.4 -1.6M72.5 198l4 -0.9M79.4 198.3l3.1 -1.6M85.4 198.2l4.3 -1.3M92.2 198.8l3.6 -2.7M98.6 198.5l3.7 -2M105.3 198.3l3.5 -1.6M112 198.1l3 -1.3M117.7 198.6l4.6 -2.1M124.3 198.3l4.3 -1.6M130.9 198.2l4.2 -1.4M137 197.9l5.1 -0.7M144 198.1l4.1 -1.3M150.5 198.2l4 -1.5M156.6 197.8l4.8 -0.6M163.5 198l4.1 -1M169.9 198l4.1 -1M177 198.1l3 -1.1M183.5 198l3 -1M190.2 198l2.6 -1M196.7 198l2.6 -1M203.1 198.2l2.9 -1.4M209.7 198.6l2.7 -2.1M216.1 198.5l2.9 -1.9M222.4 198.3l3.3 -1.6M228.9 198l3.2 -0.9M235.5 198.5l3 -2M241.5 198.2l4.1 -1.4M247.9 198.3l4.1 -1.7M254.4 197.7l4.2 -0.4M261.2 197.6l3.6 -0.2M267 197.8l5.1 -0.7M274.1 197.8l3.9 -0.7M280 198.1l5 -1.1M286.5 197.8l4.9 -0.7M293.2 198.1l4.6 -1.2M299.9 198.7l4.1 -2.4M306.4 198.6l4.2 -2.2M313 198.6l3.9 -2.2M319.5 198.2l4.1 -1.4M326.5 198.3l2.9 -1.7M332.5 198.5l4.1 -1.9M339.4 198.3l3.3 -1.6M346.1 198.2l2.8 -1.4M352.1 197.9l3.9 -0.9M358.7 198.3l3.6 -1.7M365.7 197.9l2.7 -0.9M371.7 198l3.6 -0.9M378.4 197.6l3.1 -0.3M384.9 197.9l3.1 -0.9M391.1 198.1l3.8 -1.2M397.4 198.2l4.1 -1.4M403.9 198.3l4.3 -1.5M410.6 198.4l3.8 -1.8M417 198.1l3.9 -1.2M422.8 198.4l5.4 -1.8M430.2 198.3l3.6 -1.5M436.4 198l4.1 -1.1M443 198.5l4 -2M449.6 198.4l3.9 -1.8M456.1 198l3.7 -1.1M463 197.9l3.1 -0.8M468.9 197.7l4.2 -0.4M475.6 198.2l3.8 -1.3M482.3 197.9l3.3 -0.9M1.2 192.2l3.6 -2.4M7.8 191.7l3.3 -1.4M14.2 191.8l3.6 -1.5M21.1 192.5l2.8 -2.9M27.3 191.7l3.4 -1.4M33.9 191.6l3.3 -1.2M40.4 191.7l3.1 -1.3M46.9 191.2l3.2 -0.3M53.3 191.3l3.5 -0.6M59.8 191.5l3.3 -0.9M66.5 191.2l3 -0.5M73 191.6l3 -1.2M79.2 191.7l3.5 -1.4M85.6 191.9l3.9 -1.8M92.3 191.8l3.5 -1.5M98.6 191.8l3.8 -1.7M104.7 191.7l4.5 -1.3M111.3 192.1l4.4 -2.2M118.1 192.2l3.9 -2.5M124.2 191.8l4.6 -1.5M131.3 192l3.5 -2.1M137.6 191.4l3.9 -0.8M143.9 191.3l4.1 -0.7M151 191.8l3 -1.5M157.1 191.4l3.8 -0.8M163.8 191.2l3.4 -0.5M170.9 191.4l2.1 -0.9M177.3 191.6l2.4 -1.1M183.7 191.5l2.6 -1M190 191.9l3 -1.8M196.4 191.8l3.2 -1.5M203.2 191.7l2.7 -1.3M209.4 191.8l3.2 -1.7M216.2 191.7l2.6 -1.4M222.5 192.6l3 -3.3M228.9 191.6l3.2 -1.2M235.1 191.6l3.7 -1.1M241.7 191.6l3.6 -1.2M248.3 191.9l3.3 -1.8M254.5 191.8l3.9 -1.5M260.8 191.2l4.3 -0.5M267.2 191.4l4.6 -0.8M273.8 191.2l4.4 -0.4M280.8 191.8l3.4 -1.6M287.3 191.5l3.4 -1M293.6 191.6l3.7 -1.3M300.2 192.1l3.5 -2.2M306.7 191.8l3.5 -1.6M313.7 192.2l2.5 -2.3M319.8 192l3.3 -2M326.4 191.7l3.3 -1.3M333.1 192.2l2.7 -2.4M339.3 191.9l3.4 -1.8M346 191.9l3.1 -1.9M352.3 191.2l3.4 -0.4M358.4 191.7l4.2 -1.4M365 191.6l3.9 -1.2M371.6 191.3l3.8 -0.5M378 191.6l3.9 -1.1M384.7 191.6l3.6 -1.3M390.4 191.7l5.1 -1.3M397.6 191.4l3.9 -0.8M403.8 191.7l4.3 -1.4M410.2 191.8l4.6 -1.6M416.8 191.8l4.3 -1.6M423.3 191.7l4.4 -1.3M429.6 192.2l4.9 -2.4M436.5 191.9l4 -1.8M443.2 191.9l3.5 -1.8M449.9 191.1l3.2 -0.3M456.3 191.6l3.5 -1.3M463.1 191.3l2.8 -0.6M469.7 191.7l2.7 -1.3M476.3 191.6l2.5 -1.2M482.4 191.7l3.2 -1.4M1.5 185.5l2.9 -1.9M7.9 185.4l3.2 -1.8M14.6 185.2l2.8 -1.5M21 185.2l2.9 -1.3M28 185.2l2 -1.3M34.2 185.1l2.5 -1.3M40.7 184.8l2.7 -0.7M47 185.1l2.9 -1.2M53.5 184.8l3 -0.6M59.8 185l3.4 -1.1M66 184.9l3.9 -0.8M73 185.1l3 -1.2M79.5 185.3l3 -1.5M85.6 184.9l3.8 -0.8M91.6 185.2l4.7 -1.4M98.8 185.4l3.4 -1.8M105.4 185.2l3.2 -1.4M111.5 185.7l3.9 -2.3M118 185.7l4 -2.4M124.6 184.9l3.8 -0.9M131.4 185.2l3.1 -1.4M138 185.4l2.9 -1.7M144.1 184.8l3.8 -0.7M151.2 185.1l2.6 -1.2M157.6 184.8l2.8 -0.7M164.3 185l2.5 -1M170.3 184.7l3.3 -0.3M176.9 185.2l3.2 -1.5M183.7 185.5l2.7 -1.9M190.2 185.4l2.5 -1.8M196.5 185.3l2.9 -1.6M203.2 185.4l2.6 -1.8M209.3 185.4l3.3 -1.7M215.9 185.2l3.2 -1.3M222.3 185.3l3.5 -1.6M228.6 185.3l3.8 -1.5M235 185.3l4 -1.7M241.3 184.9l4.4 -0.8M247.9 185l4.2 -1M254.5 184.8l4.1 -0.6M261.1 185.1l3.8 -1.2M267.6 184.7l3.7 -0.4M274.1 185l3.7 -0.9M281.1 185l2.8 -1M287.5 185.1l3 -1.3M294.2 185.4l2.6 -1.8M300.3 185.1l3.4 -1.1M307.4 185.1l2.1 -1.2M313.6 185.3l2.7 -1.6M319.9 185.4l3.1 -1.7M327 185.4l2 -1.8M333 185.8l2.9 -2.6M339.8 185.3l2.5 -1.7M346.2 185l2.6 -1M352.4 184.8l3.2 -0.7M358.9 184.9l3.2 -0.8M365.2 185.1l3.6 -1.2M371.8 184.7l3.4 -0.5M378.1 185l3.8 -1.1M384.4 184.9l4.2 -0.8M391.1 185.1l3.9 -1.3M397.7 184.7l3.5 -0.5M404.3 185.1l3.3 -1.3M410.8 185.6l3.4 -2.2M417.4 185.4l3.3 -1.9M423.7 185.3l3.5 -1.7M430.7 185.1l2.5 -1.3M437.1 185.6l2.7 -2.2M443.7 185.1l2.6 -1.3M449.9 184.9l3.2 -0.9M456.7 184.9l2.6 -0.8M463.5 184.9l2.1 -0.9M469.6 185.1l2.7 -1.1M475.8 184.5l3.3 0.1M482.2 185.1l3.6 -1.3M2 178.8l2 -1.6M8.3 178.7l2.4 -1.3M15.2 178.8l1.6 -1.7M21.3 178.5l2.5 -0.9M28 178.4l2 -0.9M34.6 178.7l1.8 -1.4M41.1 178.6l1.8 -1.2M47.5 178.3l2 -0.6M53.8 178.2l2.5 -0.4M59.5 178.2l3.9 -0.5M66.5 178.3l2.9 -0.6M73.1 178.3l2.7 -0.5M79.6 178.3l2.9 -0.6M85.9 178.5l3.3 -0.9M92.8 178.7l2.5 -1.4M99.3 178.9l2.3 -1.9M105.7 178.9l2.7 -1.7M112.2 179l2.6 -2M118.6 178.7l2.7 -1.3M125.2 178.4l2.6 -0.8M131.5 178.7l3 -1.3M138.6 178.7l1.8 -1.4M144.9 178.3l2.3 -0.5M151.1 178.4l2.7 -0.8M158.1 178.5l1.8 -1M164.6 178.6l1.7 -1.1M171.1 178.1l1.9 -0.1M177.2 178.4l2.6 -0.7M183.8 178.7l2.3 -1.4M190.1 178.5l2.7 -0.9M196.8 178.6l2.4 -1.2M203 178.7l3 -1.5M209.6 178.5l2.7 -1M216 178.9l3 -1.9M222.1 178.6l3.9 -1.2M228.8 178.3l3.3 -0.5M235.7 178.5l2.6 -1M241.9 178.8l3.1 -1.6M248.5 178.3l2.9 -0.7M255.3 178.6l2.3 -1.1M261.8 178.3l2.5 -0.7M268.2 178.8l2.5 -1.6M274.9 178.6l2.2 -1.1M281.1 178.8l2.7 -1.6M288.1 178.5l1.8 -1M294.8 178.8l1.3 -1.6M300.7 178.5l2.6 -1M307.3 178.5l2.4 -1M314.3 178.7l1.5 -1.4M320.3 178.7l2.3 -1.5M326.5 178.7l3 -1.3M333.7 178.6l1.6 -1.1M339.8 178.4l2.4 -0.9M345.7 178.4l3.6 -0.9M352.7 178.3l2.6 -0.5M359.1 178.4l2.8 -0.8M365.6 178.1l2.8 -0.3M372.3 178.4l2.3 -0.8M378.5 178.3l3.1 -0.6M384.7 178.4l3.5 -0.8M391.3 178.3l3.4 -0.6M398.3 178.8l2.4 -1.6M404.4 178.7l3.1 -1.3M411.2 178.2l2.5 -0.4M417.6 178.6l2.9 -1.2M424.7 178.8l1.6 -1.6M431 178.5l2 -1M437.4 178.9l2.1 -1.8M444.2 178.6l1.7 -1.1M450.3 178.4l2.5 -0.8M457 178.3l1.9 -0.6M463.6 178.6l1.7 -1.2M469.9 178.6l2.2 -1.2M476.1 178.6l2.8 -1.2M482.8 178.6l2.4 -1.2M2.5 172.2l1.1 -1.4M8.9 172l1.2 -0.9M15.4 172l1.2 -1M21.4 172.3l2.2 -1.7M27.9 171.8l2.2 -0.5M34.3 171.7l2.3 -0.4M40.8 171.6l2.4 -0.3M47.3 171.5l2.4 0.1M54.3 171.9l1.4 -0.9M60.5 171.8l2 -0.6M67.1 172.1l1.9 -1.3M73.5 171.6l1.9 -0.3M79.7 171.7l2.5 -0.5M86.6 172.4l1.9 -1.8M93 172.1l2 -1.3M99.6 171.9l1.8 -0.8M106.4 172l1.3 -1M112.7 172.3l1.6 -1.6M118.8 172l2.4 -1M126.1 171.7l0.8 -0.4M132.2 171.8l1.5 -0.5M138.7 172l1.6 -1M145.2 172l1.6 -1M151.6 171.8l1.8 -0.6M158.4 171.6l1.2 -0.3M164.7 171.7l1.6 -0.5M171 171.4l1.9 0.2M177.6 172l1.8 -0.9M184 171.7l2.1 -0.4M190.3 171.9l2.5 -0.7M196.9 172l2.2 -0.9M203.2 171.9l2.6 -0.8M209.9 172l2.1 -1M216.5 172l2 -1.1M222.7 171.9l2.6 -0.9M229.5 171.9l2.1 -0.8M236.1 171.8l1.7 -0.6M242.4 171.9l2.2 -0.8M248.8 172l2.3 -0.9M256 171.7l1.1 -0.4M262.2 171.7l1.5 -0.5M268.4 171.6l2.2 -0.3M275.2 171.5l1.6 0M281.5 171.8l2 -0.5M288.1 171.7l1.7 -0.5M294.6 171.9l1.7 -0.8M301.6 172l0.7 -1M307.8 172l1.4 -1M314.2 172.1l1.6 -1.3M320.6 172.3l1.9 -1.7M327.2 171.8l1.6 -0.7M333.7 171.9l1.7 -0.9M340.3 171.4l1.4 0.2M346.5 172l2.1 -1M353 171.6l1.9 -0.2M359.2 171.8l2.6 -0.5M366 171.6l2 -0.1M372.4 171.7l2.2 -0.5M379 171.7l2.1 -0.3M385.5 171.6l2 -0.1M392.2 171.5l1.7 0M398.6 171.7l1.8 -0.3M405.4 171.9l1.2 -0.8M411.6 172l1.8 -1M418 172l2 -1M425 172.3l0.9 -1.7M431.2 171.7l1.7 -0.5M437.6 171.8l1.8 -0.6M444 172l1.9 -1.1M450.8 172l1.4 -1M457 171.8l2.1 -0.5M463.7 171.8l1.6 -0.6M470.1 171.7l1.7 -0.3M476.4 171.7l2.3 -0.4M483 171.6l2 -0.1M2.5 165.2l1.1 -0.4M8.9 165.2l1.2 -0.3M15.4 165.3l1.2 -0.5M22.4 165.4l0.2 -0.8M28.1 165.5l1.7 -1.1M35 165.2l1.1 -0.3M41.4 164.9l1.1 0.2M47.9 164.8l1.2 0.4M54.4 164.8l1.3 0.4M61.5 165h.9M67.5 165.1l1 -0.1M74 165.2l1.1 -0.5M80.9 165.5l0.3 -0.9M86.9 165l1.1 0M94 165h.9M100.5 165h.9M106.4 165.1l1.2 -0.3M113.5 165h.9M119.7 165.4l0.7 -0.8M125.9 165.4l1.2 -0.8M132.7 165.5l0.6 -1M138.9 165l1.2 0M145.6 164.5l0.8 1.1M151.8 164.8l1.4 0.3M158.5 165.3l1 -0.7M165 165.3l1.1 -0.6M171.3 164.9l1.5 0.2M178.1 165.1l0.7 -0.2M184.6 165.1l0.8 -0.3M190.5 164.9l1.9 0.1M197.4 165.2l1.2 -0.4M203.8 165.2l1.3 -0.4M210.3 165l1.3 -0.1M217 165l1 0M223.5 165.5l1.1 -1M230.1 165.4l0.8 -0.8M236.4 165.3l1.1 -0.5M242.9 165.2l1.2 -0.4M249.4 165.2l1.1 -0.4M256.5 165h.9M263 165h.9M268.9 165.2l1.1 -0.5M275.5 165.1l1 -0.1M282 165.4l0.9 -0.7M288.6 165.2l0.8 -0.4M295.1 165.1l0.8 -0.3M301.6 165l0.8 -0.1M308.5 165h.9M315 165h.9M320.7 165.4l1.6 -0.8M327.5 165.4l0.9 -0.7M333.7 165.5l1.6 -1M340.4 165.4l1.2 -0.7M346.8 165.3l1.4 -0.5M353.6 165.3l0.7 -0.6M359.9 164.6l1.2 0.8M366.1 165.4l1.8 -0.8M373 165.2l1.1 -0.3M379.6 165.3l0.7 -0.5M385.8 165l1.4 -0.1M393 165h.9M398.9 165.1l1.1 -0.2M405.4 165.4l1.2 -0.8M412 165.1l1.1 -0.2M418.4 165.1l1.2 -0.2M425.1 165.3l0.8 -0.6M431.7 165.4l0.7 -0.8M438.5 165h.9M444.6 165.2l0.9 -0.5M451.1 165.5l0.7 -1M457 165.4l2 -0.7M463.8 165.5l1.4 -0.9M470.6 165.3l0.8 -0.7M476.9 165.3l1.3 -0.6M483.3 165.2l1.3 -0.4M2.6 158.7l0.8 -0.4M9.1 158.4l0.9 0.2M16 158.5h.9M22.1 158.3l0.7 0.4M29 158.5h.9M35.5 158.5h.9M41.7 158.7l0.6 -0.4M48.5 158.5h.9M55 158.5h.9M61.5 158.5h.9M67.6 158.4l0.8 0.3M74.5 158.5h.9M81 158.5h.9M87.5 158.5h.9M94 158.5h.9M100.3 158.8l0.4 -0.5M106.7 158.7l0.7 -0.4M113.5 158.5h.9M119.6 158.9l0.8 -0.8M126.1 158.7l0.7 -0.4M133 158.5h.9M139.5 158.5h.9M146 158.5h.9M152.5 158.5h.9M158.8 158.1l0.4 0.8M165.1 158l0.8 0.9M171.6 158.4l0.9 0.2M178.2 158.8l0.5 -0.6M184.6 158.5l0.7 0M191.5 158.5h.9M198 158.5h.9M204.2 159.2l0.5 -1.4M211 158.5h.9M217 158.6l0.9 -0.2M224 158.5h.9M230.5 158.5h.9M237 158.5h.9M243.5 158.5h.9M250 158.5h.9M256.2 158.1l0.6 0.8M263 158.5h.9M269.5 158.5h.9M276 158.5h.9M282.1 158.5l0.7 0M288.7 158.3l0.7 0.4M295.5 158.5h.9M302 158.5h.9M308.3 159.2l0.5 -1.4M314.7 158.3l0.6 0.4M320.8 158.6l1.3 -0.1M328 158.5h.9M334.5 158.5h.9M340.5 158.4l1.1 0.2M347.5 158.5h.9M354 158.5h.9M360.5 158.5h.9M366.3 158.6l1.4 -0.1M373.5 158.5h.9M380 158.5h.9M386.5 158.5h.9M393 158.5h.9M399.5 158.5h.9M406 158.5h.9M412.1 158.7l0.8 -0.4M419 158.5h.9M425.5 158.5h.9M431.6 158.5l0.9 0M438.3 158.9l0.5 -0.9M445 158.5h.9M451.1 158.3l0.7 0.4M457.4 158.5l1.1 0M464.5 158.5h.9M470.6 158.5l0.9 -0.1M476.9 158.4l1.2 0.1M483.7 158.2l0.6 0.6M3 152h.9M9.1 152.1l0.8 -0.2M16 152h.9M22.5 152h.9M29 152h.9M35.5 152h.9M41.6 152.1l0.9 -0.2M48.5 152h.9M55 152h.9M61.5 152h.9M68 152h.9M74.5 152h.9M81 152h.9M87.5 152h.9M94 152h.9M100.5 152h.9M107 152h.9M113.5 152h.9M119.7 151.6l0.5 0.8M126.1 152.2l0.7 -0.4M133 151.6l0 0.8M139.5 152h.9M146 152h.9M152.5 152h.9M159 152h.9M165.5 152h.9M172 152h.9M178.3 152.3l0.5 -0.6M184.7 151.8l0.6 0.5M191.5 152h.9M197.7 152.2l0.5 -0.5M204.5 152h.9M211 152h.9M217 152l1 0M224.4 152.1l-0.8 -0.2M230.1 152.3l0.8 -0.5M237 152h.9M243.5 152h.9M250 152h.9M256.5 152h.9M263 152h.9M269.5 152h.9M276 152h.9M282.1 151.9l0.8 0.3M288.6 151.9l0.8 0.2M295.5 152h.9M302 152h.9M308.5 152h.9M315 152h.9M321.5 152h.9M327.2 151.9l1.6 0.2M334.5 152h.9M340.7 151.7l0.5 0.6M347.2 151.8l0.7 0.4M353.5 152l0.9 0M360.5 152h.9M366.6 152.1l0.8 -0.3M373.5 152h.9M380 152h.9M386.5 152h.9M393 152h.9M399.2 152.4l0.6 -0.7M405.6 151.9l0.8 0.1M412.2 151.7l0.6 0.7M419 152h.9M425.5 152h.9M432 152h.9M438.3 152.4l0.4 -0.8M444.6 152l0.7 0M451.5 152h.9M458 152h.9M464.1 152l0.8 0.1M470.9 152.5l0.2 -0.9M477.5 152h.9M483.5 152l1.1 0.1M3 145.5h.9M9.5 145.5h.9M16 145.5h.9M22.2 146l0.7 -1M29 145.5h.9M35 145l1 0.9M41.9 145.8l0.3 -0.7M48.5 145.5h.9M54.6 145.7l0.8 -0.4M61.5 145.5h.9M67.6 145.5l0.8 0M74.9 145.5l-0.8 0M80.7 145.7l0.7 -0.3M87.5 145.5h.9M94 145.5h.9M100.1 145.9l0.7 -0.8M107 145.1l0 0.9M113.5 145.5h.9M120 145.5h.9M126.5 145.5h.9M133 145.5h.9M139.2 145.3l0.5 0.5M146 145.5h.9M151.9 145.4l1.2 0.2M158.6 145.7l0.7 -0.5M165.1 145.5l0.8 0M172 145.5h.9M178.5 145.5h.9M185 145.5h.9M191.5 145.5h.9M198 145.5h.9M204.5 145.5h.9M211 145.5h.9M217.5 145.5h.9M223.6 145.8l0.8 -0.6M230.3 145.2l0.4 0.6M237 145.5h.9M243.5 145.5h.9M250 145.5h.9M256.5 145.5h.9M263 145.5h.9M269.5 145.5h.9M276 145.5h.9M282.2 145.8l0.6 -0.6M289 145.5h.9M295.5 145.5h.9M302 145.5h.9M308.5 145.5h.9M315 145.5h.9M321.5 145.5h.9M328 145.5h.9M334.5 145.5h.9M340.6 145.3l0.8 0.4M347.5 145.5h.9M354 145.5h.9M360.1 145.5l0.8 0.1M367 145.5h.9M373.5 145.5h.9M380 145.5h.9M386.5 145.5h.9M393 145.5h.9M399.1 145.8l0.8 -0.7M406 145.9l0.1 -0.7M412.1 145.2l0.8 0.7M419 145.5h.9M425.5 145.5h.9M432 145.5h.9M438.5 145.5h.9M445 145.5h.9M451.5 145.5h.9M458 145.1l0 0.8M464.5 145.5h.9M470.7 145l0.7 0.9M477 145.8l1.1 -0.6M484 145.5h.9" class="q"/>
<path d="M3 139h.9M9.5 139h.9M16 139h.9M22.5 139h.9M29 139h.9M35.5 139h.9M42 139h.9M48.5 139h.9M55 139h.9M61.5 139h.9M68 139h.9M74.5 139h.9M81 139h.9M87.5 139h.9M94 139h.9M100.5 139h.9M107 139h.9M113.5 139h.9M120 139h.9M126.5 139h.9M133 139h.9M139.5 139h.9M146 139h.9M152.5 139h.9M159 139h.9M165.5 139h.9M172 139h.9M178.5 139h.9M185 139h.9M191.5 139h.9M198 139h.9M204.5 139h.9M211 139h.9M217.5 139h.9M224 139h.9M230.5 139h.9M237 139h.9M243.5 139h.9M250 139h.9M256.5 139h.9M263 139h.9M269.5 139h.9M276 139h.9M282.5 139h.9M289 139h.9M295.5 139h.9M302 139h.9M308.5 139h.9M315 139h.9M321.5 139h.9M328 139h.9M334.5 139h.9M341 139h.9M347.5 139h.9M354 139h.9M360.5 139h.9M367 139h.9M373.5 139h.9M380 139h.9M386.5 139h.9M393 139h.9M399.5 139h.9M406 139h.9M412.5 139h.9M419 139h.9M425.5 139h.9M432 139h.9M438.5 139h.9M445 139h.9M451.5 139h.9M458 139h.9M464.5 139h.9M471 139h.9M477.5 139h.9M484 139h.9M3 132.5h.9M9.5 132.5h.9M16 132.5h.9M22.5 132.5h.9M29 132.5h.9M35.5 132.5h.9M42 132.5h.9M48.5 132.5h.9M55 132.5h.9M61.5 132.5h.9M68 132.5h.9M74.5 132.5h.9M81 132.5h.9M87.5 132.5h.9M94 132.5h.9M100.5 132.5h.9M107 132.5h.9M113.5 132.5h.9M120 132.5h.9M126.5 132.5h.9M133 132.5h.9M139.5 132.5h.9M146 132.5h.9M152.5 132.5h.9M159 132.5h.9M165.5 132.5h.9M172 132.5h.9M178.5 132.5h.9M185 132.5h.9M191.5 132.5h.9M198 132.5h.9M204.5 132.5h.9M211 132.5h.9M217.5 132.5h.9M224 132.5h.9M230.5 132.5h.9M237 132.5h.9M243.5 132.5h.9M250 132.5h.9M256.5 132.5h.9M263 132.5h.9M269.5 132.5h.9M276 132.5h.9M282.5 132.5h.9M289 132.5h.9M295.5 132.5h.9M302 132.5h.9M308.5 132.5h.9M315 132.5h.9M321.5 132.5h.9M328 132.5h.9M334.5 132.5h.9M341 132.5h.9M347.5 132.5h.9M354 132.5h.9M360.5 132.5h.9M367 132.5h.9M373.5 132.5h.9M380 132.5h.9M386.5 132.5h.9M393 132.5h.9M399.5 132.5h.9M406 132.5h.9M412.5 132.5h.9M419 132.5h.9M425.5 132.5h.9M432 132.5h.9M438.5 132.5h.9M445 132.5h.9M451.5 132.5h.9M458 132.5h.9M464.5 132.5h.9M471 132.5h.9M477.5 132.5h.9M484 132.5h.9M3 126h.9M9.5 126h.9M16 126h.9M22.5 126h.9M29 126h.9M35.5 126h.9M42 126h.9M48.5 126h.9M55 126h.9M61.5 126h.9M68 126h.9M74.5 126h.9M81 126h.9M87.5 126h.9M94 126h.9M100.5 126h.9M107 126h.9M113.5 126h.9M120 126h.9M126.5 126h.9M133 126h.9M139.5 126h.9M146 126h.9M152.5 126h.9M159 126h.9M165.5 126h.9M172 126h.9M178.5 126h.9M185 126h.9M191.5 126h.9M198 126h.9M204.5 126h.9M211 126h.9M217.5 126h.9M224 126h.9M230.5 126h.9M237 126h.9M243.5 126h.9M250 126h.9M256.5 126h.9M263 126h.9M269.5 126h.9M276 126h.9M282.5 126h.9M289 126h.9M295.5 126h.9M302 126h.9M308.5 126h.9M315 126h.9M321.5 126h.9M328 126h.9M334.5 126h.9M341 126h.9M347.5 126h.9M354 126h.9M360.5 126h.9M367 126h.9M373.5 126h.9M380 126h.9M386.5 126h.9M393 126h.9M399.5 126h.9M406 126h.9M412.5 126h.9M419 126h.9M425.5 126h.9M432 126h.9M438.5 126h.9M445 126h.9M451.5 126h.9M458 126h.9M464.5 126h.9M471 126h.9M477.5 126h.9M484 126h.9M3 119.5h.9M9.5 119.5h.9M16 119.5h.9M22.5 119.5h.9M29 119.5h.9M35.5 119.5h.9M42 119.5h.9M48.5 119.5h.9M55 119.5h.9M61.5 119.5h.9M68 119.5h.9M74.5 119.5h.9M81 119.5h.9M87.5 119.5h.9M94 119.5h.9M100.5 119.5h.9M107 119.5h.9M113.5 119.5h.9M120 119.5h.9M126.5 119.5h.9M133 119.5h.9M139.5 119.5h.9M146 119.5h.9M152.5 119.5h.9M159 119.5h.9M165.5 119.5h.9M172 119.5h.9M178.5 119.5h.9M185 119.5h.9M191.5 119.5h.9M198 119.5h.9M204.5 119.5h.9M211 119.5h.9M217.5 119.5h.9M224 119.5h.9M230.5 119.5h.9M237 119.5h.9M243.5 119.5h.9M250 119.5h.9M256.5 119.5h.9M263 119.5h.9M269.5 119.5h.9M276 119.5h.9M282.5 119.5h.9M289 119.5h.9M295.5 119.5h.9M302 119.5h.9M308.5 119.5h.9M315 119.5h.9M321.5 119.5h.9M328 119.5h.9M334.5 119.5h.9M341 119.5h.9M347.5 119.5h.9M354 119.5h.9M360.5 119.5h.9M367 119.5h.9M373.5 119.5h.9M380 119.5h.9M386.5 119.5h.9M393 119.5h.9M399.5 119.5h.9M406 119.5h.9M412.5 119.5h.9M419 119.5h.9M425.5 119.5h.9M432 119.5h.9M438.5 119.5h.9M445 119.5h.9M451.5 119.5h.9M458 119.5h.9M464.5 119.5h.9M471 119.5h.9M477.5 119.5h.9M484 119.5h.9M3 113h.9M9.5 113h.9M16 113h.9M22.5 113h.9M29 113h.9M35.5 113h.9M42 113h.9M48.5 113h.9M55 113h.9M61.5 113h.9M68 113h.9M74.5 113h.9M81 113h.9M87.5 113h.9M94 113h.9M100.5 113h.9M107 113h.9M113.5 113h.9M120 113h.9M126.5 113h.9M133 113h.9M139.5 113h.9M146 113h.9M152.5 113h.9M159 113h.9M165.5 113h.9M172 113h.9M178.5 113h.9M185 113h.9M191.5 113h.9M198 113h.9M204.5 113h.9M211 113h.9M217.5 113h.9M224 113h.9M230.5 113h.9M237 113h.9M243.5 113h.9M250 113h.9M256.5 113h.9M263 113h.9M269.5 113h.9M276 113h.9M282.5 113h.9M289 113h.9M295.5 113h.9M302 113h.9M308.5 113h.9M315 113h.9M321.5 113h.9M328 113h.9M334.5 113h.9M341 113h.9M347.5 113h.9M354 113h.9M360.5 113h.9M367 113h.9M373.5 113h.9M380 113h.9M386.5 113h.9M393 113h.9M399.5 113h.9M406 113h.9M412.5 113h.9M419 113h.9M425.5 113h.9M432 113h.9M438.5 113h.9M445 113h.9M451.5 113h.9M458 113h.9M464.5 113h.9M471 113h.9M477.5 113h.9M484 113h.9M3 106.5h.9M9.5 106.5h.9M16 106.5h.9M22.5 106.5h.9M29 106.5h.9M35.5 106.5h.9M42 106.5h.9M48.5 106.5h.9M55 106.5h.9M61.5 106.5h.9M68 106.5h.9M74.5 106.5h.9M81 106.5h.9M87.5 106.5h.9M94 106.5h.9M100.5 106.5h.9M107 106.5h.9M113.5 106.5h.9M120 106.5h.9M126.5 106.5h.9M133 106.5h.9M139.5 106.5h.9M146 106.5h.9M152.5 106.5h.9M159 106.5h.9M165.5 106.5h.9M172 106.5h.9M178.5 106.5h.9M185 106.5h.9M191.5 106.5h.9M198 106.5h.9M204.5 106.5h.9M211 106.5h.9M217.5 106.5h.9M224 106.5h.9M230.5 106.5h.9M237 106.5h.9M243.5 106.5h.9M250 106.5h.9M256.5 106.5h.9M263 106.5h.9M269.5 106.5h.9M276 106.5h.9M282.5 106.5h.9M289 106.5h.9M295.5 106.5h.9M302 106.5h.9M308.5 106.5h.9M315 106.5h.9M321.5 106.5h.9M328 106.5h.9M334.5 106.5h.9M341 106.5h.9M347.5 106.5h.9M354 106.5h.9M360.5 106.5h.9M367 106.5h.9M373.5 106.5h.9M380 106.5h.9M386.5 106.5h.9M393 106.5h.9M399.5 106.5h.9M406 106.5h.9M412.5 106.5h.9M419 106.5h.9M425.5 106.5h.9M432 106.5h.9M438.5 106.5h.9M445 106.5h.9M451.5 106.5h.9M458 106.5h.9M464.5 106.5h.9M471 106.5h.9M477.5 106.5h.9M484 106.5h.9M3 100h.9M9.5 100h.9M16 100h.9M22.5 100h.9M29 100h.9M35.5 100h.9M42 100h.9M48.5 100h.9M55 100h.9M61.5 100h.9M68 100h.9M74.5 100h.9M81 100h.9M87.5 100h.9M94 100h.9M100.5 100h.9M107 100h.9M113.5 100h.9M120 100h.9M126.5 100h.9M133 100h.9M139.5 100h.9M146 100h.9M152.5 100h.9M159 100h.9M165.5 100h.9M172 100h.9M178.5 100h.9M185 100h.9M191.5 100h.9M198 100h.9M204.5 100h.9M211 100h.9M217.5 100h.9M224 100h.9M230.5 100h.9M237 100h.9M243.5 100h.9M250 100h.9M256.5 100h.9M263 100h.9M269.5 100h.9M276 100h.9M282.5 100h.9M289 100h.9M295.5 100h.9M302 100h.9M308.5 100h.9M315 100h.9M321.5 100h.9M328 100h.9M334.5 100h.9M341 100h.9M347.5 100h.9M354 100h.9M360.5 100h.9M367 100h.9M373.5 100h.9M380 100h.9M386.5 100h.9M393 100h.9M399.5 100h.9M406 100h.9M412.5 100h.9M419 100h.9M425.5 100h.9M432 100h.9M438.5 100h.9M445 100h.9M451.5 100h.9M458 100h.9M464.5 100h.9M471 100h.9M477.5 100h.9M484 100h.9M3 93.5h.9M9.5 93.5h.9M16 93.5h.9M22.5 93.5h.9M29 93.5h.9M35.5 93.5h.9M42 93.5h.9M48.5 93.5h.9M55 93.5h.9M61.5 93.5h.9M68 93.5h.9M74.5 93.5h.9M81 93.5h.9M87.5 93.5h.9M94 93.5h.9M100.5 93.5h.9M107 93.5h.9M113.5 93.5h.9M120 93.5h.9M126.5 93.5h.9M133 93.5h.9M139.5 93.5h.9M146 93.5h.9M152.5 93.5h.9M159 93.5h.9M165.5 93.5h.9M172 93.5h.9M178.5 93.5h.9M185 93.5h.9M191.5 93.5h.9M198 93.5h.9M204.5 93.5h.9M211 93.5h.9M217.5 93.5h.9M224 93.5h.9M230.5 93.5h.9M237 93.5h.9M243.5 93.5h.9M250 93.5h.9M256.5 93.5h.9M263 93.5h.9M269.5 93.5h.9M276 93.5h.9M282.5 93.5h.9M289 93.5h.9M295.5 93.5h.9M302 93.5h.9M308.5 93.5h.9M315 93.5h.9M321.5 93.5h.9M328 93.5h.9M334.5 93.5h.9M341 93.5h.9M347.5 93.5h.9M354 93.5h.9M360.5 93.5h.9M367 93.5h.9M373.5 93.5h.9M380 93.5h.9M386.5 93.5h.9M393 93.5h.9M399.5 93.5h.9M406 93.5h.9M412.5 93.5h.9M419 93.5h.9M425.5 93.5h.9M432 93.5h.9M438.5 93.5h.9M445 93.5h.9M451.5 93.5h.9M458 93.5h.9M464.5 93.5h.9M471 93.5h.9M477.5 93.5h.9M484 93.5h.9M3 87h.9M9.5 87h.9M16 87h.9M22.5 87h.9M29 87h.9M35.5 87h.9M42 87h.9M48.5 87h.9M55 87h.9M61.5 87h.9M68 87h.9M74.5 87h.9M81 87h.9M87.5 87h.9M94 87h.9M100.5 87h.9M107 87h.9M113.5 87h.9M120 87h.9M126.5 87h.9M133 87h.9M139.5 87h.9M146 87h.9M152.5 87h.9M159 87h.9M165.5 87h.9M172 87h.9M178.5 87h.9M185 87h.9M191.5 87h.9M198 87h.9M204.5 87h.9M211 87h.9M217.5 87h.9M224 87h.9M230.5 87h.9M237 87h.9M243.5 87h.9M250 87h.9M256.5 87h.9M263 87h.9M269.5 87h.9M276 87h.9M282.5 87h.9M289 87h.9M295.5 87h.9M302 87h.9M308.5 87h.9M315 87h.9M321.5 87h.9M328 87h.9M334.5 87h.9M341 87h.9M347.5 87h.9M354 87h.9M360.5 87h.9M367 87h.9M373.5 87h.9M380 87h.9M386.5 87h.9M393 87h.9M399.5 87h.9M406 87h.9M412.5 87h.9M419 87h.9M425.5 87h.9M432 87h.9M438.5 87h.9M445 87h.9M451.5 87h.9M458 87h.9M464.5 87h.9M471 87h.9M477.5 87h.9M484 87h.9M3 80.5h.9M9.5 80.5h.9M16 80.5h.9M22.5 80.5h.9M29 80.5h.9M35.5 80.5h.9M42 80.5h.9M48.5 80.5h.9M55 80.5h.9M61.5 80.5h.9M68 80.5h.9M74.5 80.5h.9M81 80.5h.9M87.5 80.5h.9M94 80.5h.9M100.5 80.5h.9M107 80.5h.9M113.5 80.5h.9M120 80.5h.9M126.5 80.5h.9M133 80.5h.9M139.5 80.5h.9M146 80.5h.9M152.5 80.5h.9M159 80.5h.9M165.5 80.5h.9M172 80.5h.9M178.5 80.5h.9M185 80.5h.9M191.5 80.5h.9M198 80.5h.9M204.5 80.5h.9M211 80.5h.9M217.5 80.5h.9M224 80.5h.9M230.5 80.5h.9M237 80.5h.9M243.5 80.5h.9M250 80.5h.9M256.5 80.5h.9M263 80.5h.9M269.5 80.5h.9M276 80.5h.9M282.5 80.5h.9M289 80.5h.9M295.5 80.5h.9M302 80.5h.9M308.5 80.5h.9M315 80.5h.9M321.5 80.5h.9M328 80.5h.9M334.5 80.5h.9M341 80.5h.9M347.5 80.5h.9M354 80.5h.9M360.5 80.5h.9M367 80.5h.9M373.5 80.5h.9M380 80.5h.9M386.5 80.5h.9M393 80.5h.9M399.5 80.5h.9M406 80.5h.9M412.5 80.5h.9M419 80.5h.9M425.5 80.5h.9M432 80.5h.9M438.5 80.5h.9M445 80.5h.9M451.5 80.5h.9M458 80.5h.9M464.5 80.5h.9M471 80.5h.9M477.5 80.5h.9M484 80.5h.9M3 74h.9M9.5 74h.9M16 74h.9M22.5 74h.9M29 74h.9M35.5 74h.9M42 74h.9M48.5 74h.9M55 74h.9M61.5 74h.9M68 74h.9M74.5 74h.9M81 74h.9M87.5 74h.9M94 74h.9M100.5 74h.9M107 74h.9M113.5 74h.9M120 74h.9M126.5 74h.9M133 74h.9M139.5 74h.9M146 74h.9M152.5 74h.9M159 74h.9M165.5 74h.9M172 74h.9M178.5 74h.9M185 74h.9M191.5 74h.9M198 74h.9M204.5 74h.9M211 74h.9M217.5 74h.9M224 74h.9M230.5 74h.9M237 74h.9M243.5 74h.9M250 74h.9M256.5 74h.9M263 74h.9M269.5 74h.9M276 74h.9M282.5 74h.9M289 74h.9M295.5 74h.9M302 74h.9M308.5 74h.9M315 74h.9M321.5 74h.9M328 74h.9M334.5 74h.9M341 74h.9M347.5 74h.9M354 74h.9M360.5 74h.9M367 74h.9M373.5 74h.9M380 74h.9M386.5 74h.9M393 74h.9M399.5 74h.9M406 74h.9M412.5 74h.9M419 74h.9M425.5 74h.9M432 74h.9M438.5 74h.9M445 74h.9M451.5 74h.9M458 74h.9M464.5 74h.9M471 74h.9M477.5 74h.9M484 74h.9M3 67.5h.9M9.5 67.5h.9M16 67.5h.9M22.5 67.5h.9M29 67.5h.9M35.5 67.5h.9M42 67.5h.9M48.5 67.5h.9M55 67.5h.9M61.5 67.5h.9M68 67.5h.9M74.5 67.5h.9M81 67.5h.9M87.5 67.5h.9M94 67.5h.9M100.5 67.5h.9M107 67.5h.9M113.5 67.5h.9M120 67.5h.9M126.5 67.5h.9M133 67.5h.9M139.5 67.5h.9M146 67.5h.9M152.5 67.5h.9M159 67.5h.9M165.5 67.5h.9M172 67.5h.9M178.5 67.5h.9M185 67.5h.9M191.5 67.5h.9M198 67.5h.9M204.5 67.5h.9M211 67.5h.9M217.5 67.5h.9M224 67.5h.9M230.5 67.5h.9M237 67.5h.9M243.5 67.5h.9M250 67.5h.9M256.5 67.5h.9M263 67.5h.9M269.5 67.5h.9M276 67.5h.9M282.5 67.5h.9M289 67.5h.9M295.5 67.5h.9M302 67.5h.9M308.5 67.5h.9M315 67.5h.9M321.5 67.5h.9M328 67.5h.9M334.5 67.5h.9M341 67.5h.9M347.5 67.5h.9M354 67.5h.9M360.5 67.5h.9M367 67.5h.9M373.5 67.5h.9M380 67.5h.9M386.5 67.5h.9M393 67.5h.9M399.5 67.5h.9M406 67.5h.9M412.5 67.5h.9M419 67.5h.9M425.5 67.5h.9M432 67.5h.9M438.5 67.5h.9M445 67.5h.9M451.5 67.5h.9M458 67.5h.9M464.5 67.5h.9M471 67.5h.9M477.5 67.5h.9M484 67.5h.9M3 61h.9M9.5 61h.9M16 61h.9M22.5 61h.9M29 61h.9M35.5 61h.9M42 61h.9M48.5 61h.9M55 61h.9M61.5 61h.9M68 61h.9M74.5 61h.9M81 61h.9M87.5 61h.9M94 61h.9M100.5 61h.9M107 61h.9M113.5 61h.9M120 61h.9M126.5 61h.9M133 61h.9M139.5 61h.9M146 61h.9M152.5 61h.9M159 61h.9M165.5 61h.9M172 61h.9M178.5 61h.9M185 61h.9M191.5 61h.9M198 61h.9M204.5 61h.9M211 61h.9M217.5 61h.9M224 61h.9M230.5 61h.9M237 61h.9M243.5 61h.9M250 61h.9M256.5 61h.9M263 61h.9M269.5 61h.9M276 61h.9M282.5 61h.9M289 61h.9M295.5 61h.9M302 61h.9M308.5 61h.9M315 61h.9M321.5 61h.9M328 61h.9M334.5 61h.9M341 61h.9M347.5 61h.9M354 61h.9M360.5 61h.9M367 61h.9M373.5 61h.9M380 61h.9M386.5 61h.9M393 61h.9M399.5 61h.9M406 61h.9M412.5 61h.9M419 61h.9M425.5 61h.9M432 61h.9M438.5 61h.9M445 61h.9M451.5 61h.9M458 61h.9M464.5 61h.9M471 61h.9M477.5 61h.9M484 61h.9M3 54.5h.9M9.5 54.5h.9M16 54.5h.9M22.5 54.5h.9M29 54.5h.9M35.5 54.5h.9M42 54.5h.9M48.5 54.5h.9M55 54.5h.9M61.5 54.5h.9M68 54.5h.9M74.5 54.5h.9M81 54.5h.9M87.5 54.5h.9M94 54.5h.9M100.5 54.5h.9M107 54.5h.9M113.5 54.5h.9M120 54.5h.9M126.5 54.5h.9M133 54.5h.9M139.5 54.5h.9M146 54.5h.9M152.5 54.5h.9M159 54.5h.9M165.5 54.5h.9M172 54.5h.9M178.5 54.5h.9M185 54.5h.9M191.5 54.5h.9M198 54.5h.9M204.5 54.5h.9M211 54.5h.9M217.5 54.5h.9M224 54.5h.9M230.5 54.5h.9M237 54.5h.9M243.5 54.5h.9M250 54.5h.9M256.5 54.5h.9M263 54.5h.9M269.5 54.5h.9M276 54.5h.9M282.5 54.5h.9M289 54.5h.9M295.5 54.5h.9M302 54.5h.9M308.5 54.5h.9M315 54.5h.9M321.5 54.5h.9M328 54.5h.9M334.5 54.5h.9M341 54.5h.9M347.5 54.5h.9M354 54.5h.9M360.5 54.5h.9M367 54.5h.9M373.5 54.5h.9M380 54.5h.9M386.5 54.5h.9M393 54.5h.9M399.5 54.5h.9M406 54.5h.9M412.5 54.5h.9M419 54.5h.9M425.5 54.5h.9M432 54.5h.9M438.5 54.5h.9M445 54.5h.9M451.5 54.5h.9M458 54.5h.9M464.5 54.5h.9M471 54.5h.9M477.5 54.5h.9M484 54.5h.9M3 48h.9M9.5 48h.9M16 48h.9M22.5 48h.9M29 48h.9M35.5 48h.9M42 48h.9M48.5 48h.9M55 48h.9M61.5 48h.9M68 48h.9M74.5 48h.9M81 48h.9M87.5 48h.9M94 48h.9M100.5 48h.9M107 48h.9M113.5 48h.9M120 48h.9M126.5 48h.9M133 48h.9M139.5 48h.9M146 48h.9M152.5 48h.9M159 48h.9M165.5 48h.9M172 48h.9M178.5 48h.9M185 48h.9M191.5 48h.9M198 48h.9M204.5 48h.9M211 48h.9M217.5 48h.9M224 48h.9M230.5 48h.9M237 48h.9M243.5 48h.9M250 48h.9M256.5 48h.9M263 48h.9M269.5 48h.9M276 48h.9M282.5 48h.9M289 48h.9M295.5 48h.9M302 48h.9M308.5 48h.9M315 48h.9M321.5 48h.9M328 48h.9M334.5 48h.9M341 48h.9M347.5 48h.9M354 48h.9M360.5 48h.9M367 48h.9M373.5 48h.9M380 48h.9M386.5 48h.9M393 48h.9M399.5 48h.9M406 48h.9M412.5 48h.9M419 48h.9M425.5 48h.9M432 48h.9M438.5 48h.9M445 48h.9M451.5 48h.9M458 48h.9M464.5 48h.9M471 48h.9M477.5 48h.9M484 48h.9M3 41.5h.9M9.5 41.5h.9M16 41.5h.9M22.5 41.5h.9M29 41.5h.9M35.5 41.5h.9M42 41.5h.9M48.5 41.5h.9M55 41.5h.9M61.5 41.5h.9M68 41.5h.9M74.5 41.5h.9M81 41.5h.9M87.5 41.5h.9M94 41.5h.9M100.5 41.5h.9M107 41.5h.9M113.5 41.5h.9M120 41.5h.9M126.5 41.5h.9M133 41.5h.9M139.5 41.5h.9M146 41.5h.9M152.5 41.5h.9M159 41.5h.9M165.5 41.5h.9M172 41.5h.9M178.5 41.5h.9M185 41.5h.9M191.5 41.5h.9M198 41.5h.9M204.5 41.5h.9M211 41.5h.9M217.5 41.5h.9M224 41.5h.9M230.5 41.5h.9M237 41.5h.9M243.5 41.5h.9M250 41.5h.9M256.5 41.5h.9M263 41.5h.9M269.5 41.5h.9M276 41.5h.9M282.5 41.5h.9M289 41.5h.9M295.5 41.5h.9M302 41.5h.9M308.5 41.5h.9M315 41.5h.9M321.5 41.5h.9M328 41.5h.9M334.5 41.5h.9M341 41.5h.9M347.5 41.5h.9M354 41.5h.9M360.5 41.5h.9M367 41.5h.9M373.5 41.5h.9M380 41.5h.9M386.5 41.5h.9M393 41.5h.9M399.5 41.5h.9M406 41.5h.9M412.5 41.5h.9M419 41.5h.9M425.5 41.5h.9M432 41.5h.9M438.5 41.5h.9M445 41.5h.9M451.5 41.5h.9M458 41.5h.9M464.5 41.5h.9M471 41.5h.9M477.5 41.5h.9M484 41.5h.9M3 35h.9M9.5 35h.9M16 35h.9M22.5 35h.9M29 35h.9M35.5 35h.9M42 35h.9M48.5 35h.9M55 35h.9M61.5 35h.9M68 35h.9M74.5 35h.9M81 35h.9M87.5 35h.9M94 35h.9M100.5 35h.9M107 35h.9M113.5 35h.9M120 35h.9M126.5 35h.9M133 35h.9M139.5 35h.9M146 35h.9M152.5 35h.9M159 35h.9M165.5 35h.9M172 35h.9M178.5 35h.9M185 35h.9M191.5 35h.9M198 35h.9M204.5 35h.9M211 35h.9M217.5 35h.9M224 35h.9M230.5 35h.9M237 35h.9M243.5 35h.9M250 35h.9M256.5 35h.9M263 35h.9M269.5 35h.9M276 35h.9M282.5 35h.9M289 35h.9M295.5 35h.9M302 35h.9M308.5 35h.9M315 35h.9M321.5 35h.9M328 35h.9M334.5 35h.9M341 35h.9M347.5 35h.9M354 35h.9M360.5 35h.9M367 35h.9M373.5 35h.9M380 35h.9M386.5 35h.9M393 35h.9M399.5 35h.9M406 35h.9M412.5 35h.9M419 35h.9M425.5 35h.9M432 35h.9M438.5 35h.9M445 35h.9M451.5 35h.9M458 35h.9M464.5 35h.9M471 35h.9M477.5 35h.9M484 35h.9M3 28.5h.9M9.5 28.5h.9M16 28.5h.9M22.5 28.5h.9M29 28.5h.9M35.5 28.5h.9M42 28.5h.9M48.5 28.5h.9M55 28.5h.9M61.5 28.5h.9M68 28.5h.9M74.5 28.5h.9M81 28.5h.9M87.5 28.5h.9M94 28.5h.9M100.5 28.5h.9M107 28.5h.9M113.5 28.5h.9M120 28.5h.9M126.5 28.5h.9M133 28.5h.9M139.5 28.5h.9M146 28.5h.9M152.5 28.5h.9M159 28.5h.9M165.5 28.5h.9M172 28.5h.9M178.5 28.5h.9M185 28.5h.9M191.5 28.5h.9M198 28.5h.9M204.5 28.5h.9M211 28.5h.9M217.5 28.5h.9M224 28.5h.9M230.5 28.5h.9M237 28.5h.9M243.5 28.5h.9M250 28.5h.9M256.5 28.5h.9M263 28.5h.9M269.5 28.5h.9M276 28.5h.9M282.5 28.5h.9M289 28.5h.9M295.5 28.5h.9M302 28.5h.9M308.5 28.5h.9M315 28.5h.9M321.5 28.5h.9M328 28.5h.9M334.5 28.5h.9M341 28.5h.9M347.5 28.5h.9M354 28.5h.9M360.5 28.5h.9M367 28.5h.9M373.5 28.5h.9M380 28.5h.9M386.5 28.5h.9M393 28.5h.9M399.5 28.5h.9M406 28.5h.9M412.5 28.5h.9M419 28.5h.9M425.5 28.5h.9M432 28.5h.9M438.5 28.5h.9M445 28.5h.9M451.5 28.5h.9M458 28.5h.9M464.5 28.5h.9M471 28.5h.9M477.5 28.5h.9M484 28.5h.9M3 22h.9M9.5 22h.9M16 22h.9M22.5 22h.9M29 22h.9M35.5 22h.9M42 22h.9M48.5 22h.9M55 22h.9M61.5 22h.9M68 22h.9M74.5 22h.9M81 22h.9M87.5 22h.9M94 22h.9M100.5 22h.9M107 22h.9M113.5 22h.9M120 22h.9M126.5 22h.9M133 22h.9M139.5 22h.9M146 22h.9M152.5 22h.9M159 22h.9M165.5 22h.9M172 22h.9M178.5 22h.9M185 22h.9M191.5 22h.9M198 22h.9M204.5 22h.9M211 22h.9M217.5 22h.9M224 22h.9M230.5 22h.9M237 22h.9M243.5 22h.9M250 22h.9M256.5 22h.9M263 22h.9M269.5 22h.9M276 22h.9M282.5 22h.9M289 22h.9M295.5 22h.9M302 22h.9M308.5 22h.9M315 22h.9M321.5 22h.9M328 22h.9M334.5 22h.9M341 22h.9M347.5 22h.9M354 22h.9M360.5 22h.9M367 22h.9M373.5 22h.9M380 22h.9M386.5 22h.9M393 22h.9M399.5 22h.9M406 22h.9M412.5 22h.9M419 22h.9M425.5 22h.9M432 22h.9M438.5 22h.9M445 22h.9M451.5 22h.9M458 22h.9M464.5 22h.9M471 22h.9M477.5 22h.9M484 22h.9M3 15.5h.9M9.5 15.5h.9M16 15.5h.9M22.5 15.5h.9M29 15.5h.9M35.5 15.5h.9M42 15.5h.9M48.5 15.5h.9M55 15.5h.9M61.5 15.5h.9M68 15.5h.9M74.5 15.5h.9M81 15.5h.9M87.5 15.5h.9M94 15.5h.9M100.5 15.5h.9M107 15.5h.9M113.5 15.5h.9M120 15.5h.9M126.5 15.5h.9M133 15.5h.9M139.5 15.5h.9M146 15.5h.9M152.5 15.5h.9M159 15.5h.9M165.5 15.5h.9M172 15.5h.9M178.5 15.5h.9M185 15.5h.9M191.5 15.5h.9M198 15.5h.9M204.5 15.5h.9M211 15.5h.9M217.5 15.5h.9M224 15.5h.9M230.5 15.5h.9M237 15.5h.9M243.5 15.5h.9M250 15.5h.9M256.5 15.5h.9M263 15.5h.9M269.5 15.5h.9M276 15.5h.9M282.5 15.5h.9M289 15.5h.9M295.5 15.5h.9M302 15.5h.9M308.5 15.5h.9M315 15.5h.9M321.5 15.5h.9M328 15.5h.9M334.5 15.5h.9M341 15.5h.9M347.5 15.5h.9M354 15.5h.9M360.5 15.5h.9M367 15.5h.9M373.5 15.5h.9M380 15.5h.9M386.5 15.5h.9M393 15.5h.9M399.5 15.5h.9M406 15.5h.9M412.5 15.5h.9M419 15.5h.9M425.5 15.5h.9M432 15.5h.9M438.5 15.5h.9M445 15.5h.9M451.5 15.5h.9M458 15.5h.9M464.5 15.5h.9M471 15.5h.9M477.5 15.5h.9M484 15.5h.9M3 9h.9M9.5 9h.9M16 9h.9M22.5 9h.9M29 9h.9M35.5 9h.9M42 9h.9M48.5 9h.9M55 9h.9M61.5 9h.9M68 9h.9M74.5 9h.9M81 9h.9M87.5 9h.9M94 9h.9M100.5 9h.9M107 9h.9M113.5 9h.9M120 9h.9M126.5 9h.9M133 9h.9M139.5 9h.9M146 9h.9M152.5 9h.9M159 9h.9M165.5 9h.9M172 9h.9M178.5 9h.9M185 9h.9M191.5 9h.9M198 9h.9M204.5 9h.9M211 9h.9M217.5 9h.9M224 9h.9M230.5 9h.9M237 9h.9M243.5 9h.9M250 9h.9M256.5 9h.9M263 9h.9M269.5 9h.9M276 9h.9M282.5 9h.9M289 9h.9M295.5 9h.9M302 9h.9M308.5 9h.9M315 9h.9M321.5 9h.9M328 9h.9M334.5 9h.9M341 9h.9M347.5 9h.9M354 9h.9M360.5 9h.9M367 9h.9M373.5 9h.9M380 9h.9M386.5 9h.9M393 9h.9M399.5 9h.9M406 9h.9M412.5 9h.9M419 9h.9M425.5 9h.9M432 9h.9M438.5 9h.9M445 9h.9M451.5 9h.9M458 9h.9M464.5 9h.9M471 9h.9M477.5 9h.9M484 9h.9" class="q2"/>
<path d="M0 241 L488.2 233" stroke="#e23a20" stroke-width="2.2" fill="none"/>
<path d="M0 179 L488.2 180" stroke="#3a4aa8" stroke-width="2.8" stroke-dasharray="11 9" fill="none"/>
<path d="M0 271 V0 H488.2" stroke="#6e1530" stroke-width="2" fill="none"/>
</g>
<path d="M993.3 2003.1l-32.2 8.5M995.8 2000.5l-8.2 1.8M651.6 1970l-21.2 6.6M783.6 1980.2l-28.9 11.7M766.5 1980.5l-10.7 1.8M934.9 1995.7l-22.9 9M601.1 1967.2l-64.3 13.6M718.1 1975.5l-12.1 4.7M839.9 1987.2l-22.7 6.6M750.9 1979.5l-15.6 4.4M567.6 1963.5l-57.9 20.2M873.5 1991.9l-36.6 11.5M945.6 1995.2l-14.5 4.6M807.1 1985.4l-6.4 1.3M565.6 1963l-56.3 23.4M1024.1 2005.1l-11.3 2.8M582.8 1964.7l-50.1 15M818.5 1988l-17.6 7.2M909.4 1992.7l-56.2 16.1M1031.5 2005.9l-16.6 2.9M986.7 2001.6l-24.6 5M946.3 1995.3l-7.2 1.6M707.2 1977.6l-29.8 6.8M1029.4 2004.4l-16.8 5.4M622.8 1965.8l-21.5 8.2M993.5 2001.3l-6.1 2.3M737.3 1979.3l-8.5 3.2M1024 2007.3l-9.8 1.7M906 1995.6l-21.4 8.9M671.3 1969.4l-21.3 7.2M859.7 1987.7l-8.2 3.1M700.7 1974.1l-32.5 10.6M941.5 1995.7l-14.7 5.2M1018 2001.9l-20.8 8.2M879.5 1990.3l-9.5 3.5M989.2 2002.5l-19.5 7.3M709.9 1977.6l-28.9 12.1M565.5 1960.9l-64.5 24.2M688.4 1970.9l-10.9 2.2M968 2000.8l-13.5 5.7M817.4 1984.8l-19.6 4.8M1034.8 2006.2l-35 6.8M943.3 1997.2l-6.9 1.9M1030.1 2007.1l-38.5 8.7M888.7 1994.3l-13.2 3.9M977.6 2002.4l-55.7 9.9M566.2 1962.3l-47.6 14.3M825.6 1988.3l-21.1 6.9M813.7 1983.9l-19.8 4.4M574.7 1963.7l-28.5 8M873.1 1991.8l-20.4 3.4M978.4 2001.9l-18.9 7.4M985.4 2001.1l-38.9 6.7M710.8 1977.9l-7.6 2.8M785.5 1980.8l-16.2 2.7M836.5 1986.6l-36.2 8.9M974.7 2001.1l-24.9 4.4M695 1973.6l-16 6.3M812.3 1984.5l-17 6.3M763.2 1981.7l-5.3 2M1041.9 2008.7l-4.4 1.5M796.1 1985.3l-15.2 5M582.4 1961.4l-40.1 13.2M587.4 1964.3l-25.6 7.3M837.2 1986.6l-30 11.9M871.8 1990.4l-26.1 7.9M806.7 1986.2l-32.3 11.7M623.2 1968l-14.1 5.5M980.3 2000.3l-22.2 6.8M750.7 1981.4l-39.7 11.7M907.3 1995.7l-35.9 8.9M764.8 1978.8l-29.6 7M814.2 1984.5l-13.6 3.9M893.3 1992.8l-11.5 2.3M897.2 1993.1l-6.9 1.9M775.4 1981l-18.6 3.7M696.9 1975.7l-33.8 9M901.3 1994.7l-16.9 5.9M763.4 1981l-16.6 4.4M946.3 1998.1l-18.8 5.2M765 1981.6l-35 9.8M919.6 1996.2l-20 8.2M764.1 1982.1l-21.8 6.9M1012.3 2004.9l-12.4 3.9M878.9 1992.8l-15.7 5M616.2 1965.5l-46.7 10.2M930.9 1996l-24.8 9.1M866.4 1987.6l-10.8 2M949.5 1997.3l-15.6 3.3M755.5 1982l-43.9 11.7M835.4 1988.1l-5.1 1M913.4 1996l-13.7 4.5M720 1973.9l-24.7 7M762 1979.6l-41.3 8.4M940.4 1996.1l-10.2 3.5M710.3 1976.9l-41.3 14.5M800.6 1985.8l-5.3 1.7M584.7 1961.9l-35.8 10.9M581.7 1962.3l-46.6 10.9M730.1 1977l-20.8 8.4M639 1966.4l-11.7 2.7M621.8 1965.5l-16.1 6M798.1 1985.7l-17.4 4.9M819.2 1983.6l-11 3.9M987.6 2002.7l-17.1 2.8M1020.1 2002.2l-47.4 8.4M709.7 1974.4l-6.1 1.1M966.4 2001.4l-22.1 7.5M1027.7 2002.9l-33 11.4M937.9 1994.6l-10.5 2.2M923.9 1996.3l-31.4 8.2M1043.2 2006.7l-23.6 5.5M575.5 1964.1l-61 12.5M993.2 2002.9l-14.2 3.9M709.1 1976.4l-20.8 3.4M582.5 1965.3l-22.5 7.4M728.6 1975.2l-15.5 6.4M559.6 1960.9l-47 19.6M747 1979.7l-18.3 3.1M763.9 1980.7l-19.4 6.8M853 1990.1l-8.2 1.7M1030.5 2007l-51.5 11.2M967.5 1998.3l-32.1 13M585 1964.4l-22.6 6.8M652.8 1971.2l-18.6 5.9M709 1976.9l-14.9 3M923.9 1994.1l-39 12.9M711.3 1975.3l-5.6 1M849 1987.5l-17.6 5.3M839.8 1986.7l-22 4.4M718 1977l-26.4 7.8M730.3 1977.2l-27.7 7.4M917.8 1997.2l-14.7 5.6M979 2000.4l-24.2 5.5M589.4 1964.7l-59.2 13.2M997 2000.4l-47.8 14.3M968.8 1999.6l-10.1 1.8M1021.5 2003.3l-10.3 3.3M666 1969l-33.5 9M798.7 1986l-31.6 8.2M936.2 1996l-14 2.7M885 1993.8l-11 4.1M1038.2 2006.4l-5.2 2M850.5 1989.7l-14 4.6M882 1992.4l-10.1 3.1M945.8 1995.7l-30.1 10M686.5 1971.2l-32.2 10.7M1003.7 2002.4l-9 3.7M928.7 1998.4l-43.7 18.3M909.7 1994.8l-11.5 4.1M945.7 1996.6l-9.7 2.1M578.7 1963.9l-18.7 4M920.7 1993.8l-13.1 4.8M825.3 1986.4l-19.6 6.9M916.7 1992.9l-6.8 2.5M788.8 1984.1l-21.3 8.7M968 1997.9l-32 9.1M915.6 1993.8l-10.2 3.6M782.3 1982.5l-17.8 5.9M987.7 2000l-6.1 1.9M720.2 1974.3l-9.7 2.3M896.2 1994.2l-29.5 10.7M794.9 1984.2l-16.8 6.7M790.7 1984.8l-21 4.5M892.6 1994.6l-38.3 12.4M884.4 1989.5l-22.1 7.7M578.4 1961.6l-50 19.9M924.8 1997.9l-22.6 5.4" class="sk"/><path d="M756.1 1979l-10.1 2.4M645.1 1967.2l-46.7 13.7M586.8 1963.3l-25 7.9M569.7 1963.3l-27.1 7M693.8 1973.2l-33 8.9M692.5 1975.6l-22 5M565.9 1960.7l-12.2 4.3M959.9 2000.1l-11.1 3.8M969.1 1999.8l-51.6 20.2M812.5 1984.1l-5.5 2.2M589 1963.8l-22 8.9M1013.9 2003.5l-21.1 8.8M717.3 1975.1l-8.9 3.1M698.3 1972.5l-20.6 3.6M891.9 1991.2l-17.9 3.9M677.9 1972.3l-14.9 4.8M800.8 1985.5l-13.2 5.4M900.3 1990.9l-25.1 7.4M727.2 1976.6l-28.9 8.6M976.7 1998.6l-6.4 1.5M808.7 1984.8l-33.4 8.9M672 1973.2l-22.7 4.4" class="sb"/>
<g transform="matrix(1 0.09410 0 1 559.3 1691.2)">
<rect width="486.7" height="268.5" fill="url(#tc1)"/>
<rect width="486.7" height="268.5" fill="url(#gc1)"/>
<path d="M2.5 266.3l0.9 0.5M8.6 266.7l1.4 -0.4M15.7 265.7l-0.3 1.6M21.4 266.3l1 0.4M27.2 266.3l1.9 0.4M34.5 266.5h.9M40.8 266.5h.9M47.4 266.9l-0.6 -0.8M53.4 266.5h.9M59.3 266.8l0.8 -0.5M66 266.5h.9M72.7 266.5l-0.7 0.1M78.6 266.5h.9M84.9 266.5h.9M91.3 265.7l-0.3 1.6M97.5 266.5h.9M103.5 266.8l0.5 -0.6M109.4 266.7l1.3 -0.4M117.2 266.4l-1.6 0.2M123.2 266.7l-0.9 -0.4M129 266.5h.9M134.4 266.8l1.7 -0.5M141.6 266.5h.9M147.9 266.5h.9M154.2 266.5h.9M160.5 266.5h.9M166.5 266.2l0.6 0.5M173 266.9l0.1 -0.8M178.9 266.6l1.1 -0.3M186 265.9l-0.5 1.3M192 266.5h.9M197.8 266.3l0.9 0.4M204.1 267l0.9 -1M211.2 266.2l-0.5 0.7M216.5 265.9l1.4 1.1M223.5 266.5h.9M229.8 266.5h.9M236.1 266.5h.9M242 266.7l0.8 -0.3M248.7 266.5h.9M255 266.5h.9M261.8 266.3l-0.9 0.3M267.5 267l0.2 -0.9M273.4 266.6l1.1 -0.1M280.2 266.5h.9M286.2 266.7l0.6 -0.4M293 267.2l-0.4 -1.3M298.5 265.8l1.2 1.3M304.7 266.6l1.5 -0.2M311.7 266.5h.9M317.6 266.9l0.9 -0.8M324.3 266.5h.9M331 266.4l-0.8 0.3M336.9 266.5h.9M343.8 266.1l-1.2 0.8M349.4 266.9l0.1 -0.9M355.5 267.1l0.5 -1.1M361.9 266.9l0.4 -0.8M367.9 267.2l1 -1.5M374.7 266.5h.9M381 266l0 1M386.8 266.2l1 0.5M393.6 266.5h.9M400 266.9l-0.1 -0.8M406.2 267.2l0 -1.5M413 266.7l-1 -0.5M418.4 266.7l0.8 -0.4M425.1 266.5h.9M431.9 266.3l-1 0.3M437.6 266.9l0.1 -0.8M443.6 266.2l0.8 0.6M449.9 266.6l0.9 -0.2M456.6 266.5h.9M462.4 266.5l0.9 0.1M469.5 266.9l-0.5 -0.8M474.8 266.8l1.3 -0.5M481.5 266.3l0.6 0.5M2.4 260.3l1.3 -0.3M9.4 260.6l-0.2 -0.8M14.9 260.5l1.3 -0.6M21.8 260.7l0.2 -1M27.1 260.2l2.2 0M34.5 260.2h.9M40 260.2l1.6 -0.1M46.7 260.6l0.9 -0.8M52.3 260.7l2.2 -1M58.5 260.6l2.4 -0.8M65.1 260.3l1.8 -0.2M71.2 260.5l2.2 -0.6M78.6 260.7l0 -1M83.9 260.3l2 -0.3M91.2 260.7l0.1 -1.1M97.7 260.5l-0.4 -0.7M103.2 260.9l1.1 -1.4M109.6 260.3l0.9 -0.2M116.2 260.7l0.3 -1M122.7 260.2h.9M129 260.2h.9M135.3 260.8l0.1 -1.2M141.6 260.2h.9M147 260.6l1.8 -0.8M153.7 259.9l1.1 0.6M159.9 260.5l1.2 -0.6M166.4 260.7l0.7 -1M173.1 260.2h.9M178.8 260.8l1.1 -1.3M184.9 260.5l1.7 -0.6M192.3 259.9l-0.5 0.5M197.8 260.3l1 -0.1M204.5 260.6l0.1 -0.8M210.3 260.6l1.2 -0.8M216.3 261.2l1.8 -2M223.6 260.6l-0.1 -0.9M229.2 260.5l1.1 -0.7M235.6 260.8l1 -1.3M241.7 259.7l1.4 0.9M248.7 260.2h.9M254.6 260.2l0.9 -0.1M260.5 260.7l1.6 -1.1M267.6 260.2h.9M273.2 260.2l1.4 0.1M279.7 260.7l1 -1M287.1 261l-1.2 -1.7M292 260.9l1.5 -1.4M298.1 260.4l2.1 -0.4M304.9 260.3l0.9 -0.2M311.7 260.2h.9M318.2 260.7l-0.4 -1M323.1 260.3l2.4 -0.1M330.6 260.2h.9M336.4 260.5l0.9 -0.5M342.7 260.5l1.1 -0.7M348.8 259.4l1.4 1.5M355.5 260.5l0.6 -0.6M362.1 260.2h.9M368.1 260l0.7 0.4M373.6 260.3l2.2 -0.2M380.9 260.8l0.3 -1.2M387.3 260.2h.9M392.5 260.1l2.2 0.2M399.1 260.6l1.5 -0.8M406.2 260.2h.9M412.3 260.5l0.5 -0.6M418.8 260.2h.9M424.6 260.9l1 -1.4M431.4 260.2h.9M437.3 260.1l0.8 0.1M443.5 260.6l1.1 -0.9M450.6 260.6l-0.7 -0.9M456.6 260.2h.9M462.3 260.4l1.3 -0.4M468.1 261.2l2.1 -2M475.1 260.6l0.7 -0.8M481.5 259.7l0.5 1M1.9 254.4l2.3 -0.9M8 254.6l2.5 -1.4M14.5 254.5l2.2 -1.2M21.1 254.4l1.6 -1M27.9 254.6l0.6 -1.5M33.4 255.3l2.2 -2.7M40.1 253.6l1.3 0.6M46.6 254.9l1 -2M52.6 254.7l1.6 -1.6M58.3 254.5l2.7 -1.3M65.1 254l1.7 -0.1M72.2 254.7l0.3 -1.5M77.7 255.1l1.9 -2.4M84 254.5l1.7 -1.2M89.7 254.5l3 -1.1M96.7 253.9l1.6 -0.1M103.7 254.9l0.2 -1.9M108.9 254.9l2.5 -2M115.6 253.9l1.6 -0.1M122.2 254.4l1 -1.1M128.2 254.4l1.5 -0.9M134.9 254.4l0.9 -1.1M141 253.8l1.3 0.2M146.4 254.8l2.9 -1.9M153.6 254.8l1.2 -1.7M159.7 254.9l1.5 -1.9M165.6 254.6l2.4 -1.4M172.3 254.6l1.6 -1.4M178.4 255l2.1 -2.1M185.2 254.7l1.1 -1.7M191 255.1l1.9 -2.5M197.7 255.2l1.3 -2.6M204 254.1l1.3 -0.5M210.2 254.7l1.4 -1.7M215.6 254.7l3.2 -1.6M222.9 254.8l1.3 -1.9M228 254.5l3.6 -1.1M235.7 254.8l0.8 -1.9M242.2 254.6l0.4 -1.5M248 254.2l1.3 -0.6M254.1 254.7l1.8 -1.5M260.5 255l1.7 -2.1M266.7 254.4l1.9 -0.9M273 255.2l1.8 -2.7M279.1 254.2l2.3 -0.7M285.3 254.2l2.5 -0.6M291.5 254.6l2.7 -1.5M297.8 254.9l2.6 -1.9M304.8 254.6l1.2 -1.4M310.9 255l1.7 -2.2M317.7 254.4l0.5 -1M323.4 254.4l1.8 -1.1M329.2 254.8l2.9 -1.9M336.2 254.2l1.3 -0.6M342.3 254l1.8 -0.1M348.7 254.5l1.6 -1.2M354.6 254.2l2.4 -0.5M361.4 254.7l1.4 -1.6M367.9 255.1l1 -2.4M373.2 254.4l3.1 -1.1M380.6 254.7l0.8 -1.6M387.3 253.9h.9M392.5 254.1l2.3 -0.3M398.3 254.4l3.3 -1M405 254.7l2.4 -1.5M411.9 254l1.3 -0.1M417.8 254.3l2 -0.7M424.4 254.1l1.4 -0.4M431.1 254.7l0.5 -1.6M436.6 254.6l2.2 -1.4M442.9 254.3l2.2 -0.9M449.5 254.5l1.6 -1.1M456.5 254.6l0.3 -1.4M461.8 254.3l2.2 -0.8M468.5 255.1l1.5 -2.5M474.9 254.9l1.2 -1.9M480.9 254.6l1.8 -1.4M1.5 248.9l3.1 -2.6M7.8 248.1l3 -0.9M14.1 248.8l3.1 -2.4M20 248.3l3.7 -1.4M26.7 248.6l3 -2M32.7 248.5l3.6 -1.8M39.7 248.4l2.1 -1.6M45.7 249.4l2.9 -3.6M52.1 247.8l2.6 -0.4M58.3 249.3l2.7 -3.3M64.5 248.7l3 -2.2M71.6 248.6l1.4 -2.1M77.2 247.9l2.9 -0.5M84 247.8l1.9 -0.4M90.8 248.9l0.7 -2.5M96.6 248.5l1.8 -1.8M102.1 248.2l3.5 -1.3M108.7 248.8l2.8 -2.5M115.5 248l1.8 -0.9M121.4 248.4l2.6 -1.6M127.9 248l2.3 -0.9M133.8 249.4l3 -3.7M140.6 248.2l2 -1.2M146.7 247.8l2.4 -0.4M153.1 248.6l2.2 -2M159.3 248.8l2.3 -2.3M166.2 248.3l1.3 -1.5M172.3 248.2l1.6 -1.2M178.1 248.3l2.6 -1.4M184.4 248.9l2.6 -2.5M190.5 248.2l3.1 -1.2M197.5 248.3l1.6 -1.5M202.8 248.7l3.5 -2.3M209.5 248.6l2.8 -2M216.3 248.3l1.9 -1.4M222 248.7l2.9 -2.1M229.1 249l1.3 -2.8M234.7 248.8l2.7 -2.3M241.6 248.7l1.7 -2.1M247.4 248.2l2.5 -1.1M254.4 248.6l1.2 -2.1M260.3 248.7l2 -2.2M266.1 247.7l2.9 -0.2M272.9 248.5l1.9 -1.8M279 248.7l2.5 -2.1M285 247.9l3 -0.6M291.9 249l1.7 -2.7M297.6 248.7l3 -2.1M304.2 248.8l2.3 -2.4M310.7 248l1.9 -0.8M316.4 248.2l3.3 -1.3M323.4 248.6l1.9 -2M329.2 248.5l2.8 -1.8M335 248.2l3.8 -1.2M341.7 248.2l3 -1.2M348.3 249.2l2.4 -3.2M354.7 248.3l2.2 -1.3M361 248.2l2.1 -1.2M367 248.8l2.9 -2.4M373.9 248.2l1.7 -1.2M378.9 249.1l4.1 -2.9M386.2 249l2.2 -2.8M392.5 248.2l2.3 -1.2M398.8 248.5l2.2 -1.9M405.1 248.8l2.2 -2.3M411.4 248.4l2.3 -1.7M417.3 248.1l3 -1M423.8 248.4l2.5 -1.5M429.9 248.6l2.9 -2M436.2 249.2l2.9 -3.2M442.8 248.6l2.3 -2M449.4 248.5l1.7 -1.7M454.9 247.9l3.3 -0.6M461.6 248.3l2.6 -1.3M467.7 247.9l3 -0.6M473.6 248.5l3.8 -1.8M479.9 248.4l3.9 -1.7M1.5 242.7l3 -2.8M7.9 241.8l2.7 -0.9M13.5 242.6l4.2 -2.7M20.8 242.3l2.1 -1.9M26.6 242.1l3.2 -1.6M33 242.7l2.9 -2.9M39.5 242.9l2.6 -3.2M45.5 242.6l3.1 -2.5M52.3 242.1l2.2 -1.6M57.8 242.4l3.7 -2.1M64.3 242.5l3.5 -2.3M70.8 242.2l2.9 -1.8M77.4 242.9l2.4 -3.2M82.9 242.3l3.9 -2.1M89.9 242.8l2.5 -3M95.7 242.9l3.7 -3.2M101.9 242.7l3.7 -2.8M108.4 242.5l3.4 -2.4M114.7 242l3.4 -1.4M120.9 242.8l3.6 -2.9M127.8 242.5l2.4 -2.4M133.1 242.7l4.4 -2.9M139.8 242.6l3.7 -2.6M146 241.8l3.8 -1.1M153.2 242.4l2 -2.2M158.7 243.1l3.6 -3.7M164.5 242.9l4.6 -3.2M171.3 241.9l3.7 -1.2M177.4 242.4l4 -2.2M184.1 241.9l3.2 -1.3M190.1 242.9l3.8 -3.3M196.8 243.1l3 -3.7M203 242.3l3.3 -2.1M209.5 242.3l2.8 -2M216.2 242.5l2 -2.4M221.9 242.8l3.3 -3M228 242.6l3.6 -2.6M234.5 243l3.2 -3.5M240.2 242.7l4.3 -2.8M247.2 242.8l3.1 -3M253 242.2l4 -1.9M259.4 242.5l3.8 -2.5M265.5 242.1l4.1 -1.5M272.3 242.1l3.2 -1.7M278.9 241.9l2.6 -1.2M285.3 242.5l2.3 -2.4M290.6 242.9l4.4 -3.1M297.3 242.8l3.5 -3M303.5 243l3.7 -3.3M310 242.3l3.4 -2.1M316.8 242.4l2.3 -2.3M322.6 242.4l3.3 -2.2M329 242.7l3.2 -2.8M335.4 242.6l3 -2.6M341.4 241.9l3.7 -1.3M347.5 242.3l4 -2M354 242.5l3.6 -2.4M360.8 242.3l2.5 -1.9M366.8 242.8l3.1 -3M373 243.2l3.5 -3.8M379.1 243.2l3.8 -3.8M386 242.9l2.5 -3.3M391.8 242.4l3.7 -2.3M398.1 243l3.6 -3.4M405 242.2l2.4 -1.8M410.8 242.3l3.4 -2M416.8 242.9l4 -3.1M422.7 242.2l4.7 -1.7M429.5 243l3.8 -3.5M436.1 242.8l3.1 -3M442.3 242.4l3.4 -2.2M448.2 242.6l4.3 -2.6M454.3 241.9l4.7 -1.2M461.2 242.4l3.5 -2.2M468.1 241.6l2.1 -0.6M474 241.9l3 -1.3M480.8 242.3l2.1 -1.9M0.9 236.4l4.2 -2.8M7.6 236.3l3.4 -2.5M13.7 237.2l3.9 -4.4M19.6 236.2l4.6 -2.3M26.3 236.8l3.7 -3.6M32.3 235.8l4.5 -1.5M38.8 237l4 -4.1M45.3 236.2l3.7 -2.4M51.6 236.9l3.7 -3.8M58.2 236.9l3 -3.8M64.4 236.5l3.3 -3M69.6 236.4l5.4 -2.9M76.9 236.1l3.3 -2.3M82.8 236.2l4.1 -2.4M88.9 235.8l4.5 -1.7M95.6 235.9l3.8 -1.9M101.3 236.4l5 -2.8M108.1 236.5l4 -3M114.3 236.8l4.2 -3.6M120.9 236.7l3.5 -3.4M126.8 236.5l4.3 -2.9M133.5 235.5l3.6 -1.1M140.2 236.3l2.7 -2.6M146.4 236.2l2.9 -2.4M152.1 236.1l4.1 -2.1M158.1 236.2l4.8 -2.3M165.3 236.6l3.1 -3.2M171.1 236.5l4 -3M177.9 236.5l3.1 -3M183.6 236.1l4.1 -2.1M190.6 236.6l2.9 -3.1M195.7 236.3l5.2 -2.6M202.5 236.4l4.2 -2.8M208.9 236.2l4 -2.4M215.1 235.9l4.3 -1.8M221.7 236.4l3.6 -2.8M227.6 236.4l4.3 -2.8M234.2 236.8l3.9 -3.6M240.2 236.3l4.5 -2.6M246.1 236.9l5.1 -3.8M253 236.4l4 -2.8M259.4 236.9l3.7 -3.8M266 236.1l3.3 -2.1M272.2 236.3l3.4 -2.5M278.1 236.7l4.3 -3.4M284.1 237.1l4.7 -4.2M291.1 236.6l3.4 -3.2M297.5 236.1l3.2 -2.2M303.5 236.4l3.8 -2.8M309.9 236.4l3.5 -2.7M316.2 236.7l3.5 -3.5M322.7 236.6l3.3 -3.2M328.3 236.8l4.7 -3.5M334.6 236.1l4.7 -2.1M341.7 236.5l3.1 -2.9M347.8 236.7l3.5 -3.4M353.8 236.7l3.9 -3.3M360.4 237.3l3.4 -4.7M366.3 236.3l4.2 -2.6M373.2 236.4l2.9 -2.9M379.6 236.6l2.8 -3.2M385.3 236.4l4.1 -2.8M391.5 236.2l4.2 -2.3M398.5 236.2l2.7 -2.4M405.2 236l1.9 -2.1M410.7 236.2l3.5 -2.4M416.8 235.8l4.1 -1.7M423 236.5l4.3 -3M429.7 236.1l3.5 -2.1M435.7 236.7l4 -3.4M441.9 237.1l4.3 -4.2M448.1 236.4l4.5 -2.8M454.5 236.1l4.2 -2.2M460.7 237.1l4.3 -4.2M467.3 236.8l3.8 -3.6M473.9 236.7l3.2 -3.4M479.5 236.3l4.5 -2.6M0.2 230.3l5.6 -3.1M7.4 230.8l3.8 -4.1M13.3 230.7l4.6 -4.1M19.8 230.7l4.2 -4M26.7 230.1l3 -2.7M31.7 230.2l5.6 -3M38.1 230.4l5.4 -3.4M44.5 230l5.2 -2.5M51.3 229.9l4.2 -2.5M57.6 230.1l4.2 -2.7M64.2 230.3l3.6 -3.3M70.4 230.4l3.7 -3.4M76.1 230.2l5 -3M82.7 231.3l4.4 -5.2M89.2 230.9l4 -4.4M94.9 229.7l5.2 -2M101.9 230.6l3.9 -3.7M108.2 230.2l3.8 -2.9M114 230.9l4.9 -4.4M120.2 230.4l5 -3.4M127.1 230.7l3.8 -3.9M132.8 230.7l4.9 -4M139.7 230.6l3.9 -3.8M146 229.9l3.8 -2.4M152 230.1l4.3 -2.8M158.5 230.1l4 -2.7M164.8 230.6l4 -3.9M170.4 231l5.5 -4.7M176.8 230.4l5.3 -3.4M183.8 230.3l3.9 -3.1M189.7 230.1l4.5 -2.8M196.3 230.9l3.9 -4.5M202.7 230.2l3.7 -3M209 230.2l3.8 -3M214.7 230.9l5 -4.3M222.1 230.4l2.9 -3.5M227.7 230.6l4.3 -3.7M234.4 230.1l3.4 -2.7M239.8 230.6l5.2 -3.8M246.5 229.9l4.4 -2.4M252.6 230.3l4.8 -3.1M259.2 230.5l4.2 -3.5M265.7 230.8l3.7 -4.1M271.8 230.6l4.2 -3.8M278 230.2l4.3 -3.1M284.7 230.3l3.7 -3.1M291 230.7l3.7 -4M296.5 230.5l5.2 -3.6M302.7 230.6l5.4 -3.8M309.7 230.2l4.1 -2.9M315.4 230l5.2 -2.6M322.1 230.2l4.4 -2.9M328.8 230.3l3.6 -3.1M335 229.9l3.8 -2.4M341.1 230.1l4.2 -2.9M347.2 230l4.6 -2.7M354.1 229.9l3.4 -2.5M360.1 230.2l4 -2.9M366.2 230.7l4.3 -3.9M372.2 231l4.9 -4.5M379 230.8l4 -4.3M384.7 229.8l5.2 -2.3M391.3 230.4l4.7 -3.4M397.7 230.9l4.3 -4.4M403.8 230l4.7 -2.6M409.9 230.5l5.2 -3.5M416.5 230.6l4.5 -3.7M423 230.5l4.3 -3.6M428.9 230.4l5 -3.4M435.9 230.8l3.6 -4.2M441.2 230.1l5.6 -2.8M448.2 230.4l4.2 -3.5M454.7 230l3.8 -2.5M460.4 230.1l5 -2.8M466.8 231.2l4.7 -5.1M473 230.6l5 -3.9M479.4 230l4.7 -2.6M0.3 223.6l5.4 -2.4M7.1 224.2l4.4 -3.6M13.6 224.5l4 -4.2M19.6 224.3l4.5 -3.7M25.8 224.4l4.9 -4.1M32.3 224.2l4.4 -3.6M37.8 224.4l6.1 -4M44.9 223.8l4.3 -2.8M51 224.1l4.8 -3.4M56.9 224.5l5.6 -4.2M63.6 224.5l4.8 -4.2M69.7 224.6l5.2 -4.4M76.3 224.1l4.5 -3.4M82.9 223.7l3.9 -2.6M88.8 224.6l4.8 -4.3M95.3 224.5l4.4 -4.3M101.1 223.9l5.4 -3M107.4 224.1l5.4 -3.5M113.5 224.5l5.8 -4.3M119.9 224.3l5.6 -3.8M127.2 224.7l3.6 -4.5M133.1 224.1l4.5 -3.4M139.2 223.6l4.8 -2.3M145.2 224.6l5.4 -4.4M151.9 224.4l4.6 -4M158 223.6l5 -2.5M164.9 224.2l3.9 -3.6M170.9 224l4.4 -3.1M177 224.8l4.8 -4.8M183.5 224.1l4.5 -3.4M189.9 224.1l4.2 -3.5M195.5 224.1l5.5 -3.4M202.2 224.5l4.9 -4.1M207.8 224.8l6.2 -4.7M215.5 224.2l3.5 -3.7M220.8 224.1l5.3 -3.4M227.5 224.1l4.5 -3.4M233.9 224.5l4.4 -4.2M240 224l4.7 -3.1M246.6 224.2l4.1 -3.6M252.7 224.3l4.7 -3.7M259.3 225.1l3.9 -5.5M265.5 224.1l4.2 -3.4M271.8 224.5l4.2 -4.3M277.7 224.6l5.1 -4.4M284.6 224.7l3.7 -4.5M290.3 224.1l4.9 -3.4M296.8 224.5l4.7 -4.2M303 223.9l4.7 -3.1M309.1 223.9l5.3 -3M315.2 224.1l5.5 -3.4M321.6 223.8l5.3 -2.9M328.4 223.9l4.4 -2.9M334.8 224.3l4.2 -3.7M341.1 224.6l4.1 -4.3M347.9 224.9l3.1 -5M353.8 224.2l3.9 -3.5M359.8 224.7l4.6 -4.5M366.3 224.6l4.1 -4.4M372.3 224l4.7 -3.2M378.2 224.1l5.6 -3.3M385.2 224.8l4.2 -4.8M390.9 224.3l5.5 -3.7M397 224.3l5.8 -3.7M404.1 223.9l4.2 -3M410.8 224.5l3.5 -4.2M416.6 224.2l4.5 -3.5M422.3 224.7l5.6 -4.6M428.8 224.3l5.3 -3.7M435.3 224.4l4.8 -4M442 223.8l3.9 -2.9M447.8 223.6l5 -2.4M454 224.4l5.2 -4M460.2 224.7l5.4 -4.5M466.8 224.5l4.8 -4.2M472.8 224.3l5.5 -3.9M479.3 224l4.9 -3.3M0.2 218.7l5.6 -5.2M6.7 218.1l5.3 -4.1M13.6 217.4l4 -2.6M19.1 218.7l5.5 -5.2M25.9 218.3l4.6 -4.4M31.9 217.8l5.3 -3.4M38.3 218.3l5 -4.3M45 217.5l4.3 -2.8M50.9 217.7l4.9 -3.2M57.1 217.6l5.1 -2.9M64.1 218l3.7 -3.9M69.8 218l5 -3.8M75.6 217.9l6 -3.7M82.5 217.7l4.8 -3.2M89 218.3l4.4 -4.4M94.6 217.6l5.7 -3M102 218.4l3.6 -4.5M107.2 218l5.8 -3.9M113.3 217.8l6.2 -3.3M120.8 218.4l3.8 -4.5M126.5 217.9l5 -3.6M132.2 218.2l6.2 -4.1M139.4 217.8l4.5 -3.5M145.3 217.8l5.2 -3.5M151.7 217.5l5.1 -2.7M157.9 218.1l5.1 -3.9M164.3 218.4l4.9 -4.6M170.3 218.5l5.5 -4.9M177.4 218.3l4.1 -4.3M183.7 218l4 -3.9M189.7 218.2l4.7 -4.3M195.8 218.4l5.1 -4.6M202.4 217.7l4.3 -3.2M208 217.7l5.8 -3.3M214.8 217.9l4.9 -3.6M221 217.9l5.1 -3.7M227.1 218.3l5.4 -4.4M234 218.1l4.1 -4.1M240.3 218.1l4.2 -4M246.5 217.8l4.4 -3.5M251.6 218.1l6.8 -3.9M258.8 217.9l5 -3.6M265.7 217.4l3.9 -2.7M272 218.4l3.9 -4.5M278.1 218.2l4.2 -4.1M283.7 217l5.6 -1.8M290.4 218l4.9 -3.9M297.1 218.6l4.1 -5.1M302.6 218l5.6 -3.7M308.6 218.3l6.2 -4.3M315.4 217.3l5.3 -2.5M321.8 218l4.9 -3.8M328.5 217.7l4.2 -3.2M334.9 218.1l4 -4.1M340.6 217.6l5.2 -2.9M347.3 217.7l4.5 -3.2M353.4 218.7l4.8 -5.2M359.7 218.2l4.8 -4.2M365.7 217.8l5.3 -3.4M373.2 217.9l2.9 -3.6M378.7 217.8l4.7 -3.4M385.3 218.1l4.1 -4M391.3 217.4l4.6 -2.6M397.6 218.1l4.7 -3.9M403.3 217.7l5.8 -3.3M410.2 218.9l4.6 -5.6M416.4 217.8l4.8 -3.3M422.4 217.6l5.3 -2.9M428.5 218.3l5.8 -4.4M434.9 218.5l5.6 -4.9M441.6 218.1l4.8 -3.9M447.2 217.9l6.1 -3.6M455 217.6l3.3 -3M460.8 217.8l4.2 -3.5M466.8 218l4.8 -3.8M472.8 218.1l5.4 -4M479.9 217.8l3.8 -3.4M0.3 211.6l5.4 -3.6M7.1 212.4l4.5 -5.2M13.2 211.5l4.7 -3.5M20 211.6l3.8 -3.6M25.9 211.4l4.5 -3.3M32.4 212l4.2 -4.4M38.5 211.7l4.7 -3.9M44.8 211.7l4.7 -3.9M51 211.4l4.8 -3.3M57.5 211.4l4.3 -3.3M63 211.4l5.9 -3.2M70.2 211.5l4.2 -3.3M76.2 212l4.8 -4.4M82.2 211.6l5.5 -3.5M88.7 212.2l4.9 -4.8M94.5 211.7l5.9 -3.7M102.2 212.1l3.3 -4.7M107.6 212.4l4.9 -5.2M114.7 211.9l3.5 -4.2M119.9 212.3l5.6 -4.9M126.2 211.3l5.6 -3M132.9 211.5l4.7 -3.4M139.3 211.8l4.6 -4M145.5 211.7l4.8 -3.7M151.9 212l4.6 -4.4M158.2 211.9l4.7 -4.3M164.1 211.6l5.5 -3.6M170.6 211.4l5 -3.3M176.5 211.4l5.9 -3.3M183.8 211.9l3.8 -4.2M190.3 212l3.5 -4.4M195.8 212l5 -4.3M202.5 211.6l4.2 -3.7M208.4 211.6l5 -3.5M213.8 211.2l6.9 -2.9M221.3 211.8l4.4 -4M227.2 211.4l5.2 -3.3M233.4 211.2l5.3 -2.9M239.9 212.1l5 -4.5M246.6 211.7l4.1 -3.9M252.6 211.4l4.9 -3.2M259 211.6l4.6 -3.7M265.3 212l4.7 -4.5M271.7 211.9l4.4 -4.2M278 211.9l4.5 -4.2M283.5 211.4l6 -3.2M290.6 211.7l4.3 -3.8M297 211.6l4.1 -3.6M302.8 211.5l5.2 -3.4M309 211.9l5.5 -4.1M315.5 212l5 -4.4M321.8 211.2l5.1 -2.9M328.7 210.7l3.8 -1.8M334.4 211.7l5 -3.7M340.6 211.7l5.1 -3.7M347.5 211.5l4.1 -3.5M353.5 212.1l4.7 -4.7M359.8 211.5l4.7 -3.3M365.9 211.3l5 -2.9M372.4 211.7l4.6 -3.8M378.8 211.1l4.4 -2.5M385 211.8l4.5 -4M390.6 211.7l6 -3.8M397.4 211.7l5.1 -3.8M404 211.8l4.4 -4.1M410 211.9l5 -4.1M416.5 211.5l4.7 -3.4M422.5 212l5.2 -4.4M429.1 211.8l4.7 -3.9M435.4 212l4.5 -4.4M441.8 212.1l4.5 -4.6M447.7 211.9l5.3 -4.3M453.3 212l6.6 -4.4M460 211.9l5.9 -4.2M467.5 212l3.4 -4.5M474 211.7l3 -3.9M479 211.3l5.6 -3M0.9 205.5l4.2 -4M7.2 205.4l4.2 -3.8M12.5 206.1l6.1 -5.1M19.6 204.5l4.6 -2M25.6 205.5l5.1 -4M32 204.6l5 -2.3M38.5 205.3l4.5 -3.5M44.7 205.4l4.9 -3.8M50.6 205.6l5.7 -4.3M58 205.3l3.5 -3.6M63.8 205.7l4.3 -4.3M70.1 204.8l4.5 -2.6M76.7 205.6l3.7 -4.3M81.8 204.7l6.2 -2.4M88.9 205.6l4.6 -4.2M95.2 205l4.6 -3M101.1 205.2l5.5 -3.4M107.2 204.4l5.7 -1.9M114 205.6l4.8 -4.1M120.5 205.2l4.5 -3.5M126.9 205l4.1 -3M132.7 205.8l5.3 -4.6M139.6 206l3.9 -5.1M145.9 205.6l4 -4.2M151.5 205.4l5.4 -3.7M158.1 205.6l4.8 -4.2M164.2 205.3l5.1 -3.6M170.1 205.8l6 -4.6M176.6 205.1l5.7 -3.1M182.8 205.7l5.8 -4.4M189.6 205l4.8 -3.1M195.8 204.9l5.1 -2.8M202.2 205.1l4.8 -3.1M208.5 205.5l4.9 -4M214.4 205.3l5.6 -3.7M221.4 204.9l4.2 -2.7M228 205.4l3.7 -3.8M233.8 205.7l4.5 -4.5M240.2 204.5l4.4 -2M246.4 204.9l4.6 -2.9M253.1 205.3l3.8 -3.5M258.7 205.1l5.2 -3.3M265.6 205.5l4.1 -3.9M271.5 204.9l4.8 -2.7M277.8 205.2l4.8 -3.4M284.6 205.4l3.8 -3.8M290.6 205.2l4.3 -3.3M296.4 205.5l5.3 -4.1M303.5 205.4l3.7 -3.8M309 205.9l5.4 -4.8M315.5 205.3l5 -3.7M322 205.4l4.6 -3.9M328.4 206l4.5 -5.1M334.7 205.9l4.5 -4.7M340.8 205.8l4.8 -4.7M347.2 205.8l4.6 -4.6M353.9 205.3l3.8 -3.5M360.1 205.4l3.9 -3.9M366 205l4.7 -2.9M372.5 204.8l4.4 -2.7M378.4 205.3l5.3 -3.5M384.7 205.8l5.3 -4.7M391.4 205.4l4.4 -3.9M397.6 205.1l4.6 -3.2M404 205.6l4.3 -4.2M410.3 205.2l4.4 -3.4M416.7 205.7l4.2 -4.3M422.8 205.6l4.5 -4.2M429.4 205.6l4 -4.1M435.2 205.2l5.1 -3.5M442.1 204.8l3.9 -2.6M447 204.5l6.6 -2M454.1 205.1l5.1 -3.1M460.9 205.8l4 -4.6M467.4 205.4l3.6 -3.9M473.3 205.1l4.4 -3.3M480.1 205.8l3.5 -4.6M0.8 198.5l4.4 -2.7M6.9 198.7l4.7 -2.9M13.1 198.5l5.1 -2.6M19.5 198.8l4.8 -3.1M26.2 198.9l4.1 -3.5M32.7 199.4l3.7 -4.4M38.4 199.5l4.8 -4.5M44.6 198.9l4.9 -3.4M51.1 199.3l4.7 -4.2M57.8 198.7l3.7 -3M64.6 198.3l2.9 -2.3M70.2 198.5l4.1 -2.7M76.4 198.7l4.4 -3.1M83.2 199l3.3 -3.6M89.3 199l3.8 -3.7M94.7 198.6l5.5 -2.8M101.9 199.4l3.7 -4.4M108.4 198.7l3.4 -3M114.7 198.4l3.5 -2.5M120.6 198.8l4.3 -3.2M126.9 199.3l4.1 -4.2M133.7 198.7l3.1 -2.9M139 199.4l5.1 -4.5M145.3 198.2l5.2 -2M151.2 199l5.9 -3.6M158.4 199.1l4.3 -3.8M165.1 198.7l3.4 -3M170.6 198.5l5.1 -2.6M177.1 198.8l4.5 -3.2M184 198.9l3.4 -3.5M190.2 198.8l3.6 -3.3M195.7 199l5.1 -3.6M202.3 199l4.6 -3.5M208.6 199l4.5 -3.5M215.8 198.6l2.8 -2.7M221.2 198.6l4.6 -2.8M228.1 198.8l3.5 -3.3M233.8 198.9l4.5 -3.3M239.7 198.4l5.5 -2.4M246.5 198.4l4.4 -2.3M252.7 198.9l4.6 -3.3M259.6 199.4l3.4 -4.4M265.4 198.3l4.5 -2.2M272.4 198.3l3 -2.3M278 198.6l4.4 -2.7M284.5 198.7l4 -3M290.8 198.7l3.9 -3M296.9 198.8l4.4 -3.3M302.8 198.7l5.1 -3.1M310.3 198l2.9 -1.6M315.8 198.9l4.4 -3.5M322.5 198.9l3.6 -3.4M328.9 199.1l3.5 -3.9M333.8 198.6l6.2 -2.8M340.6 198.9l5.2 -3.5M347.4 199.1l4.1 -3.8M353.9 198.5l3.7 -2.6M360 198.3l4.2 -2.3M366 198.3l4.7 -2.3M372.8 198.8l3.8 -3.3M379.2 199l3.6 -3.6M385.2 198.7l4.1 -3M392 198.5l3.2 -2.7M398.2 198.2l3.3 -2M403.7 199.2l5 -4.1M410.3 198.3l4.4 -2.1M416.3 199.2l5 -4.1M423.4 198.7l3.3 -3M429.6 199.7l3.7 -5M435.3 199.1l4.7 -3.8M441.6 198.5l4.8 -2.5M448.1 199.1l4.4 -3.9M453.9 199.1l5.3 -3.9M461.2 198.2l3.3 -1.9M466.8 199.1l4.8 -3.9M473.9 198.7l3.2 -2.9M480 198.3l3.6 -2.2M0.5 193l5 -4.1M7.5 192.8l3.6 -3.8M13.7 191.8l3.8 -1.8M19.8 193.1l4.1 -4.4M26.7 192.1l3.1 -2.4M32.7 191.8l3.5 -1.9M39.1 192.5l3.3 -3.2M45.5 192.3l3.3 -2.9M51.2 192.7l4.4 -3.6M58 192.3l3.3 -2.7M63.7 192l4.7 -2.3M70.6 193l3.4 -4.2M76.8 192.3l3.6 -2.7M83.4 192l3 -2.2M89.6 192.1l3.2 -2.4M96.1 192.5l2.8 -3.2M101.8 192.2l4 -2.7M108.8 192.6l2.7 -3.3M114.2 192.4l4.5 -3.1M121.3 192.6l2.9 -3.4M127.3 192.1l3.3 -2.4M133.3 192.8l4.1 -3.9M139.3 192.4l4.5 -3.1M145.8 192.8l4.2 -3.7M151.2 192.4l6.1 -3.1M158.4 192.3l4.2 -2.8M164.7 192.5l4.2 -3.2M170.8 192.4l4.7 -3M177.7 191.7l3.4 -1.5M183.8 191.9l3.8 -1.9M190.3 192l3.5 -2.1M197.1 192.4l2.4 -2.9M202.9 192.7l3.5 -3.6M208.8 193l4.1 -4.2M215 192.4l4.5 -2.9M221.5 192.2l4.1 -2.6M228.3 192.7l3.1 -3.7M234.9 192.3l2.5 -2.7M240.2 192.3l4.4 -2.9M246.6 192.2l4.1 -2.6M253.4 192.7l3.1 -3.5M259.1 191.7l4.5 -1.6M266 192.4l3.3 -2.9M272.1 191.9l3.6 -2M278.2 192.6l3.9 -3.4M283.7 191.8l5.6 -1.8M290.8 192.3l3.9 -2.8M297.3 192.6l3.6 -3.3M303.5 192.7l3.8 -3.6M310.2 192.7l3 -3.6M316.7 192.3l2.7 -2.8M322.7 193.1l3.2 -4.4M328.8 192.3l3.6 -2.8M335 193.1l3.8 -4.4M340.9 192.4l4.7 -3.1M347.5 193l4.1 -4.1M353.8 192.1l3.9 -2.4M359.3 192.3l5.5 -2.7M366.4 192.7l3.9 -3.7M373 191.8l3.3 -1.7M379 192.1l3.9 -2.5M385.2 192.7l4.2 -3.6M391.4 192.8l4.3 -3.8M397.9 192.1l4 -2.3M404.6 192l3.1 -2.3M410.2 191.9l4.6 -2.1M417 192.9l3.7 -4.1M423.3 191.9l3.6 -2M429.9 191.9l3 -2M436 191.8l3.4 -1.8M442.7 191.8l2.6 -1.7M448.1 192.5l4.4 -3.1M454.9 192.1l3.4 -2.4M461.4 192.3l2.9 -2.8M466.8 192.1l4.8 -2.5M473.2 191.4l4.7 -1.1M480.4 192.1l2.8 -2.4M1.9 185.2l2.3 -1.2M8.8 185.6l1 -2M14 185.9l3.3 -2.7M20.4 186.6l3 -3.9M26.6 186.1l3.2 -3M32.4 185.8l4.2 -2.3M38.9 185.1l3.8 -0.9M45.3 185.9l3.7 -2.6M51.4 186.1l4.1 -3M58.3 186l2.8 -2.7M64.5 185.3l3.1 -1.3M71 185.9l2.7 -2.6M77.2 185.1l2.7 -1M82.9 185.8l4 -2.4M89.3 185.4l3.7 -1.7M95.9 186l3.3 -2.7M103.3 185.7l1 -2.1M108.2 185.4l3.8 -1.5M115.4 186.1l2 -3M120.5 185.1l4.4 -0.9M127.2 185.2l3.5 -1.2M133.7 185.6l3.2 -2M139.9 185.7l3.5 -2.2M146.2 185.8l3.5 -2.3M152.5 186.3l3.4 -3.3M159.6 185.9l1.8 -2.7M165.2 186l3.2 -2.9M171.1 185.3l4 -1.4M177.8 185.3l3.3 -1.3M184.1 186.1l3.2 -3M191 185.6l2.1 -2M196.7 185.5l3.1 -1.8M203.1 185.2l3.1 -1.2M209.4 185.7l3 -2.2M215.9 185.8l2.6 -2.4M222.3 185.9l2.4 -2.7M228.1 185.9l3.5 -2.6M234.6 186.3l3 -3.4M241 186.2l2.8 -3.2M247.2 185.3l3.1 -1.5M252.9 185.2l4.2 -1.2M259 185.6l4.6 -2M266.5 185l2.2 -0.8M271.9 185.9l4.1 -2.5M278.2 184.9l4 -0.7M285.3 186.2l2.3 -3.2M291 185.5l3.6 -1.8M296.9 185.3l4.4 -1.5M303.9 186.1l2.9 -2.9M309.9 185.4l3.5 -1.6M316.8 185.3l2.3 -1.4M322.7 186.1l3.1 -3M328.8 185.4l3.7 -1.7M335.8 185.6l2.3 -2M341.6 185.5l3.2 -1.8M347.6 185.7l3.8 -2.1M354.2 185.1l3.2 -0.9M360.8 185.7l2.6 -2.3M366.7 185.7l3.3 -2.2M373.2 185.5l2.9 -1.8M379.3 185.6l3.4 -1.9M385.8 185.5l3 -1.8M392.2 186.3l2.8 -3.3M398.8 185.7l2.2 -2.3M404.8 185.7l2.8 -2.1M411 185.7l2.9 -2.2M418 185.6l1.6 -2M423.6 185.9l3 -2.5M429.6 184.9l3.7 -0.5M436.7 186l1.9 -2.8M442.7 186l2.5 -2.8M448.2 186.4l4.2 -3.6M455.4 185.3l2.5 -1.5M460.6 185.4l4.7 -1.6M467.8 186.4l2.7 -3.6M473.7 186l3.5 -2.8M479.9 185.5l3.8 -1.9M1.5 179.4l2.9 -2.2M8 179.4l2.7 -2.1M14.6 179.1l2.1 -1.5M20.4 178.5l3 -0.5M27.2 179.2l2.1 -1.7M32.9 179l3.2 -1.4M39.6 178.7l2.5 -0.9M45.4 179.8l3.4 -3M52 178.9l2.9 -1.2M59 179.2l1.5 -1.7M64.7 179.2l2.7 -1.7M71.6 179.1l1.5 -1.6M77 178.8l3.2 -1M83.3 179.5l3.2 -2.4M90 179.2l2.4 -1.9M96.7 179.5l1.6 -2.4M102.2 179.7l3.2 -2.8M109.5 179.3l1.3 -2.1M115.3 179.1l2.3 -1.5M122.2 179.6l1 -2.6M127.5 179.7l2.9 -2.8M134.1 179.7l2.3 -2.8M140.1 179.4l2.9 -2.2M146.8 179.4l2.3 -2.3M152.5 179.7l3.4 -2.8M159.2 179.2l2.7 -1.9M166 179.2l1.6 -1.8M171.3 179.5l3.6 -2.4M178.4 178.9l2 -1.3M183.7 179.3l4 -1.9M190.6 179.2l2.7 -1.9M196.5 178.7l3.5 -0.8M203.1 179.2l2.9 -1.9M209.8 179.2l2.1 -1.7M216 179.1l2.5 -1.7M222.5 179.2l2.1 -1.8M228.5 179l2.6 -1.3M235.1 179.1l2 -1.6M241.2 179.4l2.3 -2.2M247.4 179.2l2.7 -1.9M253.4 179.8l3.2 -3M260.1 178.7l2.4 -0.8M266.4 179l2.3 -1.5M272.7 178.8l2.4 -1.1M278.7 178.7l3 -0.8M285.2 179.7l2.6 -2.9M291.7 179.1l2.3 -1.5M297.7 179.3l2.7 -2M304.4 178.8l2.1 -0.9M310.1 179.3l3.2 -2M317 179.1l2 -1.7M323.6 179.1l1.4 -1.5M329.1 179.3l3 -2M336 179l1.8 -1.4M341.4 179.3l3.6 -2M348.2 179.6l2.7 -2.6M354.5 179.4l2.6 -2.1M360.2 179.9l3.9 -3.2M366.7 179.3l3.4 -1.9M374.2 179.8l1 -2.9M379.5 179.2l2.9 -1.8M386.7 178.9l1.2 -1.1M392.4 179.6l2.4 -2.6M398.4 179.3l2.9 -2M404.8 179l2.9 -1.4M411.4 179.5l2.3 -2.4M417 179.1l3.5 -1.7M423.6 178.8l3 -1M429.8 179.5l3.1 -2.4M436.5 179.3l2.5 -2.1M442.2 179.2l3.5 -1.8M448.9 179.7l2.9 -2.9M455.7 178.8l1.9 -1M461.9 179.1l1.9 -1.6M468.8 179.4l0.8 -2.1M474.4 179.8l2.3 -3.1M480.3 178.9l3 -1.1M2.5 172.6l0.9 -1.1M8.9 172.2l0.8 -0.4M15 172.6l1.1 -1.2M21.6 172.6l0.6 -1.2M27.5 172.7l1.3 -1.4M33.2 172.7l2.7 -1.3M40.5 172.7l0.5 -1.5M46.7 172.8l0.8 -1.5M52.6 171.6l1.6 0.8M58.5 172.5l2.5 -1M64.6 172.9l2.9 -1.8M71.8 172.3l1 -0.6M76.9 172.6l3.4 -1.2M84.2 173.1l1.4 -2.1M90.1 172.1l2.2 -0.1M96.8 172.6l1.4 -1.2M103.4 172.9l0.8 -1.8M108.8 172.8l2.7 -1.7M116 172.2l0.8 -0.4M122 172l1.5 0.1M128.3 173l1.4 -2M134.5 172l1.7 -0.1M141 172.3l1.2 -0.6M147.4 172.1l1.1 -0.2M153.4 172.5l1.6 -1.1M160.3 172.4l0.3 -0.7M165.8 172.7l2.1 -1.3M172.6 172.2l1 -0.5M179 172.4l0.9 -0.9M185.1 172.7l1.2 -1.3M192 172h.9M197.7 172.5l1.3 -1M204 172.7l1.1 -1.4M210.4 172.4l1 -0.8M215.7 172.1l3.1 -0.1M223.5 172h.9M228.9 172.4l1.7 -0.8M235.5 172.1l1.2 -0.1M242.3 173.1l0.1 -2.2M247.6 172.4l2.3 -0.9M254.3 172.8l1.4 -1.6M260.3 172.8l2 -1.6M266.8 172.5l1.6 -1M273.2 172.4l1.4 -0.7M279.8 172.8l0.8 -1.6M286.2 172.8l0.7 -1.5M292.1 172.6l1.5 -1.2M297.7 172.6l2.8 -1.2M305.5 173l-0.3 -1.9M311.1 172.8l1.3 -1.7M317.2 172.6l1.6 -1.2M322.8 172.6l3.1 -1.1M329.9 172.5l1.5 -1M336.3 172.3l1.3 -0.6M343 172.5l0.4 -1M348.9 173.1l1.2 -2.2M354.9 172.3l1.8 -0.7M361.2 172.7l1.7 -1.5M367.4 172.1l2.1 -0.3M374.1 172.5l1.3 -1M379.7 172.5l2.6 -0.9M386.6 172.5l1.5 -1M393 172.2l1.2 -0.4M399.3 172.2l1.2 -0.5M405.6 172.3l1.1 -0.6M411.9 172.1l1.1 -0.2M417.5 171.9l2.6 0.2M424.5 172.9l1.2 -1.7M430.7 172.1l1.4 -0.2M437.1 172.2l1.2 -0.4M443.2 172.4l1.6 -0.7M449.9 172.5l0.7 -1.1M456.1 172.8l1 -1.6M461.8 172.2l2.3 -0.4M468.8 172.9l0.8 -1.8M474.2 172.2l2.6 -0.4M481.2 171.9l1.2 0.3M3 166.1l0.1 -0.8M8.9 166.1l0.9 -0.8M14.8 166.9l1.6 -2.3M22 166.2l-0.2 -1M27.9 166l0.5 -0.6M34.4 165.3l0.1 0.7M40.2 165.7l1.3 -0.1M46.6 166.4l1.1 -1.5M52.7 166l1.5 -0.6M59.3 166l0.7 -0.6M65.6 166.4l0.9 -1.4M72.6 166.4l-0.6 -1.5M78.6 165.7h.9M84.9 165.7h.9M90.7 166.8l1.1 -2.2M97.1 165.2l0.8 0.9M103.8 165.7h.9M109.9 166l0.4 -0.7M116.2 166.1l0.5 -0.7M122.4 166.2l0.6 -1M128.4 166.6l1.2 -1.7M134.3 165.6l1.9 0.3M141.3 165.5l0.6 0.4M147.5 165.8l0.8 -0.3M154.8 165.9l-1.2 -0.4M159.8 166.1l1.4 -0.7M166.8 165.7h.9M173.1 165.7h.9M179.4 165.7h.9M185.2 165.7l1 -0.1M192.3 166l-0.7 -0.6M197.5 166l1.6 -0.6M203.7 165.7l1.7 -0.1M211.2 165.3l-0.7 0.7M217.2 165.7h.9M223.5 165.7h.9M229.1 165.8l1.5 -0.1M236.1 165.7h.9M242.5 166.1l-0.2 -0.7M248 165.6l1.4 0.2M255.2 166.3l-0.3 -1.3M261.3 165.7h.9M267.6 165.7h.9M273.5 166.1l0.8 -0.8M280.2 165.7h.9M286 165.3l1.1 0.8M292.3 165.3l1 0.8M299.1 165.7h.9M305.4 165.7h.9M311.4 166.4l0.6 -1.4M317.6 166.3l0.7 -1.2M323.5 165.6l1.6 0.3M330.1 166.3l1 -1.2M336.9 165.7h.9M343.2 165.7h.9M349.2 166.2l0.5 -1M355.8 165.7h.9M361.3 165.6l1.5 0.1M368.4 165.7h.9M374.7 165.7h.9M380.5 165.7l1 0M386.9 166l0.8 -0.6M393.4 166.1l0.5 -0.8M399.5 165.5l0.9 0.3M405.8 165.6l0.8 0.2M411.7 165.8l1.5 -0.1M418.8 165.7h.9M424.2 166l1.7 -0.7M431.4 165.7h.9M437.7 165.7h.9M444 165.7h.9M449.9 166l0.8 -0.6M456.4 166.3l0.4 -1.1M462.1 166.1l1.5 -0.8M469 166.6l0.4 -1.8M475.5 165.7h.9M481.2 166.1l1.3 -0.8M3 159.4h.9M9.3 159.4h.9M15.4 160l0.5 -1.3M21.9 158.6l0 1.7M27.7 159.7l1 -0.6M34.1 159.2l0.7 0.4M40.7 159l0.2 0.7M47.1 159.4h.9M52.9 159.5l1.1 -0.1M59.7 159.4h.9M65.4 160l1.2 -1.3M72 159.9l0.6 -1M78.9 159.7l-0.7 -0.6M84.9 159.4h.9M91.2 159.4h.9M97.5 159.4h.9M103.2 159.4l1.2 0.1M110.5 160l-0.7 -1.2M116.4 159.4h.9M123.1 159.6l-0.9 -0.3M129 159.4h.9M135.5 159.1l-0.5 0.6M141.3 158.8l0.6 1.2M147.9 159.4h.9M153.8 159.5l0.8 -0.3M160.1 159.4l0.7 0.1M166.8 159.4h.9M173.4 159.7l-0.6 -0.6M178.8 159.9l1.2 -0.9M185.7 159.4h.9M192 159.4h.9M197.6 159.2l1.4 0.5M204.6 159.4h.9M210.9 159.4h.9M216.5 159.2l1.4 0.5M223.5 159.4h.9M229.8 159.4h.9M235.8 159l0.6 0.8M242.4 159.4h.9M248.7 159.4h.9M254.4 159.7l1.2 -0.5M261.3 159.4h.9M266.7 159.9l1.7 -0.9M273.5 159l0.8 0.7M280.2 159.4h.9M286.5 159.4h.9M292.1 158.4l1.4 2M298.8 159.9l0.6 -1M304.6 159.4l1.5 0.1M311.7 159.4h.9M318 159.4h.9M324.3 159.4h.9M331 160l-0.7 -1.2M337.6 160.2l-1.5 -1.6M343.2 159.4h.9M349.8 158.9l-0.7 1M355.8 159.4h.9M362.7 159.2l-1.3 0.4M368.4 159.4h.9M374.7 159.4h.9M381 159.4h.9M387.1 158.8l0.5 1.2M393.8 159.7l-0.4 -0.7M399.9 159.8l0 -0.8M406.2 159.4h.9M412.5 159.4h.9M419.1 159.7l-0.7 -0.6M425.5 159.1l-0.8 0.6M431.2 159.7l0.4 -0.7M437.4 159.6l0.6 -0.4M444 159.4h.9M450.5 160l-0.3 -1.2M457.1 159.6l-0.9 -0.4M462.5 159.4l0.7 0M469.2 159.4h.9M475.6 159.9l-0.2 -0.9M481.4 159.3l0.7 0.2M3 153.1h.9M9.6 152.9l-0.7 0.4M15.2 153.2l0.7 -0.3M21.9 153.1h.9M28.2 153.1h.9M34.1 152.6l0.8 0.9M40.2 153.7l1.1 -1.2M47.1 153.1h.9M53.4 153.1h.9M59.5 154.3l0.4 -2.3M66 153.1h.9M72.4 152.6l-0.3 1.1M78 153.2l1.3 -0.3M84.2 153.3l1.4 -0.4M91.5 152.8l-0.5 0.6M97.5 153.1h.9M103.1 153.2l1.3 -0.1M109.8 152.8l0.6 0.7M115.6 153.2l1.5 -0.1M122.9 153.9l-0.4 -1.6M129 153.1h.9M135.4 153.6l-0.2 -1.1M142.1 153.2l-1 -0.2M148.2 153.3l-0.7 -0.4M153.2 153.7l1.9 -1.1M160.5 153.1h.9M165.9 152.4l1.7 1.4M173.1 153.1h.9M179.4 153.1h.9M185.2 152.9l1 0.4M192 153.1h.9M198.1 153.5l0.3 -0.8M204 153.3l1.2 -0.4M210.9 153.1h.9M217.2 153.1h.9M223.5 153.1h.9M229.2 153.3l1.2 -0.4M235.3 153.6l1.5 -1M242.4 153.1h.9M248.4 153.4l0.7 -0.6M254.5 153.2l0.9 -0.2M261 152.8l0.6 0.5M266.4 154l2.3 -1.9M273.4 152.7l1 0.9M280.2 153.1h.9M286.5 153.1h.9M292.8 153.1h.9M299.1 153.1h.9M305.4 153.1h.9M311.7 153.1h.9M317.4 153.4l1.3 -0.6M324.8 153.1l-1 0M330.8 153.6l-0.5 -0.9M337.4 153.1l-1 -0.1M343.2 153.1h.9M349.1 152.7l0.7 0.8M355.8 153.1h.9M361.4 153.6l1.5 -1M368.4 153.1h.9M374.7 153.1h.9M380.7 152.8l0.7 0.6M386.8 153l1 0.2M393.6 153.1h.9M399.5 153.5l0.8 -0.9M406.2 153.1h.9M413.4 153.5l-1.7 -0.9M418.6 152.6l0.3 1.1M425.3 153.7l-0.4 -1.3M431 152.7l0.8 0.8M437.7 153.1h.9M444.3 152.5l-0.6 1.1M449.6 153.5l1.5 -0.8M456.6 153.1h.9M463.1 153.8l-0.3 -1.4M469.2 153.1h.9M474.9 152.7l1.1 0.8M481.8 153.1h.9" class="q"/>
<path d="M3 141.5h.9M9.5 141.5h.9M16 141.5h.9M22.5 141.5h.9M29 141.5h.9M35.5 141.5h.9M42 141.5h.9M48.5 141.5h.9M55 141.5h.9M61.5 141.5h.9M68 141.5h.9M74.5 141.5h.9M81 141.5h.9M87.5 141.5h.9M94 141.5h.9M100.5 141.5h.9M107 141.5h.9M113.5 141.5h.9M120 141.5h.9M126.5 141.5h.9M133 141.5h.9M139.5 141.5h.9M146 141.5h.9M152.5 141.5h.9M159 141.5h.9M165.5 141.5h.9M172 141.5h.9M178.5 141.5h.9M185 141.5h.9M191.5 141.5h.9M198 141.5h.9M204.5 141.5h.9M211 141.5h.9M217.5 141.5h.9M224 141.5h.9M230.5 141.5h.9M237 141.5h.9M243.5 141.5h.9M250 141.5h.9M256.5 141.5h.9M263 141.5h.9M269.5 141.5h.9M276 141.5h.9M282.5 141.5h.9M289 141.5h.9M295.5 141.5h.9M302 141.5h.9M308.5 141.5h.9M315 141.5h.9M321.5 141.5h.9M328 141.5h.9M334.5 141.5h.9M341 141.5h.9M347.5 141.5h.9M354 141.5h.9M360.5 141.5h.9M367 141.5h.9M373.5 141.5h.9M380 141.5h.9M386.5 141.5h.9M393 141.5h.9M399.5 141.5h.9M406 141.5h.9M412.5 141.5h.9M419 141.5h.9M425.5 141.5h.9M432 141.5h.9M438.5 141.5h.9M445 141.5h.9M451.5 141.5h.9M458 141.5h.9M464.5 141.5h.9M471 141.5h.9M477.5 141.5h.9M3 135h.9M9.5 135h.9M16 135h.9M22.5 135h.9M29 135h.9M35.5 135h.9M42 135h.9M48.5 135h.9M55 135h.9M61.5 135h.9M68 135h.9M74.5 135h.9M81 135h.9M87.5 135h.9M94 135h.9M100.5 135h.9M107 135h.9M113.5 135h.9M120 135h.9M126.5 135h.9M133 135h.9M139.5 135h.9M146 135h.9M152.5 135h.9M159 135h.9M165.5 135h.9M172 135h.9M178.5 135h.9M185 135h.9M191.5 135h.9M198 135h.9M204.5 135h.9M211 135h.9M217.5 135h.9M224 135h.9M230.5 135h.9M237 135h.9M243.5 135h.9M250 135h.9M256.5 135h.9M263 135h.9M269.5 135h.9M276 135h.9M282.5 135h.9M289 135h.9M295.5 135h.9M302 135h.9M308.5 135h.9M315 135h.9M321.5 135h.9M328 135h.9M334.5 135h.9M341 135h.9M347.5 135h.9M354 135h.9M360.5 135h.9M367 135h.9M373.5 135h.9M380 135h.9M386.5 135h.9M393 135h.9M399.5 135h.9M406 135h.9M412.5 135h.9M419 135h.9M425.5 135h.9M432 135h.9M438.5 135h.9M445 135h.9M451.5 135h.9M458 135h.9M464.5 135h.9M471 135h.9M477.5 135h.9M3 128.5h.9M9.5 128.5h.9M16 128.5h.9M22.5 128.5h.9M29 128.5h.9M35.5 128.5h.9M42 128.5h.9M48.5 128.5h.9M55 128.5h.9M61.5 128.5h.9M68 128.5h.9M74.5 128.5h.9M81 128.5h.9M87.5 128.5h.9M94 128.5h.9M100.5 128.5h.9M107 128.5h.9M113.5 128.5h.9M120 128.5h.9M126.5 128.5h.9M133 128.5h.9M139.5 128.5h.9M146 128.5h.9M152.5 128.5h.9M159 128.5h.9M165.5 128.5h.9M172 128.5h.9M178.5 128.5h.9M185 128.5h.9M191.5 128.5h.9M198 128.5h.9M204.5 128.5h.9M211 128.5h.9M217.5 128.5h.9M224 128.5h.9M230.5 128.5h.9M237 128.5h.9M243.5 128.5h.9M250 128.5h.9M256.5 128.5h.9M263 128.5h.9M269.5 128.5h.9M276 128.5h.9M282.5 128.5h.9M289 128.5h.9M295.5 128.5h.9M302 128.5h.9M308.5 128.5h.9M315 128.5h.9M321.5 128.5h.9M328 128.5h.9M334.5 128.5h.9M341 128.5h.9M347.5 128.5h.9M354 128.5h.9M360.5 128.5h.9M367 128.5h.9M373.5 128.5h.9M380 128.5h.9M386.5 128.5h.9M393 128.5h.9M399.5 128.5h.9M406 128.5h.9M412.5 128.5h.9M419 128.5h.9M425.5 128.5h.9M432 128.5h.9M438.5 128.5h.9M445 128.5h.9M451.5 128.5h.9M458 128.5h.9M464.5 128.5h.9M471 128.5h.9M477.5 128.5h.9M3 122h.9M9.5 122h.9M16 122h.9M22.5 122h.9M29 122h.9M35.5 122h.9M42 122h.9M48.5 122h.9M55 122h.9M61.5 122h.9M68 122h.9M74.5 122h.9M81 122h.9M87.5 122h.9M94 122h.9M100.5 122h.9M107 122h.9M113.5 122h.9M120 122h.9M126.5 122h.9M133 122h.9M139.5 122h.9M146 122h.9M152.5 122h.9M159 122h.9M165.5 122h.9M172 122h.9M178.5 122h.9M185 122h.9M191.5 122h.9M198 122h.9M204.5 122h.9M211 122h.9M217.5 122h.9M224 122h.9M230.5 122h.9M237 122h.9M243.5 122h.9M250 122h.9M256.5 122h.9M263 122h.9M269.5 122h.9M276 122h.9M282.5 122h.9M289 122h.9M295.5 122h.9M302 122h.9M308.5 122h.9M315 122h.9M321.5 122h.9M328 122h.9M334.5 122h.9M341 122h.9M347.5 122h.9M354 122h.9M360.5 122h.9M367 122h.9M373.5 122h.9M380 122h.9M386.5 122h.9M393 122h.9M399.5 122h.9M406 122h.9M412.5 122h.9M419 122h.9M425.5 122h.9M432 122h.9M438.5 122h.9M445 122h.9M451.5 122h.9M458 122h.9M464.5 122h.9M471 122h.9M477.5 122h.9M3 115.5h.9M9.5 115.5h.9M16 115.5h.9M22.5 115.5h.9M29 115.5h.9M35.5 115.5h.9M42 115.5h.9M48.5 115.5h.9M55 115.5h.9M61.5 115.5h.9M68 115.5h.9M74.5 115.5h.9M81 115.5h.9M87.5 115.5h.9M94 115.5h.9M100.5 115.5h.9M107 115.5h.9M113.5 115.5h.9M120 115.5h.9M126.5 115.5h.9M133 115.5h.9M139.5 115.5h.9M146 115.5h.9M152.5 115.5h.9M159 115.5h.9M165.5 115.5h.9M172 115.5h.9M178.5 115.5h.9M185 115.5h.9M191.5 115.5h.9M198 115.5h.9M204.5 115.5h.9M211 115.5h.9M217.5 115.5h.9M224 115.5h.9M230.5 115.5h.9M237 115.5h.9M243.5 115.5h.9M250 115.5h.9M256.5 115.5h.9M263 115.5h.9M269.5 115.5h.9M276 115.5h.9M282.5 115.5h.9M289 115.5h.9M295.5 115.5h.9M302 115.5h.9M308.5 115.5h.9M315 115.5h.9M321.5 115.5h.9M328 115.5h.9M334.5 115.5h.9M341 115.5h.9M347.5 115.5h.9M354 115.5h.9M360.5 115.5h.9M367 115.5h.9M373.5 115.5h.9M380 115.5h.9M386.5 115.5h.9M393 115.5h.9M399.5 115.5h.9M406 115.5h.9M412.5 115.5h.9M419 115.5h.9M425.5 115.5h.9M432 115.5h.9M438.5 115.5h.9M445 115.5h.9M451.5 115.5h.9M458 115.5h.9M464.5 115.5h.9M471 115.5h.9M477.5 115.5h.9M3 109h.9M9.5 109h.9M16 109h.9M22.5 109h.9M29 109h.9M35.5 109h.9M42 109h.9M48.5 109h.9M55 109h.9M61.5 109h.9M68 109h.9M74.5 109h.9M81 109h.9M87.5 109h.9M94 109h.9M100.5 109h.9M107 109h.9M113.5 109h.9M120 109h.9M126.5 109h.9M133 109h.9M139.5 109h.9M146 109h.9M152.5 109h.9M159 109h.9M165.5 109h.9M172 109h.9M178.5 109h.9M185 109h.9M191.5 109h.9M198 109h.9M204.5 109h.9M211 109h.9M217.5 109h.9M224 109h.9M230.5 109h.9M237 109h.9M243.5 109h.9M250 109h.9M256.5 109h.9M263 109h.9M269.5 109h.9M276 109h.9M282.5 109h.9M289 109h.9M295.5 109h.9M302 109h.9M308.5 109h.9M315 109h.9M321.5 109h.9M328 109h.9M334.5 109h.9M341 109h.9M347.5 109h.9M354 109h.9M360.5 109h.9M367 109h.9M373.5 109h.9M380 109h.9M386.5 109h.9M393 109h.9M399.5 109h.9M406 109h.9M412.5 109h.9M419 109h.9M425.5 109h.9M432 109h.9M438.5 109h.9M445 109h.9M451.5 109h.9M458 109h.9M464.5 109h.9M471 109h.9M477.5 109h.9M3 102.5h.9M9.5 102.5h.9M16 102.5h.9M22.5 102.5h.9M29 102.5h.9M35.5 102.5h.9M42 102.5h.9M48.5 102.5h.9M55 102.5h.9M61.5 102.5h.9M68 102.5h.9M74.5 102.5h.9M81 102.5h.9M87.5 102.5h.9M94 102.5h.9M100.5 102.5h.9M107 102.5h.9M113.5 102.5h.9M120 102.5h.9M126.5 102.5h.9M133 102.5h.9M139.5 102.5h.9M146 102.5h.9M152.5 102.5h.9M159 102.5h.9M165.5 102.5h.9M172 102.5h.9M178.5 102.5h.9M185 102.5h.9M191.5 102.5h.9M198 102.5h.9M204.5 102.5h.9M211 102.5h.9M217.5 102.5h.9M224 102.5h.9M230.5 102.5h.9M237 102.5h.9M243.5 102.5h.9M250 102.5h.9M256.5 102.5h.9M263 102.5h.9M269.5 102.5h.9M276 102.5h.9M282.5 102.5h.9M289 102.5h.9M295.5 102.5h.9M302 102.5h.9M308.5 102.5h.9M315 102.5h.9M321.5 102.5h.9M328 102.5h.9M334.5 102.5h.9M341 102.5h.9M347.5 102.5h.9M354 102.5h.9M360.5 102.5h.9M367 102.5h.9M373.5 102.5h.9M380 102.5h.9M386.5 102.5h.9M393 102.5h.9M399.5 102.5h.9M406 102.5h.9M412.5 102.5h.9M419 102.5h.9M425.5 102.5h.9M432 102.5h.9M438.5 102.5h.9M445 102.5h.9M451.5 102.5h.9M458 102.5h.9M464.5 102.5h.9M471 102.5h.9M477.5 102.5h.9M3 96h.9M9.5 96h.9M16 96h.9M22.5 96h.9M29 96h.9M35.5 96h.9M42 96h.9M48.5 96h.9M55 96h.9M61.5 96h.9M68 96h.9M74.5 96h.9M81 96h.9M87.5 96h.9M94 96h.9M100.5 96h.9M107 96h.9M113.5 96h.9M120 96h.9M126.5 96h.9M133 96h.9M139.5 96h.9M146 96h.9M152.5 96h.9M159 96h.9M165.5 96h.9M172 96h.9M178.5 96h.9M185 96h.9M191.5 96h.9M198 96h.9M204.5 96h.9M211 96h.9M217.5 96h.9M224 96h.9M230.5 96h.9M237 96h.9M243.5 96h.9M250 96h.9M256.5 96h.9M263 96h.9M269.5 96h.9M276 96h.9M282.5 96h.9M289 96h.9M295.5 96h.9M302 96h.9M308.5 96h.9M315 96h.9M321.5 96h.9M328 96h.9M334.5 96h.9M341 96h.9M347.5 96h.9M354 96h.9M360.5 96h.9M367 96h.9M373.5 96h.9M380 96h.9M386.5 96h.9M393 96h.9M399.5 96h.9M406 96h.9M412.5 96h.9M419 96h.9M425.5 96h.9M432 96h.9M438.5 96h.9M445 96h.9M451.5 96h.9M458 96h.9M464.5 96h.9M471 96h.9M477.5 96h.9M3 89.5h.9M9.5 89.5h.9M16 89.5h.9M22.5 89.5h.9M29 89.5h.9M35.5 89.5h.9M42 89.5h.9M48.5 89.5h.9M55 89.5h.9M61.5 89.5h.9M68 89.5h.9M74.5 89.5h.9M81 89.5h.9M87.5 89.5h.9M94 89.5h.9M100.5 89.5h.9M107 89.5h.9M113.5 89.5h.9M120 89.5h.9M126.5 89.5h.9M133 89.5h.9M139.5 89.5h.9M146 89.5h.9M152.5 89.5h.9M159 89.5h.9M165.5 89.5h.9M172 89.5h.9M178.5 89.5h.9M185 89.5h.9M191.5 89.5h.9M198 89.5h.9M204.5 89.5h.9M211 89.5h.9M217.5 89.5h.9M224 89.5h.9M230.5 89.5h.9M237 89.5h.9M243.5 89.5h.9M250 89.5h.9M256.5 89.5h.9M263 89.5h.9M269.5 89.5h.9M276 89.5h.9M282.5 89.5h.9M289 89.5h.9M295.5 89.5h.9M302 89.5h.9M308.5 89.5h.9M315 89.5h.9M321.5 89.5h.9M328 89.5h.9M334.5 89.5h.9M341 89.5h.9M347.5 89.5h.9M354 89.5h.9M360.5 89.5h.9M367 89.5h.9M373.5 89.5h.9M380 89.5h.9M386.5 89.5h.9M393 89.5h.9M399.5 89.5h.9M406 89.5h.9M412.5 89.5h.9M419 89.5h.9M425.5 89.5h.9M432 89.5h.9M438.5 89.5h.9M445 89.5h.9M451.5 89.5h.9M458 89.5h.9M464.5 89.5h.9M471 89.5h.9M477.5 89.5h.9M3 83h.9M9.5 83h.9M16 83h.9M22.5 83h.9M29 83h.9M35.5 83h.9M42 83h.9M48.5 83h.9M55 83h.9M61.5 83h.9M68 83h.9M74.5 83h.9M81 83h.9M87.5 83h.9M94 83h.9M100.5 83h.9M107 83h.9M113.5 83h.9M120 83h.9M126.5 83h.9M133 83h.9M139.5 83h.9M146 83h.9M152.5 83h.9M159 83h.9M165.5 83h.9M172 83h.9M178.5 83h.9M185 83h.9M191.5 83h.9M198 83h.9M204.5 83h.9M211 83h.9M217.5 83h.9M224 83h.9M230.5 83h.9M237 83h.9M243.5 83h.9M250 83h.9M256.5 83h.9M263 83h.9M269.5 83h.9M276 83h.9M282.5 83h.9M289 83h.9M295.5 83h.9M302 83h.9M308.5 83h.9M315 83h.9M321.5 83h.9M328 83h.9M334.5 83h.9M341 83h.9M347.5 83h.9M354 83h.9M360.5 83h.9M367 83h.9M373.5 83h.9M380 83h.9M386.5 83h.9M393 83h.9M399.5 83h.9M406 83h.9M412.5 83h.9M419 83h.9M425.5 83h.9M432 83h.9M438.5 83h.9M445 83h.9M451.5 83h.9M458 83h.9M464.5 83h.9M471 83h.9M477.5 83h.9M3 76.5h.9M9.5 76.5h.9M16 76.5h.9M22.5 76.5h.9M29 76.5h.9M35.5 76.5h.9M42 76.5h.9M48.5 76.5h.9M55 76.5h.9M61.5 76.5h.9M68 76.5h.9M74.5 76.5h.9M81 76.5h.9M87.5 76.5h.9M94 76.5h.9M100.5 76.5h.9M107 76.5h.9M113.5 76.5h.9M120 76.5h.9M126.5 76.5h.9M133 76.5h.9M139.5 76.5h.9M146 76.5h.9M152.5 76.5h.9M159 76.5h.9M165.5 76.5h.9M172 76.5h.9M178.5 76.5h.9M185 76.5h.9M191.5 76.5h.9M198 76.5h.9M204.5 76.5h.9M211 76.5h.9M217.5 76.5h.9M224 76.5h.9M230.5 76.5h.9M237 76.5h.9M243.5 76.5h.9M250 76.5h.9M256.5 76.5h.9M263 76.5h.9M269.5 76.5h.9M276 76.5h.9M282.5 76.5h.9M289 76.5h.9M295.5 76.5h.9M302 76.5h.9M308.5 76.5h.9M315 76.5h.9M321.5 76.5h.9M328 76.5h.9M334.5 76.5h.9M341 76.5h.9M347.5 76.5h.9M354 76.5h.9M360.5 76.5h.9M367 76.5h.9M373.5 76.5h.9M380 76.5h.9M386.5 76.5h.9M393 76.5h.9M399.5 76.5h.9M406 76.5h.9M412.5 76.5h.9M419 76.5h.9M425.5 76.5h.9M432 76.5h.9M438.5 76.5h.9M445 76.5h.9M451.5 76.5h.9M458 76.5h.9M464.5 76.5h.9M471 76.5h.9M477.5 76.5h.9M3 70h.9M9.5 70h.9M16 70h.9M22.5 70h.9M29 70h.9M35.5 70h.9M42 70h.9M48.5 70h.9M55 70h.9M61.5 70h.9M68 70h.9M74.5 70h.9M81 70h.9M87.5 70h.9M94 70h.9M100.5 70h.9M107 70h.9M113.5 70h.9M120 70h.9M126.5 70h.9M133 70h.9M139.5 70h.9M146 70h.9M152.5 70h.9M159 70h.9M165.5 70h.9M172 70h.9M178.5 70h.9M185 70h.9M191.5 70h.9M198 70h.9M204.5 70h.9M211 70h.9M217.5 70h.9M224 70h.9M230.5 70h.9M237 70h.9M243.5 70h.9M250 70h.9M256.5 70h.9M263 70h.9M269.5 70h.9M276 70h.9M282.5 70h.9M289 70h.9M295.5 70h.9M302 70h.9M308.5 70h.9M315 70h.9M321.5 70h.9M328 70h.9M334.5 70h.9M341 70h.9M347.5 70h.9M354 70h.9M360.5 70h.9M367 70h.9M373.5 70h.9M380 70h.9M386.5 70h.9M393 70h.9M399.5 70h.9M406 70h.9M412.5 70h.9M419 70h.9M425.5 70h.9M432 70h.9M438.5 70h.9M445 70h.9M451.5 70h.9M458 70h.9M464.5 70h.9M471 70h.9M477.5 70h.9M3 63.5h.9M9.5 63.5h.9M16 63.5h.9M22.5 63.5h.9M29 63.5h.9M35.5 63.5h.9M42 63.5h.9M48.5 63.5h.9M55 63.5h.9M61.5 63.5h.9M68 63.5h.9M74.5 63.5h.9M81 63.5h.9M87.5 63.5h.9M94 63.5h.9M100.5 63.5h.9M107 63.5h.9M113.5 63.5h.9M120 63.5h.9M126.5 63.5h.9M133 63.5h.9M139.5 63.5h.9M146 63.5h.9M152.5 63.5h.9M159 63.5h.9M165.5 63.5h.9M172 63.5h.9M178.5 63.5h.9M185 63.5h.9M191.5 63.5h.9M198 63.5h.9M204.5 63.5h.9M211 63.5h.9M217.5 63.5h.9M224 63.5h.9M230.5 63.5h.9M237 63.5h.9M243.5 63.5h.9M250 63.5h.9M256.5 63.5h.9M263 63.5h.9M269.5 63.5h.9M276 63.5h.9M282.5 63.5h.9M289 63.5h.9M295.5 63.5h.9M302 63.5h.9M308.5 63.5h.9M315 63.5h.9M321.5 63.5h.9M328 63.5h.9M334.5 63.5h.9M341 63.5h.9M347.5 63.5h.9M354 63.5h.9M360.5 63.5h.9M367 63.5h.9M373.5 63.5h.9M380 63.5h.9M386.5 63.5h.9M393 63.5h.9M399.5 63.5h.9M406 63.5h.9M412.5 63.5h.9M419 63.5h.9M425.5 63.5h.9M432 63.5h.9M438.5 63.5h.9M445 63.5h.9M451.5 63.5h.9M458 63.5h.9M464.5 63.5h.9M471 63.5h.9M477.5 63.5h.9M3 57h.9M9.5 57h.9M16 57h.9M22.5 57h.9M29 57h.9M35.5 57h.9M42 57h.9M48.5 57h.9M55 57h.9M61.5 57h.9M68 57h.9M74.5 57h.9M81 57h.9M87.5 57h.9M94 57h.9M100.5 57h.9M107 57h.9M113.5 57h.9M120 57h.9M126.5 57h.9M133 57h.9M139.5 57h.9M146 57h.9M152.5 57h.9M159 57h.9M165.5 57h.9M172 57h.9M178.5 57h.9M185 57h.9M191.5 57h.9M198 57h.9M204.5 57h.9M211 57h.9M217.5 57h.9M224 57h.9M230.5 57h.9M237 57h.9M243.5 57h.9M250 57h.9M256.5 57h.9M263 57h.9M269.5 57h.9M276 57h.9M282.5 57h.9M289 57h.9M295.5 57h.9M302 57h.9M308.5 57h.9M315 57h.9M321.5 57h.9M328 57h.9M334.5 57h.9M341 57h.9M347.5 57h.9M354 57h.9M360.5 57h.9M367 57h.9M373.5 57h.9M380 57h.9M386.5 57h.9M393 57h.9M399.5 57h.9M406 57h.9M412.5 57h.9M419 57h.9M425.5 57h.9M432 57h.9M438.5 57h.9M445 57h.9M451.5 57h.9M458 57h.9M464.5 57h.9M471 57h.9M477.5 57h.9M3 50.5h.9M9.5 50.5h.9M16 50.5h.9M22.5 50.5h.9M29 50.5h.9M35.5 50.5h.9M42 50.5h.9M48.5 50.5h.9M55 50.5h.9M61.5 50.5h.9M68 50.5h.9M74.5 50.5h.9M81 50.5h.9M87.5 50.5h.9M94 50.5h.9M100.5 50.5h.9M107 50.5h.9M113.5 50.5h.9M120 50.5h.9M126.5 50.5h.9M133 50.5h.9M139.5 50.5h.9M146 50.5h.9M152.5 50.5h.9M159 50.5h.9M165.5 50.5h.9M172 50.5h.9M178.5 50.5h.9M185 50.5h.9M191.5 50.5h.9M198 50.5h.9M204.5 50.5h.9M211 50.5h.9M217.5 50.5h.9M224 50.5h.9M230.5 50.5h.9M237 50.5h.9M243.5 50.5h.9M250 50.5h.9M256.5 50.5h.9M263 50.5h.9M269.5 50.5h.9M276 50.5h.9M282.5 50.5h.9M289 50.5h.9M295.5 50.5h.9M302 50.5h.9M308.5 50.5h.9M315 50.5h.9M321.5 50.5h.9M328 50.5h.9M334.5 50.5h.9M341 50.5h.9M347.5 50.5h.9M354 50.5h.9M360.5 50.5h.9M367 50.5h.9M373.5 50.5h.9M380 50.5h.9M386.5 50.5h.9M393 50.5h.9M399.5 50.5h.9M406 50.5h.9M412.5 50.5h.9M419 50.5h.9M425.5 50.5h.9M432 50.5h.9M438.5 50.5h.9M445 50.5h.9M451.5 50.5h.9M458 50.5h.9M464.5 50.5h.9M471 50.5h.9M477.5 50.5h.9M3 44h.9M9.5 44h.9M16 44h.9M22.5 44h.9M29 44h.9M35.5 44h.9M42 44h.9M48.5 44h.9M55 44h.9M61.5 44h.9M68 44h.9M74.5 44h.9M81 44h.9M87.5 44h.9M94 44h.9M100.5 44h.9M107 44h.9M113.5 44h.9M120 44h.9M126.5 44h.9M133 44h.9M139.5 44h.9M146 44h.9M152.5 44h.9M159 44h.9M165.5 44h.9M172 44h.9M178.5 44h.9M185 44h.9M191.5 44h.9M198 44h.9M204.5 44h.9M211 44h.9M217.5 44h.9M224 44h.9M230.5 44h.9M237 44h.9M243.5 44h.9M250 44h.9M256.5 44h.9M263 44h.9M269.5 44h.9M276 44h.9M282.5 44h.9M289 44h.9M295.5 44h.9M302 44h.9M308.5 44h.9M315 44h.9M321.5 44h.9M328 44h.9M334.5 44h.9M341 44h.9M347.5 44h.9M354 44h.9M360.5 44h.9M367 44h.9M373.5 44h.9M380 44h.9M386.5 44h.9M393 44h.9M399.5 44h.9M406 44h.9M412.5 44h.9M419 44h.9M425.5 44h.9M432 44h.9M438.5 44h.9M445 44h.9M451.5 44h.9M458 44h.9M464.5 44h.9M471 44h.9M477.5 44h.9M3 37.5h.9M9.5 37.5h.9M16 37.5h.9M22.5 37.5h.9M29 37.5h.9M35.5 37.5h.9M42 37.5h.9M48.5 37.5h.9M55 37.5h.9M61.5 37.5h.9M68 37.5h.9M74.5 37.5h.9M81 37.5h.9M87.5 37.5h.9M94 37.5h.9M100.5 37.5h.9M107 37.5h.9M113.5 37.5h.9M120 37.5h.9M126.5 37.5h.9M133 37.5h.9M139.5 37.5h.9M146 37.5h.9M152.5 37.5h.9M159 37.5h.9M165.5 37.5h.9M172 37.5h.9M178.5 37.5h.9M185 37.5h.9M191.5 37.5h.9M198 37.5h.9M204.5 37.5h.9M211 37.5h.9M217.5 37.5h.9M224 37.5h.9M230.5 37.5h.9M237 37.5h.9M243.5 37.5h.9M250 37.5h.9M256.5 37.5h.9M263 37.5h.9M269.5 37.5h.9M276 37.5h.9M282.5 37.5h.9M289 37.5h.9M295.5 37.5h.9M302 37.5h.9M308.5 37.5h.9M315 37.5h.9M321.5 37.5h.9M328 37.5h.9M334.5 37.5h.9M341 37.5h.9M347.5 37.5h.9M354 37.5h.9M360.5 37.5h.9M367 37.5h.9M373.5 37.5h.9M380 37.5h.9M386.5 37.5h.9M393 37.5h.9M399.5 37.5h.9M406 37.5h.9M412.5 37.5h.9M419 37.5h.9M425.5 37.5h.9M432 37.5h.9M438.5 37.5h.9M445 37.5h.9M451.5 37.5h.9M458 37.5h.9M464.5 37.5h.9M471 37.5h.9M477.5 37.5h.9M3 31h.9M9.5 31h.9M16 31h.9M22.5 31h.9M29 31h.9M35.5 31h.9M42 31h.9M48.5 31h.9M55 31h.9M61.5 31h.9M68 31h.9M74.5 31h.9M81 31h.9M87.5 31h.9M94 31h.9M100.5 31h.9M107 31h.9M113.5 31h.9M120 31h.9M126.5 31h.9M133 31h.9M139.5 31h.9M146 31h.9M152.5 31h.9M159 31h.9M165.5 31h.9M172 31h.9M178.5 31h.9M185 31h.9M191.5 31h.9M198 31h.9M204.5 31h.9M211 31h.9M217.5 31h.9M224 31h.9M230.5 31h.9M237 31h.9M243.5 31h.9M250 31h.9M256.5 31h.9M263 31h.9M269.5 31h.9M276 31h.9M282.5 31h.9M289 31h.9M295.5 31h.9M302 31h.9M308.5 31h.9M315 31h.9M321.5 31h.9M328 31h.9M334.5 31h.9M341 31h.9M347.5 31h.9M354 31h.9M360.5 31h.9M367 31h.9M373.5 31h.9M380 31h.9M386.5 31h.9M393 31h.9M399.5 31h.9M406 31h.9M412.5 31h.9M419 31h.9M425.5 31h.9M432 31h.9M438.5 31h.9M445 31h.9M451.5 31h.9M458 31h.9M464.5 31h.9M471 31h.9M477.5 31h.9M3 24.5h.9M9.5 24.5h.9M16 24.5h.9M22.5 24.5h.9M29 24.5h.9M35.5 24.5h.9M42 24.5h.9M48.5 24.5h.9M55 24.5h.9M61.5 24.5h.9M68 24.5h.9M74.5 24.5h.9M81 24.5h.9M87.5 24.5h.9M94 24.5h.9M100.5 24.5h.9M107 24.5h.9M113.5 24.5h.9M120 24.5h.9M126.5 24.5h.9M133 24.5h.9M139.5 24.5h.9M146 24.5h.9M152.5 24.5h.9M159 24.5h.9M165.5 24.5h.9M172 24.5h.9M178.5 24.5h.9M185 24.5h.9M191.5 24.5h.9M198 24.5h.9M204.5 24.5h.9M211 24.5h.9M217.5 24.5h.9M224 24.5h.9M230.5 24.5h.9M237 24.5h.9M243.5 24.5h.9M250 24.5h.9M256.5 24.5h.9M263 24.5h.9M269.5 24.5h.9M276 24.5h.9M282.5 24.5h.9M289 24.5h.9M295.5 24.5h.9M302 24.5h.9M308.5 24.5h.9M315 24.5h.9M321.5 24.5h.9M328 24.5h.9M334.5 24.5h.9M341 24.5h.9M347.5 24.5h.9M354 24.5h.9M360.5 24.5h.9M367 24.5h.9M373.5 24.5h.9M380 24.5h.9M386.5 24.5h.9M393 24.5h.9M399.5 24.5h.9M406 24.5h.9M412.5 24.5h.9M419 24.5h.9M425.5 24.5h.9M432 24.5h.9M438.5 24.5h.9M445 24.5h.9M451.5 24.5h.9M458 24.5h.9M464.5 24.5h.9M471 24.5h.9M477.5 24.5h.9M3 18h.9M9.5 18h.9M16 18h.9M22.5 18h.9M29 18h.9M35.5 18h.9M42 18h.9M48.5 18h.9M55 18h.9M61.5 18h.9M68 18h.9M74.5 18h.9M81 18h.9M87.5 18h.9M94 18h.9M100.5 18h.9M107 18h.9M113.5 18h.9M120 18h.9M126.5 18h.9M133 18h.9M139.5 18h.9M146 18h.9M152.5 18h.9M159 18h.9M165.5 18h.9M172 18h.9M178.5 18h.9M185 18h.9M191.5 18h.9M198 18h.9M204.5 18h.9M211 18h.9M217.5 18h.9M224 18h.9M230.5 18h.9M237 18h.9M243.5 18h.9M250 18h.9M256.5 18h.9M263 18h.9M269.5 18h.9M276 18h.9M282.5 18h.9M289 18h.9M295.5 18h.9M302 18h.9M308.5 18h.9M315 18h.9M321.5 18h.9M328 18h.9M334.5 18h.9M341 18h.9M347.5 18h.9M354 18h.9M360.5 18h.9M367 18h.9M373.5 18h.9M380 18h.9M386.5 18h.9M393 18h.9M399.5 18h.9M406 18h.9M412.5 18h.9M419 18h.9M425.5 18h.9M432 18h.9M438.5 18h.9M445 18h.9M451.5 18h.9M458 18h.9M464.5 18h.9M471 18h.9M477.5 18h.9M3 11.5h.9M9.5 11.5h.9M16 11.5h.9M22.5 11.5h.9M29 11.5h.9M35.5 11.5h.9M42 11.5h.9M48.5 11.5h.9M55 11.5h.9M61.5 11.5h.9M68 11.5h.9M74.5 11.5h.9M81 11.5h.9M87.5 11.5h.9M94 11.5h.9M100.5 11.5h.9M107 11.5h.9M113.5 11.5h.9M120 11.5h.9M126.5 11.5h.9M133 11.5h.9M139.5 11.5h.9M146 11.5h.9M152.5 11.5h.9M159 11.5h.9M165.5 11.5h.9M172 11.5h.9M178.5 11.5h.9M185 11.5h.9M191.5 11.5h.9M198 11.5h.9M204.5 11.5h.9M211 11.5h.9M217.5 11.5h.9M224 11.5h.9M230.5 11.5h.9M237 11.5h.9M243.5 11.5h.9M250 11.5h.9M256.5 11.5h.9M263 11.5h.9M269.5 11.5h.9M276 11.5h.9M282.5 11.5h.9M289 11.5h.9M295.5 11.5h.9M302 11.5h.9M308.5 11.5h.9M315 11.5h.9M321.5 11.5h.9M328 11.5h.9M334.5 11.5h.9M341 11.5h.9M347.5 11.5h.9M354 11.5h.9M360.5 11.5h.9M367 11.5h.9M373.5 11.5h.9M380 11.5h.9M386.5 11.5h.9M393 11.5h.9M399.5 11.5h.9M406 11.5h.9M412.5 11.5h.9M419 11.5h.9M425.5 11.5h.9M432 11.5h.9M438.5 11.5h.9M445 11.5h.9M451.5 11.5h.9M458 11.5h.9M464.5 11.5h.9M471 11.5h.9M477.5 11.5h.9M3 5h.9M9.5 5h.9M16 5h.9M22.5 5h.9M29 5h.9M35.5 5h.9M42 5h.9M48.5 5h.9M55 5h.9M61.5 5h.9M68 5h.9M74.5 5h.9M81 5h.9M87.5 5h.9M94 5h.9M100.5 5h.9M107 5h.9M113.5 5h.9M120 5h.9M126.5 5h.9M133 5h.9M139.5 5h.9M146 5h.9M152.5 5h.9M159 5h.9M165.5 5h.9M172 5h.9M178.5 5h.9M185 5h.9M191.5 5h.9M198 5h.9M204.5 5h.9M211 5h.9M217.5 5h.9M224 5h.9M230.5 5h.9M237 5h.9M243.5 5h.9M250 5h.9M256.5 5h.9M263 5h.9M269.5 5h.9M276 5h.9M282.5 5h.9M289 5h.9M295.5 5h.9M302 5h.9M308.5 5h.9M315 5h.9M321.5 5h.9M328 5h.9M334.5 5h.9M341 5h.9M347.5 5h.9M354 5h.9M360.5 5h.9M367 5h.9M373.5 5h.9M380 5h.9M386.5 5h.9M393 5h.9M399.5 5h.9M406 5h.9M412.5 5h.9M419 5h.9M425.5 5h.9M432 5h.9M438.5 5h.9M445 5h.9M451.5 5h.9M458 5h.9M464.5 5h.9M471 5h.9M477.5 5h.9" class="q2"/>
<path d="M0 238 L486.7 238" stroke="#e23a20" stroke-width="2.2" fill="none" stroke-dasharray="34 10"/>
<path d="M0 182 L486.7 175" stroke="#3a4aa8" stroke-width="2.8" stroke-dasharray="11 9" fill="none"/>
<path d="M0 268.5 V0 H486.7" stroke="#6e1530" stroke-width="2" fill="none"/>
</g>
<path d="M154.5 1753.8 V2049.5 L696.5 2099 L1538.7 1922.8 V1906.3" class="ax"/>
<path d="M154.5 1767.7 l16.5 -2.4M154.5 1857 l16.5 -2.4M154.5 1944.7 l16.5 -2.4M154.5 2035.4 l16.5 -2.4M275.4 2060.5 v-14.5M459 2077.3 v-14.5M641.5 2094 v-14.5M799.3 2077 v-15.5M1045.8 2025.4 v-15.5M1291.3 1974.8 v-15.5" class="ax"/>
<path d="M392.5 2024.3 L334 2047.4 L259.8 2041.5 L392.5 1937.1 L334 2047.4 L334 2047.4M392.5 1937.1 L392.5 2001.7M465.5 2031.4 L407 2054.5 L332.8 2048.6 L465.5 1944.2 L407 2054.5 L407 2054.5M465.5 1944.2 L465.5 2008.8M538.6 2038.5 L480.1 2061.6 L405.9 2055.7 L538.6 1951.3 L480.1 2061.6 L480.1 2061.6M538.6 1951.3 L538.6 2015.9M611.6 2045.6 L553.1 2068.7 L478.9 2062.8 L611.6 1958.4 L553.1 2068.7 L553.1 2068.7M611.6 1958.4 L611.6 2023M684.7 2052.7 L626.2 2075.8 L552 2069.9 L684.7 1965.5 L626.2 2075.8 L626.2 2075.8M684.7 1965.5 L684.7 2030.1M757.7 2059.8 L699.2 2082.9 L625 2077 L757.7 1972.6 L699.2 2082.9 L699.2 2082.9M757.7 1972.6 L757.7 2059.8" class="mv"/>
<path d="M259.8 2041.5 L392.5 2024.3M332.8 2048.6 L465.5 2031.4M405.9 2055.7 L538.6 2038.5M478.9 2062.8 L611.6 2045.6M552 2069.9 L684.7 2052.7M625 2077 L757.7 2059.8" class="md"/>
<path d="M392.5 2001.7 L392.5 2024.3M465.5 2008.8 L465.5 2031.4M538.6 2015.9 L538.6 2038.5M611.6 2023 L611.6 2045.6M684.7 2030.1 L684.7 2052.7" class="mh"/>
<text x="116.2" y="1786" font-size="50" text-anchor="middle">6</text>
<text x="116.2" y="1875.3" font-size="50" text-anchor="middle">4</text>
<text x="116.2" y="1963" font-size="50" text-anchor="middle">2</text>
<text x="116.2" y="2053.7" font-size="50" text-anchor="middle">0</text>
<text x="275" y="2125" font-size="50" text-anchor="middle">5</text>
<text x="459" y="2142.5" font-size="50" text-anchor="middle">0</text>
<text x="633.5" y="2161" font-size="50" text-anchor="middle">−5</text>
<text x="797.5" y="2145.6" font-size="50" text-anchor="middle">0</text>
<text x="1045" y="2094" font-size="50" text-anchor="middle">10</text>
<text x="1292.2" y="2042" font-size="50" text-anchor="middle">20</text>
<text x="1534.4" y="1990.5" font-size="50" text-anchor="middle">30</text>
<text x="1174.2" y="2136" font-size="50" font-style="italic" transform="rotate(-12 1174.2 2136)">x<tspan font-size="70" font-style="normal" dy="13" dx="-1">/</tspan><tspan dy="-13" dx="3">h</tspan><tspan font-size="34" font-style="normal" dy="9" dx="1">0</tspan></text>
<text x="356.4" y="2205" font-size="50" font-style="italic" transform="rotate(5 356.4 2205)">z<tspan font-size="70" font-style="normal" dy="13" dx="-1">/</tspan><tspan dy="-13" dx="3">h</tspan><tspan font-size="34" font-style="normal" dy="9" dx="1">0</tspan></text>
<text x="57.4" y="1943.4" font-size="50" font-style="italic" transform="rotate(-90 57.4 1943.4)">y<tspan font-size="70" font-style="normal" dy="13" dx="-1">/</tspan><tspan dy="-13" dx="3">h</tspan><tspan font-size="34" font-style="normal" dy="9" dx="1">0</tspan></text>
<rect x="264.2" y="1705.3" width="16.8" height="162.2" fill="url(#cb)"/>
<path d="M264.7 1705.3 V1867.5" stroke="#3c4a44" stroke-width="2" opacity=".8"/>
<text x="209" y="1747.8" font-size="50" text-anchor="middle">20</text>
<text x="209" y="1838" font-size="50" text-anchor="middle">10</text>
<text x="249.5" y="1692.5" font-size="50" text-anchor="start" font-style="italic">U</text>
<path d="M255 1641.6 H293.2" stroke="#111" stroke-width="1.6"/>
<text x="312" y="1654.1" font-size="38" text-anchor="middle">+</text>
<text y="2297.3" font-size="50"><tspan x="557.5" font-family='"Noto Serif CJK SC","Liberation Serif",serif' font-size="46">（</tspan><tspan x="611.5">c</tspan><tspan x="640" font-family='"Noto Serif CJK SC","Liberation Serif",serif' font-size="46">）</tspan><tspan x="685.8" textLength="120.6" lengthAdjust="spacingAndGlyphs" font-size="54">MVG</tspan><tspan x="812" dy="8" font-size="30" font-style="italic">h</tspan><tspan x="844.5" dy="-7" font-family='"Noto Serif CJK SC","Liberation Serif",serif' font-size="50">阵列</tspan></text>
</g>
</svg>
</body></html>
